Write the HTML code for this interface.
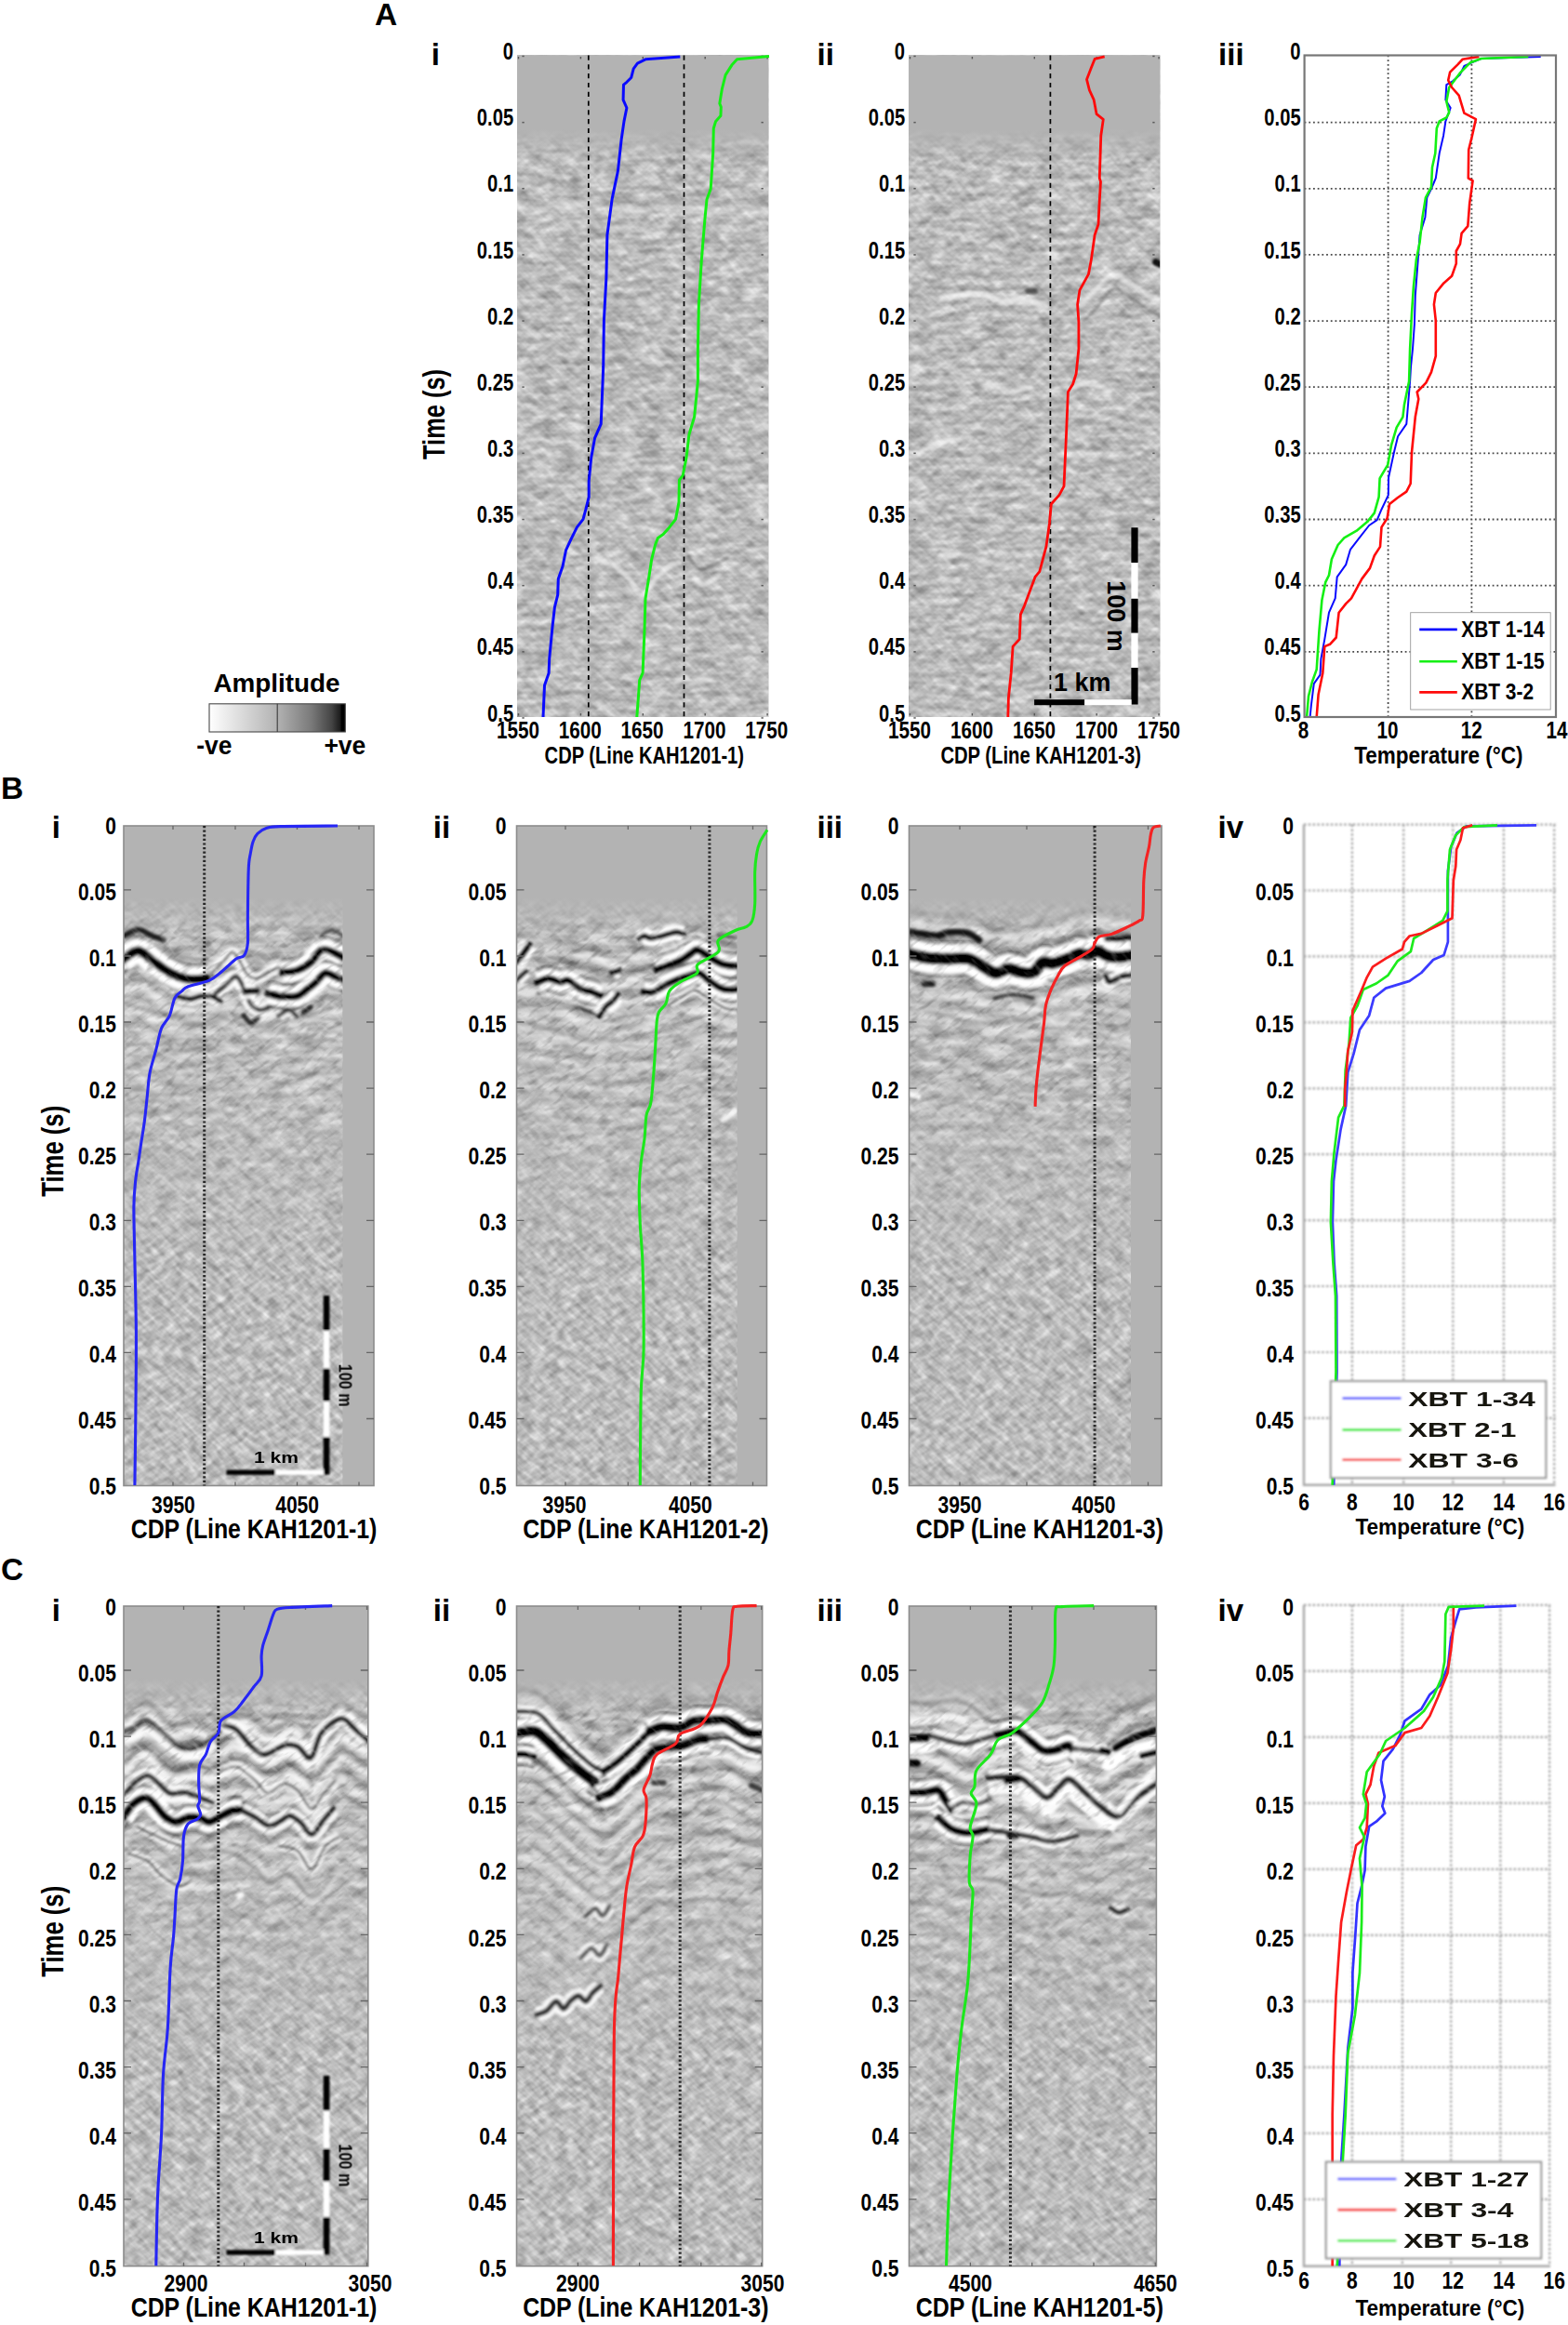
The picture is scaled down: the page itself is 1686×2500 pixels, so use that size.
<!DOCTYPE html>
<html><head><meta charset="utf-8"><title>Figure</title>
<style>
html,body{margin:0;padding:0;background:#fff;}
body{width:1686px;height:2500px;overflow:hidden;}
svg{display:block;font-family:'Liberation Sans', Arial, Helvetica, sans-serif;font-weight:bold;}
</style></head><body>
<svg width="1686" height="2500" viewBox="0 0 1686 2500">
<rect width="1686" height="2500" fill="#fff"/>
<defs>
<filter id="bl08" x="-5%" y="-5%" width="110%" height="110%"><feGaussianBlur stdDeviation="0.8"/></filter>
<filter id="bl12" x="-5%" y="-5%" width="110%" height="110%"><feGaussianBlur stdDeviation="1.2"/></filter>
<filter id="bl16" x="-5%" y="-5%" width="110%" height="110%"><feGaussianBlur stdDeviation="1.6"/></filter>
<filter id="bl25" x="-5%" y="-5%" width="110%" height="110%"><feGaussianBlur stdDeviation="2.5"/></filter>
<filter id="blc" filterUnits="userSpaceOnUse" x="0" y="0" width="1686" height="2500"><feGaussianBlur stdDeviation="0.7"/></filter>
<filter id="bl05" filterUnits="userSpaceOnUse" x="1380" y="860" width="306" height="1600"><feGaussianBlur stdDeviation="0.55"/></filter>
<filter id="bltxt" x="-5%" y="-20%" width="110%" height="140%"><feGaussianBlur stdDeviation="0.6"/></filter>
<linearGradient id="amp" x1="0" x2="1" y1="0" y2="0">
<stop offset="0" stop-color="#fff"/><stop offset="0.5" stop-color="#b2b2b2"/><stop offset="0.75" stop-color="#7a7a7a"/><stop offset="0.9" stop-color="#444"/><stop offset="0.965" stop-color="#1a1a1a"/><stop offset="0.97" stop-color="#000"/><stop offset="1" stop-color="#000"/>
</linearGradient>
<linearGradient id="fadeA" x1="0" x2="0" y1="0" y2="1">
<stop offset="0" stop-color="#b3b3b3" stop-opacity="1"/><stop offset="0.70" stop-color="#b3b3b3" stop-opacity="1"/><stop offset="1" stop-color="#b3b3b3" stop-opacity="0"/>
</linearGradient>
<linearGradient id="deep" x1="0" x2="0" y1="0" y2="1">
<stop offset="0" stop-color="#bababa" stop-opacity="0"/><stop offset="1" stop-color="#bababa" stop-opacity="0.45"/>
</linearGradient>

<filter id="nhAi" x="0" y="0" width="100%" height="100%" color-interpolation-filters="sRGB"><feTurbulence type="fractalNoise" baseFrequency="0.035 0.14" numOctaves="2" seed="10"/><feColorMatrix type="matrix" values="1.0 0 0 0 0.235  1.0 0 0 0 0.235  1.0 0 0 0 0.235  0 0 0 0 1"/></filter>
<filter id="n1Ai" x="0" y="0" width="100%" height="100%" color-interpolation-filters="sRGB"><feTurbulence type="fractalNoise" baseFrequency="0.07 0.17" numOctaves="2" seed="3"/><feColorMatrix type="matrix" values="0.68 0 0 0 0.395  0.68 0 0 0 0.395  0.68 0 0 0 0.395  0 0 0 0 1"/></filter>
<filter id="n2Ai" x="0" y="0" width="100%" height="100%" color-interpolation-filters="sRGB"><feTurbulence type="fractalNoise" baseFrequency="0.05 0.19" numOctaves="2" seed="53"/><feColorMatrix type="matrix" values="0.68 0 0 0 0.395  0.68 0 0 0 0.395  0.68 0 0 0 0.395  0 0 0 0 1"/></filter>
<clipPath id="cpAi"><rect x="556.0" y="59.5" width="270.2" height="711.5"/></clipPath>
<clipPath id="cfAi"><rect x="556.0" y="59.5" width="270.2" height="711.5"/></clipPath>
<filter id="bl08Ai" filterUnits="userSpaceOnUse" x="546.0" y="49.5" width="290.2" height="731.5"><feGaussianBlur stdDeviation="0.8"/></filter>
<filter id="bl12Ai" filterUnits="userSpaceOnUse" x="546.0" y="49.5" width="290.2" height="731.5"><feGaussianBlur stdDeviation="1.2"/></filter>
<filter id="bl16Ai" filterUnits="userSpaceOnUse" x="546.0" y="49.5" width="290.2" height="731.5"><feGaussianBlur stdDeviation="1.35"/></filter>
<filter id="bl20Ai" filterUnits="userSpaceOnUse" x="546.0" y="49.5" width="290.2" height="731.5"><feGaussianBlur stdDeviation="2.0"/></filter>
<filter id="bl25Ai" filterUnits="userSpaceOnUse" x="546.0" y="49.5" width="290.2" height="731.5"><feGaussianBlur stdDeviation="2.6"/></filter>
<linearGradient id="dgAi" gradientUnits="userSpaceOnUse" x1="0" x2="0" y1="259.7" y2="487.4"><stop offset="0" stop-color="#bbb" stop-opacity="0"/><stop offset="1" stop-color="#bbb" stop-opacity="0.55"/></linearGradient>
<filter id="nhAii" x="0" y="0" width="100%" height="100%" color-interpolation-filters="sRGB"><feTurbulence type="fractalNoise" baseFrequency="0.035 0.14" numOctaves="2" seed="18"/><feColorMatrix type="matrix" values="1.0 0 0 0 0.235  1.0 0 0 0 0.235  1.0 0 0 0 0.235  0 0 0 0 1"/></filter>
<filter id="n1Aii" x="0" y="0" width="100%" height="100%" color-interpolation-filters="sRGB"><feTurbulence type="fractalNoise" baseFrequency="0.07 0.17" numOctaves="2" seed="11"/><feColorMatrix type="matrix" values="0.68 0 0 0 0.395  0.68 0 0 0 0.395  0.68 0 0 0 0.395  0 0 0 0 1"/></filter>
<filter id="n2Aii" x="0" y="0" width="100%" height="100%" color-interpolation-filters="sRGB"><feTurbulence type="fractalNoise" baseFrequency="0.05 0.19" numOctaves="2" seed="61"/><feColorMatrix type="matrix" values="0.68 0 0 0 0.395  0.68 0 0 0 0.395  0.68 0 0 0 0.395  0 0 0 0 1"/></filter>
<clipPath id="cpAii"><rect x="977.0" y="59.5" width="270.2" height="711.5"/></clipPath>
<clipPath id="cfAii"><rect x="977.0" y="59.5" width="270.2" height="711.5"/></clipPath>
<filter id="bl08Aii" filterUnits="userSpaceOnUse" x="967.0" y="49.5" width="290.2" height="731.5"><feGaussianBlur stdDeviation="0.8"/></filter>
<filter id="bl12Aii" filterUnits="userSpaceOnUse" x="967.0" y="49.5" width="290.2" height="731.5"><feGaussianBlur stdDeviation="1.2"/></filter>
<filter id="bl16Aii" filterUnits="userSpaceOnUse" x="967.0" y="49.5" width="290.2" height="731.5"><feGaussianBlur stdDeviation="1.35"/></filter>
<filter id="bl20Aii" filterUnits="userSpaceOnUse" x="967.0" y="49.5" width="290.2" height="731.5"><feGaussianBlur stdDeviation="2.0"/></filter>
<filter id="bl25Aii" filterUnits="userSpaceOnUse" x="967.0" y="49.5" width="290.2" height="731.5"><feGaussianBlur stdDeviation="2.6"/></filter>
<linearGradient id="dgAii" gradientUnits="userSpaceOnUse" x1="0" x2="0" y1="259.7" y2="487.4"><stop offset="0" stop-color="#bbb" stop-opacity="0"/><stop offset="1" stop-color="#bbb" stop-opacity="0.55"/></linearGradient>
<filter id="sdBi" x="0" y="0" width="100%" height="100%" color-interpolation-filters="sRGB"><feTurbulence type="fractalNoise" baseFrequency="0.06 0.18" numOctaves="2" seed="26"/><feColorMatrix type="matrix" values="0 0 0 0 0  0 0 0 0 0  0 0 0 0 0  -0.9 0 0 0 0.450"/></filter>
<filter id="swBi" x="0" y="0" width="100%" height="100%" color-interpolation-filters="sRGB"><feTurbulence type="fractalNoise" baseFrequency="0.06 0.18" numOctaves="2" seed="38"/><feColorMatrix type="matrix" values="0 0 0 0 1  0 0 0 0 1  0 0 0 0 1  0.9 0 0 0 -0.450"/></filter>
<filter id="nhBi" x="0" y="0" width="100%" height="100%" color-interpolation-filters="sRGB"><feTurbulence type="fractalNoise" baseFrequency="0.035 0.12" numOctaves="2" seed="12"/><feColorMatrix type="matrix" values="0.6 0 0 0 0.445  0.6 0 0 0 0.445  0.6 0 0 0 0.445  0 0 0 0 1"/></filter>
<linearGradient id="mgBi" gradientUnits="userSpaceOnUse" x1="0" x2="0" y1="971.1" y2="1369.1"><stop offset="0" stop-color="#000"/><stop offset="0.1" stop-color="#ccc"/><stop offset="0.45" stop-color="#aaa"/><stop offset="1" stop-color="#000"/></linearGradient>
<mask id="mkBi" maskUnits="userSpaceOnUse" x="133.0" y="888.0" width="269.0" height="709.5"><rect x="133.0" y="971.1" width="269.0" height="398.0" fill="url(#mgBi)"/></mask>
<filter id="n1Bi" x="0" y="0" width="100%" height="100%" color-interpolation-filters="sRGB"><feTurbulence type="fractalNoise" baseFrequency="0.07 0.17" numOctaves="2" seed="5"/><feColorMatrix type="matrix" values="0.62 0 0 0 0.425  0.62 0 0 0 0.425  0.62 0 0 0 0.425  0 0 0 0 1"/></filter>
<filter id="n2Bi" x="0" y="0" width="100%" height="100%" color-interpolation-filters="sRGB"><feTurbulence type="fractalNoise" baseFrequency="0.05 0.19" numOctaves="2" seed="55"/><feColorMatrix type="matrix" values="0.62 0 0 0 0.425  0.62 0 0 0 0.425  0.62 0 0 0 0.425  0 0 0 0 1"/></filter>
<clipPath id="cpBi"><rect x="133.0" y="888.0" width="235.3" height="709.5"/></clipPath>
<clipPath id="cfBi"><rect x="133.0" y="888.0" width="269.0" height="709.5"/></clipPath>
<filter id="bl08Bi" filterUnits="userSpaceOnUse" x="123.0" y="878.0" width="289.0" height="729.5"><feGaussianBlur stdDeviation="0.8"/></filter>
<filter id="bl12Bi" filterUnits="userSpaceOnUse" x="123.0" y="878.0" width="289.0" height="729.5"><feGaussianBlur stdDeviation="1.2"/></filter>
<filter id="bl16Bi" filterUnits="userSpaceOnUse" x="123.0" y="878.0" width="289.0" height="729.5"><feGaussianBlur stdDeviation="1.35"/></filter>
<filter id="bl20Bi" filterUnits="userSpaceOnUse" x="123.0" y="878.0" width="289.0" height="729.5"><feGaussianBlur stdDeviation="2.0"/></filter>
<filter id="bl25Bi" filterUnits="userSpaceOnUse" x="123.0" y="878.0" width="289.0" height="729.5"><feGaussianBlur stdDeviation="2.6"/></filter>
<linearGradient id="dgBi" gradientUnits="userSpaceOnUse" x1="0" x2="0" y1="1084.8" y2="1312.3"><stop offset="0" stop-color="#bbb" stop-opacity="0"/><stop offset="1" stop-color="#bbb" stop-opacity="0.55"/></linearGradient>
<filter id="sdBii" x="0" y="0" width="100%" height="100%" color-interpolation-filters="sRGB"><feTurbulence type="fractalNoise" baseFrequency="0.06 0.18" numOctaves="2" seed="28"/><feColorMatrix type="matrix" values="0 0 0 0 0  0 0 0 0 0  0 0 0 0 0  -0.9 0 0 0 0.450"/></filter>
<filter id="swBii" x="0" y="0" width="100%" height="100%" color-interpolation-filters="sRGB"><feTurbulence type="fractalNoise" baseFrequency="0.06 0.18" numOctaves="2" seed="40"/><feColorMatrix type="matrix" values="0 0 0 0 1  0 0 0 0 1  0 0 0 0 1  0.9 0 0 0 -0.450"/></filter>
<filter id="nhBii" x="0" y="0" width="100%" height="100%" color-interpolation-filters="sRGB"><feTurbulence type="fractalNoise" baseFrequency="0.035 0.12" numOctaves="2" seed="14"/><feColorMatrix type="matrix" values="0.6 0 0 0 0.445  0.6 0 0 0 0.445  0.6 0 0 0 0.445  0 0 0 0 1"/></filter>
<linearGradient id="mgBii" gradientUnits="userSpaceOnUse" x1="0" x2="0" y1="971.1" y2="1369.1"><stop offset="0" stop-color="#000"/><stop offset="0.1" stop-color="#ccc"/><stop offset="0.45" stop-color="#aaa"/><stop offset="1" stop-color="#000"/></linearGradient>
<mask id="mkBii" maskUnits="userSpaceOnUse" x="555.5" y="888.0" width="269.0" height="709.5"><rect x="555.5" y="971.1" width="269.0" height="398.0" fill="url(#mgBii)"/></mask>
<filter id="n1Bii" x="0" y="0" width="100%" height="100%" color-interpolation-filters="sRGB"><feTurbulence type="fractalNoise" baseFrequency="0.07 0.17" numOctaves="2" seed="7"/><feColorMatrix type="matrix" values="0.62 0 0 0 0.425  0.62 0 0 0 0.425  0.62 0 0 0 0.425  0 0 0 0 1"/></filter>
<filter id="n2Bii" x="0" y="0" width="100%" height="100%" color-interpolation-filters="sRGB"><feTurbulence type="fractalNoise" baseFrequency="0.05 0.19" numOctaves="2" seed="57"/><feColorMatrix type="matrix" values="0.62 0 0 0 0.425  0.62 0 0 0 0.425  0.62 0 0 0 0.425  0 0 0 0 1"/></filter>
<clipPath id="cpBii"><rect x="555.5" y="888.0" width="237.0" height="709.5"/></clipPath>
<clipPath id="cfBii"><rect x="555.5" y="888.0" width="269.0" height="709.5"/></clipPath>
<filter id="bl08Bii" filterUnits="userSpaceOnUse" x="545.5" y="878.0" width="289.0" height="729.5"><feGaussianBlur stdDeviation="0.8"/></filter>
<filter id="bl12Bii" filterUnits="userSpaceOnUse" x="545.5" y="878.0" width="289.0" height="729.5"><feGaussianBlur stdDeviation="1.2"/></filter>
<filter id="bl16Bii" filterUnits="userSpaceOnUse" x="545.5" y="878.0" width="289.0" height="729.5"><feGaussianBlur stdDeviation="1.35"/></filter>
<filter id="bl20Bii" filterUnits="userSpaceOnUse" x="545.5" y="878.0" width="289.0" height="729.5"><feGaussianBlur stdDeviation="2.0"/></filter>
<filter id="bl25Bii" filterUnits="userSpaceOnUse" x="545.5" y="878.0" width="289.0" height="729.5"><feGaussianBlur stdDeviation="2.6"/></filter>
<linearGradient id="dgBii" gradientUnits="userSpaceOnUse" x1="0" x2="0" y1="1084.8" y2="1312.3"><stop offset="0" stop-color="#bbb" stop-opacity="0"/><stop offset="1" stop-color="#bbb" stop-opacity="0.55"/></linearGradient>
<filter id="sdBiii" x="0" y="0" width="100%" height="100%" color-interpolation-filters="sRGB"><feTurbulence type="fractalNoise" baseFrequency="0.06 0.18" numOctaves="2" seed="30"/><feColorMatrix type="matrix" values="0 0 0 0 0  0 0 0 0 0  0 0 0 0 0  -0.9 0 0 0 0.450"/></filter>
<filter id="swBiii" x="0" y="0" width="100%" height="100%" color-interpolation-filters="sRGB"><feTurbulence type="fractalNoise" baseFrequency="0.06 0.18" numOctaves="2" seed="42"/><feColorMatrix type="matrix" values="0 0 0 0 1  0 0 0 0 1  0 0 0 0 1  0.9 0 0 0 -0.450"/></filter>
<filter id="nhBiii" x="0" y="0" width="100%" height="100%" color-interpolation-filters="sRGB"><feTurbulence type="fractalNoise" baseFrequency="0.035 0.12" numOctaves="2" seed="16"/><feColorMatrix type="matrix" values="0.6 0 0 0 0.445  0.6 0 0 0 0.445  0.6 0 0 0 0.445  0 0 0 0 1"/></filter>
<linearGradient id="mgBiii" gradientUnits="userSpaceOnUse" x1="0" x2="0" y1="971.1" y2="1369.1"><stop offset="0" stop-color="#000"/><stop offset="0.1" stop-color="#ccc"/><stop offset="0.45" stop-color="#aaa"/><stop offset="1" stop-color="#000"/></linearGradient>
<mask id="mkBiii" maskUnits="userSpaceOnUse" x="977.5" y="888.0" width="271.5" height="709.5"><rect x="977.5" y="971.1" width="271.5" height="398.0" fill="url(#mgBiii)"/></mask>
<filter id="n1Biii" x="0" y="0" width="100%" height="100%" color-interpolation-filters="sRGB"><feTurbulence type="fractalNoise" baseFrequency="0.07 0.17" numOctaves="2" seed="9"/><feColorMatrix type="matrix" values="0.62 0 0 0 0.425  0.62 0 0 0 0.425  0.62 0 0 0 0.425  0 0 0 0 1"/></filter>
<filter id="n2Biii" x="0" y="0" width="100%" height="100%" color-interpolation-filters="sRGB"><feTurbulence type="fractalNoise" baseFrequency="0.05 0.19" numOctaves="2" seed="59"/><feColorMatrix type="matrix" values="0.62 0 0 0 0.425  0.62 0 0 0 0.425  0.62 0 0 0 0.425  0 0 0 0 1"/></filter>
<clipPath id="cpBiii"><rect x="977.5" y="888.0" width="238.5" height="709.5"/></clipPath>
<clipPath id="cfBiii"><rect x="977.5" y="888.0" width="271.5" height="709.5"/></clipPath>
<filter id="bl08Biii" filterUnits="userSpaceOnUse" x="967.5" y="878.0" width="291.5" height="729.5"><feGaussianBlur stdDeviation="0.8"/></filter>
<filter id="bl12Biii" filterUnits="userSpaceOnUse" x="967.5" y="878.0" width="291.5" height="729.5"><feGaussianBlur stdDeviation="1.2"/></filter>
<filter id="bl16Biii" filterUnits="userSpaceOnUse" x="967.5" y="878.0" width="291.5" height="729.5"><feGaussianBlur stdDeviation="1.35"/></filter>
<filter id="bl20Biii" filterUnits="userSpaceOnUse" x="967.5" y="878.0" width="291.5" height="729.5"><feGaussianBlur stdDeviation="2.0"/></filter>
<filter id="bl25Biii" filterUnits="userSpaceOnUse" x="967.5" y="878.0" width="291.5" height="729.5"><feGaussianBlur stdDeviation="2.6"/></filter>
<linearGradient id="dgBiii" gradientUnits="userSpaceOnUse" x1="0" x2="0" y1="1084.8" y2="1312.3"><stop offset="0" stop-color="#bbb" stop-opacity="0"/><stop offset="1" stop-color="#bbb" stop-opacity="0.55"/></linearGradient>
<filter id="sdCi" x="0" y="0" width="100%" height="100%" color-interpolation-filters="sRGB"><feTurbulence type="fractalNoise" baseFrequency="0.06 0.18" numOctaves="2" seed="34"/><feColorMatrix type="matrix" values="0 0 0 0 0  0 0 0 0 0  0 0 0 0 0  -0.9 0 0 0 0.450"/></filter>
<filter id="swCi" x="0" y="0" width="100%" height="100%" color-interpolation-filters="sRGB"><feTurbulence type="fractalNoise" baseFrequency="0.06 0.18" numOctaves="2" seed="46"/><feColorMatrix type="matrix" values="0 0 0 0 1  0 0 0 0 1  0 0 0 0 1  0.9 0 0 0 -0.450"/></filter>
<filter id="nhCi" x="0" y="0" width="100%" height="100%" color-interpolation-filters="sRGB"><feTurbulence type="fractalNoise" baseFrequency="0.035 0.12" numOctaves="2" seed="20"/><feColorMatrix type="matrix" values="0.6 0 0 0 0.445  0.6 0 0 0 0.445  0.6 0 0 0 0.445  0 0 0 0 1"/></filter>
<linearGradient id="mgCi" gradientUnits="userSpaceOnUse" x1="0" x2="0" y1="1810.2" y2="2208.4"><stop offset="0" stop-color="#000"/><stop offset="0.1" stop-color="#ccc"/><stop offset="0.45" stop-color="#aaa"/><stop offset="1" stop-color="#000"/></linearGradient>
<mask id="mkCi" maskUnits="userSpaceOnUse" x="133.0" y="1727.0" width="262.8" height="709.7"><rect x="133.0" y="1810.2" width="262.8" height="398.2" fill="url(#mgCi)"/></mask>
<filter id="n1Ci" x="0" y="0" width="100%" height="100%" color-interpolation-filters="sRGB"><feTurbulence type="fractalNoise" baseFrequency="0.07 0.17" numOctaves="2" seed="13"/><feColorMatrix type="matrix" values="0.62 0 0 0 0.425  0.62 0 0 0 0.425  0.62 0 0 0 0.425  0 0 0 0 1"/></filter>
<filter id="n2Ci" x="0" y="0" width="100%" height="100%" color-interpolation-filters="sRGB"><feTurbulence type="fractalNoise" baseFrequency="0.05 0.19" numOctaves="2" seed="63"/><feColorMatrix type="matrix" values="0.62 0 0 0 0.425  0.62 0 0 0 0.425  0.62 0 0 0 0.425  0 0 0 0 1"/></filter>
<clipPath id="cpCi"><rect x="133.0" y="1727.0" width="262.8" height="709.7"/></clipPath>
<clipPath id="cfCi"><rect x="133.0" y="1727.0" width="262.8" height="709.7"/></clipPath>
<filter id="bl08Ci" filterUnits="userSpaceOnUse" x="123.0" y="1717.0" width="282.8" height="729.7"><feGaussianBlur stdDeviation="0.8"/></filter>
<filter id="bl12Ci" filterUnits="userSpaceOnUse" x="123.0" y="1717.0" width="282.8" height="729.7"><feGaussianBlur stdDeviation="1.2"/></filter>
<filter id="bl16Ci" filterUnits="userSpaceOnUse" x="123.0" y="1717.0" width="282.8" height="729.7"><feGaussianBlur stdDeviation="1.35"/></filter>
<filter id="bl20Ci" filterUnits="userSpaceOnUse" x="123.0" y="1717.0" width="282.8" height="729.7"><feGaussianBlur stdDeviation="2.0"/></filter>
<filter id="bl25Ci" filterUnits="userSpaceOnUse" x="123.0" y="1717.0" width="282.8" height="729.7"><feGaussianBlur stdDeviation="2.6"/></filter>
<linearGradient id="dgCi" gradientUnits="userSpaceOnUse" x1="0" x2="0" y1="1924.0" y2="2151.5"><stop offset="0" stop-color="#bbb" stop-opacity="0"/><stop offset="1" stop-color="#bbb" stop-opacity="0.55"/></linearGradient>
<filter id="sdCii" x="0" y="0" width="100%" height="100%" color-interpolation-filters="sRGB"><feTurbulence type="fractalNoise" baseFrequency="0.06 0.18" numOctaves="2" seed="38"/><feColorMatrix type="matrix" values="0 0 0 0 0  0 0 0 0 0  0 0 0 0 0  -0.9 0 0 0 0.450"/></filter>
<filter id="swCii" x="0" y="0" width="100%" height="100%" color-interpolation-filters="sRGB"><feTurbulence type="fractalNoise" baseFrequency="0.06 0.18" numOctaves="2" seed="50"/><feColorMatrix type="matrix" values="0 0 0 0 1  0 0 0 0 1  0 0 0 0 1  0.9 0 0 0 -0.450"/></filter>
<filter id="nhCii" x="0" y="0" width="100%" height="100%" color-interpolation-filters="sRGB"><feTurbulence type="fractalNoise" baseFrequency="0.035 0.12" numOctaves="2" seed="24"/><feColorMatrix type="matrix" values="0.6 0 0 0 0.445  0.6 0 0 0 0.445  0.6 0 0 0 0.445  0 0 0 0 1"/></filter>
<linearGradient id="mgCii" gradientUnits="userSpaceOnUse" x1="0" x2="0" y1="1810.2" y2="2208.4"><stop offset="0" stop-color="#000"/><stop offset="0.1" stop-color="#ccc"/><stop offset="0.45" stop-color="#aaa"/><stop offset="1" stop-color="#000"/></linearGradient>
<mask id="mkCii" maskUnits="userSpaceOnUse" x="555.5" y="1727.0" width="264.2" height="709.7"><rect x="555.5" y="1810.2" width="264.2" height="398.2" fill="url(#mgCii)"/></mask>
<filter id="n1Cii" x="0" y="0" width="100%" height="100%" color-interpolation-filters="sRGB"><feTurbulence type="fractalNoise" baseFrequency="0.07 0.17" numOctaves="2" seed="17"/><feColorMatrix type="matrix" values="0.62 0 0 0 0.425  0.62 0 0 0 0.425  0.62 0 0 0 0.425  0 0 0 0 1"/></filter>
<filter id="n2Cii" x="0" y="0" width="100%" height="100%" color-interpolation-filters="sRGB"><feTurbulence type="fractalNoise" baseFrequency="0.05 0.19" numOctaves="2" seed="67"/><feColorMatrix type="matrix" values="0.62 0 0 0 0.425  0.62 0 0 0 0.425  0.62 0 0 0 0.425  0 0 0 0 1"/></filter>
<clipPath id="cpCii"><rect x="555.5" y="1727.0" width="264.2" height="709.7"/></clipPath>
<clipPath id="cfCii"><rect x="555.5" y="1727.0" width="264.2" height="709.7"/></clipPath>
<filter id="bl08Cii" filterUnits="userSpaceOnUse" x="545.5" y="1717.0" width="284.2" height="729.7"><feGaussianBlur stdDeviation="0.8"/></filter>
<filter id="bl12Cii" filterUnits="userSpaceOnUse" x="545.5" y="1717.0" width="284.2" height="729.7"><feGaussianBlur stdDeviation="1.2"/></filter>
<filter id="bl16Cii" filterUnits="userSpaceOnUse" x="545.5" y="1717.0" width="284.2" height="729.7"><feGaussianBlur stdDeviation="1.35"/></filter>
<filter id="bl20Cii" filterUnits="userSpaceOnUse" x="545.5" y="1717.0" width="284.2" height="729.7"><feGaussianBlur stdDeviation="2.0"/></filter>
<filter id="bl25Cii" filterUnits="userSpaceOnUse" x="545.5" y="1717.0" width="284.2" height="729.7"><feGaussianBlur stdDeviation="2.6"/></filter>
<linearGradient id="dgCii" gradientUnits="userSpaceOnUse" x1="0" x2="0" y1="1924.0" y2="2151.5"><stop offset="0" stop-color="#bbb" stop-opacity="0"/><stop offset="1" stop-color="#bbb" stop-opacity="0.55"/></linearGradient>
<filter id="sdCiii" x="0" y="0" width="100%" height="100%" color-interpolation-filters="sRGB"><feTurbulence type="fractalNoise" baseFrequency="0.06 0.18" numOctaves="2" seed="40"/><feColorMatrix type="matrix" values="0 0 0 0 0  0 0 0 0 0  0 0 0 0 0  -0.9 0 0 0 0.450"/></filter>
<filter id="swCiii" x="0" y="0" width="100%" height="100%" color-interpolation-filters="sRGB"><feTurbulence type="fractalNoise" baseFrequency="0.06 0.18" numOctaves="2" seed="52"/><feColorMatrix type="matrix" values="0 0 0 0 1  0 0 0 0 1  0 0 0 0 1  0.9 0 0 0 -0.450"/></filter>
<filter id="nhCiii" x="0" y="0" width="100%" height="100%" color-interpolation-filters="sRGB"><feTurbulence type="fractalNoise" baseFrequency="0.035 0.12" numOctaves="2" seed="26"/><feColorMatrix type="matrix" values="0.6 0 0 0 0.445  0.6 0 0 0 0.445  0.6 0 0 0 0.445  0 0 0 0 1"/></filter>
<linearGradient id="mgCiii" gradientUnits="userSpaceOnUse" x1="0" x2="0" y1="1810.2" y2="2208.4"><stop offset="0" stop-color="#000"/><stop offset="0.1" stop-color="#ccc"/><stop offset="0.45" stop-color="#aaa"/><stop offset="1" stop-color="#000"/></linearGradient>
<mask id="mkCiii" maskUnits="userSpaceOnUse" x="977.5" y="1727.0" width="265.9" height="709.7"><rect x="977.5" y="1810.2" width="265.9" height="398.2" fill="url(#mgCiii)"/></mask>
<filter id="n1Ciii" x="0" y="0" width="100%" height="100%" color-interpolation-filters="sRGB"><feTurbulence type="fractalNoise" baseFrequency="0.07 0.17" numOctaves="2" seed="19"/><feColorMatrix type="matrix" values="0.62 0 0 0 0.425  0.62 0 0 0 0.425  0.62 0 0 0 0.425  0 0 0 0 1"/></filter>
<filter id="n2Ciii" x="0" y="0" width="100%" height="100%" color-interpolation-filters="sRGB"><feTurbulence type="fractalNoise" baseFrequency="0.05 0.19" numOctaves="2" seed="69"/><feColorMatrix type="matrix" values="0.62 0 0 0 0.425  0.62 0 0 0 0.425  0.62 0 0 0 0.425  0 0 0 0 1"/></filter>
<clipPath id="cpCiii"><rect x="977.5" y="1727.0" width="265.9" height="709.7"/></clipPath>
<clipPath id="cfCiii"><rect x="977.5" y="1727.0" width="265.9" height="709.7"/></clipPath>
<filter id="bl08Ciii" filterUnits="userSpaceOnUse" x="967.5" y="1717.0" width="285.9" height="729.7"><feGaussianBlur stdDeviation="0.8"/></filter>
<filter id="bl12Ciii" filterUnits="userSpaceOnUse" x="967.5" y="1717.0" width="285.9" height="729.7"><feGaussianBlur stdDeviation="1.2"/></filter>
<filter id="bl16Ciii" filterUnits="userSpaceOnUse" x="967.5" y="1717.0" width="285.9" height="729.7"><feGaussianBlur stdDeviation="1.35"/></filter>
<filter id="bl20Ciii" filterUnits="userSpaceOnUse" x="967.5" y="1717.0" width="285.9" height="729.7"><feGaussianBlur stdDeviation="2.0"/></filter>
<filter id="bl25Ciii" filterUnits="userSpaceOnUse" x="967.5" y="1717.0" width="285.9" height="729.7"><feGaussianBlur stdDeviation="2.6"/></filter>
<linearGradient id="dgCiii" gradientUnits="userSpaceOnUse" x1="0" x2="0" y1="1924.0" y2="2151.5"><stop offset="0" stop-color="#bbb" stop-opacity="0"/><stop offset="1" stop-color="#bbb" stop-opacity="0.55"/></linearGradient>
</defs>
<g id="panel-Ai">
<rect x="556.0" y="59.5" width="270.2" height="711.5" fill="#b3b3b3"/>
<g clip-path="url(#cpAi)">
<rect x="556.0" y="59.5" width="270.2" height="711.5" fill="#b9b9b9"/>
<g transform="rotate(-35 691.1 415.2)"><rect x="300.6" y="24.7" width="781.1" height="781.1" filter="url(#n1Ai)"/></g>
<g transform="rotate(43 691.1 415.2)" opacity="0.5"><rect x="300.6" y="24.7" width="781.1" height="781.1" filter="url(#n2Ai)"/></g>
<rect x="556.0" y="59.5" width="270.2" height="711.5" filter="url(#nhAi)" opacity="0.35"/>
<g filter="url(#bl25Ai)">
<path d="M556.0,215.0 C559.2,215.7 567.7,219.0 575.0,219.0 C582.3,219.0 589.2,215.3 600.0,215.0 C610.8,214.7 626.7,216.0 640.0,217.0 C653.3,218.0 666.7,221.3 680.0,221.0 C693.3,220.7 706.7,215.0 720.0,215.0 C733.3,215.0 748.3,220.7 760.0,221.0 C771.7,221.3 778.8,217.3 790.0,217.0 C801.2,216.7 820.8,218.7 827.0,219.0" fill="none" stroke="#000" stroke-opacity="0.14" stroke-width="6.0" stroke-linejoin="round" stroke-linecap="round"/>
<path d="M556.0,222.0 C559.2,222.7 567.7,226.0 575.0,226.0 C582.3,226.0 589.2,222.3 600.0,222.0 C610.8,221.7 626.7,223.0 640.0,224.0 C653.3,225.0 666.7,228.3 680.0,228.0 C693.3,227.7 706.7,222.0 720.0,222.0 C733.3,222.0 748.3,227.7 760.0,228.0 C771.7,228.3 778.8,224.3 790.0,224.0 C801.2,223.7 820.8,225.7 827.0,226.0" fill="none" stroke="#fff" stroke-opacity="0.3" stroke-width="8.0" stroke-linejoin="round" stroke-linecap="butt"/>
</g>
<g filter="url(#bl16Ai)">
<path d="M640.0,600.0 C643.3,601.3 654.0,604.3 660.0,608.0 C666.0,611.7 671.0,616.7 676.0,622.0 C681.0,627.3 685.2,640.0 690.0,640.0 C694.8,640.0 699.7,627.3 705.0,622.0 C710.3,616.7 717.3,610.8 722.0,608.0 C726.7,605.2 731.2,605.5 733.0,605.0" fill="none" stroke="#fff" stroke-opacity="0.5" stroke-width="5.6" stroke-linejoin="round" stroke-linecap="butt"/>
<path d="M740.0,598.0 C742.0,600.3 747.0,610.7 752.0,612.0 C757.0,613.3 765.0,608.0 770.0,606.0 C775.0,604.0 780.0,601.0 782.0,600.0" fill="none" stroke="#000" stroke-opacity="0.3" stroke-width="3" stroke-linejoin="round" stroke-linecap="round"/>
<path d="M745.0,620.0 C747.0,621.3 752.0,628.3 757.0,628.0 C762.0,627.7 772.0,619.7 775.0,618.0" fill="none" stroke="#fff" stroke-opacity="0.5" stroke-width="5.6" stroke-linejoin="round" stroke-linecap="butt"/>
</g>
</g>
<rect x="556.0" y="59.5" width="270.2" height="113.4" fill="url(#fadeA)"/>
</g>
<g id="panel-Aii">
<rect x="977.0" y="59.5" width="270.2" height="711.5" fill="#b3b3b3"/>
<g clip-path="url(#cpAii)">
<rect x="977.0" y="59.5" width="270.2" height="711.5" fill="#b9b9b9"/>
<g transform="rotate(-35 1112.1 415.2)"><rect x="721.6" y="24.7" width="781.1" height="781.1" filter="url(#n1Aii)"/></g>
<g transform="rotate(43 1112.1 415.2)" opacity="0.5"><rect x="721.6" y="24.7" width="781.1" height="781.1" filter="url(#n2Aii)"/></g>
<rect x="977.0" y="59.5" width="270.2" height="711.5" filter="url(#nhAii)" opacity="0.35"/>
<g filter="url(#bl16Aii)">
<path d="M1010.0,322.0 C1015.0,321.0 1031.7,316.7 1040.0,316.0 C1048.3,315.3 1053.3,316.7 1060.0,318.0 C1066.7,319.3 1073.3,323.3 1080.0,324.0 C1086.7,324.7 1092.0,321.0 1100.0,322.0 C1108.0,323.0 1123.3,328.7 1128.0,330.0" fill="none" stroke="#fff" stroke-opacity="0.6" stroke-width="6.2" stroke-linejoin="round" stroke-linecap="butt"/>
<path d="M1105.0,313.0 L1113.0,313.0" fill="none" stroke="#000" stroke-opacity="0.6" stroke-width="6.0" stroke-linejoin="round" stroke-linecap="round"/>
<path d="M1160.0,330.0 C1162.5,327.5 1169.2,320.8 1175.0,315.0 C1180.8,309.2 1188.3,296.7 1195.0,295.0 C1201.7,293.3 1206.3,300.0 1215.0,305.0 C1223.7,310.0 1241.7,321.7 1247.0,325.0" fill="none" stroke="#fff" stroke-opacity="0.5" stroke-width="5.8" stroke-linejoin="round" stroke-linecap="butt"/>
<path d="M1165.0,345.0 C1167.5,342.5 1174.7,335.8 1180.0,330.0 C1185.3,324.2 1191.2,311.7 1197.0,310.0 C1202.8,308.3 1206.7,315.0 1215.0,320.0 C1223.3,325.0 1241.7,336.7 1247.0,340.0" fill="none" stroke="#000" stroke-opacity="0.25" stroke-width="3" stroke-linejoin="round" stroke-linecap="round"/>
<path d="M1060.0,412.0 C1064.2,413.3 1076.7,419.3 1085.0,420.0 C1093.3,420.7 1105.8,416.7 1110.0,416.0" fill="none" stroke="#fff" stroke-opacity="0.5" stroke-width="5.6" stroke-linejoin="round" stroke-linecap="butt"/>
<path d="M1148.0,420.0 C1150.8,418.7 1158.8,412.7 1165.0,412.0 C1171.2,411.3 1180.0,413.3 1185.0,416.0 C1190.0,418.7 1193.3,426.0 1195.0,428.0" fill="none" stroke="#fff" stroke-opacity="0.5" stroke-width="5.6" stroke-linejoin="round" stroke-linecap="butt"/>
<path d="M985.0,490.0 C988.3,488.0 997.5,481.0 1005.0,478.0 C1012.5,475.0 1023.3,473.3 1030.0,472.0 C1036.7,470.7 1042.5,470.3 1045.0,470.0" fill="none" stroke="#fff" stroke-opacity="0.45" stroke-width="5.6" stroke-linejoin="round" stroke-linecap="butt"/>
<path d="M1010.0,598.0 C1014.2,597.7 1026.7,595.0 1035.0,596.0 C1043.3,597.0 1051.7,601.7 1060.0,604.0 C1068.3,606.3 1080.8,609.0 1085.0,610.0" fill="none" stroke="#fff" stroke-opacity="0.4" stroke-width="5.6" stroke-linejoin="round" stroke-linecap="butt"/>
</g>
<g filter="url(#bl08Aii)">
<path d="M1243.0,282.0 L1247.0,284.0" fill="none" stroke="#000" stroke-opacity="0.9" stroke-width="7.5" stroke-linejoin="round" stroke-linecap="round"/>
</g>
</g>
<rect x="977.0" y="59.5" width="270.2" height="113.4" fill="url(#fadeA)"/>
</g>
<g id="panel-Bi">
<rect x="133.0" y="888.0" width="269.0" height="709.5" fill="#b3b3b3"/>
<g clip-path="url(#cpBi)">
<rect x="133.0" y="888.0" width="235.3" height="709.5" fill="#b9b9b9"/>
<g transform="rotate(-35 250.7 1242.8)"><rect x="-133.1" y="859.0" width="767.5" height="767.5" filter="url(#n1Bi)"/></g>
<g transform="rotate(43 250.7 1242.8)" opacity="0.5"><rect x="-133.1" y="859.0" width="767.5" height="767.5" filter="url(#n2Bi)"/></g>
<rect x="133.0" y="888.0" width="235.3" height="709.5" filter="url(#nhBi)" mask="url(#mkBi)"/>
<g filter="url(#bl20Bi)">
<path d="M133.0,1007.7 C135.6,1006.6 143.5,1000.4 148.7,1000.8 C153.9,1001.3 159.3,1007.4 164.0,1010.5 C168.7,1013.5 172.2,1016.2 177.0,1019.0 C181.8,1021.8 188.2,1025.0 193.0,1027.2 C197.8,1029.4 201.5,1031.7 206.0,1032.3 C210.5,1033.0 214.7,1033.0 220.0,1031.2 C225.3,1029.5 235.0,1023.5 238.0,1022.0" fill="none" stroke="#000" stroke-opacity="0.11" stroke-width="6.1" stroke-linejoin="round"/>
<path d="M238.0,1022.3 C240.0,1021.6 246.0,1016.7 250.0,1017.8 C254.0,1019.0 258.7,1025.2 262.0,1029.2 C265.3,1033.2 266.5,1040.2 270.0,1041.9 C273.5,1043.5 280.8,1039.8 283.0,1039.4" fill="none" stroke="#000" stroke-opacity="0.10" stroke-width="6.9" stroke-linejoin="round"/>
<path d="M283.0,1037.0 C286.3,1034.4 297.0,1024.2 303.0,1021.6 C309.0,1019.0 313.8,1023.2 319.0,1021.5 C324.2,1019.8 329.5,1015.2 334.0,1011.5 C338.5,1007.8 342.2,1001.1 346.0,999.3 C349.8,997.5 353.3,999.0 357.0,1000.5 C360.7,1001.9 366.4,1006.6 368.3,1007.8" fill="none" stroke="#000" stroke-opacity="0.14" stroke-width="5.6" stroke-linejoin="round"/>
<path d="M133.0,1021.2 C135.6,1019.9 143.5,1013.4 148.7,1013.3 C153.9,1013.2 159.3,1017.5 164.0,1020.7 C168.7,1023.9 172.2,1029.1 177.0,1032.4 C181.8,1035.8 188.2,1039.2 193.0,1040.8 C197.8,1042.4 201.5,1041.5 206.0,1041.8 C210.5,1042.2 214.7,1044.5 220.0,1042.9 C225.3,1041.3 233.0,1034.5 238.0,1032.2 C243.0,1029.9 246.0,1027.6 250.0,1028.9 C254.0,1030.2 258.7,1036.1 262.0,1040.2 C265.3,1044.3 266.5,1051.8 270.0,1053.3 C273.5,1054.8 277.5,1052.5 283.0,1049.2 C288.5,1045.9 297.0,1035.8 303.0,1033.3 C309.0,1030.8 313.8,1035.8 319.0,1034.2 C324.2,1032.6 329.5,1027.7 334.0,1023.7 C338.5,1019.6 344.0,1012.2 346.0,1009.9" fill="none" stroke="#fff" stroke-opacity="0.47" stroke-width="6.4" stroke-linejoin="round"/>
<path d="M346.0,1012.2 C347.8,1012.4 353.3,1012.1 357.0,1013.2 C360.7,1014.3 366.4,1017.8 368.3,1018.7" fill="none" stroke="#fff" stroke-opacity="0.43" stroke-width="7.2" stroke-linejoin="round"/>
<path d="M133.0,1033.7 C135.6,1032.3 143.5,1025.6 148.7,1025.5 C153.9,1025.4 159.3,1030.2 164.0,1033.0 C168.7,1035.9 172.2,1039.4 177.0,1042.6 C181.8,1045.8 188.2,1049.9 193.0,1052.0 C197.8,1054.2 201.5,1055.7 206.0,1055.7 C210.5,1055.7 214.7,1053.7 220.0,1052.1 C225.3,1050.4 233.0,1047.4 238.0,1045.7 C243.0,1044.1 246.0,1040.9 250.0,1042.3 C254.0,1043.6 260.0,1051.9 262.0,1053.8" fill="none" stroke="#000" stroke-opacity="0.37" stroke-width="7.1" stroke-linejoin="round"/>
<path d="M262.0,1052.2 C263.3,1054.1 266.5,1062.4 270.0,1063.8 C273.5,1065.2 277.5,1063.3 283.0,1060.4 C288.5,1057.4 297.0,1048.7 303.0,1046.3 C309.0,1043.8 313.8,1047.2 319.0,1045.7 C324.2,1044.1 329.5,1040.7 334.0,1037.0 C338.5,1033.2 342.2,1025.5 346.0,1023.3 C349.8,1021.1 353.3,1022.2 357.0,1023.6 C360.7,1025.0 366.4,1030.3 368.3,1031.7" fill="none" stroke="#000" stroke-opacity="0.20" stroke-width="7.8" stroke-linejoin="round"/>
<path d="M133.0,1044.6 C135.6,1042.9 143.5,1034.3 148.7,1034.6 C153.9,1035.0 159.3,1043.6 164.0,1046.8 C168.7,1050.0 172.2,1051.2 177.0,1053.9 C181.8,1056.7 188.2,1061.7 193.0,1063.5 C197.8,1065.3 201.5,1064.7 206.0,1064.7 C210.5,1064.7 214.7,1065.0 220.0,1063.5 C225.3,1062.1 233.0,1057.5 238.0,1055.8 C243.0,1054.1 246.0,1052.0 250.0,1053.6 C254.0,1055.1 258.7,1061.2 262.0,1065.2 C265.3,1069.2 266.5,1076.1 270.0,1077.5 C273.5,1078.9 277.5,1076.7 283.0,1073.4 C288.5,1070.1 297.0,1060.3 303.0,1057.5 C309.0,1054.8 313.8,1058.5 319.0,1056.7 C324.2,1055.0 329.5,1050.5 334.0,1047.1 C338.5,1043.7 344.0,1038.0 346.0,1036.1" fill="none" stroke="#fff" stroke-opacity="0.73" stroke-width="7.2" stroke-linejoin="round"/>
<path d="M346.0,1036.6 C347.8,1036.6 353.3,1035.5 357.0,1036.5 C360.7,1037.5 366.4,1041.5 368.3,1042.6" fill="none" stroke="#fff" stroke-opacity="0.37" stroke-width="6.5" stroke-linejoin="round"/>
<path d="M133.0,1057.4 C135.6,1055.7 143.5,1047.4 148.7,1047.5 C153.9,1047.6 159.3,1054.4 164.0,1057.9 C168.7,1061.4 172.2,1065.5 177.0,1068.5 C181.8,1071.5 188.2,1074.3 193.0,1075.8 C197.8,1077.3 201.5,1077.5 206.0,1077.5 C210.5,1077.5 214.7,1077.3 220.0,1075.9 C225.3,1074.4 233.0,1070.5 238.0,1068.8 C243.0,1067.2 246.0,1064.8 250.0,1066.0 C254.0,1067.3 258.7,1072.4 262.0,1076.2 C265.3,1079.9 268.7,1086.5 270.0,1088.6" fill="none" stroke="#000" stroke-opacity="0.14" stroke-width="8.0" stroke-linejoin="round"/>
<path d="M270.0,1089.6 L283.0,1084.2" fill="none" stroke="#000" stroke-opacity="0.15" stroke-width="8.2" stroke-linejoin="round"/>
<path d="M283.0,1085.0 C286.3,1082.5 297.0,1072.6 303.0,1070.0 C309.0,1067.4 313.8,1070.6 319.0,1069.2 C324.2,1067.8 329.5,1065.1 334.0,1061.4 C338.5,1057.8 342.2,1049.2 346.0,1047.3 C349.8,1045.5 353.3,1049.1 357.0,1050.3 C360.7,1051.4 366.4,1053.7 368.3,1054.3" fill="none" stroke="#000" stroke-opacity="0.24" stroke-width="7.7" stroke-linejoin="round"/>
<path d="M133.0,1069.1 C135.6,1067.8 143.5,1061.4 148.7,1061.4 C153.9,1061.4 159.3,1065.8 164.0,1068.9 C168.7,1072.1 172.2,1077.6 177.0,1080.4 C181.8,1083.2 190.3,1084.8 193.0,1085.6" fill="none" stroke="#fff" stroke-opacity="0.53" stroke-width="8.2" stroke-linejoin="round"/>
<path d="M193.0,1087.2 C195.2,1087.5 201.5,1088.7 206.0,1089.0 C210.5,1089.4 214.7,1090.8 220.0,1089.2 C225.3,1087.6 233.0,1081.1 238.0,1079.3 C243.0,1077.5 246.0,1076.6 250.0,1078.3 C254.0,1080.0 258.7,1085.9 262.0,1089.5 C265.3,1093.2 266.5,1098.9 270.0,1100.2 C273.5,1101.5 280.8,1097.8 283.0,1097.3" fill="none" stroke="#fff" stroke-opacity="0.35" stroke-width="8.1" stroke-linejoin="round"/>
<path d="M283.0,1097.3 C286.3,1094.7 297.0,1085.1 303.0,1082.0 C309.0,1079.0 313.8,1080.7 319.0,1078.9 C324.2,1077.0 329.5,1074.2 334.0,1071.1 C338.5,1067.9 342.2,1061.6 346.0,1060.0 C349.8,1058.3 353.3,1059.9 357.0,1061.1 C360.7,1062.3 366.4,1066.2 368.3,1067.2" fill="none" stroke="#fff" stroke-opacity="0.52" stroke-width="7.4" stroke-linejoin="round"/>
<path d="M133.0,1081.7 C135.6,1080.2 143.5,1072.5 148.7,1072.6 C153.9,1072.6 159.3,1078.8 164.0,1081.9 C168.7,1085.0 172.2,1088.7 177.0,1091.2 C181.8,1093.7 188.2,1095.1 193.0,1096.8 C197.8,1098.5 201.5,1100.6 206.0,1101.4 C210.5,1102.1 214.7,1102.5 220.0,1101.2 C225.3,1099.9 233.0,1095.7 238.0,1093.7 C243.0,1091.8 246.0,1088.3 250.0,1089.5 C254.0,1090.6 258.7,1096.8 262.0,1100.6 C265.3,1104.4 266.5,1111.4 270.0,1112.5 C273.5,1113.6 277.5,1110.6 283.0,1107.4 C288.5,1104.2 297.0,1095.5 303.0,1093.1 C309.0,1090.7 313.8,1094.5 319.0,1093.0 C324.2,1091.5 329.5,1087.8 334.0,1084.0 C338.5,1080.3 344.0,1072.8 346.0,1070.6" fill="none" stroke="#000" stroke-opacity="0.19" stroke-width="8.0" stroke-linejoin="round"/>
<path d="M346.0,1069.7 C347.8,1070.1 353.3,1071.0 357.0,1072.4 C360.7,1073.8 366.4,1077.0 368.3,1077.9" fill="none" stroke="#000" stroke-opacity="0.13" stroke-width="7.8" stroke-linejoin="round"/>
<path d="M133.0,1092.5 C135.6,1090.9 143.5,1082.9 148.7,1083.2 C153.9,1083.5 159.3,1090.8 164.0,1094.2 C168.7,1097.6 172.2,1101.1 177.0,1103.5 C181.8,1106.0 190.3,1108.1 193.0,1109.0" fill="none" stroke="#fff" stroke-opacity="0.37" stroke-width="8.0" stroke-linejoin="round"/>
<path d="M193.0,1111.0 C195.2,1111.1 201.5,1111.2 206.0,1111.6 C210.5,1111.9 214.7,1114.1 220.0,1113.0 C225.3,1112.0 233.0,1107.3 238.0,1105.3 C243.0,1103.3 246.0,1100.0 250.0,1100.9 C254.0,1101.8 258.7,1107.1 262.0,1110.6 C265.3,1114.1 266.5,1120.6 270.0,1121.9 C273.5,1123.2 277.5,1121.3 283.0,1118.7 C288.5,1116.1 297.0,1108.9 303.0,1106.2 C309.0,1103.6 313.8,1104.4 319.0,1102.8 C324.2,1101.2 329.5,1099.5 334.0,1096.4 C338.5,1093.3 344.0,1086.0 346.0,1084.0" fill="none" stroke="#fff" stroke-opacity="0.24" stroke-width="6.4" stroke-linejoin="round"/>
<path d="M346.0,1082.6 C347.8,1083.2 353.3,1084.8 357.0,1086.0 C360.7,1087.2 366.4,1089.2 368.3,1089.8" fill="none" stroke="#fff" stroke-opacity="0.39" stroke-width="7.5" stroke-linejoin="round"/>
<path d="M133.0,1105.0 C135.6,1103.7 143.5,1097.4 148.7,1097.4 C153.9,1097.4 159.3,1102.1 164.0,1104.8 C168.7,1107.5 172.2,1110.5 177.0,1113.4 C181.8,1116.4 190.3,1120.8 193.0,1122.3" fill="none" stroke="#000" stroke-opacity="0.14" stroke-width="6.7" stroke-linejoin="round"/>
<path d="M193.0,1121.9 C195.2,1122.4 201.5,1124.4 206.0,1124.7 C210.5,1125.0 214.7,1124.9 220.0,1123.7 C225.3,1122.5 233.0,1119.4 238.0,1117.5 C243.0,1115.5 246.0,1111.0 250.0,1111.9 C254.0,1112.8 258.7,1119.1 262.0,1122.9 C265.3,1126.7 266.5,1133.8 270.0,1134.8 C273.5,1135.9 277.5,1132.3 283.0,1129.3 C288.5,1126.3 297.0,1119.3 303.0,1116.7 C309.0,1114.2 313.8,1115.3 319.0,1114.0 C324.2,1112.7 329.5,1112.1 334.0,1108.9 C338.5,1105.7 342.2,1097.0 346.0,1094.9 C349.8,1092.8 353.3,1094.7 357.0,1096.2 C360.7,1097.7 366.4,1102.6 368.3,1103.9" fill="none" stroke="#000" stroke-opacity="0.10" stroke-width="5.8" stroke-linejoin="round"/>
<path d="M133.0,1114.7 C135.6,1113.6 143.5,1107.9 148.7,1108.2 C153.9,1108.5 159.3,1113.6 164.0,1116.6 C168.7,1119.6 172.2,1123.4 177.0,1126.2 C181.8,1128.9 188.2,1131.4 193.0,1133.2 C197.8,1135.0 201.5,1136.7 206.0,1137.0 C210.5,1137.2 214.7,1135.9 220.0,1134.6 C225.3,1133.3 233.0,1131.1 238.0,1129.2 C243.0,1127.3 248.0,1124.2 250.0,1123.2" fill="none" stroke="#fff" stroke-opacity="0.17" stroke-width="7.0" stroke-linejoin="round"/>
<path d="M250.0,1125.2 C252.0,1127.0 258.7,1132.6 262.0,1135.9 C265.3,1139.3 266.5,1144.3 270.0,1145.2 C273.5,1146.1 277.5,1144.4 283.0,1141.4 C288.5,1138.4 297.0,1129.9 303.0,1127.3 C309.0,1124.6 313.8,1126.8 319.0,1125.6 C324.2,1124.3 329.5,1122.5 334.0,1119.6 C338.5,1116.6 342.2,1109.9 346.0,1107.9 C349.8,1105.9 353.3,1106.8 357.0,1107.6 C360.7,1108.4 366.4,1112.0 368.3,1112.8" fill="none" stroke="#fff" stroke-opacity="0.15" stroke-width="6.1" stroke-linejoin="round"/>
<path d="M133.0,1128.4 C135.6,1127.2 143.5,1121.1 148.7,1121.4 C153.9,1121.7 159.3,1127.2 164.0,1129.9 C168.7,1132.6 172.2,1135.0 177.0,1137.4 C181.8,1139.8 188.2,1142.9 193.0,1144.5 C197.8,1146.0 201.5,1146.4 206.0,1146.7 C210.5,1147.0 214.7,1147.6 220.0,1146.3 C225.3,1144.9 233.0,1140.3 238.0,1138.6 C243.0,1136.9 246.0,1135.0 250.0,1136.1 C254.0,1137.3 258.7,1141.9 262.0,1145.5 C265.3,1149.0 268.7,1155.3 270.0,1157.3" fill="none" stroke="#000" stroke-opacity="0.08" stroke-width="6.9" stroke-linejoin="round"/>
<path d="M270.0,1158.2 C272.2,1157.3 277.5,1155.4 283.0,1152.7 C288.5,1149.9 297.0,1144.0 303.0,1141.7 C309.0,1139.4 313.8,1140.6 319.0,1138.8 C324.2,1136.9 329.5,1133.9 334.0,1130.5 C338.5,1127.1 342.2,1120.0 346.0,1118.4 C349.8,1116.8 353.3,1119.7 357.0,1121.0 C360.7,1122.3 366.4,1125.4 368.3,1126.3" fill="none" stroke="#000" stroke-opacity="0.12" stroke-width="7.5" stroke-linejoin="round"/>
<path d="M133.0,1139.2 C135.6,1138.1 143.5,1132.4 148.7,1132.7 C153.9,1133.1 159.3,1138.3 164.0,1141.3 C168.7,1144.3 172.2,1148.0 177.0,1150.6 C181.8,1153.1 190.3,1155.7 193.0,1156.8" fill="none" stroke="#fff" stroke-opacity="0.19" stroke-width="8.2" stroke-linejoin="round"/>
<path d="M193.0,1158.2 L206.0,1158.5" fill="none" stroke="#fff" stroke-opacity="0.12" stroke-width="5.8" stroke-linejoin="round"/>
<path d="M206.0,1159.4 C208.3,1159.5 214.7,1161.2 220.0,1160.0 C225.3,1158.7 233.0,1153.9 238.0,1151.9 C243.0,1150.0 246.0,1147.3 250.0,1148.5 C254.0,1149.7 258.7,1155.5 262.0,1159.2 C265.3,1162.9 266.5,1169.4 270.0,1170.5 C273.5,1171.6 277.5,1169.1 283.0,1165.9 C288.5,1162.6 297.0,1153.5 303.0,1151.2 C309.0,1148.9 313.8,1153.1 319.0,1151.8 C324.2,1150.5 329.5,1146.7 334.0,1143.4 C338.5,1140.1 342.2,1133.6 346.0,1131.9 C349.8,1130.1 353.3,1132.1 357.0,1132.9 C360.7,1133.7 366.4,1136.0 368.3,1136.6" fill="none" stroke="#fff" stroke-opacity="0.23" stroke-width="6.2" stroke-linejoin="round"/>
<path d="M133.0,1150.6 C135.6,1149.5 143.5,1143.6 148.7,1143.9 C153.9,1144.2 161.4,1151.1 164.0,1152.6" fill="none" stroke="#000" stroke-opacity="0.05" stroke-width="6.4" stroke-linejoin="round"/>
<path d="M164.0,1152.8 C166.2,1154.2 172.2,1158.4 177.0,1161.1 C181.8,1163.8 188.2,1167.5 193.0,1169.0 C197.8,1170.5 201.5,1169.7 206.0,1170.2 C210.5,1170.6 214.7,1173.0 220.0,1171.6 C225.3,1170.3 233.0,1163.7 238.0,1161.8 C243.0,1160.0 246.0,1158.8 250.0,1160.4 C254.0,1162.0 258.7,1167.7 262.0,1171.3 C265.3,1174.8 266.5,1180.5 270.0,1181.7 C273.5,1182.9 277.5,1181.2 283.0,1178.4 C288.5,1175.7 297.0,1167.9 303.0,1165.3 C309.0,1162.7 316.3,1163.1 319.0,1162.7" fill="none" stroke="#000" stroke-opacity="0.06" stroke-width="8.0" stroke-linejoin="round"/>
<path d="M319.0,1161.7 C321.5,1160.6 329.5,1157.9 334.0,1154.9 C338.5,1151.9 342.2,1145.6 346.0,1143.9 C349.8,1142.1 353.3,1143.1 357.0,1144.2 C360.7,1145.3 366.4,1149.5 368.3,1150.6" fill="none" stroke="#000" stroke-opacity="0.06" stroke-width="8.0" stroke-linejoin="round"/>
<path d="M133.0,1163.4 C135.6,1162.4 143.5,1157.6 148.7,1157.5 C153.9,1157.5 159.3,1160.2 164.0,1163.1 C168.7,1165.9 172.2,1171.9 177.0,1174.6 C181.8,1177.3 188.2,1178.0 193.0,1179.4 C197.8,1180.7 201.5,1182.1 206.0,1182.6 C210.5,1183.2 214.7,1183.8 220.0,1182.7 C225.3,1181.6 235.0,1177.1 238.0,1175.9" fill="none" stroke="#fff" stroke-opacity="0.12" stroke-width="6.6" stroke-linejoin="round"/>
<path d="M238.0,1175.9 C240.0,1175.0 246.0,1169.8 250.0,1170.7 C254.0,1171.5 258.7,1177.5 262.0,1180.9 C265.3,1184.2 266.5,1189.6 270.0,1190.7 C273.5,1191.9 280.8,1188.2 283.0,1187.7" fill="none" stroke="#fff" stroke-opacity="0.14" stroke-width="7.3" stroke-linejoin="round"/>
<path d="M283.0,1187.9 C286.3,1185.8 297.0,1178.1 303.0,1175.6 C309.0,1173.1 313.8,1174.6 319.0,1172.9 C324.2,1171.3 329.5,1168.9 334.0,1165.9 C338.5,1162.9 342.2,1156.5 346.0,1154.9 C349.8,1153.4 353.3,1155.2 357.0,1156.5 C360.7,1157.8 366.4,1161.6 368.3,1162.6" fill="none" stroke="#fff" stroke-opacity="0.19" stroke-width="7.5" stroke-linejoin="round"/>
<path d="M133.0,1175.8 C135.6,1174.5 143.5,1167.9 148.7,1168.0 C153.9,1168.2 159.3,1173.5 164.0,1176.6 C168.7,1179.7 172.2,1183.9 177.0,1186.5 C181.8,1189.0 188.2,1190.4 193.0,1191.8 C197.8,1193.2 201.5,1194.6 206.0,1194.7 C210.5,1194.8 214.7,1193.8 220.0,1192.4 C225.3,1191.0 233.0,1188.0 238.0,1186.5 C243.0,1184.9 246.0,1181.9 250.0,1183.1 C254.0,1184.3 258.7,1190.1 262.0,1193.5 C265.3,1196.9 266.5,1202.1 270.0,1203.5 C273.5,1204.8 277.5,1204.1 283.0,1201.5 C288.5,1198.9 299.7,1190.3 303.0,1188.0" fill="none" stroke="#000" stroke-opacity="0.06" stroke-width="7.6" stroke-linejoin="round"/>
<path d="M303.0,1188.8 C305.7,1188.6 313.8,1189.3 319.0,1187.4 C324.2,1185.4 329.5,1180.5 334.0,1177.1 C338.5,1173.8 342.2,1168.8 346.0,1167.3 C349.8,1165.8 353.3,1166.9 357.0,1168.2 C360.7,1169.4 366.4,1173.9 368.3,1175.0" fill="none" stroke="#000" stroke-opacity="0.06" stroke-width="5.9" stroke-linejoin="round"/>
<path d="M133.0,1188.3 C135.6,1187.1 143.5,1180.8 148.7,1180.9 C153.9,1181.1 159.3,1186.9 164.0,1189.3 C168.7,1191.7 172.2,1192.8 177.0,1195.2 C181.8,1197.6 188.2,1201.9 193.0,1203.9 C197.8,1205.9 203.8,1206.9 206.0,1207.4" fill="none" stroke="#fff" stroke-opacity="0.09" stroke-width="5.6" stroke-linejoin="round"/>
<path d="M206.0,1206.8 L220.0,1205.2" fill="none" stroke="#fff" stroke-opacity="0.11" stroke-width="7.2" stroke-linejoin="round"/>
<path d="M220.0,1205.4 C223.0,1204.1 233.0,1199.2 238.0,1197.7 C243.0,1196.2 246.0,1195.4 250.0,1196.4 C254.0,1197.4 258.7,1200.5 262.0,1203.8 C265.3,1207.2 266.5,1215.1 270.0,1216.4 C273.5,1217.8 277.5,1214.8 283.0,1211.9 C288.5,1209.0 297.0,1201.7 303.0,1199.1 C309.0,1196.6 313.8,1198.1 319.0,1196.8 C324.2,1195.5 329.5,1194.1 334.0,1191.2 C338.5,1188.4 342.2,1181.1 346.0,1179.6 C349.8,1178.1 353.3,1181.4 357.0,1182.3 C360.7,1183.2 366.4,1184.6 368.3,1185.1" fill="none" stroke="#fff" stroke-opacity="0.15" stroke-width="8.4" stroke-linejoin="round"/>
<path d="M133.0,1200.1 C135.6,1199.0 143.5,1193.5 148.7,1193.3 C153.9,1193.1 159.3,1196.6 164.0,1198.9 C168.7,1201.3 172.2,1204.9 177.0,1207.4 C181.8,1209.9 188.2,1212.1 193.0,1213.9 C197.8,1215.8 201.5,1218.2 206.0,1218.5 C210.5,1218.9 214.7,1217.4 220.0,1215.9 C225.3,1214.3 233.0,1210.7 238.0,1209.2 C243.0,1207.7 248.0,1207.5 250.0,1207.1" fill="none" stroke="#000" stroke-opacity="0.04" stroke-width="6.4" stroke-linejoin="round"/>
<path d="M250.0,1206.5 C252.0,1208.1 258.7,1213.3 262.0,1216.6 C265.3,1219.9 266.5,1225.4 270.0,1226.3 C273.5,1227.2 277.5,1224.6 283.0,1222.1 C288.5,1219.6 297.0,1213.0 303.0,1211.0 C309.0,1209.1 316.3,1210.4 319.0,1210.2" fill="none" stroke="#000" stroke-opacity="0.05" stroke-width="6.3" stroke-linejoin="round"/>
<path d="M319.0,1210.3 C321.5,1208.7 329.5,1204.1 334.0,1200.8 C338.5,1197.5 342.2,1192.0 346.0,1190.4 C349.8,1188.9 353.3,1190.3 357.0,1191.3 C360.7,1192.3 366.4,1195.6 368.3,1196.4" fill="none" stroke="#000" stroke-opacity="0.03" stroke-width="7.9" stroke-linejoin="round"/>
<path d="M133.0,1210.9 C135.6,1210.0 143.5,1205.0 148.7,1205.5 C153.9,1205.9 161.4,1212.2 164.0,1213.6" fill="none" stroke="#fff" stroke-opacity="0.11" stroke-width="8.5" stroke-linejoin="round"/>
<path d="M164.0,1211.9 C166.2,1213.3 172.2,1217.6 177.0,1220.3 C181.8,1223.0 188.2,1226.6 193.0,1228.1 C197.8,1229.6 201.5,1229.3 206.0,1229.2 C210.5,1229.1 214.7,1228.9 220.0,1227.8 C225.3,1226.7 233.0,1224.2 238.0,1222.5 C243.0,1220.9 246.0,1216.9 250.0,1218.0 C254.0,1219.1 260.0,1227.4 262.0,1229.3" fill="none" stroke="#fff" stroke-opacity="0.08" stroke-width="6.1" stroke-linejoin="round"/>
<path d="M262.0,1228.6 C263.3,1230.2 266.5,1237.2 270.0,1238.3 C273.5,1239.4 277.5,1237.7 283.0,1235.1 C288.5,1232.6 297.0,1225.5 303.0,1223.0 C309.0,1220.4 313.8,1221.4 319.0,1219.8 C324.2,1218.2 329.5,1216.4 334.0,1213.5 C338.5,1210.6 342.2,1203.8 346.0,1202.2 C349.8,1200.7 353.3,1202.8 357.0,1204.2 C360.7,1205.6 366.4,1209.7 368.3,1210.8" fill="none" stroke="#fff" stroke-opacity="0.09" stroke-width="8.3" stroke-linejoin="round"/>
<path d="M133.0,1224.1 C135.6,1222.8 143.5,1216.5 148.7,1216.6 C153.9,1216.7 159.3,1221.9 164.0,1224.5 C168.7,1227.0 174.8,1230.7 177.0,1232.0" fill="none" stroke="#000" stroke-opacity="0.03" stroke-width="6.2" stroke-linejoin="round"/>
<path d="M177.0,1232.1 C179.7,1233.0 188.2,1236.0 193.0,1237.3 C197.8,1238.6 201.5,1239.6 206.0,1239.8 C210.5,1240.0 214.7,1239.6 220.0,1238.6 C225.3,1237.5 233.0,1235.2 238.0,1233.7 C243.0,1232.2 246.0,1228.7 250.0,1229.8 C254.0,1230.9 258.7,1236.7 262.0,1240.2 C265.3,1243.7 266.5,1249.7 270.0,1250.7 C273.5,1251.7 277.5,1249.2 283.0,1246.3 C288.5,1243.5 297.0,1235.7 303.0,1233.4 C309.0,1231.2 313.8,1234.0 319.0,1232.7 C324.2,1231.5 329.5,1228.7 334.0,1225.9 C338.5,1223.1 342.2,1217.8 346.0,1216.1 C349.8,1214.3 353.3,1214.5 357.0,1215.3 C360.7,1216.2 366.4,1220.3 368.3,1221.3" fill="none" stroke="#000" stroke-opacity="0.04" stroke-width="6.4" stroke-linejoin="round"/>
<path d="M133.0,1234.3 C135.6,1233.3 143.5,1228.1 148.7,1228.2 C153.9,1228.3 161.4,1233.9 164.0,1235.1" fill="none" stroke="#fff" stroke-opacity="0.11" stroke-width="7.1" stroke-linejoin="round"/>
<path d="M164.0,1237.2 C166.2,1238.6 172.2,1242.9 177.0,1245.1 C181.8,1247.3 190.3,1249.6 193.0,1250.5" fill="none" stroke="#fff" stroke-opacity="0.06" stroke-width="6.1" stroke-linejoin="round"/>
<path d="M193.0,1249.5 C195.2,1250.0 201.5,1252.6 206.0,1252.8 C210.5,1252.9 214.7,1251.8 220.0,1250.4 C225.3,1249.0 233.0,1245.4 238.0,1244.3 C243.0,1243.1 246.0,1242.2 250.0,1243.4 C254.0,1244.5 258.7,1248.4 262.0,1251.3 C265.3,1254.2 266.5,1259.2 270.0,1260.5 C273.5,1261.8 277.5,1261.7 283.0,1259.3 C288.5,1256.8 297.0,1248.4 303.0,1245.9 C309.0,1243.3 313.8,1245.4 319.0,1244.1 C324.2,1242.8 329.5,1240.9 334.0,1238.0 C338.5,1235.2 342.2,1228.5 346.0,1227.0 C349.8,1225.6 353.3,1228.4 357.0,1229.3 C360.7,1230.1 366.4,1231.6 368.3,1232.1" fill="none" stroke="#fff" stroke-opacity="0.07" stroke-width="6.1" stroke-linejoin="round"/>
<path d="M133.0,1247.8 C135.6,1246.3 143.5,1238.9 148.7,1238.7 C153.9,1238.5 159.3,1244.0 164.0,1246.8 C168.7,1249.6 172.2,1253.0 177.0,1255.6 C181.8,1258.2 188.2,1260.6 193.0,1262.3 C197.8,1264.0 201.5,1265.8 206.0,1265.8 C210.5,1265.7 214.7,1263.5 220.0,1262.0 C225.3,1260.5 233.0,1257.8 238.0,1256.7 C243.0,1255.6 246.0,1254.5 250.0,1255.4 C254.0,1256.3 260.0,1260.8 262.0,1261.9" fill="none" stroke="#000" stroke-opacity="0.03" stroke-width="7.5" stroke-linejoin="round"/>
<path d="M262.0,1262.1 L270.0,1271.8" fill="none" stroke="#000" stroke-opacity="0.05" stroke-width="8.0" stroke-linejoin="round"/>
<path d="M270.0,1271.8 C272.2,1271.5 277.5,1271.9 283.0,1269.8 C288.5,1267.7 297.0,1261.1 303.0,1259.2 C309.0,1257.2 313.8,1259.7 319.0,1257.9 C324.2,1256.2 329.5,1251.6 334.0,1248.7 C338.5,1245.7 342.2,1241.4 346.0,1240.4 C349.8,1239.3 353.3,1241.1 357.0,1242.1 C360.7,1243.2 366.4,1245.8 368.3,1246.6" fill="none" stroke="#000" stroke-opacity="0.05" stroke-width="7.8" stroke-linejoin="round"/>
<path d="M133.0,1259.5 C135.6,1258.1 143.5,1250.7 148.7,1251.0 C153.9,1251.2 161.4,1259.3 164.0,1261.0" fill="none" stroke="#fff" stroke-opacity="0.11" stroke-width="5.7" stroke-linejoin="round"/>
<path d="M164.0,1260.8 C166.2,1262.2 172.2,1266.8 177.0,1268.8 C181.8,1270.8 188.2,1271.4 193.0,1272.6 C197.8,1273.9 201.5,1276.2 206.0,1276.4 C210.5,1276.6 214.7,1274.8 220.0,1273.8 C225.3,1272.7 233.0,1271.3 238.0,1269.9 C243.0,1268.4 246.0,1264.2 250.0,1265.0 C254.0,1265.9 258.7,1271.9 262.0,1275.2 C265.3,1278.5 266.5,1284.0 270.0,1284.9 C273.5,1285.7 277.5,1282.7 283.0,1280.2 C288.5,1277.7 297.0,1271.7 303.0,1269.8 C309.0,1267.9 316.3,1269.1 319.0,1268.9" fill="none" stroke="#fff" stroke-opacity="0.12" stroke-width="7.9" stroke-linejoin="round"/>
<path d="M319.0,1267.8 C321.5,1266.6 329.5,1263.3 334.0,1260.6 C338.5,1257.9 342.2,1252.6 346.0,1251.6 C349.8,1250.5 353.3,1253.1 357.0,1254.1 C360.7,1255.1 366.4,1257.0 368.3,1257.6" fill="none" stroke="#fff" stroke-opacity="0.07" stroke-width="7.5" stroke-linejoin="round"/>
<path d="M133.0,1270.2 C135.6,1269.3 143.5,1264.5 148.7,1264.8 C153.9,1265.2 159.3,1270.1 164.0,1272.4 C168.7,1274.8 174.8,1277.7 177.0,1278.7" fill="none" stroke="#000" stroke-opacity="0.04" stroke-width="7.7" stroke-linejoin="round"/>
<path d="M177.0,1280.1 C179.7,1280.8 188.2,1283.2 193.0,1284.3 C197.8,1285.3 201.5,1285.8 206.0,1286.3 C210.5,1286.8 214.7,1288.5 220.0,1287.3 C225.3,1286.2 233.0,1281.0 238.0,1279.3 C243.0,1277.6 246.0,1275.9 250.0,1277.2 C254.0,1278.4 258.7,1283.4 262.0,1286.7 C265.3,1290.0 266.5,1296.0 270.0,1297.0 C273.5,1298.0 277.5,1295.2 283.0,1292.7 C288.5,1290.1 297.0,1284.1 303.0,1281.9 C309.0,1279.8 313.8,1280.8 319.0,1279.6 C324.2,1278.5 329.5,1277.5 334.0,1275.0 C338.5,1272.4 342.2,1266.5 346.0,1264.6 C349.8,1262.7 353.3,1263.0 357.0,1263.8 C360.7,1264.6 366.4,1268.5 368.3,1269.5" fill="none" stroke="#000" stroke-opacity="0.03" stroke-width="6.3" stroke-linejoin="round"/>
<path d="M133.0,1284.1 C135.6,1282.9 143.5,1277.0 148.7,1276.8 C153.9,1276.7 159.3,1280.8 164.0,1283.2 C168.7,1285.6 172.2,1289.2 177.0,1291.3 C181.8,1293.3 190.3,1294.8 193.0,1295.6" fill="none" stroke="#fff" stroke-opacity="0.08" stroke-width="6.3" stroke-linejoin="round"/>
<path d="M193.0,1298.4 C195.2,1298.8 201.5,1300.7 206.0,1300.8 C210.5,1300.8 214.7,1300.0 220.0,1298.8 C225.3,1297.6 233.0,1295.1 238.0,1293.5 C243.0,1291.8 248.0,1289.6 250.0,1288.8" fill="none" stroke="#fff" stroke-opacity="0.10" stroke-width="8.3" stroke-linejoin="round"/>
<path d="M250.0,1288.2 C252.0,1290.0 258.7,1295.9 262.0,1298.9 C265.3,1301.8 266.5,1305.3 270.0,1306.2 C273.5,1307.0 277.5,1305.8 283.0,1303.8 C288.5,1301.8 297.0,1296.4 303.0,1294.3 C309.0,1292.2 313.8,1292.9 319.0,1291.3 C324.2,1289.7 329.5,1287.4 334.0,1284.6 C338.5,1281.8 342.2,1275.9 346.0,1274.6 C349.8,1273.2 353.3,1275.4 357.0,1276.5 C360.7,1277.6 366.4,1280.3 368.3,1281.1" fill="none" stroke="#fff" stroke-opacity="0.10" stroke-width="6.6" stroke-linejoin="round"/>
</g>
<g filter="url(#bl25Bi)">
<path d="M133.0,1078.0 C137.5,1079.5 150.5,1084.5 160.0,1087.0 C169.5,1089.5 179.7,1092.5 190.0,1093.0 C200.3,1093.5 212.8,1089.5 222.0,1090.0 C231.2,1090.5 237.0,1093.7 245.0,1096.0 C253.0,1098.3 260.8,1103.7 270.0,1104.0 C279.2,1104.3 290.0,1100.0 300.0,1098.0 C310.0,1096.0 318.7,1095.0 330.0,1092.0 C341.3,1089.0 361.7,1082.0 368.0,1080.0" fill="none" stroke="#fff" stroke-opacity="0.36000000000000004" stroke-width="15" stroke-linejoin="round" stroke-linecap="butt"/>
<path d="M133.0,1078.0 C137.5,1079.5 150.5,1084.5 160.0,1087.0 C169.5,1089.5 179.7,1092.5 190.0,1093.0 C200.3,1093.5 212.8,1089.5 222.0,1090.0 C231.2,1090.5 237.0,1093.7 245.0,1096.0 C253.0,1098.3 260.8,1103.7 270.0,1104.0 C279.2,1104.3 290.0,1100.0 300.0,1098.0 C310.0,1096.0 318.7,1095.0 330.0,1092.0 C341.3,1089.0 361.7,1082.0 368.0,1080.0" fill="none" stroke="#000" stroke-opacity="0.32" stroke-width="5" stroke-linejoin="round" stroke-linecap="round"/>
</g>
<g filter="url(#bl16Bi)">
<path d="M133.0,1016.2 C135.6,1014.8 143.5,1007.4 148.7,1007.7 C153.9,1008.0 159.2,1014.9 164.0,1018.2 C168.8,1021.6 172.6,1024.9 177.4,1027.8 C182.2,1030.7 187.9,1033.8 192.7,1035.5 C197.5,1037.2 201.4,1038.0 206.1,1038.3 C210.8,1038.6 218.5,1037.6 221.0,1037.4" fill="none" stroke="#000" stroke-opacity="0.5" stroke-width="3.8" stroke-linejoin="round" stroke-linecap="round"/>
<path d="M133.0,1045.8 C135.6,1044.4 143.5,1037.0 148.7,1037.3 C153.9,1037.6 159.2,1044.5 164.0,1047.8 C168.8,1051.1 172.6,1054.5 177.4,1057.4 C182.2,1060.3 187.9,1063.3 192.7,1065.1 C197.5,1066.8 201.4,1067.6 206.1,1067.9 C210.8,1068.2 218.5,1067.2 221.0,1067.0" fill="none" stroke="#000" stroke-opacity="0.5" stroke-width="3.8" stroke-linejoin="round" stroke-linecap="round"/>
<path d="M133.0,1031.0 C135.6,1029.6 143.5,1022.2 148.7,1022.5 C153.9,1022.8 159.2,1029.7 164.0,1033.0 C168.8,1036.3 172.6,1039.7 177.4,1042.6 C182.2,1045.5 187.9,1048.5 192.7,1050.3 C197.5,1052.0 201.4,1052.8 206.1,1053.1 C210.8,1053.4 218.5,1052.3 221.0,1052.2" fill="none" stroke="#fff" stroke-opacity="1.0" stroke-width="26.0" stroke-linejoin="round" stroke-linecap="butt"/>
<path d="M133.0,1031.0 C135.6,1029.6 143.5,1022.2 148.7,1022.5 C153.9,1022.8 159.2,1029.7 164.0,1033.0 C168.8,1036.3 172.6,1039.7 177.4,1042.6 C182.2,1045.5 187.9,1048.5 192.7,1050.3 C197.5,1052.0 201.4,1052.8 206.1,1053.1 C210.8,1053.4 218.5,1052.3 221.0,1052.2" fill="none" stroke="#000" stroke-opacity="1.0" stroke-width="9.8" stroke-linejoin="round" stroke-linecap="round"/>
<path d="M133.0,1006.3 C135.6,1005.2 143.5,999.6 148.7,999.6 C153.9,999.6 159.4,1004.4 164.0,1006.3 C168.6,1008.2 174.0,1010.2 176.0,1011.0" fill="none" stroke="#000" stroke-opacity="0.85" stroke-width="5.7" stroke-linejoin="round" stroke-linecap="round"/>
<path d="M190.8,1071.3 C193.0,1071.8 200.0,1074.2 204.2,1074.2 C208.3,1074.2 211.9,1071.8 215.7,1071.3 C219.5,1070.8 223.6,1070.5 227.1,1071.3 C230.6,1072.1 235.1,1075.3 236.7,1076.1" fill="none" stroke="#fff" stroke-opacity="0.8" stroke-width="15.4" stroke-linejoin="round" stroke-linecap="butt"/>
<path d="M190.8,1071.3 C193.0,1071.8 200.0,1074.2 204.2,1074.2 C208.3,1074.2 211.9,1071.8 215.7,1071.3 C219.5,1070.8 223.6,1070.5 227.1,1071.3 C230.6,1072.1 235.1,1075.3 236.7,1076.1" fill="none" stroke="#000" stroke-opacity="0.95" stroke-width="5.4" stroke-linejoin="round" stroke-linecap="round"/>
<path d="M228.0,1046.0 C230.0,1044.0 236.3,1037.7 240.0,1034.0 C243.7,1030.3 247.0,1024.0 250.0,1024.0 C253.0,1024.0 255.3,1030.0 258.0,1034.0 C260.7,1038.0 263.0,1045.0 266.0,1048.0 C269.0,1051.0 272.3,1052.3 276.0,1052.0 C279.7,1051.7 284.0,1048.0 288.0,1046.0 C292.0,1044.0 298.0,1041.0 300.0,1040.0" fill="none" stroke="#fff" stroke-opacity="0.8" stroke-width="11.8" stroke-linejoin="round" stroke-linecap="butt"/>
<path d="M228.0,1046.0 C230.0,1044.0 236.3,1037.7 240.0,1034.0 C243.7,1030.3 247.0,1024.0 250.0,1024.0 C253.0,1024.0 255.3,1030.0 258.0,1034.0 C260.7,1038.0 263.0,1045.0 266.0,1048.0 C269.0,1051.0 272.3,1052.3 276.0,1052.0 C279.7,1051.7 284.0,1048.0 288.0,1046.0 C292.0,1044.0 298.0,1041.0 300.0,1040.0" fill="none" stroke="#000" stroke-opacity="0.55" stroke-width="3" stroke-linejoin="round" stroke-linecap="round"/>
<path d="M232.0,1068.0 C234.0,1066.3 240.3,1061.0 244.0,1058.0 C247.7,1055.0 251.0,1049.3 254.0,1050.0 C257.0,1050.7 259.3,1057.0 262.0,1062.0 C264.7,1067.0 267.0,1076.0 270.0,1080.0 C273.0,1084.0 276.3,1085.7 280.0,1086.0 C283.7,1086.3 290.0,1082.7 292.0,1082.0" fill="none" stroke="#fff" stroke-opacity="0.9" stroke-width="15.2" stroke-linejoin="round" stroke-linecap="butt"/>
<path d="M232.0,1068.0 C234.0,1066.3 240.3,1061.0 244.0,1058.0 C247.7,1055.0 251.0,1049.3 254.0,1050.0 C257.0,1050.7 259.3,1057.0 262.0,1062.0 C264.7,1067.0 267.0,1076.0 270.0,1080.0 C273.0,1084.0 276.3,1085.7 280.0,1086.0 C283.7,1086.3 290.0,1082.7 292.0,1082.0" fill="none" stroke="#000" stroke-opacity="0.75" stroke-width="5.2" stroke-linejoin="round" stroke-linecap="round"/>
<path d="M262.0,1092.0 C263.3,1093.3 267.3,1099.7 270.0,1100.0 C272.7,1100.3 276.7,1095.0 278.0,1094.0" fill="none" stroke="#000" stroke-opacity="0.8" stroke-width="5.2" stroke-linejoin="round" stroke-linecap="round"/>
<path d="M300.0,1092.0 C301.7,1091.0 307.0,1086.0 310.0,1086.0 C313.0,1086.0 316.7,1091.0 318.0,1092.0" fill="none" stroke="#fff" stroke-opacity="0.8" stroke-width="12.8" stroke-linejoin="round" stroke-linecap="butt"/>
<path d="M300.0,1092.0 C301.7,1091.0 307.0,1086.0 310.0,1086.0 C313.0,1086.0 316.7,1091.0 318.0,1092.0" fill="none" stroke="#000" stroke-opacity="0.7" stroke-width="5.2" stroke-linejoin="round" stroke-linecap="round"/>
<path d="M263.0,1066.0 L275.0,1065.6" fill="none" stroke="#fff" stroke-opacity="0.9" stroke-width="16.8" stroke-linejoin="round" stroke-linecap="butt"/>
<path d="M263.0,1066.0 L275.0,1065.6" fill="none" stroke="#000" stroke-opacity="0.95" stroke-width="6.8" stroke-linejoin="round" stroke-linecap="round"/>
<path d="M303.7,1032.7 C306.2,1032.4 313.9,1032.5 319.0,1030.8 C324.1,1029.0 329.9,1025.9 334.3,1022.2 C338.8,1018.5 341.9,1010.7 345.7,1008.8 C349.5,1006.9 353.4,1009.4 357.2,1010.7 C361.0,1012.0 366.4,1015.5 368.3,1016.4" fill="none" stroke="#000" stroke-opacity="0.5" stroke-width="3.8" stroke-linejoin="round" stroke-linecap="round"/>
<path d="M303.7,1058.3 C306.2,1058.0 313.9,1058.1 319.0,1056.4 C324.1,1054.6 329.9,1051.5 334.3,1047.8 C338.8,1044.1 341.9,1036.3 345.7,1034.4 C349.5,1032.5 353.4,1035.0 357.2,1036.3 C361.0,1037.6 366.4,1041.0 368.3,1042.0" fill="none" stroke="#000" stroke-opacity="0.5" stroke-width="3.8" stroke-linejoin="round" stroke-linecap="round"/>
<path d="M303.7,1045.5 C306.2,1045.2 313.9,1045.3 319.0,1043.6 C324.1,1041.8 329.9,1038.7 334.3,1035.0 C338.8,1031.3 341.9,1023.5 345.7,1021.6 C349.5,1019.7 353.4,1022.2 357.2,1023.5 C361.0,1024.8 366.4,1028.2 368.3,1029.2" fill="none" stroke="#fff" stroke-opacity="1.0" stroke-width="22.0" stroke-linejoin="round" stroke-linecap="butt"/>
<path d="M303.7,1045.5 C306.2,1045.2 313.9,1045.3 319.0,1043.6 C324.1,1041.8 329.9,1038.7 334.3,1035.0 C338.8,1031.3 341.9,1023.5 345.7,1021.6 C349.5,1019.7 353.4,1022.2 357.2,1023.5 C361.0,1024.8 366.4,1028.2 368.3,1029.2" fill="none" stroke="#000" stroke-opacity="1.0" stroke-width="8.2" stroke-linejoin="round" stroke-linecap="round"/>
<path d="M288.4,1055.6 C290.6,1056.1 296.6,1058.0 301.7,1058.5 C306.8,1059.0 314.2,1059.8 319.0,1058.5 C323.8,1057.2 326.9,1053.5 330.4,1050.9 C333.9,1048.4 336.8,1046.1 340.0,1043.2 C343.2,1040.3 346.1,1034.6 349.6,1033.6 C353.1,1032.7 357.9,1036.4 361.0,1037.5 C364.1,1038.6 367.1,1039.8 368.3,1040.3" fill="none" stroke="#000" stroke-opacity="0.5" stroke-width="3.8" stroke-linejoin="round" stroke-linecap="round"/>
<path d="M288.4,1081.2 C290.6,1081.7 296.6,1083.6 301.7,1084.1 C306.8,1084.6 314.2,1085.4 319.0,1084.1 C323.8,1082.8 326.9,1079.0 330.4,1076.5 C333.9,1074.0 336.8,1071.7 340.0,1068.8 C343.2,1065.9 346.1,1060.2 349.6,1059.2 C353.1,1058.2 357.9,1062.0 361.0,1063.1 C364.1,1064.2 367.1,1065.4 368.3,1065.9" fill="none" stroke="#000" stroke-opacity="0.5" stroke-width="3.8" stroke-linejoin="round" stroke-linecap="round"/>
<path d="M288.4,1068.4 C290.6,1068.9 296.6,1070.8 301.7,1071.3 C306.8,1071.8 314.2,1072.6 319.0,1071.3 C323.8,1070.0 326.9,1066.2 330.4,1063.7 C333.9,1061.2 336.8,1058.9 340.0,1056.0 C343.2,1053.1 346.1,1047.4 349.6,1046.4 C353.1,1045.5 357.9,1049.2 361.0,1050.3 C364.1,1051.4 367.1,1052.6 368.3,1053.1" fill="none" stroke="#fff" stroke-opacity="1.0" stroke-width="22.0" stroke-linejoin="round" stroke-linecap="butt"/>
<path d="M288.4,1068.4 C290.6,1068.9 296.6,1070.8 301.7,1071.3 C306.8,1071.8 314.2,1072.6 319.0,1071.3 C323.8,1070.0 326.9,1066.2 330.4,1063.7 C333.9,1061.2 336.8,1058.9 340.0,1056.0 C343.2,1053.1 346.1,1047.4 349.6,1046.4 C353.1,1045.5 357.9,1049.2 361.0,1050.3 C364.1,1051.4 367.1,1052.6 368.3,1053.1" fill="none" stroke="#000" stroke-opacity="1.0" stroke-width="8.2" stroke-linejoin="round" stroke-linecap="round"/>
<path d="M345.0,1006.0 C347.0,1005.0 353.1,1000.0 357.0,1000.0 C360.9,1000.0 366.4,1005.0 368.3,1006.0" fill="none" stroke="#000" stroke-opacity="0.6" stroke-width="3" stroke-linejoin="round" stroke-linecap="round"/>
<path d="M326.0,1089.0 L334.0,1083.0" fill="none" stroke="#000" stroke-opacity="0.8" stroke-width="5.2" stroke-linejoin="round" stroke-linecap="round"/>
</g>
<g mask="url(#mkBi)">
<g transform="rotate(-35 250.7 1242.8)"><rect x="-133.1" y="859.0" width="767.5" height="767.5" filter="url(#sdBi)"/></g>
<g transform="rotate(43 250.7 1242.8)"><rect x="-133.1" y="859.0" width="767.5" height="767.5" filter="url(#swBi)"/></g>
</g>
</g>
<rect x="133.0" y="888.0" width="269.0" height="110.1" fill="url(#fadeA)"/>
</g>
<g id="panel-Bii">
<rect x="555.5" y="888.0" width="269.0" height="709.5" fill="#b3b3b3"/>
<g clip-path="url(#cpBii)">
<rect x="555.5" y="888.0" width="237.0" height="709.5" fill="#b9b9b9"/>
<g transform="rotate(-35 674.0 1242.8)"><rect x="290.0" y="858.7" width="768.0" height="768.0" filter="url(#n1Bii)"/></g>
<g transform="rotate(43 674.0 1242.8)" opacity="0.5"><rect x="290.0" y="858.7" width="768.0" height="768.0" filter="url(#n2Bii)"/></g>
<rect x="555.5" y="888.0" width="237.0" height="709.5" filter="url(#nhBii)" mask="url(#mkBii)"/>
<g filter="url(#bl20Bii)">
<path d="M555.5,1004.0 C559.2,1004.4 570.1,1005.9 578.0,1006.5 C585.9,1007.1 595.3,1006.0 603.0,1007.7 C610.7,1009.3 617.0,1013.8 624.0,1016.3 C631.0,1018.9 639.0,1021.8 645.0,1022.9 C651.0,1024.1 655.0,1023.5 660.0,1023.1 C665.0,1022.7 669.5,1021.5 675.0,1020.5 C680.5,1019.5 685.8,1018.4 693.0,1016.9 C700.2,1015.4 711.7,1014.0 718.0,1011.6 C724.3,1009.2 726.8,1004.6 731.0,1002.5 C735.2,1000.4 739.5,999.6 743.0,999.0 C746.5,998.3 748.8,997.3 752.0,998.5 C755.2,999.8 760.3,1004.9 762.0,1006.2" fill="none" stroke="#000" stroke-opacity="0.12" stroke-width="6.1" stroke-linejoin="round"/>
<path d="M762.0,1007.5 C764.2,1008.7 770.8,1013.4 775.0,1014.8 C779.2,1016.2 784.1,1015.7 787.0,1015.9 C789.9,1016.0 791.6,1015.8 792.5,1015.8" fill="none" stroke="#000" stroke-opacity="0.20" stroke-width="5.8" stroke-linejoin="round"/>
<path d="M555.5,1015.3 C559.2,1016.3 570.1,1020.3 578.0,1021.1 C585.9,1021.9 595.3,1018.9 603.0,1020.1 C610.7,1021.2 617.0,1026.0 624.0,1028.1 C631.0,1030.3 641.5,1032.0 645.0,1032.7" fill="none" stroke="#fff" stroke-opacity="0.35" stroke-width="6.4" stroke-linejoin="round"/>
<path d="M645.0,1033.1 C647.5,1033.5 655.0,1035.6 660.0,1035.6 C665.0,1035.6 669.5,1034.4 675.0,1033.3 C680.5,1032.1 685.8,1030.6 693.0,1028.7 C700.2,1026.9 711.7,1024.6 718.0,1022.4 C724.3,1020.1 728.8,1016.6 731.0,1015.5" fill="none" stroke="#fff" stroke-opacity="0.43" stroke-width="7.5" stroke-linejoin="round"/>
<path d="M731.0,1014.6 C733.0,1014.0 739.5,1012.2 743.0,1011.5 C746.5,1010.8 748.8,1009.1 752.0,1010.4 C755.2,1011.6 758.2,1016.4 762.0,1019.1 C765.8,1021.8 770.8,1025.2 775.0,1026.5 C779.2,1027.9 784.1,1027.3 787.0,1027.4 C789.9,1027.4 791.6,1027.0 792.5,1027.0" fill="none" stroke="#fff" stroke-opacity="0.57" stroke-width="5.6" stroke-linejoin="round"/>
<path d="M555.5,1028.8 C559.2,1029.5 570.1,1032.7 578.0,1033.1 C585.9,1033.5 598.8,1031.5 603.0,1031.2" fill="none" stroke="#000" stroke-opacity="0.18" stroke-width="8.2" stroke-linejoin="round"/>
<path d="M603.0,1031.7 C606.5,1033.2 617.0,1038.5 624.0,1040.7 C631.0,1042.9 639.0,1043.6 645.0,1045.0 C651.0,1046.4 655.0,1049.1 660.0,1049.1 C665.0,1049.0 672.5,1045.4 675.0,1044.7" fill="none" stroke="#000" stroke-opacity="0.22" stroke-width="6.6" stroke-linejoin="round"/>
<path d="M675.0,1044.8 C678.0,1044.2 685.8,1043.3 693.0,1041.6 C700.2,1040.0 711.7,1036.7 718.0,1034.7 C724.3,1032.7 726.8,1031.1 731.0,1029.5 C735.2,1028.0 739.5,1027.0 743.0,1025.6 C746.5,1024.2 748.8,1020.1 752.0,1021.0 C755.2,1021.9 758.2,1028.4 762.0,1031.2 C765.8,1034.0 770.8,1036.2 775.0,1037.7 C779.2,1039.1 784.1,1039.8 787.0,1040.0 C789.9,1040.3 791.6,1039.3 792.5,1039.2" fill="none" stroke="#000" stroke-opacity="0.26" stroke-width="7.9" stroke-linejoin="round"/>
<path d="M555.5,1038.8 C559.2,1039.4 570.1,1041.8 578.0,1042.6 C585.9,1043.5 595.3,1042.4 603.0,1043.9 C610.7,1045.3 617.0,1048.9 624.0,1051.3 C631.0,1053.7 639.0,1056.9 645.0,1058.4 C651.0,1060.0 657.5,1060.4 660.0,1060.8" fill="none" stroke="#fff" stroke-opacity="0.41" stroke-width="6.3" stroke-linejoin="round"/>
<path d="M660.0,1060.0 C662.5,1059.1 669.5,1055.8 675.0,1054.6 C680.5,1053.4 685.8,1054.3 693.0,1052.9 C700.2,1051.5 711.7,1048.8 718.0,1046.4 C724.3,1044.0 726.8,1040.5 731.0,1038.6 C735.2,1036.7 739.5,1035.6 743.0,1034.8 C746.5,1034.0 748.8,1032.8 752.0,1033.9 C755.2,1035.1 758.2,1039.2 762.0,1041.9 C765.8,1044.5 772.8,1048.4 775.0,1049.7" fill="none" stroke="#fff" stroke-opacity="0.61" stroke-width="7.9" stroke-linejoin="round"/>
<path d="M775.0,1052.2 C777.0,1052.3 784.1,1053.3 787.0,1053.1 C789.9,1052.8 791.6,1051.0 792.5,1050.6" fill="none" stroke="#fff" stroke-opacity="0.37" stroke-width="6.8" stroke-linejoin="round"/>
<path d="M555.5,1053.5 C559.2,1054.1 570.1,1056.4 578.0,1057.0 C585.9,1057.6 595.3,1056.3 603.0,1057.2 C610.7,1058.2 620.5,1061.8 624.0,1062.7" fill="none" stroke="#000" stroke-opacity="0.24" stroke-width="5.7" stroke-linejoin="round"/>
<path d="M624.0,1063.3 C627.5,1064.3 639.0,1068.1 645.0,1069.2 C651.0,1070.4 655.0,1070.1 660.0,1070.0 C665.0,1069.8 672.5,1068.7 675.0,1068.4" fill="none" stroke="#000" stroke-opacity="0.18" stroke-width="8.5" stroke-linejoin="round"/>
<path d="M675.0,1066.6 C678.0,1066.4 685.8,1066.7 693.0,1065.4 C700.2,1064.0 711.7,1060.6 718.0,1058.6 C724.3,1056.7 726.8,1055.2 731.0,1053.6 C735.2,1052.0 739.5,1050.4 743.0,1049.0 C746.5,1047.6 748.8,1044.5 752.0,1045.2 C755.2,1045.9 758.2,1049.9 762.0,1053.1 C765.8,1056.3 770.8,1062.4 775.0,1064.2 C779.2,1066.1 784.1,1064.4 787.0,1064.5 C789.9,1064.6 791.6,1064.8 792.5,1064.8" fill="none" stroke="#000" stroke-opacity="0.19" stroke-width="6.5" stroke-linejoin="round"/>
<path d="M555.5,1065.0 C559.2,1065.3 570.1,1066.5 578.0,1067.2 C585.9,1067.8 598.8,1068.6 603.0,1068.9" fill="none" stroke="#fff" stroke-opacity="0.56" stroke-width="7.4" stroke-linejoin="round"/>
<path d="M603.0,1069.0 C606.5,1069.9 617.0,1072.0 624.0,1074.2 C631.0,1076.4 639.0,1080.8 645.0,1082.2 C651.0,1083.6 655.0,1083.3 660.0,1082.6 C665.0,1081.9 669.5,1078.8 675.0,1077.8 C680.5,1076.8 685.8,1077.6 693.0,1076.5 C700.2,1075.4 711.7,1073.4 718.0,1071.3 C724.3,1069.3 728.8,1065.4 731.0,1064.2" fill="none" stroke="#fff" stroke-opacity="0.50" stroke-width="6.5" stroke-linejoin="round"/>
<path d="M731.0,1063.7 C733.0,1063.3 739.5,1062.0 743.0,1061.3 C746.5,1060.7 748.8,1059.2 752.0,1059.9 C755.2,1060.5 758.2,1062.9 762.0,1065.3 C765.8,1067.6 770.8,1072.0 775.0,1073.7 C779.2,1075.4 784.1,1074.7 787.0,1075.3 C789.9,1075.8 791.6,1076.8 792.5,1077.1" fill="none" stroke="#fff" stroke-opacity="0.29" stroke-width="6.3" stroke-linejoin="round"/>
<path d="M555.5,1077.8 C559.2,1078.4 570.1,1081.2 578.0,1081.4 C585.9,1081.6 595.3,1077.6 603.0,1078.8 C610.7,1080.0 617.0,1086.4 624.0,1088.6 C631.0,1090.8 639.0,1090.7 645.0,1092.0 C651.0,1093.4 655.0,1096.4 660.0,1096.5 C665.0,1096.6 669.5,1093.9 675.0,1092.6 C680.5,1091.3 685.8,1090.6 693.0,1088.8 C700.2,1087.1 713.8,1083.2 718.0,1082.1" fill="none" stroke="#000" stroke-opacity="0.16" stroke-width="5.8" stroke-linejoin="round"/>
<path d="M718.0,1082.5 C720.2,1081.6 726.8,1079.1 731.0,1077.4 C735.2,1075.7 739.5,1073.3 743.0,1072.3 C746.5,1071.4 748.8,1071.0 752.0,1071.9 C755.2,1072.7 758.2,1075.1 762.0,1077.4 C765.8,1079.7 772.8,1084.4 775.0,1085.7" fill="none" stroke="#000" stroke-opacity="0.20" stroke-width="6.2" stroke-linejoin="round"/>
<path d="M775.0,1087.4 C777.0,1087.5 784.1,1087.9 787.0,1088.1 C789.9,1088.3 791.6,1088.4 792.5,1088.5" fill="none" stroke="#000" stroke-opacity="0.12" stroke-width="7.9" stroke-linejoin="round"/>
<path d="M555.5,1089.0 C559.2,1089.5 570.1,1091.4 578.0,1091.7 C585.9,1092.0 595.3,1089.5 603.0,1090.8 C610.7,1092.2 620.5,1098.3 624.0,1099.7" fill="none" stroke="#fff" stroke-opacity="0.39" stroke-width="7.3" stroke-linejoin="round"/>
<path d="M624.0,1100.0 C627.5,1100.7 639.0,1103.0 645.0,1104.0 C651.0,1104.9 655.0,1106.1 660.0,1105.7 C665.0,1105.4 669.5,1102.5 675.0,1101.9 C680.5,1101.4 685.8,1103.8 693.0,1102.4 C700.2,1100.9 713.8,1094.7 718.0,1093.1" fill="none" stroke="#fff" stroke-opacity="0.38" stroke-width="7.9" stroke-linejoin="round"/>
<path d="M718.0,1093.4 C720.2,1092.6 726.8,1090.0 731.0,1088.8 C735.2,1087.6 739.5,1087.1 743.0,1086.1 C746.5,1085.2 748.8,1082.4 752.0,1083.2 C755.2,1084.0 758.2,1088.6 762.0,1091.0 C765.8,1093.4 770.8,1095.9 775.0,1097.6 C779.2,1099.3 784.1,1100.8 787.0,1101.3 C789.9,1101.8 791.6,1100.6 792.5,1100.4" fill="none" stroke="#fff" stroke-opacity="0.30" stroke-width="8.1" stroke-linejoin="round"/>
<path d="M555.5,1101.4 C559.2,1101.8 570.1,1103.4 578.0,1104.0 C585.9,1104.5 598.8,1104.5 603.0,1104.6" fill="none" stroke="#000" stroke-opacity="0.13" stroke-width="6.6" stroke-linejoin="round"/>
<path d="M603.0,1103.9 C606.5,1105.4 617.0,1110.3 624.0,1112.6 C631.0,1114.9 639.0,1116.6 645.0,1117.6 C651.0,1118.6 655.0,1119.1 660.0,1118.7 C665.0,1118.2 669.5,1115.7 675.0,1115.0 C680.5,1114.2 690.0,1114.4 693.0,1114.2" fill="none" stroke="#000" stroke-opacity="0.17" stroke-width="6.0" stroke-linejoin="round"/>
<path d="M693.0,1113.6 C697.2,1112.2 711.7,1107.7 718.0,1105.4 C724.3,1103.2 726.8,1101.4 731.0,1100.1 C735.2,1098.8 739.5,1098.7 743.0,1097.6 C746.5,1096.5 748.8,1092.6 752.0,1093.5 C755.2,1094.3 758.2,1099.8 762.0,1102.6 C765.8,1105.4 770.8,1108.7 775.0,1110.2 C779.2,1111.6 784.1,1111.2 787.0,1111.2 C789.9,1111.1 791.6,1110.0 792.5,1109.8" fill="none" stroke="#000" stroke-opacity="0.15" stroke-width="5.9" stroke-linejoin="round"/>
<path d="M555.5,1111.0 C559.2,1111.8 570.1,1115.1 578.0,1116.1 C585.9,1117.2 595.3,1116.0 603.0,1117.3 C610.7,1118.5 617.0,1122.0 624.0,1123.7 C631.0,1125.3 639.0,1126.0 645.0,1127.2 C651.0,1128.4 655.0,1130.8 660.0,1131.0 C665.0,1131.1 669.5,1128.7 675.0,1128.0 C680.5,1127.2 685.8,1128.5 693.0,1126.6 C700.2,1124.7 711.7,1118.6 718.0,1116.5 C724.3,1114.4 726.8,1115.2 731.0,1113.8 C735.2,1112.4 739.5,1109.0 743.0,1108.1 C746.5,1107.2 748.8,1107.5 752.0,1108.3 C755.2,1109.2 758.2,1110.8 762.0,1112.9 C765.8,1115.1 772.8,1119.8 775.0,1121.2" fill="none" stroke="#fff" stroke-opacity="0.24" stroke-width="7.7" stroke-linejoin="round"/>
<path d="M775.0,1122.1 C777.0,1122.4 784.1,1124.1 787.0,1124.2 C789.9,1124.3 791.6,1122.9 792.5,1122.7" fill="none" stroke="#fff" stroke-opacity="0.32" stroke-width="7.1" stroke-linejoin="round"/>
<path d="M555.5,1123.6 C559.2,1124.5 570.1,1128.1 578.0,1128.8 C585.9,1129.5 595.3,1127.0 603.0,1128.0 C610.7,1129.1 617.0,1132.7 624.0,1134.9 C631.0,1137.1 639.0,1140.4 645.0,1141.3 C651.0,1142.3 655.0,1141.1 660.0,1140.7 C665.0,1140.4 672.5,1139.4 675.0,1139.1" fill="none" stroke="#000" stroke-opacity="0.07" stroke-width="6.8" stroke-linejoin="round"/>
<path d="M675.0,1138.4 C678.0,1138.4 685.8,1139.7 693.0,1138.3 C700.2,1136.9 711.7,1132.1 718.0,1129.9 C724.3,1127.7 726.8,1126.6 731.0,1125.0 C735.2,1123.4 739.5,1121.2 743.0,1120.3 C746.5,1119.5 748.8,1119.0 752.0,1119.8 C755.2,1120.7 758.2,1123.1 762.0,1125.5 C765.8,1127.9 770.8,1132.6 775.0,1134.4 C779.2,1136.3 784.1,1136.4 787.0,1136.6 C789.9,1136.8 791.6,1135.7 792.5,1135.6" fill="none" stroke="#000" stroke-opacity="0.07" stroke-width="6.6" stroke-linejoin="round"/>
<path d="M555.5,1136.0 C559.2,1136.6 570.1,1138.8 578.0,1139.4 C585.9,1140.0 595.3,1138.1 603.0,1139.5 C610.7,1140.9 617.0,1145.9 624.0,1148.1 C631.0,1150.3 639.0,1151.5 645.0,1152.6 C651.0,1153.6 655.0,1154.7 660.0,1154.4 C665.0,1154.2 669.5,1152.4 675.0,1151.2 C680.5,1150.0 685.8,1148.7 693.0,1147.4 C700.2,1146.0 711.7,1144.7 718.0,1143.0 C724.3,1141.2 728.8,1137.9 731.0,1136.9" fill="none" stroke="#fff" stroke-opacity="0.25" stroke-width="7.8" stroke-linejoin="round"/>
<path d="M731.0,1136.5 C733.0,1136.0 739.5,1134.3 743.0,1133.5 C746.5,1132.6 750.5,1131.5 752.0,1131.2" fill="none" stroke="#fff" stroke-opacity="0.20" stroke-width="7.2" stroke-linejoin="round"/>
<path d="M752.0,1132.8 C753.7,1133.6 758.2,1135.4 762.0,1137.7 C765.8,1140.1 770.8,1145.2 775.0,1147.1 C779.2,1149.0 784.1,1149.5 787.0,1149.3 C789.9,1149.1 791.6,1146.4 792.5,1145.8" fill="none" stroke="#fff" stroke-opacity="0.20" stroke-width="6.8" stroke-linejoin="round"/>
<path d="M555.5,1147.5 C559.2,1148.2 570.1,1150.7 578.0,1151.5 C585.9,1152.4 598.8,1152.4 603.0,1152.5" fill="none" stroke="#000" stroke-opacity="0.09" stroke-width="6.3" stroke-linejoin="round"/>
<path d="M603.0,1153.4 C606.5,1154.4 617.0,1156.9 624.0,1158.9 C631.0,1160.9 639.0,1164.4 645.0,1165.3 C651.0,1166.3 655.0,1165.0 660.0,1164.8 C665.0,1164.5 669.5,1164.8 675.0,1164.0 C680.5,1163.1 685.8,1161.3 693.0,1159.8 C700.2,1158.4 711.7,1157.2 718.0,1155.1 C724.3,1153.0 726.8,1148.7 731.0,1147.1 C735.2,1145.5 739.5,1146.0 743.0,1145.3 C746.5,1144.5 748.8,1142.0 752.0,1142.7 C755.2,1143.4 758.2,1146.7 762.0,1149.4 C765.8,1152.0 770.8,1156.8 775.0,1158.6 C779.2,1160.4 784.1,1160.2 787.0,1160.1 C789.9,1160.1 791.6,1158.6 792.5,1158.3" fill="none" stroke="#000" stroke-opacity="0.10" stroke-width="7.8" stroke-linejoin="round"/>
<path d="M555.5,1159.1 C559.2,1159.9 570.1,1163.1 578.0,1164.0 C585.9,1164.9 595.3,1163.6 603.0,1164.5 C610.7,1165.4 617.0,1167.2 624.0,1169.3 C631.0,1171.4 639.0,1175.3 645.0,1176.9 C651.0,1178.6 655.0,1179.8 660.0,1179.3 C665.0,1178.8 669.5,1175.0 675.0,1173.8 C680.5,1172.7 685.8,1173.6 693.0,1172.4 C700.2,1171.3 711.7,1169.0 718.0,1167.1 C724.3,1165.1 726.8,1162.3 731.0,1160.6 C735.2,1158.9 739.5,1157.6 743.0,1156.9 C746.5,1156.1 748.8,1155.2 752.0,1156.1 C755.2,1157.1 760.3,1161.6 762.0,1162.6" fill="none" stroke="#fff" stroke-opacity="0.17" stroke-width="8.2" stroke-linejoin="round"/>
<path d="M762.0,1162.8 L775.0,1169.5" fill="none" stroke="#fff" stroke-opacity="0.19" stroke-width="6.3" stroke-linejoin="round"/>
<path d="M775.0,1170.4 C777.0,1170.7 784.1,1172.4 787.0,1172.2 C789.9,1172.0 791.6,1169.8 792.5,1169.4" fill="none" stroke="#fff" stroke-opacity="0.12" stroke-width="6.2" stroke-linejoin="round"/>
<path d="M555.5,1173.5 C559.2,1173.7 570.1,1174.7 578.0,1175.0 C585.9,1175.3 595.3,1174.0 603.0,1175.1 C610.7,1176.3 617.0,1179.7 624.0,1181.7 C631.0,1183.6 639.0,1185.7 645.0,1186.9 C651.0,1188.1 655.0,1188.9 660.0,1188.7 C665.0,1188.4 669.5,1185.8 675.0,1185.4 C680.5,1184.9 685.8,1187.0 693.0,1185.9 C700.2,1184.8 711.7,1181.1 718.0,1178.7 C724.3,1176.4 726.8,1173.3 731.0,1171.7 C735.2,1170.1 739.5,1169.8 743.0,1169.1 C746.5,1168.4 750.5,1167.8 752.0,1167.5" fill="none" stroke="#000" stroke-opacity="0.08" stroke-width="6.1" stroke-linejoin="round"/>
<path d="M752.0,1166.7 L762.0,1175.3" fill="none" stroke="#000" stroke-opacity="0.04" stroke-width="6.3" stroke-linejoin="round"/>
<path d="M762.0,1173.1 C764.2,1174.6 770.8,1180.1 775.0,1181.7 C779.2,1183.3 784.1,1182.7 787.0,1182.7 C789.9,1182.6 791.6,1181.7 792.5,1181.5" fill="none" stroke="#000" stroke-opacity="0.05" stroke-width="7.4" stroke-linejoin="round"/>
<path d="M555.5,1183.7 C559.2,1184.2 570.1,1186.0 578.0,1186.5 C585.9,1186.9 595.3,1185.1 603.0,1186.6 C610.7,1188.1 617.0,1193.4 624.0,1195.6 C631.0,1197.8 639.0,1198.9 645.0,1199.7 C651.0,1200.4 655.0,1200.4 660.0,1200.1 C665.0,1199.9 669.5,1198.8 675.0,1198.0 C680.5,1197.3 685.8,1197.4 693.0,1195.8 C700.2,1194.1 711.7,1190.1 718.0,1188.1 C724.3,1186.1 726.8,1184.5 731.0,1183.6 C735.2,1182.7 741.0,1182.8 743.0,1182.7" fill="none" stroke="#fff" stroke-opacity="0.12" stroke-width="7.1" stroke-linejoin="round"/>
<path d="M743.0,1180.2 C744.5,1180.1 748.8,1178.5 752.0,1179.5 C755.2,1180.4 760.3,1184.9 762.0,1186.0" fill="none" stroke="#fff" stroke-opacity="0.16" stroke-width="8.2" stroke-linejoin="round"/>
<path d="M762.0,1185.4 C764.2,1186.8 770.8,1192.1 775.0,1193.8 C779.2,1195.5 784.1,1195.2 787.0,1195.5 C789.9,1195.8 791.6,1195.5 792.5,1195.5" fill="none" stroke="#fff" stroke-opacity="0.14" stroke-width="5.7" stroke-linejoin="round"/>
<path d="M555.5,1196.9 C559.2,1197.5 570.1,1200.3 578.0,1200.9 C585.9,1201.4 595.3,1199.3 603.0,1200.1 C610.7,1200.8 617.0,1203.4 624.0,1205.2 C631.0,1206.9 639.0,1209.0 645.0,1210.3 C651.0,1211.7 655.0,1213.4 660.0,1213.3 C665.0,1213.2 669.5,1210.4 675.0,1209.7 C680.5,1209.1 685.8,1210.5 693.0,1209.4 C700.2,1208.2 711.7,1205.1 718.0,1202.7 C724.3,1200.3 726.8,1196.9 731.0,1195.1 C735.2,1193.3 739.5,1192.7 743.0,1191.8 C746.5,1191.0 750.5,1190.5 752.0,1190.2" fill="none" stroke="#000" stroke-opacity="0.04" stroke-width="7.0" stroke-linejoin="round"/>
<path d="M752.0,1190.9 C753.7,1191.9 758.2,1194.3 762.0,1196.9 C765.8,1199.5 770.8,1204.7 775.0,1206.3 C779.2,1208.0 784.1,1206.6 787.0,1206.7 C789.9,1206.7 791.6,1206.6 792.5,1206.6" fill="none" stroke="#000" stroke-opacity="0.04" stroke-width="6.6" stroke-linejoin="round"/>
<path d="M555.5,1207.4 C559.2,1208.2 570.1,1211.3 578.0,1211.8 C585.9,1212.4 595.3,1209.7 603.0,1210.8 C610.7,1211.9 617.0,1216.0 624.0,1218.3 C631.0,1220.6 639.0,1223.6 645.0,1224.7 C651.0,1225.8 657.5,1225.0 660.0,1225.0" fill="none" stroke="#fff" stroke-opacity="0.07" stroke-width="6.4" stroke-linejoin="round"/>
<path d="M660.0,1225.4 C662.5,1225.0 669.5,1224.0 675.0,1223.4 C680.5,1222.7 685.8,1223.0 693.0,1221.2 C700.2,1219.4 711.7,1214.3 718.0,1212.5 C724.3,1210.6 726.8,1211.7 731.0,1210.3 C735.2,1208.9 739.5,1204.9 743.0,1204.0 C746.5,1203.0 750.5,1204.5 752.0,1204.6" fill="none" stroke="#fff" stroke-opacity="0.11" stroke-width="5.5" stroke-linejoin="round"/>
<path d="M752.0,1202.3 C753.7,1203.7 758.2,1207.9 762.0,1210.7 C765.8,1213.5 770.8,1217.2 775.0,1218.9 C779.2,1220.6 784.1,1221.1 787.0,1220.9 C789.9,1220.8 791.6,1218.5 792.5,1218.0" fill="none" stroke="#fff" stroke-opacity="0.09" stroke-width="6.2" stroke-linejoin="round"/>
<path d="M555.5,1221.7 C559.2,1222.0 570.1,1223.1 578.0,1223.4 C585.9,1223.7 595.3,1222.5 603.0,1223.4 C610.7,1224.4 617.0,1227.4 624.0,1229.1 C631.0,1230.8 639.0,1232.4 645.0,1233.7 C651.0,1235.0 657.5,1236.5 660.0,1237.1" fill="none" stroke="#000" stroke-opacity="0.04" stroke-width="7.3" stroke-linejoin="round"/>
<path d="M660.0,1236.0 C662.5,1235.9 669.5,1235.5 675.0,1235.1 C680.5,1234.7 685.8,1235.1 693.0,1233.5 C700.2,1231.9 711.7,1227.6 718.0,1225.6 C724.3,1223.6 726.8,1222.3 731.0,1221.3 C735.2,1220.2 739.5,1219.9 743.0,1219.1 C746.5,1218.3 748.8,1215.7 752.0,1216.4 C755.2,1217.1 758.2,1221.2 762.0,1223.3 C765.8,1225.3 770.8,1227.7 775.0,1228.7 C779.2,1229.8 784.1,1229.2 787.0,1229.7 C789.9,1230.2 791.6,1231.5 792.5,1231.9" fill="none" stroke="#000" stroke-opacity="0.05" stroke-width="6.3" stroke-linejoin="round"/>
<path d="M555.5,1231.9 C559.2,1232.8 570.1,1236.4 578.0,1237.2 C585.9,1237.9 595.3,1235.7 603.0,1236.5 C610.7,1237.3 617.0,1240.4 624.0,1242.1 C631.0,1243.8 639.0,1245.8 645.0,1246.7 C651.0,1247.6 655.0,1248.0 660.0,1247.6 C665.0,1247.1 669.5,1244.9 675.0,1244.1 C680.5,1243.4 690.0,1243.4 693.0,1243.2" fill="none" stroke="#fff" stroke-opacity="0.11" stroke-width="7.7" stroke-linejoin="round"/>
<path d="M693.0,1243.1 C697.2,1242.2 711.7,1239.2 718.0,1237.5 C724.3,1235.8 726.8,1234.4 731.0,1233.0 C735.2,1231.7 739.5,1230.1 743.0,1229.4 C746.5,1228.8 748.8,1228.1 752.0,1229.2 C755.2,1230.3 758.2,1233.8 762.0,1236.0 C765.8,1238.2 770.8,1241.0 775.0,1242.2 C779.2,1243.4 784.1,1243.0 787.0,1243.1 C789.9,1243.2 791.6,1242.7 792.5,1242.6" fill="none" stroke="#fff" stroke-opacity="0.09" stroke-width="8.2" stroke-linejoin="round"/>
<path d="M555.5,1246.3 C559.2,1246.4 570.1,1246.5 578.0,1246.8 C585.9,1247.2 598.8,1248.1 603.0,1248.4" fill="none" stroke="#000" stroke-opacity="0.04" stroke-width="7.9" stroke-linejoin="round"/>
<path d="M603.0,1247.0 C606.5,1248.4 617.0,1253.2 624.0,1255.4 C631.0,1257.7 639.0,1259.7 645.0,1260.4 C651.0,1261.2 655.0,1260.3 660.0,1259.9 C665.0,1259.4 669.5,1258.2 675.0,1257.8 C680.5,1257.4 685.8,1258.5 693.0,1257.2 C700.2,1256.0 711.7,1252.3 718.0,1250.1 C724.3,1247.8 726.8,1244.7 731.0,1243.5 C735.2,1242.3 739.5,1243.2 743.0,1242.8 C746.5,1242.5 748.8,1241.0 752.0,1241.5 C755.2,1242.0 758.2,1243.9 762.0,1245.8 C765.8,1247.7 770.8,1251.7 775.0,1253.0 C779.2,1254.3 784.1,1253.8 787.0,1253.7 C789.9,1253.6 791.6,1252.8 792.5,1252.7" fill="none" stroke="#000" stroke-opacity="0.03" stroke-width="7.9" stroke-linejoin="round"/>
<path d="M555.5,1257.5 C559.2,1258.0 570.1,1259.8 578.0,1260.4 C585.9,1261.1 598.8,1261.1 603.0,1261.3" fill="none" stroke="#fff" stroke-opacity="0.09" stroke-width="8.2" stroke-linejoin="round"/>
<path d="M603.0,1259.9 C606.5,1261.1 617.0,1264.9 624.0,1266.8 C631.0,1268.6 639.0,1270.3 645.0,1271.0 C651.0,1271.7 655.0,1271.1 660.0,1271.0 C665.0,1270.8 669.5,1270.6 675.0,1270.2 C680.5,1269.9 685.8,1270.3 693.0,1269.0 C700.2,1267.8 711.7,1265.0 718.0,1262.9 C724.3,1260.8 726.8,1257.9 731.0,1256.5 C735.2,1255.1 739.5,1255.4 743.0,1254.5 C746.5,1253.6 748.8,1250.4 752.0,1251.0 C755.2,1251.6 758.2,1255.8 762.0,1258.2 C765.8,1260.6 770.8,1263.7 775.0,1265.4 C779.2,1267.2 784.1,1268.3 787.0,1268.5 C789.9,1268.7 791.6,1266.9 792.5,1266.5" fill="none" stroke="#fff" stroke-opacity="0.08" stroke-width="8.1" stroke-linejoin="round"/>
<path d="M555.5,1269.8 C559.2,1270.1 570.1,1271.3 578.0,1271.6 C585.9,1271.8 595.3,1270.4 603.0,1271.3 C610.7,1272.3 617.0,1275.7 624.0,1277.4 C631.0,1279.1 639.0,1280.6 645.0,1281.6 C651.0,1282.6 655.0,1283.5 660.0,1283.4 C665.0,1283.2 669.5,1281.5 675.0,1280.8 C680.5,1280.1 685.8,1280.0 693.0,1279.0 C700.2,1278.0 711.7,1276.3 718.0,1274.6 C724.3,1273.0 726.8,1270.5 731.0,1268.9 C735.2,1267.3 739.5,1266.0 743.0,1265.0 C746.5,1264.1 750.5,1263.6 752.0,1263.3" fill="none" stroke="#000" stroke-opacity="0.04" stroke-width="6.7" stroke-linejoin="round"/>
<path d="M752.0,1265.7 C753.7,1266.7 758.2,1269.8 762.0,1271.6 C765.8,1273.5 770.8,1275.7 775.0,1276.9 C779.2,1278.1 784.1,1279.0 787.0,1279.0 C789.9,1278.9 791.6,1277.1 792.5,1276.7" fill="none" stroke="#000" stroke-opacity="0.03" stroke-width="7.8" stroke-linejoin="round"/>
<path d="M555.5,1280.7 C559.2,1281.5 570.1,1284.9 578.0,1285.3 C585.9,1285.7 598.8,1283.4 603.0,1283.1" fill="none" stroke="#fff" stroke-opacity="0.07" stroke-width="6.0" stroke-linejoin="round"/>
<path d="M603.0,1283.0 C606.5,1283.9 617.0,1286.6 624.0,1288.5 C631.0,1290.5 639.0,1293.5 645.0,1294.6 C651.0,1295.7 655.0,1295.5 660.0,1295.1 C665.0,1294.7 669.5,1293.0 675.0,1292.1 C680.5,1291.3 690.0,1290.5 693.0,1290.1" fill="none" stroke="#fff" stroke-opacity="0.11" stroke-width="6.7" stroke-linejoin="round"/>
<path d="M693.0,1291.3 C697.2,1290.3 711.7,1286.8 718.0,1285.3 C724.3,1283.7 726.8,1283.3 731.0,1282.1 C735.2,1280.8 739.5,1279.1 743.0,1277.9 C746.5,1276.7 748.8,1274.3 752.0,1274.9 C755.2,1275.6 758.2,1279.4 762.0,1281.6 C765.8,1283.8 770.8,1286.6 775.0,1288.2 C779.2,1289.8 784.1,1290.8 787.0,1291.3 C789.9,1291.8 791.6,1291.4 792.5,1291.5" fill="none" stroke="#fff" stroke-opacity="0.07" stroke-width="5.9" stroke-linejoin="round"/>
</g>
<g filter="url(#bl25Bii)">
<path d="M555.5,1098.0 C559.6,1099.0 570.9,1101.7 580.0,1104.0 C589.1,1106.3 600.0,1109.3 610.0,1112.0 C620.0,1114.7 631.7,1120.7 640.0,1120.0 C648.3,1119.3 651.7,1111.3 660.0,1108.0 C668.3,1104.7 685.0,1101.3 690.0,1100.0" fill="none" stroke="#fff" stroke-opacity="0.4" stroke-width="15" stroke-linejoin="round" stroke-linecap="butt"/>
<path d="M555.5,1098.0 C559.6,1099.0 570.9,1101.7 580.0,1104.0 C589.1,1106.3 600.0,1109.3 610.0,1112.0 C620.0,1114.7 631.7,1120.7 640.0,1120.0 C648.3,1119.3 651.7,1111.3 660.0,1108.0 C668.3,1104.7 685.0,1101.3 690.0,1100.0" fill="none" stroke="#000" stroke-opacity="0.35" stroke-width="5" stroke-linejoin="round" stroke-linecap="round"/>
</g>
<g filter="url(#bl16Bii)">
<path d="M555.5,1034.0 C556.6,1032.7 559.8,1029.0 562.0,1026.0 C564.2,1023.0 567.8,1017.7 569.0,1016.0" fill="none" stroke="#fff" stroke-opacity="1.0" stroke-width="18.0" stroke-linejoin="round" stroke-linecap="butt"/>
<path d="M555.5,1034.0 C556.6,1032.7 559.8,1029.0 562.0,1026.0 C564.2,1023.0 567.8,1017.7 569.0,1016.0" fill="none" stroke="#000" stroke-opacity="1.0" stroke-width="6.8" stroke-linejoin="round" stroke-linecap="round"/>
<path d="M555.5,1054.0 L565.0,1045.0" fill="none" stroke="#fff" stroke-opacity="1.0" stroke-width="14.0" stroke-linejoin="round" stroke-linecap="butt"/>
<path d="M555.5,1054.0 L565.0,1045.0" fill="none" stroke="#000" stroke-opacity="0.9" stroke-width="5.2" stroke-linejoin="round" stroke-linecap="round"/>
<path d="M578.3,1043.5 C580.2,1042.9 585.6,1039.8 589.7,1039.8 C593.8,1039.8 599.6,1043.2 603.1,1043.5 C606.6,1043.9 607.3,1040.4 610.8,1041.6 C614.3,1042.9 620.1,1049.2 624.2,1051.2 C628.4,1053.3 632.2,1052.9 635.7,1054.0 C639.2,1055.2 643.6,1057.3 645.2,1058.0" fill="none" stroke="#000" stroke-opacity="0.5" stroke-width="3.8" stroke-linejoin="round" stroke-linecap="round"/>
<path d="M578.3,1068.5 C580.2,1067.8 585.6,1064.7 589.7,1064.7 C593.8,1064.7 599.6,1068.1 603.1,1068.5 C606.6,1068.8 607.3,1065.3 610.8,1066.5 C614.3,1067.8 620.1,1074.1 624.2,1076.2 C628.4,1078.2 632.2,1077.8 635.7,1079.0 C639.2,1080.1 643.6,1082.2 645.2,1082.9" fill="none" stroke="#000" stroke-opacity="0.5" stroke-width="3.8" stroke-linejoin="round" stroke-linecap="round"/>
<path d="M578.3,1056.0 C580.2,1055.4 585.6,1052.2 589.7,1052.2 C593.8,1052.2 599.6,1055.7 603.1,1056.0 C606.6,1056.3 607.3,1052.8 610.8,1054.1 C614.3,1055.4 620.1,1061.6 624.2,1063.7 C628.4,1065.8 632.2,1065.4 635.7,1066.5 C639.2,1067.6 643.6,1069.8 645.2,1070.4" fill="none" stroke="#fff" stroke-opacity="1.0" stroke-width="21.3" stroke-linejoin="round" stroke-linecap="butt"/>
<path d="M578.3,1056.0 C580.2,1055.4 585.6,1052.2 589.7,1052.2 C593.8,1052.2 599.6,1055.7 603.1,1056.0 C606.6,1056.3 607.3,1052.8 610.8,1054.1 C614.3,1055.4 620.1,1061.6 624.2,1063.7 C628.4,1065.8 632.2,1065.4 635.7,1066.5 C639.2,1067.6 643.6,1069.8 645.2,1070.4" fill="none" stroke="#000" stroke-opacity="1.0" stroke-width="7.5" stroke-linejoin="round" stroke-linecap="round"/>
<path d="M620.0,1083.0 C622.0,1083.7 628.5,1085.8 632.0,1087.0 C635.5,1088.2 639.5,1089.5 641.0,1090.0" fill="none" stroke="#000" stroke-opacity="0.75" stroke-width="3" stroke-linejoin="round" stroke-linecap="round"/>
<path d="M645.0,1092.0 C646.2,1090.3 649.7,1084.5 652.0,1082.0 C654.3,1079.5 656.6,1079.0 658.6,1077.0 C660.6,1075.0 663.1,1071.2 664.0,1070.0" fill="none" stroke="#fff" stroke-opacity="1.0" stroke-width="17.2" stroke-linejoin="round" stroke-linecap="butt"/>
<path d="M645.0,1092.0 C646.2,1090.3 649.7,1084.5 652.0,1082.0 C654.3,1079.5 656.6,1079.0 658.6,1077.0 C660.6,1075.0 663.1,1071.2 664.0,1070.0" fill="none" stroke="#000" stroke-opacity="1.0" stroke-width="6.0" stroke-linejoin="round" stroke-linecap="round"/>
<path d="M659.0,1045.5 L665.0,1043.5" fill="none" stroke="#fff" stroke-opacity="1.0" stroke-width="15.600000000000001" stroke-linejoin="round" stroke-linecap="butt"/>
<path d="M659.0,1045.5 L665.0,1043.5" fill="none" stroke="#000" stroke-opacity="1.0" stroke-width="6.8" stroke-linejoin="round" stroke-linecap="round"/>
<path d="M688.0,1009.0 C688.8,1008.5 691.0,1006.3 693.0,1006.3 C695.0,1006.3 696.8,1009.0 700.0,1009.0 C703.2,1009.0 707.9,1007.4 712.2,1006.3 C716.5,1005.2 721.8,1002.8 725.6,1002.4 C729.4,1002.0 733.4,1003.7 735.0,1004.0" fill="none" stroke="#fff" stroke-opacity="1.0" stroke-width="17.2" stroke-linejoin="round" stroke-linecap="butt"/>
<path d="M688.0,1009.0 C688.8,1008.5 691.0,1006.3 693.0,1006.3 C695.0,1006.3 696.8,1009.0 700.0,1009.0 C703.2,1009.0 707.9,1007.4 712.2,1006.3 C716.5,1005.2 721.8,1002.8 725.6,1002.4 C729.4,1002.0 733.4,1003.7 735.0,1004.0" fill="none" stroke="#000" stroke-opacity="0.95" stroke-width="6.0" stroke-linejoin="round" stroke-linecap="round"/>
<path d="M706.4,1029.8 C708.0,1029.2 711.9,1027.6 716.0,1026.0 C720.1,1024.4 726.8,1022.4 731.3,1020.2 C735.8,1018.0 739.6,1014.5 742.8,1012.6 C746.0,1010.7 746.6,1007.9 750.4,1008.8 C754.2,1009.8 761.3,1015.8 765.8,1018.3 C770.3,1020.8 772.8,1022.8 777.2,1024.1 C781.7,1025.4 790.0,1025.7 792.5,1026.0" fill="none" stroke="#000" stroke-opacity="0.5" stroke-width="3.8" stroke-linejoin="round" stroke-linecap="round"/>
<path d="M706.4,1055.4 C708.0,1054.8 711.9,1053.2 716.0,1051.6 C720.1,1050.0 726.8,1048.0 731.3,1045.8 C735.8,1043.6 739.6,1040.1 742.8,1038.2 C746.0,1036.3 746.6,1033.5 750.4,1034.4 C754.2,1035.4 761.3,1041.3 765.8,1043.9 C770.3,1046.4 772.8,1048.4 777.2,1049.7 C781.7,1051.0 790.0,1051.3 792.5,1051.6" fill="none" stroke="#000" stroke-opacity="0.5" stroke-width="3.8" stroke-linejoin="round" stroke-linecap="round"/>
<path d="M706.4,1042.6 C708.0,1042.0 711.9,1040.4 716.0,1038.8 C720.1,1037.2 726.8,1035.2 731.3,1033.0 C735.8,1030.8 739.6,1027.3 742.8,1025.4 C746.0,1023.5 746.6,1020.7 750.4,1021.6 C754.2,1022.5 761.3,1028.5 765.8,1031.1 C770.3,1033.6 772.8,1035.6 777.2,1036.9 C781.7,1038.2 790.0,1038.5 792.5,1038.8" fill="none" stroke="#fff" stroke-opacity="1.0" stroke-width="22.0" stroke-linejoin="round" stroke-linecap="butt"/>
<path d="M706.4,1042.6 C708.0,1042.0 711.9,1040.4 716.0,1038.8 C720.1,1037.2 726.8,1035.2 731.3,1033.0 C735.8,1030.8 739.6,1027.3 742.8,1025.4 C746.0,1023.5 746.6,1020.7 750.4,1021.6 C754.2,1022.5 761.3,1028.5 765.8,1031.1 C770.3,1033.6 772.8,1035.6 777.2,1036.9 C781.7,1038.2 790.0,1038.5 792.5,1038.8" fill="none" stroke="#000" stroke-opacity="1.0" stroke-width="8.2" stroke-linejoin="round" stroke-linecap="round"/>
<path d="M693.0,1054.0 C694.6,1054.0 698.5,1055.5 702.6,1054.0 C706.8,1052.6 713.1,1047.8 717.9,1045.5 C722.7,1043.1 727.1,1041.3 731.3,1039.8 C735.4,1038.2 739.3,1036.9 742.8,1036.0 C746.3,1035.0 749.2,1033.0 752.4,1034.0 C755.6,1034.9 758.1,1038.9 761.9,1041.6 C765.7,1044.4 771.1,1048.5 775.3,1050.2 C779.4,1052.0 783.9,1052.0 786.8,1052.1 C789.7,1052.3 791.5,1051.4 792.5,1051.2" fill="none" stroke="#000" stroke-opacity="0.5" stroke-width="3.8" stroke-linejoin="round" stroke-linecap="round"/>
<path d="M693.0,1079.0 C694.6,1079.0 698.5,1080.4 702.6,1079.0 C706.8,1077.5 713.1,1072.7 717.9,1070.4 C722.7,1068.0 727.1,1066.2 731.3,1064.7 C735.4,1063.1 739.3,1061.8 742.8,1060.9 C746.3,1059.9 749.2,1057.9 752.4,1058.9 C755.6,1059.8 758.1,1063.8 761.9,1066.5 C765.7,1069.3 771.1,1073.4 775.3,1075.2 C779.4,1076.9 783.9,1076.9 786.8,1077.0 C789.7,1077.2 791.5,1076.3 792.5,1076.2" fill="none" stroke="#000" stroke-opacity="0.5" stroke-width="3.8" stroke-linejoin="round" stroke-linecap="round"/>
<path d="M693.0,1066.5 C694.6,1066.5 698.5,1067.9 702.6,1066.5 C706.8,1065.1 713.1,1060.3 717.9,1057.9 C722.7,1055.5 727.1,1053.8 731.3,1052.2 C735.4,1050.6 739.3,1049.4 742.8,1048.4 C746.3,1047.4 749.2,1045.5 752.4,1046.4 C755.6,1047.4 758.1,1051.4 761.9,1054.1 C765.7,1056.8 771.1,1061.0 775.3,1062.7 C779.4,1064.5 783.9,1064.4 786.8,1064.6 C789.7,1064.8 791.5,1063.8 792.5,1063.7" fill="none" stroke="#fff" stroke-opacity="1.0" stroke-width="21.3" stroke-linejoin="round" stroke-linecap="butt"/>
<path d="M693.0,1066.5 C694.6,1066.5 698.5,1067.9 702.6,1066.5 C706.8,1065.1 713.1,1060.3 717.9,1057.9 C722.7,1055.5 727.1,1053.8 731.3,1052.2 C735.4,1050.6 739.3,1049.4 742.8,1048.4 C746.3,1047.4 749.2,1045.5 752.4,1046.4 C755.6,1047.4 758.1,1051.4 761.9,1054.1 C765.7,1056.8 771.1,1061.0 775.3,1062.7 C779.4,1064.5 783.9,1064.4 786.8,1064.6 C789.7,1064.8 791.5,1063.8 792.5,1063.7" fill="none" stroke="#000" stroke-opacity="1.0" stroke-width="7.5" stroke-linejoin="round" stroke-linecap="round"/>
<path d="M719.8,1080.0 C722.0,1078.7 728.5,1074.5 733.0,1072.0 C737.5,1069.5 742.4,1064.9 746.6,1064.7 C750.8,1064.5 752.6,1067.8 758.0,1071.0 C763.4,1074.2 773.4,1081.3 779.1,1083.8 C784.9,1086.2 790.3,1085.4 792.5,1085.7" fill="none" stroke="#fff" stroke-opacity="0.8" stroke-width="10.1" stroke-linejoin="round" stroke-linecap="butt"/>
<path d="M719.8,1080.0 C722.0,1078.7 728.5,1074.5 733.0,1072.0 C737.5,1069.5 742.4,1064.9 746.6,1064.7 C750.8,1064.5 752.6,1067.8 758.0,1071.0 C763.4,1074.2 773.4,1081.3 779.1,1083.8 C784.9,1086.2 790.3,1085.4 792.5,1085.7" fill="none" stroke="#000" stroke-opacity="0.7" stroke-width="2.5" stroke-linejoin="round" stroke-linecap="round"/>
<path d="M772.0,1006.0 L792.5,1008.0" fill="none" stroke="#000" stroke-opacity="0.6" stroke-width="3" stroke-linejoin="round" stroke-linecap="round"/>
<path d="M775.0,1206.0 C776.7,1204.8 782.2,1201.2 785.0,1199.0 C787.8,1196.8 790.8,1194.0 792.0,1193.0" fill="none" stroke="#fff" stroke-opacity="0.8" stroke-width="6.2" stroke-linejoin="round" stroke-linecap="butt"/>
</g>
<g mask="url(#mkBii)">
<g transform="rotate(-35 674.0 1242.8)"><rect x="290.0" y="858.7" width="768.0" height="768.0" filter="url(#sdBii)"/></g>
<g transform="rotate(43 674.0 1242.8)"><rect x="290.0" y="858.7" width="768.0" height="768.0" filter="url(#swBii)"/></g>
</g>
</g>
<rect x="555.5" y="888.0" width="269.0" height="110.1" fill="url(#fadeA)"/>
</g>
<g id="panel-Biii">
<rect x="977.5" y="888.0" width="271.5" height="709.5" fill="#b3b3b3"/>
<g clip-path="url(#cpBiii)">
<rect x="977.5" y="888.0" width="238.5" height="709.5" fill="#b9b9b9"/>
<g transform="rotate(-35 1096.8 1242.8)"><rect x="712.5" y="858.5" width="768.5" height="768.5" filter="url(#n1Biii)"/></g>
<g transform="rotate(43 1096.8 1242.8)" opacity="0.5"><rect x="712.5" y="858.5" width="768.5" height="768.5" filter="url(#n2Biii)"/></g>
<rect x="977.5" y="888.0" width="238.5" height="709.5" filter="url(#nhBiii)" mask="url(#mkBiii)"/>
<g filter="url(#bl20Biii)">
<path d="M977.5,977.9 C980.9,978.9 990.4,982.8 998.0,983.8 C1005.6,984.8 1015.7,984.0 1023.0,983.9 C1030.3,983.9 1036.0,981.8 1042.0,983.7 C1048.0,985.5 1054.2,992.5 1059.0,995.2 C1063.8,997.8 1066.8,999.6 1071.0,999.5 C1075.2,999.5 1079.5,995.6 1084.0,995.1 C1088.5,994.6 1095.7,996.2 1098.0,996.5" fill="none" stroke="#000" stroke-opacity="0.15" stroke-width="7.8" stroke-linejoin="round"/>
<path d="M1098.0,998.5 C1100.2,998.3 1107.2,999.1 1111.0,997.4 C1114.8,995.6 1117.5,989.6 1121.0,988.1 C1124.5,986.7 1127.7,989.2 1132.0,988.6 C1136.3,988.0 1144.5,985.2 1147.0,984.5" fill="none" stroke="#000" stroke-opacity="0.13" stroke-width="6.3" stroke-linejoin="round"/>
<path d="M1147.0,985.6 C1149.3,984.3 1157.2,979.0 1161.0,977.9 C1164.8,976.8 1166.8,979.4 1170.0,979.0 C1173.2,978.7 1176.7,975.4 1180.0,975.7 C1183.3,976.1 1186.5,980.3 1190.0,981.2 C1193.5,982.1 1196.7,981.6 1201.0,981.3 C1205.3,981.0 1213.5,979.7 1216.0,979.4" fill="none" stroke="#000" stroke-opacity="0.14" stroke-width="5.8" stroke-linejoin="round"/>
<path d="M977.5,990.9 C980.9,991.5 990.4,993.6 998.0,994.6 C1005.6,995.7 1015.7,996.7 1023.0,997.0 C1030.3,997.4 1036.0,995.0 1042.0,996.7 C1048.0,998.3 1056.2,1005.2 1059.0,1006.9" fill="none" stroke="#fff" stroke-opacity="0.63" stroke-width="6.0" stroke-linejoin="round"/>
<path d="M1059.0,1007.5 L1071.0,1010.0" fill="none" stroke="#fff" stroke-opacity="0.58" stroke-width="6.3" stroke-linejoin="round"/>
<path d="M1071.0,1012.8 C1073.2,1012.1 1079.5,1008.8 1084.0,1008.4 C1088.5,1008.0 1093.5,1010.1 1098.0,1010.6 C1102.5,1011.1 1107.2,1012.9 1111.0,1011.4 C1114.8,1009.9 1117.5,1003.2 1121.0,1001.4 C1124.5,999.7 1127.7,1002.0 1132.0,1001.0 C1136.3,1000.1 1142.2,997.4 1147.0,995.5 C1151.8,993.6 1157.2,990.2 1161.0,989.6 C1164.8,989.0 1166.8,991.9 1170.0,991.7 C1173.2,991.6 1176.7,989.0 1180.0,988.9 C1183.3,988.8 1186.5,990.3 1190.0,991.1 C1193.5,991.8 1196.7,993.2 1201.0,993.4 C1205.3,993.7 1213.5,992.8 1216.0,992.7" fill="none" stroke="#fff" stroke-opacity="0.64" stroke-width="6.1" stroke-linejoin="round"/>
<path d="M977.5,1002.1 C980.9,1003.2 990.4,1007.4 998.0,1008.4 C1005.6,1009.5 1015.7,1008.4 1023.0,1008.6 C1030.3,1008.8 1036.0,1008.2 1042.0,1009.9 C1048.0,1011.5 1054.2,1016.0 1059.0,1018.4 C1063.8,1020.8 1066.8,1024.0 1071.0,1024.4 C1075.2,1024.9 1079.5,1021.1 1084.0,1021.1 C1088.5,1021.0 1093.5,1023.5 1098.0,1023.9 C1102.5,1024.4 1108.8,1023.8 1111.0,1023.8" fill="none" stroke="#000" stroke-opacity="0.22" stroke-width="5.7" stroke-linejoin="round"/>
<path d="M1111.0,1022.8 C1112.7,1021.2 1117.5,1014.2 1121.0,1012.8 C1124.5,1011.4 1127.7,1015.2 1132.0,1014.6 C1136.3,1013.9 1142.2,1010.8 1147.0,1008.8 C1151.8,1006.7 1158.7,1003.3 1161.0,1002.2" fill="none" stroke="#000" stroke-opacity="0.35" stroke-width="5.5" stroke-linejoin="round"/>
<path d="M1161.0,1003.4 C1162.5,1003.6 1166.8,1005.0 1170.0,1004.5 C1173.2,1004.0 1176.7,1000.6 1180.0,1000.4 C1183.3,1000.3 1186.5,1002.4 1190.0,1003.7 C1193.5,1005.0 1196.7,1007.9 1201.0,1008.1 C1205.3,1008.4 1213.5,1005.4 1216.0,1004.9" fill="none" stroke="#000" stroke-opacity="0.21" stroke-width="5.8" stroke-linejoin="round"/>
<path d="M977.5,1015.0 C980.9,1016.0 990.4,1019.9 998.0,1021.0 C1005.6,1022.0 1015.7,1021.3 1023.0,1021.2 C1030.3,1021.2 1038.8,1020.8 1042.0,1020.8" fill="none" stroke="#fff" stroke-opacity="0.53" stroke-width="8.4" stroke-linejoin="round"/>
<path d="M1042.0,1020.8 C1044.8,1022.5 1054.2,1028.0 1059.0,1030.5 C1063.8,1033.1 1066.8,1035.7 1071.0,1036.1 C1075.2,1036.5 1079.5,1033.3 1084.0,1032.9 C1088.5,1032.5 1093.5,1033.4 1098.0,1033.9 C1102.5,1034.3 1107.2,1037.1 1111.0,1035.7 C1114.8,1034.3 1117.5,1027.2 1121.0,1025.5 C1124.5,1023.9 1127.7,1026.5 1132.0,1025.8 C1136.3,1025.1 1142.2,1023.3 1147.0,1021.4 C1151.8,1019.5 1158.7,1015.5 1161.0,1014.3" fill="none" stroke="#fff" stroke-opacity="0.59" stroke-width="7.8" stroke-linejoin="round"/>
<path d="M1161.0,1015.9 C1162.5,1016.3 1166.8,1018.7 1170.0,1018.0 C1173.2,1017.3 1176.7,1011.8 1180.0,1011.8 C1183.3,1011.8 1186.5,1016.8 1190.0,1017.9 C1193.5,1019.0 1196.7,1018.2 1201.0,1018.3 C1205.3,1018.5 1213.5,1018.9 1216.0,1019.0" fill="none" stroke="#fff" stroke-opacity="0.47" stroke-width="7.0" stroke-linejoin="round"/>
<path d="M977.5,1027.4 C980.9,1028.2 990.4,1031.4 998.0,1032.2 C1005.6,1033.0 1018.8,1032.4 1023.0,1032.4" fill="none" stroke="#000" stroke-opacity="0.18" stroke-width="6.9" stroke-linejoin="round"/>
<path d="M1023.0,1033.3 C1026.2,1033.4 1036.0,1032.0 1042.0,1033.6 C1048.0,1035.2 1054.2,1040.0 1059.0,1042.7 C1063.8,1045.4 1066.8,1049.3 1071.0,1049.8 C1075.2,1050.2 1079.5,1046.1 1084.0,1045.6 C1088.5,1045.1 1093.5,1046.7 1098.0,1046.8 C1102.5,1046.9 1107.2,1047.7 1111.0,1046.0 C1114.8,1044.2 1117.5,1037.4 1121.0,1036.3 C1124.5,1035.2 1127.7,1039.7 1132.0,1039.3 C1136.3,1038.9 1142.2,1036.0 1147.0,1034.1 C1151.8,1032.2 1157.2,1029.0 1161.0,1028.1 C1164.8,1027.1 1166.8,1028.9 1170.0,1028.4 C1173.2,1027.8 1176.7,1024.1 1180.0,1024.6 C1183.3,1025.1 1186.5,1030.6 1190.0,1031.5 C1193.5,1032.5 1196.7,1030.4 1201.0,1030.4 C1205.3,1030.4 1213.5,1031.2 1216.0,1031.4" fill="none" stroke="#000" stroke-opacity="0.26" stroke-width="8.1" stroke-linejoin="round"/>
<path d="M977.5,1040.4 C980.9,1041.1 990.4,1043.7 998.0,1045.0 C1005.6,1046.2 1018.8,1047.3 1023.0,1047.8" fill="none" stroke="#fff" stroke-opacity="0.61" stroke-width="5.9" stroke-linejoin="round"/>
<path d="M1023.0,1047.3 C1026.2,1047.0 1036.0,1043.9 1042.0,1045.2 C1048.0,1046.6 1054.2,1052.8 1059.0,1055.5 C1063.8,1058.3 1066.8,1061.5 1071.0,1061.8 C1075.2,1062.2 1079.5,1058.1 1084.0,1057.8 C1088.5,1057.5 1093.5,1059.8 1098.0,1059.9 C1102.5,1060.1 1107.2,1060.1 1111.0,1058.7 C1114.8,1057.2 1117.5,1052.4 1121.0,1051.2 C1124.5,1050.1 1127.7,1052.5 1132.0,1051.6 C1136.3,1050.6 1142.2,1047.3 1147.0,1045.4 C1151.8,1043.5 1157.2,1040.6 1161.0,1040.0 C1164.8,1039.5 1166.8,1042.7 1170.0,1042.0 C1173.2,1041.4 1176.7,1036.2 1180.0,1036.2 C1183.3,1036.2 1186.5,1041.0 1190.0,1042.1 C1193.5,1043.3 1196.7,1043.3 1201.0,1043.2 C1205.3,1043.2 1213.5,1042.1 1216.0,1041.8" fill="none" stroke="#fff" stroke-opacity="0.56" stroke-width="6.9" stroke-linejoin="round"/>
<path d="M977.5,1052.8 C980.9,1053.9 990.4,1058.0 998.0,1059.2 C1005.6,1060.3 1015.7,1059.8 1023.0,1059.7 C1030.3,1059.7 1036.0,1057.5 1042.0,1058.9 C1048.0,1060.2 1054.2,1065.4 1059.0,1067.9 C1063.8,1070.3 1066.8,1073.8 1071.0,1073.7 C1075.2,1073.7 1079.5,1067.9 1084.0,1067.7 C1088.5,1067.5 1093.5,1071.6 1098.0,1072.6 C1102.5,1073.5 1107.2,1074.9 1111.0,1073.3 C1114.8,1071.7 1117.5,1064.7 1121.0,1063.0 C1124.5,1061.4 1127.7,1064.2 1132.0,1063.5 C1136.3,1062.8 1144.5,1059.4 1147.0,1058.6" fill="none" stroke="#000" stroke-opacity="0.10" stroke-width="7.5" stroke-linejoin="round"/>
<path d="M1147.0,1057.4 C1149.3,1056.9 1157.2,1054.9 1161.0,1054.5 C1164.8,1054.0 1166.8,1055.3 1170.0,1054.5 C1173.2,1053.8 1176.7,1050.1 1180.0,1050.0 C1183.3,1050.0 1186.5,1053.1 1190.0,1054.2 C1193.5,1055.4 1196.7,1056.8 1201.0,1057.0 C1205.3,1057.3 1213.5,1055.9 1216.0,1055.6" fill="none" stroke="#000" stroke-opacity="0.16" stroke-width="7.4" stroke-linejoin="round"/>
<path d="M977.5,1064.8 C980.9,1065.6 990.4,1068.5 998.0,1069.6 C1005.6,1070.7 1015.7,1071.0 1023.0,1071.4 C1030.3,1071.8 1036.0,1070.9 1042.0,1072.2 C1048.0,1073.5 1054.2,1077.5 1059.0,1079.4 C1063.8,1081.3 1066.8,1083.3 1071.0,1083.7 C1075.2,1084.2 1079.5,1082.5 1084.0,1082.3 C1088.5,1082.1 1093.5,1082.1 1098.0,1082.5 C1102.5,1082.9 1107.2,1086.3 1111.0,1084.8 C1114.8,1083.2 1119.3,1075.2 1121.0,1073.3" fill="none" stroke="#fff" stroke-opacity="0.42" stroke-width="6.8" stroke-linejoin="round"/>
<path d="M1121.0,1074.8 L1132.0,1077.3" fill="none" stroke="#fff" stroke-opacity="0.36" stroke-width="6.0" stroke-linejoin="round"/>
<path d="M1132.0,1075.7 C1134.5,1074.8 1142.2,1071.9 1147.0,1070.3 C1151.8,1068.7 1157.2,1066.4 1161.0,1066.0 C1164.8,1065.5 1166.8,1067.8 1170.0,1067.5 C1173.2,1067.2 1176.7,1064.2 1180.0,1064.0 C1183.3,1063.8 1186.5,1065.4 1190.0,1066.1 C1193.5,1066.7 1196.7,1067.2 1201.0,1067.7 C1205.3,1068.2 1213.5,1068.7 1216.0,1068.9" fill="none" stroke="#fff" stroke-opacity="0.44" stroke-width="7.9" stroke-linejoin="round"/>
<path d="M977.5,1076.6 C980.9,1077.5 990.4,1080.4 998.0,1081.7 C1005.6,1083.0 1015.7,1084.0 1023.0,1084.4 C1030.3,1084.7 1036.0,1082.4 1042.0,1083.7 C1048.0,1085.1 1056.2,1091.0 1059.0,1092.4" fill="none" stroke="#000" stroke-opacity="0.12" stroke-width="7.2" stroke-linejoin="round"/>
<path d="M1059.0,1092.4 C1061.0,1093.2 1066.8,1097.0 1071.0,1097.3 C1075.2,1097.5 1079.5,1093.8 1084.0,1093.8 C1088.5,1093.8 1093.5,1096.8 1098.0,1097.3 C1102.5,1097.7 1107.2,1098.5 1111.0,1096.6 C1114.8,1094.7 1117.5,1087.5 1121.0,1085.9 C1124.5,1084.2 1127.7,1087.2 1132.0,1086.8 C1136.3,1086.3 1142.2,1084.4 1147.0,1083.2 C1151.8,1082.0 1157.2,1080.1 1161.0,1079.5 C1164.8,1079.0 1166.8,1080.7 1170.0,1079.7 C1173.2,1078.8 1176.7,1074.0 1180.0,1074.0 C1183.3,1074.0 1188.3,1078.9 1190.0,1079.9" fill="none" stroke="#000" stroke-opacity="0.14" stroke-width="5.8" stroke-linejoin="round"/>
<path d="M1190.0,1078.9 C1191.8,1079.2 1196.7,1080.0 1201.0,1080.4 C1205.3,1080.8 1213.5,1081.1 1216.0,1081.2" fill="none" stroke="#000" stroke-opacity="0.17" stroke-width="6.7" stroke-linejoin="round"/>
<path d="M977.5,1091.6 C980.9,1092.1 990.4,1094.2 998.0,1094.8 C1005.6,1095.5 1015.7,1095.3 1023.0,1095.5 C1030.3,1095.6 1036.0,1094.0 1042.0,1095.8 C1048.0,1097.5 1054.2,1103.6 1059.0,1105.9 C1063.8,1108.2 1066.8,1109.2 1071.0,1109.4 C1075.2,1109.6 1079.5,1107.4 1084.0,1107.1 C1088.5,1106.7 1093.5,1106.7 1098.0,1107.2 C1102.5,1107.7 1107.2,1111.3 1111.0,1110.3 C1114.8,1109.3 1117.5,1102.5 1121.0,1101.0 C1124.5,1099.5 1130.2,1101.4 1132.0,1101.4" fill="none" stroke="#fff" stroke-opacity="0.25" stroke-width="5.7" stroke-linejoin="round"/>
<path d="M1132.0,1099.5 C1134.5,1099.1 1142.2,1098.7 1147.0,1097.2 C1151.8,1095.7 1157.2,1091.2 1161.0,1090.3 C1164.8,1089.5 1168.5,1091.9 1170.0,1092.2" fill="none" stroke="#fff" stroke-opacity="0.35" stroke-width="7.9" stroke-linejoin="round"/>
<path d="M1170.0,1091.3 C1171.7,1090.7 1176.7,1087.5 1180.0,1087.8 C1183.3,1088.1 1186.5,1092.1 1190.0,1093.2 C1193.5,1094.2 1196.7,1094.1 1201.0,1093.8 C1205.3,1093.5 1213.5,1091.8 1216.0,1091.4" fill="none" stroke="#fff" stroke-opacity="0.23" stroke-width="6.6" stroke-linejoin="round"/>
<path d="M977.5,1102.1 C980.9,1102.8 990.4,1104.8 998.0,1105.9 C1005.6,1107.0 1015.7,1108.4 1023.0,1108.8 C1030.3,1109.2 1036.0,1106.9 1042.0,1108.2 C1048.0,1109.5 1054.2,1114.0 1059.0,1116.4 C1063.8,1118.8 1066.8,1122.5 1071.0,1122.6 C1075.2,1122.8 1079.5,1117.6 1084.0,1117.4 C1088.5,1117.2 1093.5,1120.6 1098.0,1121.1 C1102.5,1121.6 1107.2,1122.0 1111.0,1120.3 C1114.8,1118.6 1117.5,1112.4 1121.0,1110.9 C1124.5,1109.5 1127.7,1112.4 1132.0,1111.8 C1136.3,1111.1 1142.2,1108.6 1147.0,1107.1 C1151.8,1105.6 1158.7,1103.7 1161.0,1103.0" fill="none" stroke="#000" stroke-opacity="0.07" stroke-width="8.1" stroke-linejoin="round"/>
<path d="M1161.0,1104.6 C1162.5,1104.6 1166.8,1105.2 1170.0,1104.7 C1173.2,1104.1 1176.7,1101.0 1180.0,1101.2 C1183.3,1101.4 1186.5,1105.1 1190.0,1105.7 C1193.5,1106.4 1196.7,1105.5 1201.0,1105.2 C1205.3,1104.9 1213.5,1104.0 1216.0,1103.8" fill="none" stroke="#000" stroke-opacity="0.08" stroke-width="7.5" stroke-linejoin="round"/>
<path d="M977.5,1115.4 C980.9,1116.3 990.4,1120.0 998.0,1121.0 C1005.6,1122.0 1015.7,1121.1 1023.0,1121.3 C1030.3,1121.5 1036.0,1121.1 1042.0,1122.4 C1048.0,1123.7 1054.2,1127.5 1059.0,1129.2 C1063.8,1130.9 1066.8,1132.4 1071.0,1132.7 C1075.2,1133.1 1079.5,1131.0 1084.0,1131.4 C1088.5,1131.7 1093.5,1134.3 1098.0,1134.8 C1102.5,1135.2 1107.2,1135.9 1111.0,1134.1 C1114.8,1132.4 1119.3,1125.9 1121.0,1124.2" fill="none" stroke="#fff" stroke-opacity="0.14" stroke-width="7.0" stroke-linejoin="round"/>
<path d="M1121.0,1124.2 C1122.8,1124.4 1127.7,1125.9 1132.0,1125.4 C1136.3,1125.0 1142.2,1122.8 1147.0,1121.3 C1151.8,1119.7 1157.2,1116.7 1161.0,1116.2 C1164.8,1115.6 1166.8,1118.6 1170.0,1118.2 C1173.2,1117.9 1176.7,1114.0 1180.0,1114.0 C1183.3,1113.9 1188.3,1117.3 1190.0,1117.9" fill="none" stroke="#fff" stroke-opacity="0.17" stroke-width="8.2" stroke-linejoin="round"/>
<path d="M1190.0,1117.0 C1191.8,1117.2 1196.7,1117.9 1201.0,1118.0 C1205.3,1118.0 1213.5,1117.3 1216.0,1117.2" fill="none" stroke="#fff" stroke-opacity="0.14" stroke-width="7.7" stroke-linejoin="round"/>
<path d="M977.5,1128.0 C980.9,1128.7 990.4,1131.1 998.0,1131.9 C1005.6,1132.8 1015.7,1132.9 1023.0,1133.3 C1030.3,1133.7 1036.0,1133.0 1042.0,1134.4 C1048.0,1135.7 1054.2,1139.0 1059.0,1141.3 C1063.8,1143.6 1066.8,1147.8 1071.0,1148.1 C1075.2,1148.3 1079.5,1143.3 1084.0,1142.6 C1088.5,1141.9 1093.5,1143.7 1098.0,1144.0 C1102.5,1144.3 1107.2,1145.8 1111.0,1144.5 C1114.8,1143.2 1117.5,1137.4 1121.0,1136.0 C1124.5,1134.6 1127.7,1136.8 1132.0,1136.2 C1136.3,1135.6 1142.2,1133.7 1147.0,1132.2 C1151.8,1130.8 1157.2,1128.1 1161.0,1127.6 C1164.8,1127.0 1166.8,1129.3 1170.0,1128.9 C1173.2,1128.6 1176.7,1125.5 1180.0,1125.6 C1183.3,1125.8 1188.3,1129.1 1190.0,1129.7" fill="none" stroke="#000" stroke-opacity="0.06" stroke-width="8.4" stroke-linejoin="round"/>
<path d="M1190.0,1128.3 C1191.8,1128.7 1196.7,1130.1 1201.0,1130.6 C1205.3,1131.0 1213.5,1130.9 1216.0,1130.9" fill="none" stroke="#000" stroke-opacity="0.08" stroke-width="6.4" stroke-linejoin="round"/>
<path d="M977.5,1140.6 C980.9,1141.2 990.4,1143.4 998.0,1144.2 C1005.6,1145.0 1015.7,1144.9 1023.0,1145.3 C1030.3,1145.6 1036.0,1145.0 1042.0,1146.4 C1048.0,1147.8 1054.2,1151.3 1059.0,1153.7 C1063.8,1156.0 1069.0,1159.2 1071.0,1160.3" fill="none" stroke="#fff" stroke-opacity="0.11" stroke-width="7.1" stroke-linejoin="round"/>
<path d="M1071.0,1159.5 C1073.2,1158.6 1079.5,1154.2 1084.0,1153.9 C1088.5,1153.6 1093.5,1157.0 1098.0,1157.8 C1102.5,1158.5 1108.8,1158.3 1111.0,1158.4" fill="none" stroke="#fff" stroke-opacity="0.18" stroke-width="7.1" stroke-linejoin="round"/>
<path d="M1111.0,1157.1 C1112.7,1155.7 1117.5,1149.8 1121.0,1148.5 C1124.5,1147.1 1127.7,1149.2 1132.0,1148.8 C1136.3,1148.5 1142.2,1147.9 1147.0,1146.4 C1151.8,1144.9 1157.2,1140.3 1161.0,1139.7 C1164.8,1139.1 1166.8,1142.9 1170.0,1142.9 C1173.2,1142.8 1176.7,1139.5 1180.0,1139.2 C1183.3,1138.9 1186.5,1140.5 1190.0,1141.3 C1193.5,1142.1 1196.7,1143.7 1201.0,1143.8 C1205.3,1144.0 1213.5,1142.4 1216.0,1142.1" fill="none" stroke="#fff" stroke-opacity="0.21" stroke-width="5.7" stroke-linejoin="round"/>
<path d="M977.5,1152.9 C980.9,1153.8 990.4,1157.2 998.0,1158.1 C1005.6,1159.1 1015.7,1158.8 1023.0,1158.7 C1030.3,1158.7 1036.0,1156.7 1042.0,1157.8 C1048.0,1159.0 1054.2,1163.8 1059.0,1165.9 C1063.8,1168.0 1066.8,1170.0 1071.0,1170.5 C1075.2,1170.9 1079.5,1168.3 1084.0,1168.5 C1088.5,1168.7 1093.5,1171.5 1098.0,1171.7 C1102.5,1171.8 1107.2,1171.0 1111.0,1169.4 C1114.8,1167.8 1117.5,1163.1 1121.0,1162.0 C1124.5,1160.8 1127.7,1162.9 1132.0,1162.4 C1136.3,1161.9 1142.2,1160.7 1147.0,1159.0 C1151.8,1157.3 1157.2,1152.6 1161.0,1152.1 C1164.8,1151.7 1168.5,1155.5 1170.0,1156.2" fill="none" stroke="#000" stroke-opacity="0.04" stroke-width="7.7" stroke-linejoin="round"/>
<path d="M1170.0,1154.5 C1171.7,1154.0 1176.7,1151.8 1180.0,1151.7 C1183.3,1151.7 1186.5,1153.8 1190.0,1154.4 C1193.5,1154.9 1196.7,1155.1 1201.0,1155.3 C1205.3,1155.4 1213.5,1155.2 1216.0,1155.2" fill="none" stroke="#000" stroke-opacity="0.05" stroke-width="6.5" stroke-linejoin="round"/>
<path d="M977.5,1165.1 C980.9,1165.7 990.4,1167.5 998.0,1168.3 C1005.6,1169.1 1015.7,1169.8 1023.0,1170.0 C1030.3,1170.2 1036.0,1167.6 1042.0,1169.4 C1048.0,1171.2 1056.2,1178.7 1059.0,1180.6" fill="none" stroke="#fff" stroke-opacity="0.10" stroke-width="6.3" stroke-linejoin="round"/>
<path d="M1059.0,1177.9 C1061.0,1179.0 1066.8,1184.7 1071.0,1184.8 C1075.2,1184.9 1079.5,1178.8 1084.0,1178.6 C1088.5,1178.3 1093.5,1182.8 1098.0,1183.3 C1102.5,1183.8 1107.2,1183.3 1111.0,1181.7 C1114.8,1180.2 1117.5,1175.3 1121.0,1174.2 C1124.5,1173.2 1127.7,1176.3 1132.0,1175.4 C1136.3,1174.6 1142.2,1171.0 1147.0,1169.2 C1151.8,1167.4 1158.7,1165.5 1161.0,1164.8" fill="none" stroke="#fff" stroke-opacity="0.10" stroke-width="6.0" stroke-linejoin="round"/>
<path d="M1161.0,1165.5 C1162.5,1166.0 1166.8,1168.5 1170.0,1168.3 C1173.2,1168.1 1176.7,1164.3 1180.0,1164.2 C1183.3,1164.1 1186.5,1166.8 1190.0,1167.8 C1193.5,1168.7 1196.7,1170.3 1201.0,1170.0 C1205.3,1169.6 1213.5,1166.5 1216.0,1165.9" fill="none" stroke="#fff" stroke-opacity="0.12" stroke-width="7.6" stroke-linejoin="round"/>
<path d="M977.5,1178.8 C980.9,1179.3 990.4,1180.7 998.0,1181.5 C1005.6,1182.4 1018.8,1183.5 1023.0,1183.9" fill="none" stroke="#000" stroke-opacity="0.04" stroke-width="7.8" stroke-linejoin="round"/>
<path d="M1023.0,1183.0 C1026.2,1183.2 1036.0,1182.9 1042.0,1184.3 C1048.0,1185.7 1054.2,1189.5 1059.0,1191.5 C1063.8,1193.6 1066.8,1196.5 1071.0,1196.6 C1075.2,1196.8 1079.5,1192.6 1084.0,1192.5 C1088.5,1192.4 1093.5,1195.7 1098.0,1196.1 C1102.5,1196.6 1107.2,1197.0 1111.0,1195.3 C1114.8,1193.5 1117.5,1186.9 1121.0,1185.6 C1124.5,1184.2 1127.7,1187.7 1132.0,1187.3 C1136.3,1186.9 1142.2,1184.9 1147.0,1183.2 C1151.8,1181.5 1157.2,1177.4 1161.0,1177.0 C1164.8,1176.6 1166.8,1181.1 1170.0,1181.0 C1173.2,1180.9 1176.7,1176.3 1180.0,1176.3 C1183.3,1176.2 1186.5,1179.9 1190.0,1180.6 C1193.5,1181.4 1196.7,1181.1 1201.0,1180.9 C1205.3,1180.7 1213.5,1179.7 1216.0,1179.5" fill="none" stroke="#000" stroke-opacity="0.05" stroke-width="7.0" stroke-linejoin="round"/>
<path d="M977.5,1189.9 C980.9,1190.7 990.4,1193.5 998.0,1194.5 C1005.6,1195.5 1015.7,1196.0 1023.0,1195.9 C1030.3,1195.8 1036.0,1192.6 1042.0,1194.0 C1048.0,1195.5 1054.2,1202.0 1059.0,1204.4 C1063.8,1206.9 1066.8,1208.6 1071.0,1208.7 C1075.2,1208.7 1081.8,1205.5 1084.0,1204.8" fill="none" stroke="#fff" stroke-opacity="0.09" stroke-width="7.8" stroke-linejoin="round"/>
<path d="M1084.0,1203.8 C1086.3,1204.6 1093.5,1207.5 1098.0,1208.2 C1102.5,1209.0 1107.2,1209.7 1111.0,1208.3 C1114.8,1207.0 1117.5,1201.4 1121.0,1200.0 C1124.5,1198.6 1127.7,1200.5 1132.0,1199.8 C1136.3,1199.1 1142.2,1197.2 1147.0,1195.9 C1151.8,1194.5 1158.7,1192.2 1161.0,1191.5" fill="none" stroke="#fff" stroke-opacity="0.08" stroke-width="8.1" stroke-linejoin="round"/>
<path d="M1161.0,1191.0 C1162.5,1191.0 1166.8,1191.4 1170.0,1190.8 C1173.2,1190.3 1176.7,1187.1 1180.0,1187.6 C1183.3,1188.0 1186.5,1192.5 1190.0,1193.4 C1193.5,1194.4 1196.7,1193.2 1201.0,1193.2 C1205.3,1193.1 1213.5,1193.2 1216.0,1193.2" fill="none" stroke="#fff" stroke-opacity="0.12" stroke-width="7.2" stroke-linejoin="round"/>
<path d="M977.5,1202.6 C980.9,1203.5 990.4,1206.9 998.0,1207.8 C1005.6,1208.8 1015.7,1208.4 1023.0,1208.3 C1030.3,1208.3 1036.0,1206.2 1042.0,1207.6 C1048.0,1208.9 1054.2,1214.2 1059.0,1216.5 C1063.8,1218.8 1066.8,1221.4 1071.0,1221.3 C1075.2,1221.2 1079.5,1216.1 1084.0,1215.9 C1088.5,1215.8 1093.5,1220.1 1098.0,1220.4 C1102.5,1220.7 1107.2,1219.1 1111.0,1217.8 C1114.8,1216.5 1117.5,1213.4 1121.0,1212.6 C1124.5,1211.8 1127.7,1213.8 1132.0,1213.1 C1136.3,1212.5 1144.5,1209.6 1147.0,1208.8" fill="none" stroke="#000" stroke-opacity="0.03" stroke-width="6.6" stroke-linejoin="round"/>
<path d="M1147.0,1208.4 C1149.3,1207.3 1157.2,1202.5 1161.0,1202.1 C1164.8,1201.7 1166.8,1206.1 1170.0,1206.0 C1173.2,1205.8 1176.7,1201.5 1180.0,1201.3 C1183.3,1201.0 1188.3,1204.1 1190.0,1204.6" fill="none" stroke="#000" stroke-opacity="0.04" stroke-width="7.5" stroke-linejoin="round"/>
<path d="M1190.0,1204.0 C1191.8,1204.3 1196.7,1206.0 1201.0,1205.9 C1205.3,1205.8 1213.5,1203.7 1216.0,1203.2" fill="none" stroke="#000" stroke-opacity="0.03" stroke-width="6.1" stroke-linejoin="round"/>
<path d="M977.5,1216.9 C980.9,1217.5 990.4,1220.2 998.0,1220.8 C1005.6,1221.3 1018.8,1220.3 1023.0,1220.2" fill="none" stroke="#fff" stroke-opacity="0.12" stroke-width="7.9" stroke-linejoin="round"/>
<path d="M1023.0,1221.6 C1026.2,1221.7 1036.0,1220.8 1042.0,1221.9 C1048.0,1222.9 1054.2,1226.4 1059.0,1227.9 C1063.8,1229.5 1066.8,1231.2 1071.0,1231.3 C1075.2,1231.3 1079.5,1228.3 1084.0,1228.2 C1088.5,1228.1 1093.5,1230.2 1098.0,1230.6 C1102.5,1231.1 1107.2,1232.0 1111.0,1231.0 C1114.8,1230.0 1117.5,1226.1 1121.0,1224.7 C1124.5,1223.4 1127.7,1223.9 1132.0,1223.0 C1136.3,1222.1 1142.2,1220.7 1147.0,1219.5 C1151.8,1218.3 1157.2,1216.0 1161.0,1215.8 C1164.8,1215.7 1166.8,1219.1 1170.0,1218.7 C1173.2,1218.3 1176.7,1213.8 1180.0,1213.6 C1183.3,1213.5 1186.5,1217.0 1190.0,1217.6 C1193.5,1218.3 1196.7,1217.3 1201.0,1217.3 C1205.3,1217.4 1213.5,1217.7 1216.0,1217.8" fill="none" stroke="#fff" stroke-opacity="0.08" stroke-width="7.6" stroke-linejoin="round"/>
<path d="M977.5,1228.1 C980.9,1228.6 990.4,1229.8 998.0,1230.7 C1005.6,1231.7 1015.7,1233.2 1023.0,1233.8 C1030.3,1234.4 1036.0,1233.2 1042.0,1234.3 C1048.0,1235.4 1056.2,1239.2 1059.0,1240.1" fill="none" stroke="#000" stroke-opacity="0.03" stroke-width="8.0" stroke-linejoin="round"/>
<path d="M1059.0,1241.8 C1061.0,1242.6 1066.8,1246.3 1071.0,1246.3 C1075.2,1246.4 1079.5,1242.5 1084.0,1242.1 C1088.5,1241.8 1093.5,1243.5 1098.0,1244.0 C1102.5,1244.5 1107.2,1246.2 1111.0,1245.0 C1114.8,1243.8 1119.3,1237.9 1121.0,1236.5" fill="none" stroke="#000" stroke-opacity="0.03" stroke-width="5.8" stroke-linejoin="round"/>
<path d="M1121.0,1237.5 C1122.8,1237.5 1127.7,1238.1 1132.0,1237.4 C1136.3,1236.6 1142.2,1234.6 1147.0,1232.9 C1151.8,1231.2 1157.2,1227.5 1161.0,1227.1 C1164.8,1226.8 1166.8,1231.2 1170.0,1230.8 C1173.2,1230.5 1176.7,1225.4 1180.0,1225.0 C1183.3,1224.6 1186.5,1227.0 1190.0,1228.3 C1193.5,1229.5 1196.7,1232.3 1201.0,1232.5 C1205.3,1232.7 1213.5,1230.0 1216.0,1229.5" fill="none" stroke="#000" stroke-opacity="0.03" stroke-width="7.6" stroke-linejoin="round"/>
<path d="M977.5,1241.5 C980.9,1242.0 990.4,1244.3 998.0,1244.8 C1005.6,1245.2 1015.7,1244.1 1023.0,1244.2 C1030.3,1244.2 1038.8,1244.9 1042.0,1245.0" fill="none" stroke="#fff" stroke-opacity="0.07" stroke-width="6.2" stroke-linejoin="round"/>
<path d="M1042.0,1243.6 C1044.8,1245.1 1054.2,1250.0 1059.0,1252.3 C1063.8,1254.6 1066.8,1257.2 1071.0,1257.4 C1075.2,1257.6 1079.5,1253.8 1084.0,1253.5 C1088.5,1253.3 1093.5,1255.5 1098.0,1255.7 C1102.5,1255.9 1108.8,1255.0 1111.0,1254.8" fill="none" stroke="#fff" stroke-opacity="0.09" stroke-width="7.3" stroke-linejoin="round"/>
<path d="M1111.0,1255.2 C1112.7,1254.0 1117.5,1248.9 1121.0,1247.9 C1124.5,1246.9 1127.7,1249.7 1132.0,1249.4 C1136.3,1249.0 1142.2,1247.2 1147.0,1245.8 C1151.8,1244.3 1157.2,1241.7 1161.0,1240.9 C1164.8,1240.0 1166.8,1241.0 1170.0,1240.8 C1173.2,1240.6 1176.7,1239.1 1180.0,1239.6 C1183.3,1240.1 1186.5,1243.2 1190.0,1243.7 C1193.5,1244.1 1196.7,1242.3 1201.0,1242.2 C1205.3,1242.2 1213.5,1243.2 1216.0,1243.4" fill="none" stroke="#fff" stroke-opacity="0.09" stroke-width="8.5" stroke-linejoin="round"/>
<path d="M977.5,1254.6 C980.9,1255.0 990.4,1256.3 998.0,1256.9 C1005.6,1257.6 1015.7,1258.6 1023.0,1258.5 C1030.3,1258.5 1036.0,1255.6 1042.0,1256.8 C1048.0,1258.0 1054.2,1263.7 1059.0,1265.7 C1063.8,1267.7 1069.0,1268.2 1071.0,1268.7" fill="none" stroke="#000" stroke-opacity="0.05" stroke-width="6.4" stroke-linejoin="round"/>
<path d="M1071.0,1269.2 C1073.2,1268.6 1079.5,1266.0 1084.0,1265.7 C1088.5,1265.4 1093.5,1266.5 1098.0,1267.2 C1102.5,1267.9 1107.2,1271.0 1111.0,1269.7 C1114.8,1268.4 1119.3,1261.0 1121.0,1259.3" fill="none" stroke="#000" stroke-opacity="0.04" stroke-width="8.2" stroke-linejoin="round"/>
<path d="M1121.0,1261.1 C1122.8,1261.1 1127.7,1261.9 1132.0,1261.3 C1136.3,1260.8 1142.2,1259.4 1147.0,1258.0 C1151.8,1256.6 1157.2,1253.5 1161.0,1252.8 C1164.8,1252.1 1166.8,1254.2 1170.0,1253.9 C1173.2,1253.5 1176.7,1250.7 1180.0,1250.6 C1183.3,1250.5 1186.5,1252.3 1190.0,1253.4 C1193.5,1254.6 1196.7,1257.3 1201.0,1257.5 C1205.3,1257.7 1213.5,1255.2 1216.0,1254.7" fill="none" stroke="#000" stroke-opacity="0.04" stroke-width="7.0" stroke-linejoin="round"/>
<path d="M977.5,1266.8 C980.9,1267.0 990.4,1267.5 998.0,1268.1 C1005.6,1268.7 1015.7,1270.0 1023.0,1270.2 C1030.3,1270.3 1036.0,1267.7 1042.0,1268.9 C1048.0,1270.2 1054.2,1275.4 1059.0,1277.4 C1063.8,1279.5 1066.8,1281.1 1071.0,1281.4 C1075.2,1281.6 1079.5,1279.2 1084.0,1279.1 C1088.5,1279.0 1093.5,1280.2 1098.0,1280.6 C1102.5,1281.0 1107.2,1282.6 1111.0,1281.6 C1114.8,1280.6 1117.5,1275.8 1121.0,1274.6 C1124.5,1273.3 1127.7,1275.0 1132.0,1274.2 C1136.3,1273.3 1142.2,1270.8 1147.0,1269.3 C1151.8,1267.8 1158.7,1265.8 1161.0,1265.0" fill="none" stroke="#fff" stroke-opacity="0.11" stroke-width="7.5" stroke-linejoin="round"/>
<path d="M1161.0,1265.0 C1162.5,1265.4 1166.8,1268.0 1170.0,1267.4 C1173.2,1266.9 1176.7,1261.5 1180.0,1261.7 C1183.3,1261.9 1186.5,1267.7 1190.0,1268.6 C1193.5,1269.6 1196.7,1267.6 1201.0,1267.3 C1205.3,1267.1 1213.5,1267.1 1216.0,1267.1" fill="none" stroke="#fff" stroke-opacity="0.07" stroke-width="8.1" stroke-linejoin="round"/>
<path d="M977.5,1279.1 C980.9,1279.6 990.4,1281.1 998.0,1281.9 C1005.6,1282.7 1015.7,1283.4 1023.0,1283.8 C1030.3,1284.2 1036.0,1283.0 1042.0,1284.1 C1048.0,1285.3 1054.2,1289.2 1059.0,1290.7 C1063.8,1292.2 1066.8,1293.5 1071.0,1293.3 C1075.2,1293.1 1079.5,1289.4 1084.0,1289.4 C1088.5,1289.4 1093.5,1292.9 1098.0,1293.3 C1102.5,1293.7 1107.2,1292.9 1111.0,1291.6 C1114.8,1290.4 1117.5,1286.8 1121.0,1286.0 C1124.5,1285.2 1130.2,1286.6 1132.0,1286.8" fill="none" stroke="#000" stroke-opacity="0.03" stroke-width="8.4" stroke-linejoin="round"/>
<path d="M1132.0,1286.5 C1134.5,1285.9 1142.2,1284.7 1147.0,1283.1 C1151.8,1281.5 1157.2,1277.6 1161.0,1277.1 C1164.8,1276.6 1166.8,1280.3 1170.0,1280.1 C1173.2,1279.9 1176.7,1276.4 1180.0,1276.1 C1183.3,1275.8 1186.5,1277.5 1190.0,1278.4 C1193.5,1279.4 1196.7,1281.7 1201.0,1281.7 C1205.3,1281.8 1213.5,1279.1 1216.0,1278.6" fill="none" stroke="#000" stroke-opacity="0.04" stroke-width="6.3" stroke-linejoin="round"/>
<path d="M977.5,1289.5 C980.9,1290.2 990.4,1293.4 998.0,1294.2 C1005.6,1295.0 1015.7,1293.9 1023.0,1294.2 C1030.3,1294.5 1036.0,1294.5 1042.0,1295.9 C1048.0,1297.3 1054.2,1301.2 1059.0,1302.7 C1063.8,1304.2 1066.8,1304.8 1071.0,1304.9 C1075.2,1304.9 1081.8,1303.4 1084.0,1303.1" fill="none" stroke="#fff" stroke-opacity="0.11" stroke-width="7.6" stroke-linejoin="round"/>
<path d="M1084.0,1302.0 C1086.3,1302.5 1093.5,1304.7 1098.0,1305.3 C1102.5,1306.0 1107.2,1307.4 1111.0,1306.0 C1114.8,1304.6 1117.5,1298.0 1121.0,1296.8 C1124.5,1295.5 1127.7,1299.0 1132.0,1298.5 C1136.3,1297.9 1142.2,1295.0 1147.0,1293.6 C1151.8,1292.1 1157.2,1289.8 1161.0,1289.6 C1164.8,1289.5 1168.5,1292.3 1170.0,1292.8" fill="none" stroke="#fff" stroke-opacity="0.11" stroke-width="7.0" stroke-linejoin="round"/>
<path d="M1170.0,1290.7 C1171.7,1290.3 1176.7,1288.1 1180.0,1288.1 C1183.3,1288.1 1186.5,1289.5 1190.0,1290.5 C1193.5,1291.5 1196.7,1293.9 1201.0,1294.2 C1205.3,1294.4 1213.5,1292.6 1216.0,1292.2" fill="none" stroke="#fff" stroke-opacity="0.06" stroke-width="7.5" stroke-linejoin="round"/>
</g>
<g filter="url(#bl25Biii)">
<path d="M977.5,1085.0 C982.9,1085.8 999.6,1087.8 1010.0,1090.0 C1020.4,1092.2 1029.2,1096.3 1040.0,1098.0 C1050.8,1099.7 1063.3,1100.5 1075.0,1100.0 C1086.7,1099.5 1097.5,1097.5 1110.0,1095.0 C1122.5,1092.5 1138.3,1085.8 1150.0,1085.0 C1161.7,1084.2 1169.0,1088.3 1180.0,1090.0 C1191.0,1091.7 1210.0,1094.2 1216.0,1095.0" fill="none" stroke="#fff" stroke-opacity="0.36000000000000004" stroke-width="15" stroke-linejoin="round" stroke-linecap="butt"/>
<path d="M977.5,1085.0 C982.9,1085.8 999.6,1087.8 1010.0,1090.0 C1020.4,1092.2 1029.2,1096.3 1040.0,1098.0 C1050.8,1099.7 1063.3,1100.5 1075.0,1100.0 C1086.7,1099.5 1097.5,1097.5 1110.0,1095.0 C1122.5,1092.5 1138.3,1085.8 1150.0,1085.0 C1161.7,1084.2 1169.0,1088.3 1180.0,1090.0 C1191.0,1091.7 1210.0,1094.2 1216.0,1095.0" fill="none" stroke="#000" stroke-opacity="0.3" stroke-width="5" stroke-linejoin="round" stroke-linecap="round"/>
</g>
<g filter="url(#bl16Biii)">
<path d="M977.5,1007.8 C981.0,1008.6 990.7,1011.7 998.3,1012.6 C1005.9,1013.5 1015.8,1013.3 1023.1,1013.5 C1030.4,1013.6 1036.2,1011.9 1042.3,1013.5 C1048.4,1015.1 1054.7,1020.5 1059.5,1023.1 C1064.3,1025.7 1066.8,1028.6 1071.0,1028.8 C1075.2,1029.0 1080.0,1024.3 1084.4,1024.1 C1088.9,1024.0 1093.2,1027.3 1097.7,1027.9 C1102.2,1028.5 1107.3,1029.7 1111.1,1027.9 C1114.9,1026.2 1117.2,1019.0 1120.7,1017.4 C1124.2,1015.8 1127.7,1019.0 1132.2,1018.3 C1136.7,1017.7 1142.7,1015.2 1147.5,1013.5 C1152.3,1011.7 1157.1,1008.4 1160.9,1007.8 C1164.7,1007.2 1167.2,1010.2 1170.4,1009.7 C1173.6,1009.2 1176.8,1004.9 1180.0,1004.9 C1183.2,1004.9 1186.1,1008.6 1189.6,1009.7 C1193.1,1010.8 1196.6,1011.6 1201.0,1011.6 C1205.4,1011.6 1213.5,1010.0 1216.0,1009.7" fill="none" stroke="#000" stroke-opacity="0.5" stroke-width="3.8" stroke-linejoin="round" stroke-linecap="round"/>
<path d="M977.5,1043.0 C981.0,1043.8 990.7,1046.8 998.3,1047.8 C1005.9,1048.8 1015.8,1048.5 1023.1,1048.7 C1030.4,1048.8 1036.2,1047.1 1042.3,1048.7 C1048.4,1050.3 1054.7,1055.8 1059.5,1058.3 C1064.3,1060.8 1066.8,1063.8 1071.0,1064.0 C1075.2,1064.2 1080.0,1059.5 1084.4,1059.3 C1088.9,1059.1 1093.2,1062.5 1097.7,1063.1 C1102.2,1063.7 1107.3,1064.8 1111.1,1063.1 C1114.9,1061.3 1117.2,1054.2 1120.7,1052.6 C1124.2,1051.0 1127.7,1054.2 1132.2,1053.5 C1136.7,1052.8 1142.7,1050.4 1147.5,1048.7 C1152.3,1046.9 1157.1,1043.6 1160.9,1043.0 C1164.7,1042.4 1167.2,1045.4 1170.4,1044.9 C1173.6,1044.4 1176.8,1040.1 1180.0,1040.1 C1183.2,1040.1 1186.1,1043.8 1189.6,1044.9 C1193.1,1046.0 1196.6,1046.8 1201.0,1046.8 C1205.4,1046.8 1213.5,1045.2 1216.0,1044.9" fill="none" stroke="#000" stroke-opacity="0.5" stroke-width="3.8" stroke-linejoin="round" stroke-linecap="round"/>
<path d="M977.5,1025.4 C981.0,1026.2 990.7,1029.2 998.3,1030.2 C1005.9,1031.2 1015.8,1030.9 1023.1,1031.1 C1030.4,1031.2 1036.2,1029.5 1042.3,1031.1 C1048.4,1032.7 1054.7,1038.2 1059.5,1040.7 C1064.3,1043.2 1066.8,1046.2 1071.0,1046.4 C1075.2,1046.6 1080.0,1041.9 1084.4,1041.7 C1088.9,1041.5 1093.2,1044.9 1097.7,1045.5 C1102.2,1046.1 1107.3,1047.2 1111.1,1045.5 C1114.9,1043.8 1117.2,1036.6 1120.7,1035.0 C1124.2,1033.4 1127.7,1036.6 1132.2,1035.9 C1136.7,1035.2 1142.7,1032.8 1147.5,1031.1 C1152.3,1029.3 1157.1,1026.0 1160.9,1025.4 C1164.7,1024.8 1167.2,1027.8 1170.4,1027.3 C1173.6,1026.8 1176.8,1022.5 1180.0,1022.5 C1183.2,1022.5 1186.1,1026.2 1189.6,1027.3 C1193.1,1028.4 1196.6,1029.2 1201.0,1029.2 C1205.4,1029.2 1213.5,1027.6 1216.0,1027.3" fill="none" stroke="#fff" stroke-opacity="1.0" stroke-width="31.6" stroke-linejoin="round" stroke-linecap="butt"/>
<path d="M977.5,1025.4 C981.0,1026.2 990.7,1029.2 998.3,1030.2 C1005.9,1031.2 1015.8,1030.9 1023.1,1031.1 C1030.4,1031.2 1036.2,1029.5 1042.3,1031.1 C1048.4,1032.7 1054.7,1038.2 1059.5,1040.7 C1064.3,1043.2 1066.8,1046.2 1071.0,1046.4 C1075.2,1046.6 1080.0,1041.9 1084.4,1041.7 C1088.9,1041.5 1093.2,1044.9 1097.7,1045.5 C1102.2,1046.1 1107.3,1047.2 1111.1,1045.5 C1114.9,1043.8 1117.2,1036.6 1120.7,1035.0 C1124.2,1033.4 1127.7,1036.6 1132.2,1035.9 C1136.7,1035.2 1142.7,1032.8 1147.5,1031.1 C1152.3,1029.3 1157.1,1026.0 1160.9,1025.4 C1164.7,1024.8 1167.2,1027.8 1170.4,1027.3 C1173.6,1026.8 1176.8,1022.5 1180.0,1022.5 C1183.2,1022.5 1186.1,1026.2 1189.6,1027.3 C1193.1,1028.4 1196.6,1029.2 1201.0,1029.2 C1205.4,1029.2 1213.5,1027.6 1216.0,1027.3" fill="none" stroke="#000" stroke-opacity="1.0" stroke-width="12.8" stroke-linejoin="round" stroke-linecap="round"/>
<path d="M977.5,1001.5 C980.3,1002.0 989.4,1003.6 994.4,1004.4 C999.4,1005.2 1003.3,1006.6 1007.8,1006.3 C1012.3,1006.0 1015.8,1002.9 1021.2,1002.4 C1026.6,1001.9 1035.1,1002.0 1040.4,1003.4 C1045.7,1004.8 1050.9,1009.7 1053.0,1011.0" fill="none" stroke="#000" stroke-opacity="0.9" stroke-width="6.8" stroke-linejoin="round" stroke-linecap="round"/>
<path d="M1069.0,1073.2 C1072.5,1072.6 1083.1,1069.4 1090.1,1069.4 C1097.1,1069.4 1107.6,1072.6 1111.1,1073.2" fill="none" stroke="#000" stroke-opacity="0.8" stroke-width="3" stroke-linejoin="round" stroke-linecap="round"/>
<path d="M994.0,1058.0 L1003.0,1058.0" fill="none" stroke="#000" stroke-opacity="0.85" stroke-width="6.0" stroke-linejoin="round" stroke-linecap="round"/>
<path d="M1189.6,1050.3 C1190.2,1051.2 1190.5,1056.0 1193.0,1056.0 C1195.5,1056.0 1201.1,1051.6 1204.9,1050.3 C1208.7,1049.0 1214.2,1048.7 1216.0,1048.4" fill="none" stroke="#fff" stroke-opacity="1.0" stroke-width="13.6" stroke-linejoin="round" stroke-linecap="butt"/>
<path d="M1189.6,1050.3 C1190.2,1051.2 1190.5,1056.0 1193.0,1056.0 C1195.5,1056.0 1201.1,1051.6 1204.9,1050.3 C1208.7,1049.0 1214.2,1048.7 1216.0,1048.4" fill="none" stroke="#000" stroke-opacity="0.9" stroke-width="6.0" stroke-linejoin="round" stroke-linecap="round"/>
<path d="M1189.6,1010.1 L1216.0,1008.2" fill="none" stroke="#000" stroke-opacity="0.85" stroke-width="5.2" stroke-linejoin="round" stroke-linecap="round"/>
<path d="M977.5,1176.0 L990.0,1180.0" fill="none" stroke="#fff" stroke-opacity="0.9" stroke-width="6.2" stroke-linejoin="round" stroke-linecap="butt"/>
</g>
<g mask="url(#mkBiii)">
<g transform="rotate(-35 1096.8 1242.8)"><rect x="712.5" y="858.5" width="768.5" height="768.5" filter="url(#sdBiii)"/></g>
<g transform="rotate(43 1096.8 1242.8)"><rect x="712.5" y="858.5" width="768.5" height="768.5" filter="url(#swBiii)"/></g>
</g>
</g>
<rect x="977.5" y="888.0" width="271.5" height="110.1" fill="url(#fadeA)"/>
</g>
<g id="panel-Ci">
<rect x="133.0" y="1727.0" width="262.8" height="709.7" fill="#b3b3b3"/>
<g clip-path="url(#cpCi)">
<rect x="133.0" y="1727.0" width="262.8" height="709.7" fill="#b9b9b9"/>
<g transform="rotate(-35 264.4 2081.8)"><rect x="-124.0" y="1693.5" width="776.8" height="776.8" filter="url(#n1Ci)"/></g>
<g transform="rotate(43 264.4 2081.8)" opacity="0.5"><rect x="-124.0" y="1693.5" width="776.8" height="776.8" filter="url(#n2Ci)"/></g>
<rect x="133.0" y="1727.0" width="262.8" height="709.7" filter="url(#nhCi)" mask="url(#mkCi)"/>
<g filter="url(#bl20Ci)">
<path d="M133.0,1851.0 C134.7,1848.9 139.2,1841.9 143.0,1838.2 C146.8,1834.4 153.8,1830.3 156.0,1828.7" fill="none" stroke="#000" stroke-opacity="0.20" stroke-width="6.8" stroke-linejoin="round"/>
<path d="M156.0,1830.3 L166.0,1836.2" fill="none" stroke="#000" stroke-opacity="0.24" stroke-width="8.2" stroke-linejoin="round"/>
<path d="M166.0,1835.5 C167.8,1838.1 173.2,1848.1 177.0,1851.2 C180.8,1854.4 184.8,1854.6 189.0,1854.6 C193.2,1854.6 197.5,1852.1 202.0,1851.4 C206.5,1850.8 212.2,1849.7 216.0,1850.6 C219.8,1851.6 221.5,1857.4 225.0,1857.2 C228.5,1856.9 232.8,1851.5 237.0,1849.0 C241.2,1846.5 246.2,1843.4 250.0,1842.4 C253.8,1841.5 256.2,1841.9 260.0,1843.1 C263.8,1844.3 268.3,1846.9 273.0,1849.7 C277.7,1852.5 283.2,1859.0 288.0,1860.1 C292.8,1861.2 298.2,1857.9 302.0,1856.3 C305.8,1854.7 307.5,1850.7 311.0,1850.4 C314.5,1850.2 319.0,1852.1 323.0,1854.9 C327.0,1857.8 331.0,1867.8 335.0,1867.4 C339.0,1867.0 343.2,1857.0 347.0,1852.5 C350.8,1848.0 354.7,1844.2 358.0,1840.4 C361.3,1836.6 363.0,1829.7 367.0,1829.7 C371.0,1829.8 377.2,1837.8 382.0,1841.0 C386.8,1844.1 393.5,1847.4 395.8,1848.6" fill="none" stroke="#000" stroke-opacity="0.17" stroke-width="5.8" stroke-linejoin="round"/>
<path d="M133.0,1861.1 C134.7,1859.2 139.2,1852.3 143.0,1849.3 C146.8,1846.3 152.2,1843.2 156.0,1843.0 C159.8,1842.8 162.5,1844.9 166.0,1848.0 C169.5,1851.1 173.2,1858.5 177.0,1861.5 C180.8,1864.6 184.8,1866.2 189.0,1866.2 C193.2,1866.2 197.5,1861.8 202.0,1861.4 C206.5,1861.1 212.2,1862.7 216.0,1864.0 C219.8,1865.2 221.5,1869.4 225.0,1868.9 C228.5,1868.4 232.8,1863.4 237.0,1861.1 C241.2,1858.8 246.2,1856.4 250.0,1855.4 C253.8,1854.4 256.2,1853.9 260.0,1855.1 C263.8,1856.2 268.3,1859.6 273.0,1862.3 C277.7,1864.9 283.2,1869.9 288.0,1870.9 C292.8,1871.9 298.2,1869.9 302.0,1868.3 C305.8,1866.8 309.5,1862.5 311.0,1861.3" fill="none" stroke="#fff" stroke-opacity="0.90" stroke-width="5.5" stroke-linejoin="round"/>
<path d="M311.0,1859.5 C313.0,1860.6 319.0,1862.9 323.0,1866.3 C327.0,1869.7 331.0,1879.8 335.0,1880.0 C339.0,1880.2 343.2,1872.0 347.0,1867.4 C350.8,1862.9 354.7,1857.2 358.0,1852.8 C361.3,1848.4 363.0,1840.8 367.0,1840.9 C371.0,1841.0 377.2,1849.9 382.0,1853.4 C386.8,1856.8 393.5,1860.3 395.8,1861.7" fill="none" stroke="#fff" stroke-opacity="0.79" stroke-width="7.8" stroke-linejoin="round"/>
<path d="M133.0,1873.0 C134.7,1871.0 139.2,1863.8 143.0,1860.9 C146.8,1857.9 152.2,1855.1 156.0,1855.2 C159.8,1855.2 162.5,1858.1 166.0,1861.1 C169.5,1864.2 173.2,1870.6 177.0,1873.6 C180.8,1876.6 184.8,1878.6 189.0,1879.0 C193.2,1879.3 197.5,1876.3 202.0,1875.5 C206.5,1874.8 212.2,1874.0 216.0,1874.5 C219.8,1874.9 221.5,1878.4 225.0,1878.2 C228.5,1878.1 232.8,1875.6 237.0,1873.8 C241.2,1872.0 246.2,1868.2 250.0,1867.4 C253.8,1866.6 256.2,1868.0 260.0,1869.2 C263.8,1870.4 270.8,1873.5 273.0,1874.3" fill="none" stroke="#000" stroke-opacity="0.44" stroke-width="7.1" stroke-linejoin="round"/>
<path d="M273.0,1873.6 C275.5,1875.5 283.2,1883.9 288.0,1885.0 C292.8,1886.0 298.2,1881.6 302.0,1879.8 C305.8,1878.0 307.5,1874.6 311.0,1874.3 C314.5,1874.1 319.0,1875.0 323.0,1878.2 C327.0,1881.4 331.0,1893.6 335.0,1893.5 C339.0,1893.3 343.2,1882.0 347.0,1877.6 C350.8,1873.2 354.7,1870.8 358.0,1867.2 C361.3,1863.5 363.0,1855.7 367.0,1855.5 C371.0,1855.2 377.2,1862.6 382.0,1865.5 C386.8,1868.4 393.5,1871.6 395.8,1872.9" fill="none" stroke="#000" stroke-opacity="0.34" stroke-width="5.8" stroke-linejoin="round"/>
<path d="M133.0,1887.1 C134.7,1884.7 139.2,1876.4 143.0,1872.9 C146.8,1869.4 152.2,1865.9 156.0,1866.2 C159.8,1866.4 162.5,1871.3 166.0,1874.4 C169.5,1877.5 173.2,1881.9 177.0,1884.9 C180.8,1888.0 184.8,1892.3 189.0,1892.8 C193.2,1893.2 199.8,1888.4 202.0,1887.6" fill="none" stroke="#fff" stroke-opacity="0.55" stroke-width="5.8" stroke-linejoin="round"/>
<path d="M202.0,1885.8 C204.3,1886.3 212.2,1888.2 216.0,1889.0 C219.8,1889.8 221.5,1891.4 225.0,1890.7 C228.5,1890.1 235.0,1886.0 237.0,1885.1" fill="none" stroke="#fff" stroke-opacity="0.60" stroke-width="7.8" stroke-linejoin="round"/>
<path d="M237.0,1886.8 C239.2,1885.4 246.2,1879.3 250.0,1878.3 C253.8,1877.2 256.2,1879.3 260.0,1880.3 C263.8,1881.3 268.3,1881.6 273.0,1884.3 C277.7,1887.1 283.2,1895.8 288.0,1896.6 C292.8,1897.5 298.2,1891.2 302.0,1889.3 C305.8,1887.5 307.5,1884.9 311.0,1885.5 C314.5,1886.1 319.0,1890.1 323.0,1893.0 C327.0,1895.9 331.0,1903.1 335.0,1902.8 C339.0,1902.4 343.2,1895.0 347.0,1891.0 C350.8,1887.1 354.7,1882.7 358.0,1878.8 C361.3,1874.9 363.0,1868.2 367.0,1867.8 C371.0,1867.5 377.2,1874.1 382.0,1876.9 C386.8,1879.7 393.5,1883.3 395.8,1884.6" fill="none" stroke="#fff" stroke-opacity="0.83" stroke-width="7.7" stroke-linejoin="round"/>
<path d="M133.0,1898.7 C134.7,1896.6 139.2,1889.3 143.0,1886.0 C146.8,1882.8 152.2,1879.2 156.0,1879.1 C159.8,1879.1 162.5,1882.4 166.0,1885.5 C169.5,1888.6 173.2,1894.4 177.0,1897.6 C180.8,1900.7 184.8,1904.2 189.0,1904.4 C193.2,1904.6 197.5,1899.8 202.0,1898.9 C206.5,1897.9 212.2,1898.0 216.0,1898.6 C219.8,1899.2 221.5,1902.5 225.0,1902.4 C228.5,1902.3 232.8,1900.1 237.0,1898.1 C241.2,1896.2 247.8,1891.7 250.0,1890.4" fill="none" stroke="#000" stroke-opacity="0.33" stroke-width="6.7" stroke-linejoin="round"/>
<path d="M250.0,1892.8 L260.0,1892.9" fill="none" stroke="#000" stroke-opacity="0.30" stroke-width="6.5" stroke-linejoin="round"/>
<path d="M260.0,1892.0 C262.2,1892.8 268.3,1894.5 273.0,1896.9 C277.7,1899.3 283.2,1905.7 288.0,1906.4 C292.8,1907.1 298.2,1902.7 302.0,1901.1 C305.8,1899.4 307.5,1896.2 311.0,1896.5 C314.5,1896.9 319.0,1900.1 323.0,1903.1 C327.0,1906.0 331.0,1914.7 335.0,1914.4 C339.0,1914.1 343.2,1905.4 347.0,1901.3 C350.8,1897.1 354.7,1893.1 358.0,1889.4 C361.3,1885.7 363.0,1878.9 367.0,1879.0 C371.0,1879.1 377.2,1886.9 382.0,1890.1 C386.8,1893.4 393.5,1897.0 395.8,1898.4" fill="none" stroke="#000" stroke-opacity="0.30" stroke-width="8.5" stroke-linejoin="round"/>
<path d="M133.0,1908.2 C134.7,1906.2 139.2,1899.2 143.0,1896.1 C146.8,1893.0 152.2,1889.7 156.0,1889.6 C159.8,1889.5 162.5,1892.3 166.0,1895.5 C169.5,1898.8 173.2,1906.1 177.0,1909.3 C180.8,1912.5 184.8,1914.3 189.0,1914.6 C193.2,1914.8 197.5,1911.6 202.0,1910.8 C206.5,1910.0 212.2,1909.3 216.0,1909.8 C219.8,1910.3 221.5,1913.7 225.0,1913.5 C228.5,1913.4 232.8,1910.3 237.0,1908.8 C241.2,1907.2 246.2,1905.1 250.0,1904.0 C253.8,1903.0 256.2,1901.5 260.0,1902.4 C263.8,1903.3 268.3,1906.6 273.0,1909.5 C277.7,1912.4 283.2,1919.0 288.0,1920.0 C292.8,1921.0 298.2,1917.4 302.0,1915.5 C305.8,1913.6 307.5,1908.8 311.0,1908.7 C314.5,1908.7 319.0,1912.4 323.0,1915.3 C327.0,1918.1 331.0,1926.4 335.0,1926.0 C339.0,1925.7 345.0,1915.3 347.0,1913.2" fill="none" stroke="#fff" stroke-opacity="0.82" stroke-width="7.4" stroke-linejoin="round"/>
<path d="M347.0,1914.7 C348.8,1912.4 354.7,1905.4 358.0,1901.1 C361.3,1896.9 363.0,1889.6 367.0,1889.3 C371.0,1889.1 377.2,1896.2 382.0,1899.4 C386.8,1902.7 393.5,1907.2 395.8,1908.8" fill="none" stroke="#fff" stroke-opacity="0.72" stroke-width="5.8" stroke-linejoin="round"/>
<path d="M133.0,1921.7 C134.7,1919.7 139.2,1913.1 143.0,1910.1 C146.8,1907.1 152.2,1904.1 156.0,1903.7 C159.8,1903.3 162.5,1904.8 166.0,1907.9 C169.5,1911.0 173.2,1919.2 177.0,1922.5 C180.8,1925.8 184.8,1927.8 189.0,1927.5 C193.2,1927.3 197.5,1921.6 202.0,1920.9 C206.5,1920.1 212.2,1922.2 216.0,1923.0 C219.8,1923.7 221.5,1925.7 225.0,1925.5 C228.5,1925.4 232.8,1924.0 237.0,1922.1 C241.2,1920.3 246.2,1915.5 250.0,1914.6 C253.8,1913.8 256.2,1915.7 260.0,1917.1 C263.8,1918.5 268.3,1920.4 273.0,1922.8 C277.7,1925.2 283.2,1931.0 288.0,1931.5 C292.8,1932.0 299.7,1926.7 302.0,1925.7" fill="none" stroke="#000" stroke-opacity="0.15" stroke-width="8.1" stroke-linejoin="round"/>
<path d="M302.0,1926.7 C303.5,1925.6 307.5,1919.9 311.0,1920.1 C314.5,1920.2 321.0,1926.4 323.0,1927.7" fill="none" stroke="#000" stroke-opacity="0.23" stroke-width="7.1" stroke-linejoin="round"/>
<path d="M323.0,1926.0 C325.0,1928.1 331.0,1938.7 335.0,1938.8 C339.0,1938.9 343.2,1930.6 347.0,1926.6 C350.8,1922.7 354.7,1919.0 358.0,1915.1 C361.3,1911.2 363.0,1903.5 367.0,1903.3 C371.0,1903.2 377.2,1911.1 382.0,1914.0 C386.8,1916.8 393.5,1919.5 395.8,1920.6" fill="none" stroke="#000" stroke-opacity="0.29" stroke-width="6.2" stroke-linejoin="round"/>
<path d="M133.0,1932.4 C134.7,1930.7 139.2,1924.9 143.0,1921.9 C146.8,1919.0 153.8,1915.8 156.0,1914.6" fill="none" stroke="#fff" stroke-opacity="0.40" stroke-width="6.2" stroke-linejoin="round"/>
<path d="M156.0,1914.2 C157.7,1915.3 162.5,1917.3 166.0,1920.8 C169.5,1924.2 173.2,1931.9 177.0,1934.8 C180.8,1937.6 184.8,1937.9 189.0,1938.0 C193.2,1938.2 197.5,1936.2 202.0,1935.6 C206.5,1935.0 213.7,1934.6 216.0,1934.4" fill="none" stroke="#fff" stroke-opacity="0.50" stroke-width="6.8" stroke-linejoin="round"/>
<path d="M216.0,1935.9 C217.5,1936.5 221.5,1940.2 225.0,1939.6 C228.5,1939.1 232.8,1934.7 237.0,1932.5 C241.2,1930.2 246.2,1927.0 250.0,1926.3 C253.8,1925.7 256.2,1927.6 260.0,1928.5 C263.8,1929.4 268.3,1929.6 273.0,1931.7 C277.7,1933.8 283.2,1940.2 288.0,1941.1 C292.8,1942.1 298.2,1938.9 302.0,1937.3 C305.8,1935.8 307.5,1931.9 311.0,1932.0 C314.5,1932.1 319.0,1934.7 323.0,1937.9 C327.0,1941.1 331.0,1951.5 335.0,1951.3 C339.0,1951.2 343.2,1941.0 347.0,1936.9 C350.8,1932.8 354.7,1930.6 358.0,1926.7 C361.3,1922.9 363.0,1913.9 367.0,1913.7 C371.0,1913.4 377.2,1921.9 382.0,1925.3 C386.8,1928.7 393.5,1932.4 395.8,1933.8" fill="none" stroke="#fff" stroke-opacity="0.51" stroke-width="8.1" stroke-linejoin="round"/>
<path d="M133.0,1944.4 C134.7,1942.4 139.2,1935.2 143.0,1932.4 C146.8,1929.5 152.2,1927.4 156.0,1927.5 C159.8,1927.7 162.5,1930.6 166.0,1933.3 C169.5,1936.0 173.2,1940.7 177.0,1943.7 C180.8,1946.6 184.8,1950.7 189.0,1951.1 C193.2,1951.6 197.5,1947.0 202.0,1946.3 C206.5,1945.5 212.2,1945.8 216.0,1946.6 C219.8,1947.4 221.5,1951.4 225.0,1950.9 C228.5,1950.5 232.8,1945.7 237.0,1943.8 C241.2,1941.8 247.8,1940.1 250.0,1939.3" fill="none" stroke="#000" stroke-opacity="0.23" stroke-width="6.4" stroke-linejoin="round"/>
<path d="M250.0,1938.2 C251.7,1938.3 256.2,1937.7 260.0,1938.5 C263.8,1939.4 268.3,1941.1 273.0,1943.5 C277.7,1945.8 283.2,1952.0 288.0,1952.8 C292.8,1953.6 298.2,1949.7 302.0,1948.2 C305.8,1946.7 307.5,1943.4 311.0,1943.7 C314.5,1943.9 319.0,1946.6 323.0,1949.6 C327.0,1952.7 331.0,1962.0 335.0,1962.1 C339.0,1962.1 343.2,1954.0 347.0,1950.1 C350.8,1946.1 354.7,1942.3 358.0,1938.4 C361.3,1934.5 363.0,1926.6 367.0,1926.5 C371.0,1926.5 377.2,1935.0 382.0,1938.0 C386.8,1941.0 393.5,1943.5 395.8,1944.6" fill="none" stroke="#000" stroke-opacity="0.20" stroke-width="7.6" stroke-linejoin="round"/>
<path d="M133.0,1957.6 C134.7,1955.6 139.2,1948.9 143.0,1945.6 C146.8,1942.4 152.2,1937.9 156.0,1937.9 C159.8,1938.0 162.5,1942.7 166.0,1945.8 C169.5,1948.8 175.2,1954.5 177.0,1956.3" fill="none" stroke="#fff" stroke-opacity="0.53" stroke-width="7.8" stroke-linejoin="round"/>
<path d="M177.0,1955.4 C179.0,1956.8 184.8,1963.4 189.0,1963.7 C193.2,1963.9 197.5,1957.8 202.0,1956.9 C206.5,1956.0 212.2,1957.3 216.0,1958.0 C219.8,1958.8 221.5,1961.2 225.0,1961.3 C228.5,1961.3 232.8,1960.2 237.0,1958.4 C241.2,1956.6 246.2,1951.8 250.0,1950.5 C253.8,1949.3 256.2,1949.9 260.0,1951.0 C263.8,1952.2 268.3,1954.9 273.0,1957.5 C277.7,1960.1 283.2,1965.8 288.0,1966.7 C292.8,1967.5 298.2,1964.4 302.0,1962.6 C305.8,1960.8 309.5,1956.8 311.0,1955.7" fill="none" stroke="#fff" stroke-opacity="0.31" stroke-width="5.8" stroke-linejoin="round"/>
<path d="M311.0,1956.4 C313.0,1957.6 319.0,1960.4 323.0,1963.4 C327.0,1966.5 331.0,1975.3 335.0,1974.7 C339.0,1974.1 343.2,1964.1 347.0,1959.9 C350.8,1955.7 354.7,1952.9 358.0,1949.4 C361.3,1945.8 363.0,1938.7 367.0,1938.5 C371.0,1938.4 377.2,1945.4 382.0,1948.4 C386.8,1951.4 393.5,1955.3 395.8,1956.6" fill="none" stroke="#fff" stroke-opacity="0.29" stroke-width="6.8" stroke-linejoin="round"/>
<path d="M133.0,1969.8 C134.7,1967.5 139.2,1959.0 143.0,1956.0 C146.8,1953.0 153.8,1952.7 156.0,1952.1" fill="none" stroke="#000" stroke-opacity="0.11" stroke-width="6.7" stroke-linejoin="round"/>
<path d="M156.0,1951.5 C157.7,1952.4 162.5,1953.5 166.0,1956.6 C169.5,1959.7 173.2,1967.0 177.0,1970.1 C180.8,1973.1 184.8,1975.1 189.0,1975.0 C193.2,1974.9 197.5,1970.2 202.0,1969.4 C206.5,1968.6 212.2,1969.2 216.0,1970.3 C219.8,1971.3 221.5,1976.1 225.0,1975.8 C228.5,1975.5 232.8,1970.5 237.0,1968.5 C241.2,1966.4 246.2,1964.3 250.0,1963.4 C253.8,1962.5 256.2,1961.8 260.0,1962.9 C263.8,1964.0 268.3,1967.3 273.0,1969.9 C277.7,1972.5 285.5,1977.1 288.0,1978.5" fill="none" stroke="#000" stroke-opacity="0.19" stroke-width="8.4" stroke-linejoin="round"/>
<path d="M288.0,1976.7 C290.3,1976.1 298.2,1974.8 302.0,1973.2 C305.8,1971.6 307.5,1967.0 311.0,1967.3 C314.5,1967.7 319.0,1972.0 323.0,1975.1 C327.0,1978.2 331.0,1986.5 335.0,1986.1 C339.0,1985.6 343.2,1976.5 347.0,1972.4 C350.8,1968.3 354.7,1964.9 358.0,1961.5 C361.3,1958.0 363.0,1951.6 367.0,1951.6 C371.0,1951.6 377.2,1958.4 382.0,1961.4 C386.8,1964.5 393.5,1968.7 395.8,1970.2" fill="none" stroke="#000" stroke-opacity="0.12" stroke-width="8.0" stroke-linejoin="round"/>
<path d="M133.0,1979.6 C134.7,1977.8 139.2,1971.5 143.0,1968.7 C146.8,1966.0 152.2,1963.0 156.0,1962.9 C159.8,1962.8 162.5,1965.1 166.0,1968.2 C169.5,1971.2 173.2,1978.2 177.0,1981.3 C180.8,1984.3 184.8,1986.6 189.0,1986.5 C193.2,1986.4 197.5,1981.6 202.0,1980.8 C206.5,1980.0 212.2,1980.6 216.0,1981.6 C219.8,1982.7 223.5,1986.3 225.0,1987.2" fill="none" stroke="#fff" stroke-opacity="0.30" stroke-width="6.8" stroke-linejoin="round"/>
<path d="M225.0,1986.4 C227.0,1985.3 232.8,1981.8 237.0,1979.7 C241.2,1977.5 246.2,1974.7 250.0,1973.8 C253.8,1972.8 256.2,1972.9 260.0,1973.9 C263.8,1974.8 268.3,1977.1 273.0,1979.5 C277.7,1981.9 283.2,1987.3 288.0,1988.3 C292.8,1989.3 298.2,1987.1 302.0,1985.5 C305.8,1983.9 307.5,1978.9 311.0,1979.0 C314.5,1979.0 319.0,1982.8 323.0,1985.9 C327.0,1989.0 331.0,1997.7 335.0,1997.6 C339.0,1997.4 343.2,1988.8 347.0,1984.9 C350.8,1981.0 354.7,1977.6 358.0,1974.1 C361.3,1970.6 363.0,1964.4 367.0,1963.9 C371.0,1963.5 377.2,1968.6 382.0,1971.2 C386.8,1973.8 393.5,1978.3 395.8,1979.7" fill="none" stroke="#fff" stroke-opacity="0.41" stroke-width="5.7" stroke-linejoin="round"/>
<path d="M133.0,1992.5 C134.7,1990.4 139.2,1982.5 143.0,1979.8 C146.8,1977.2 152.2,1976.5 156.0,1976.5 C159.8,1976.6 162.5,1977.7 166.0,1980.1 C169.5,1982.6 173.2,1988.1 177.0,1991.1 C180.8,1994.1 184.8,1997.8 189.0,1998.1 C193.2,1998.5 199.8,1994.1 202.0,1993.3" fill="none" stroke="#000" stroke-opacity="0.16" stroke-width="5.8" stroke-linejoin="round"/>
<path d="M202.0,1994.7 C204.3,1994.4 212.2,1992.7 216.0,1993.2 C219.8,1993.7 221.5,1997.7 225.0,1997.7 C228.5,1997.7 232.8,1994.9 237.0,1993.2 C241.2,1991.4 246.2,1988.0 250.0,1987.3 C253.8,1986.5 256.2,1987.6 260.0,1988.5 C263.8,1989.4 268.3,1990.6 273.0,1992.5 C277.7,1994.4 283.2,1999.2 288.0,1999.8 C292.8,2000.5 299.7,1997.0 302.0,1996.4" fill="none" stroke="#000" stroke-opacity="0.08" stroke-width="6.6" stroke-linejoin="round"/>
<path d="M302.0,1996.8 C303.5,1995.8 307.5,1990.5 311.0,1990.9 C314.5,1991.2 319.0,1995.6 323.0,1999.0 C327.0,2002.3 331.0,2011.1 335.0,2010.8 C339.0,2010.5 343.2,2001.3 347.0,1997.3 C350.8,1993.3 354.7,1990.4 358.0,1986.9 C361.3,1983.4 363.0,1976.9 367.0,1976.5 C371.0,1976.1 377.2,1982.0 382.0,1984.5 C386.8,1987.1 393.5,1990.6 395.8,1991.8" fill="none" stroke="#000" stroke-opacity="0.10" stroke-width="8.4" stroke-linejoin="round"/>
<path d="M133.0,2004.9 C134.7,2003.0 139.2,1996.8 143.0,1993.6 C146.8,1990.5 152.2,1986.0 156.0,1986.0 C159.8,1985.9 162.5,1990.0 166.0,1993.2 C169.5,1996.4 173.2,2002.8 177.0,2005.4 C180.8,2008.0 184.8,2008.8 189.0,2008.8 C193.2,2008.8 197.5,2006.0 202.0,2005.5 C206.5,2005.0 212.2,2005.1 216.0,2005.8 C219.8,2006.5 221.5,2010.1 225.0,2009.8 C228.5,2009.6 232.8,2006.2 237.0,2004.4 C241.2,2002.5 246.2,1999.7 250.0,1998.6 C253.8,1997.6 256.2,1997.3 260.0,1998.1 C263.8,1998.8 268.3,2000.9 273.0,2003.3 C277.7,2005.6 283.2,2011.5 288.0,2012.4 C292.8,2013.3 298.2,2009.9 302.0,2008.7 C305.8,2007.4 307.5,2004.7 311.0,2005.1 C314.5,2005.4 319.0,2007.9 323.0,2010.7 C327.0,2013.5 333.0,2019.9 335.0,2021.8" fill="none" stroke="#fff" stroke-opacity="0.22" stroke-width="5.6" stroke-linejoin="round"/>
<path d="M335.0,2019.6 C337.0,2017.8 343.2,2012.9 347.0,2009.1 C350.8,2005.3 356.2,1998.9 358.0,1996.8" fill="none" stroke="#fff" stroke-opacity="0.21" stroke-width="7.1" stroke-linejoin="round"/>
<path d="M358.0,1997.0 C359.5,1995.1 363.0,1986.1 367.0,1986.0 C371.0,1985.8 377.2,1993.2 382.0,1996.1 C386.8,1999.0 393.5,2002.1 395.8,2003.3" fill="none" stroke="#fff" stroke-opacity="0.26" stroke-width="8.3" stroke-linejoin="round"/>
<path d="M133.0,2016.6 C134.7,2014.5 139.2,2006.8 143.0,2003.9 C146.8,2000.9 152.2,1998.7 156.0,1999.1 C159.8,1999.6 162.5,2003.7 166.0,2006.6 C169.5,2009.4 175.2,2014.5 177.0,2016.0" fill="none" stroke="#000" stroke-opacity="0.08" stroke-width="7.2" stroke-linejoin="round"/>
<path d="M177.0,2016.6 C179.0,2017.3 184.8,2020.7 189.0,2020.7 C193.2,2020.7 197.5,2017.0 202.0,2016.4 C206.5,2015.8 212.2,2016.1 216.0,2017.1 C219.8,2018.0 221.5,2022.4 225.0,2022.1 C228.5,2021.8 232.8,2017.2 237.0,2015.1 C241.2,2013.1 247.8,2010.7 250.0,2009.8" fill="none" stroke="#000" stroke-opacity="0.13" stroke-width="6.5" stroke-linejoin="round"/>
<path d="M250.0,2010.4 C251.7,2010.5 256.2,2009.6 260.0,2010.7 C263.8,2011.7 268.3,2014.5 273.0,2016.7 C277.7,2019.0 283.2,2023.8 288.0,2024.3 C292.8,2024.9 298.2,2021.4 302.0,2019.9 C305.8,2018.5 307.5,2015.4 311.0,2015.6 C314.5,2015.8 319.0,2018.3 323.0,2021.2 C327.0,2024.1 331.0,2033.2 335.0,2033.0 C339.0,2032.8 343.2,2023.8 347.0,2020.0 C350.8,2016.1 354.7,2013.3 358.0,2009.9 C361.3,2006.5 363.0,1999.5 367.0,1999.4 C371.0,1999.3 377.2,2006.2 382.0,2009.1 C386.8,2012.1 393.5,2015.8 395.8,2017.2" fill="none" stroke="#000" stroke-opacity="0.12" stroke-width="7.2" stroke-linejoin="round"/>
<path d="M133.0,2027.3 C134.7,2025.4 139.2,2018.7 143.0,2015.7 C146.8,2012.8 152.2,2009.4 156.0,2009.8 C159.8,2010.2 162.5,2014.7 166.0,2018.0 C169.5,2021.3 175.2,2027.8 177.0,2029.7" fill="none" stroke="#fff" stroke-opacity="0.13" stroke-width="6.0" stroke-linejoin="round"/>
<path d="M177.0,2028.9 C179.0,2029.6 184.8,2032.8 189.0,2033.0 C193.2,2033.2 197.5,2030.5 202.0,2030.0 C206.5,2029.5 212.2,2029.4 216.0,2030.0 C219.8,2030.6 223.5,2033.2 225.0,2033.8" fill="none" stroke="#fff" stroke-opacity="0.28" stroke-width="7.8" stroke-linejoin="round"/>
<path d="M225.0,2032.0 C227.0,2031.5 232.8,2030.2 237.0,2028.9 C241.2,2027.7 246.2,2025.2 250.0,2024.4 C253.8,2023.5 256.2,2023.1 260.0,2023.7 C263.8,2024.4 268.3,2026.2 273.0,2028.4 C277.7,2030.6 283.2,2036.5 288.0,2037.0 C292.8,2037.5 298.2,2033.1 302.0,2031.4 C305.8,2029.7 307.5,2026.3 311.0,2026.5 C314.5,2026.8 319.0,2029.9 323.0,2033.0 C327.0,2036.1 331.0,2045.3 335.0,2044.9 C339.0,2044.6 343.2,2034.9 347.0,2030.8 C350.8,2026.8 354.7,2023.7 358.0,2020.6 C361.3,2017.6 363.0,2012.4 367.0,2012.4 C371.0,2012.5 377.2,2018.0 382.0,2020.8 C386.8,2023.6 393.5,2027.8 395.8,2029.2" fill="none" stroke="#fff" stroke-opacity="0.26" stroke-width="7.1" stroke-linejoin="round"/>
<path d="M133.0,2041.2 C134.7,2038.9 139.2,2030.5 143.0,2027.7 C146.8,2024.8 152.2,2023.8 156.0,2024.1 C159.8,2024.4 162.5,2026.8 166.0,2029.6 C169.5,2032.4 173.2,2038.2 177.0,2041.0 C180.8,2043.8 184.8,2046.6 189.0,2046.5 C193.2,2046.4 197.5,2041.5 202.0,2040.4 C206.5,2039.4 212.2,2039.3 216.0,2040.2 C219.8,2041.1 221.5,2045.6 225.0,2045.7 C228.5,2045.8 232.8,2042.4 237.0,2040.8 C241.2,2039.3 246.2,2037.2 250.0,2036.4 C253.8,2035.6 256.2,2035.2 260.0,2035.7 C263.8,2036.3 270.8,2039.0 273.0,2039.6" fill="none" stroke="#000" stroke-opacity="0.07" stroke-width="5.6" stroke-linejoin="round"/>
<path d="M273.0,2041.6 C275.5,2042.8 283.2,2048.6 288.0,2049.0 C292.8,2049.4 298.2,2045.9 302.0,2044.1 C305.8,2042.3 307.5,2038.0 311.0,2038.0 C314.5,2038.0 321.0,2043.1 323.0,2044.1" fill="none" stroke="#000" stroke-opacity="0.09" stroke-width="6.1" stroke-linejoin="round"/>
<path d="M323.0,2043.9 C325.0,2045.7 331.0,2054.7 335.0,2054.5 C339.0,2054.4 343.2,2046.6 347.0,2043.1 C350.8,2039.6 354.7,2036.7 358.0,2033.6 C361.3,2030.5 363.0,2024.6 367.0,2024.5 C371.0,2024.4 377.2,2030.4 382.0,2032.8 C386.8,2035.2 393.5,2037.9 395.8,2038.9" fill="none" stroke="#000" stroke-opacity="0.11" stroke-width="8.5" stroke-linejoin="round"/>
<path d="M133.0,2050.8 C134.7,2048.9 139.2,2042.3 143.0,2039.7 C146.8,2037.1 153.8,2035.9 156.0,2035.2" fill="none" stroke="#fff" stroke-opacity="0.17" stroke-width="8.2" stroke-linejoin="round"/>
<path d="M156.0,2035.2 C157.7,2036.4 162.5,2039.1 166.0,2042.0 C169.5,2044.9 173.2,2050.0 177.0,2052.7 C180.8,2055.4 184.8,2057.7 189.0,2057.9 C193.2,2058.2 197.5,2054.7 202.0,2054.0 C206.5,2053.4 212.2,2053.3 216.0,2054.0 C219.8,2054.7 221.5,2058.5 225.0,2058.2 C228.5,2057.8 232.8,2053.8 237.0,2052.0 C241.2,2050.2 246.2,2048.1 250.0,2047.3 C253.8,2046.5 256.2,2046.6 260.0,2047.3 C263.8,2047.9 268.3,2048.8 273.0,2051.2 C277.7,2053.6 283.2,2061.0 288.0,2061.7 C292.8,2062.4 298.2,2057.3 302.0,2055.4 C305.8,2053.4 307.5,2049.7 311.0,2049.9 C314.5,2050.1 319.0,2053.6 323.0,2056.8 C327.0,2060.0 331.0,2069.2 335.0,2068.8 C339.0,2068.5 343.2,2058.6 347.0,2054.5 C350.8,2050.3 354.7,2046.8 358.0,2043.9 C361.3,2040.9 363.0,2036.7 367.0,2036.9 C371.0,2037.1 377.2,2042.4 382.0,2044.9 C386.8,2047.5 393.5,2050.8 395.8,2052.0" fill="none" stroke="#fff" stroke-opacity="0.14" stroke-width="7.0" stroke-linejoin="round"/>
<path d="M133.0,2064.0 C134.7,2062.2 139.2,2056.1 143.0,2053.3 C146.8,2050.4 152.2,2047.0 156.0,2046.8 C159.8,2046.7 162.5,2049.6 166.0,2052.2 C169.5,2054.9 173.2,2059.9 177.0,2062.7 C180.8,2065.5 184.8,2069.0 189.0,2069.1 C193.2,2069.2 197.5,2064.0 202.0,2063.3 C206.5,2062.6 212.2,2063.9 216.0,2064.7 C219.8,2065.6 223.5,2067.8 225.0,2068.5" fill="none" stroke="#000" stroke-opacity="0.04" stroke-width="6.8" stroke-linejoin="round"/>
<path d="M225.0,2069.4 L237.0,2062.4" fill="none" stroke="#000" stroke-opacity="0.07" stroke-width="7.7" stroke-linejoin="round"/>
<path d="M237.0,2062.3 C239.2,2061.6 246.2,2058.1 250.0,2057.8 C253.8,2057.5 256.2,2059.5 260.0,2060.4 C263.8,2061.3 268.3,2061.1 273.0,2063.2 C277.7,2065.3 283.2,2072.2 288.0,2073.0 C292.8,2073.7 298.2,2069.7 302.0,2068.0 C305.8,2066.2 307.5,2062.6 311.0,2062.5 C314.5,2062.4 319.0,2064.5 323.0,2067.5 C327.0,2070.4 331.0,2080.5 335.0,2080.3 C339.0,2080.0 343.2,2069.6 347.0,2065.8 C350.8,2062.0 354.7,2060.1 358.0,2057.3 C361.3,2054.5 363.0,2049.0 367.0,2048.7 C371.0,2048.4 377.2,2053.0 382.0,2055.4 C386.8,2057.8 393.5,2062.1 395.8,2063.4" fill="none" stroke="#000" stroke-opacity="0.08" stroke-width="8.4" stroke-linejoin="round"/>
<path d="M133.0,2076.1 C134.7,2074.4 139.2,2068.8 143.0,2066.0 C146.8,2063.2 152.2,2059.0 156.0,2059.1 C159.8,2059.1 164.3,2065.2 166.0,2066.4" fill="none" stroke="#fff" stroke-opacity="0.15" stroke-width="7.4" stroke-linejoin="round"/>
<path d="M166.0,2065.0 C167.8,2066.6 173.2,2072.5 177.0,2075.0 C180.8,2077.6 184.8,2080.1 189.0,2080.4 C193.2,2080.7 197.5,2077.6 202.0,2076.8 C206.5,2076.1 212.2,2075.5 216.0,2076.0 C219.8,2076.6 221.5,2080.0 225.0,2080.2 C228.5,2080.4 232.8,2078.8 237.0,2077.3 C241.2,2075.7 246.2,2071.9 250.0,2070.7 C253.8,2069.5 258.3,2070.2 260.0,2070.0" fill="none" stroke="#fff" stroke-opacity="0.11" stroke-width="7.4" stroke-linejoin="round"/>
<path d="M260.0,2070.0 C262.2,2070.7 268.3,2072.0 273.0,2074.3 C277.7,2076.6 283.2,2083.0 288.0,2083.8 C292.8,2084.6 298.2,2080.5 302.0,2079.3 C305.8,2078.1 307.5,2076.1 311.0,2076.4 C314.5,2076.7 319.0,2078.8 323.0,2081.2 C327.0,2083.6 331.0,2091.2 335.0,2091.0 C339.0,2090.8 343.2,2083.9 347.0,2080.1 C350.8,2076.2 354.7,2071.1 358.0,2067.7 C361.3,2064.2 363.0,2059.5 367.0,2059.5 C371.0,2059.5 377.2,2065.1 382.0,2067.6 C386.8,2070.1 393.5,2073.3 395.8,2074.5" fill="none" stroke="#fff" stroke-opacity="0.14" stroke-width="7.9" stroke-linejoin="round"/>
<path d="M133.0,2088.5 C134.7,2086.8 139.2,2080.7 143.0,2077.9 C146.8,2075.1 152.2,2071.7 156.0,2071.8 C159.8,2071.9 162.5,2076.0 166.0,2078.5 C169.5,2080.9 173.2,2084.2 177.0,2086.5 C180.8,2088.9 184.8,2092.3 189.0,2092.6 C193.2,2093.0 197.5,2089.4 202.0,2088.6 C206.5,2087.7 212.2,2087.1 216.0,2087.8 C219.8,2088.4 221.5,2092.5 225.0,2092.4 C228.5,2092.2 232.8,2088.4 237.0,2086.8 C241.2,2085.1 246.2,2083.4 250.0,2082.5 C253.8,2081.6 256.2,2080.8 260.0,2081.4 C263.8,2082.0 270.8,2085.4 273.0,2086.2" fill="none" stroke="#000" stroke-opacity="0.04" stroke-width="7.0" stroke-linejoin="round"/>
<path d="M273.0,2088.8 L288.0,2095.2" fill="none" stroke="#000" stroke-opacity="0.05" stroke-width="8.3" stroke-linejoin="round"/>
<path d="M288.0,2096.7 C290.3,2095.9 298.2,2093.9 302.0,2092.1 C305.8,2090.3 307.5,2085.6 311.0,2085.8 C314.5,2086.0 319.0,2090.7 323.0,2093.3 C327.0,2095.9 331.0,2101.7 335.0,2101.5 C339.0,2101.3 343.2,2095.2 347.0,2091.9 C350.8,2088.7 354.7,2085.5 358.0,2082.3 C361.3,2079.1 363.0,2073.0 367.0,2072.8 C371.0,2072.5 377.2,2078.1 382.0,2080.8 C386.8,2083.4 393.5,2087.4 395.8,2088.7" fill="none" stroke="#000" stroke-opacity="0.06" stroke-width="6.5" stroke-linejoin="round"/>
<path d="M133.0,2099.1 C134.7,2097.5 139.2,2092.1 143.0,2089.4 C146.8,2086.8 152.2,2083.4 156.0,2083.2 C159.8,2083.0 162.5,2085.9 166.0,2088.4 C169.5,2090.8 173.2,2095.3 177.0,2097.9 C180.8,2100.5 184.8,2103.7 189.0,2104.0 C193.2,2104.3 197.5,2100.2 202.0,2099.9 C206.5,2099.6 212.2,2101.5 216.0,2102.4 C219.8,2103.3 221.5,2105.8 225.0,2105.4 C228.5,2105.0 232.8,2101.8 237.0,2099.8 C241.2,2097.8 246.2,2094.2 250.0,2093.6 C253.8,2093.0 256.2,2095.2 260.0,2096.2 C263.8,2097.1 268.3,2097.3 273.0,2099.2 C277.7,2101.1 283.2,2106.5 288.0,2107.3 C292.8,2108.2 299.7,2104.8 302.0,2104.2" fill="none" stroke="#fff" stroke-opacity="0.15" stroke-width="7.7" stroke-linejoin="round"/>
<path d="M302.0,2102.4 C303.5,2101.9 307.5,2099.6 311.0,2099.7 C314.5,2099.7 321.0,2102.3 323.0,2102.8" fill="none" stroke="#fff" stroke-opacity="0.09" stroke-width="6.8" stroke-linejoin="round"/>
<path d="M323.0,2105.5 C325.0,2107.2 331.0,2116.3 335.0,2115.9 C339.0,2115.5 343.2,2107.0 347.0,2103.2 C350.8,2099.4 354.7,2096.5 358.0,2093.3 C361.3,2090.2 363.0,2084.0 367.0,2084.1 C371.0,2084.1 377.2,2090.8 382.0,2093.4 C386.8,2095.9 393.5,2098.4 395.8,2099.3" fill="none" stroke="#fff" stroke-opacity="0.16" stroke-width="6.6" stroke-linejoin="round"/>
<path d="M133.0,2112.0 C134.7,2110.0 139.2,2103.1 143.0,2100.3 C146.8,2097.6 152.2,2095.5 156.0,2095.5 C159.8,2095.6 164.3,2099.8 166.0,2100.6" fill="none" stroke="#000" stroke-opacity="0.04" stroke-width="7.4" stroke-linejoin="round"/>
<path d="M166.0,2101.7 C167.8,2103.4 173.2,2109.5 177.0,2111.9 C180.8,2114.3 184.8,2116.3 189.0,2116.2 C193.2,2116.1 197.5,2111.5 202.0,2111.2 C206.5,2110.9 212.2,2113.6 216.0,2114.4 C219.8,2115.2 221.5,2116.4 225.0,2116.0 C228.5,2115.6 232.8,2113.5 237.0,2112.1 C241.2,2110.7 246.2,2108.7 250.0,2107.8 C253.8,2106.9 256.2,2106.2 260.0,2106.9 C263.8,2107.5 268.3,2109.5 273.0,2111.7 C277.7,2113.9 283.2,2119.6 288.0,2120.1 C292.8,2120.6 298.2,2116.1 302.0,2114.6 C305.8,2113.1 307.5,2110.7 311.0,2111.0 C314.5,2111.3 319.0,2113.8 323.0,2116.3 C327.0,2118.9 333.0,2124.8 335.0,2126.5" fill="none" stroke="#000" stroke-opacity="0.05" stroke-width="7.5" stroke-linejoin="round"/>
<path d="M335.0,2125.4 C337.0,2123.4 343.2,2117.0 347.0,2113.6 C350.8,2110.2 354.7,2108.1 358.0,2105.1 C361.3,2102.1 363.0,2095.6 367.0,2095.7 C371.0,2095.8 377.2,2103.2 382.0,2105.7 C386.8,2108.1 393.5,2109.6 395.8,2110.4" fill="none" stroke="#000" stroke-opacity="0.03" stroke-width="6.1" stroke-linejoin="round"/>
<path d="M133.0,2123.6 C134.7,2121.9 139.2,2115.8 143.0,2113.5 C146.8,2111.1 152.2,2109.7 156.0,2109.4 C159.8,2109.2 164.3,2111.6 166.0,2112.1" fill="none" stroke="#fff" stroke-opacity="0.12" stroke-width="7.5" stroke-linejoin="round"/>
<path d="M166.0,2111.7 C167.8,2113.5 173.2,2119.7 177.0,2122.1 C180.8,2124.5 184.8,2125.9 189.0,2126.3 C193.2,2126.7 197.5,2124.7 202.0,2124.6 C206.5,2124.5 212.2,2125.0 216.0,2125.7 C219.8,2126.5 221.5,2129.7 225.0,2129.2 C228.5,2128.7 232.8,2124.7 237.0,2122.9 C241.2,2121.0 246.2,2118.5 250.0,2118.0 C253.8,2117.5 258.3,2119.6 260.0,2119.9" fill="none" stroke="#fff" stroke-opacity="0.14" stroke-width="7.4" stroke-linejoin="round"/>
<path d="M260.0,2117.9 C262.2,2118.9 268.3,2121.8 273.0,2123.8 C277.7,2125.7 283.2,2128.9 288.0,2129.5 C292.8,2130.2 298.2,2129.1 302.0,2127.7 C305.8,2126.4 307.5,2121.2 311.0,2121.4 C314.5,2121.7 319.0,2126.7 323.0,2129.3 C327.0,2131.9 331.0,2137.5 335.0,2137.0 C339.0,2136.5 343.2,2129.8 347.0,2126.3 C350.8,2122.9 354.7,2119.1 358.0,2116.2 C361.3,2113.4 363.0,2109.0 367.0,2109.1 C371.0,2109.1 377.2,2114.3 382.0,2116.4 C386.8,2118.6 393.5,2121.0 395.8,2121.9" fill="none" stroke="#fff" stroke-opacity="0.08" stroke-width="7.3" stroke-linejoin="round"/>
<path d="M133.0,2134.0 C134.7,2132.3 139.2,2126.1 143.0,2123.8 C146.8,2121.5 152.2,2119.8 156.0,2120.2 C159.8,2120.7 162.5,2123.9 166.0,2126.6 C169.5,2129.3 173.2,2134.0 177.0,2136.4 C180.8,2138.8 184.8,2141.0 189.0,2140.9 C193.2,2140.7 197.5,2136.5 202.0,2135.6 C206.5,2134.7 212.2,2135.2 216.0,2135.6 C219.8,2136.0 221.5,2138.4 225.0,2138.1 C228.5,2137.8 232.8,2135.4 237.0,2133.8 C241.2,2132.3 246.2,2129.7 250.0,2129.0 C253.8,2128.4 256.2,2129.0 260.0,2129.8 C263.8,2130.7 268.3,2132.2 273.0,2134.2 C277.7,2136.1 283.2,2140.7 288.0,2141.5 C292.8,2142.2 298.2,2139.4 302.0,2138.5 C305.8,2137.6 307.5,2135.6 311.0,2135.8 C314.5,2136.0 321.0,2139.1 323.0,2139.8" fill="none" stroke="#000" stroke-opacity="0.05" stroke-width="6.1" stroke-linejoin="round"/>
<path d="M323.0,2141.2 C325.0,2142.7 331.0,2151.0 335.0,2150.4 C339.0,2149.8 343.2,2141.0 347.0,2137.6 C350.8,2134.2 354.7,2132.9 358.0,2130.1 C361.3,2127.2 363.0,2120.9 367.0,2120.4 C371.0,2119.9 377.2,2124.4 382.0,2126.9 C386.8,2129.4 393.5,2133.9 395.8,2135.3" fill="none" stroke="#000" stroke-opacity="0.06" stroke-width="6.3" stroke-linejoin="round"/>
<path d="M133.0,2145.7 C134.7,2144.3 139.2,2139.7 143.0,2137.3 C146.8,2134.9 152.2,2131.7 156.0,2131.4 C159.8,2131.2 164.3,2135.1 166.0,2135.8" fill="none" stroke="#fff" stroke-opacity="0.10" stroke-width="6.4" stroke-linejoin="round"/>
<path d="M166.0,2138.5 C167.8,2139.8 173.2,2144.1 177.0,2146.5 C180.8,2148.8 187.0,2151.8 189.0,2152.8" fill="none" stroke="#fff" stroke-opacity="0.12" stroke-width="7.5" stroke-linejoin="round"/>
<path d="M189.0,2151.5 C191.2,2151.1 197.5,2149.2 202.0,2148.8 C206.5,2148.5 212.2,2149.3 216.0,2149.6 C219.8,2149.9 221.5,2151.0 225.0,2150.7 C228.5,2150.4 232.8,2148.9 237.0,2147.7 C241.2,2146.4 246.2,2144.2 250.0,2143.4 C253.8,2142.7 256.2,2142.4 260.0,2143.0 C263.8,2143.6 268.3,2145.2 273.0,2147.2 C277.7,2149.2 283.2,2154.2 288.0,2155.0 C292.8,2155.8 298.2,2153.3 302.0,2152.0 C305.8,2150.8 307.5,2147.4 311.0,2147.5 C314.5,2147.5 319.0,2149.8 323.0,2152.3 C327.0,2154.8 331.0,2163.0 335.0,2162.5 C339.0,2162.0 343.2,2152.9 347.0,2149.4 C350.8,2145.9 354.7,2144.7 358.0,2141.7 C361.3,2138.6 363.0,2131.1 367.0,2131.0 C371.0,2130.9 377.2,2138.3 382.0,2141.0 C386.8,2143.7 393.5,2146.3 395.8,2147.4" fill="none" stroke="#fff" stroke-opacity="0.09" stroke-width="7.4" stroke-linejoin="round"/>
</g>
<g filter="url(#bl16Ci)">
<path d="M133.0,1861.5 C135.0,1860.8 140.8,1858.9 145.0,1857.0 C149.2,1855.1 152.9,1848.6 158.3,1850.0 C163.7,1851.4 172.0,1860.8 177.4,1865.3 C182.8,1869.8 186.3,1874.2 190.8,1876.8 C195.3,1879.3 199.0,1881.1 204.2,1880.6 C209.4,1880.1 216.7,1877.1 222.0,1874.0 C227.3,1870.9 233.7,1864.0 236.0,1862.0" fill="none" stroke="#000" stroke-opacity="0.55" stroke-width="5.2" stroke-linejoin="round" stroke-linecap="round"/>
<path d="M133.0,1872.0 C135.0,1871.2 140.8,1869.0 145.0,1867.0 C149.2,1865.0 152.9,1858.6 158.3,1860.0 C163.7,1861.4 172.0,1871.0 177.4,1875.3 C182.8,1879.6 186.3,1883.7 190.8,1886.0 C195.3,1888.3 199.0,1889.5 204.2,1889.0 C209.4,1888.5 217.4,1885.3 222.0,1883.0 C226.6,1880.7 230.3,1876.3 232.0,1875.0" fill="none" stroke="#fff" stroke-opacity="0.9" stroke-width="8.0" stroke-linejoin="round" stroke-linecap="butt"/>
</g>
<g filter="url(#bl25Ci)">
<path d="M133.0,1884.0 C137.2,1882.0 150.9,1871.3 158.3,1872.0 C165.7,1872.7 171.3,1883.5 177.4,1888.0 C183.5,1892.5 188.7,1897.7 195.0,1899.0 C201.3,1900.3 211.7,1896.5 215.0,1896.0" fill="none" stroke="#000" stroke-opacity="0.4" stroke-width="3" stroke-linejoin="round" stroke-linecap="round"/>
</g>
<g filter="url(#bl16Ci)">
<path d="M242.4,1855.7 C244.3,1856.3 249.4,1856.1 253.9,1859.6 C258.4,1863.1 264.7,1872.3 269.2,1876.8 C273.7,1881.3 277.2,1885.0 280.7,1886.4 C284.2,1887.8 285.9,1886.6 290.0,1885.0 C294.1,1883.4 300.6,1878.0 305.6,1876.8 C310.6,1875.6 315.2,1875.8 320.0,1878.0 C324.8,1880.2 330.0,1892.6 334.3,1890.2 C338.6,1887.8 340.3,1870.4 345.7,1863.4 C351.1,1856.4 360.7,1848.7 366.8,1848.1 C372.9,1847.5 377.3,1855.6 382.1,1859.6 C386.9,1863.6 393.5,1869.9 395.8,1872.0" fill="none" stroke="#fff" stroke-opacity="0.85" stroke-width="17.2" stroke-linejoin="round" stroke-linecap="butt"/>
<path d="M242.4,1855.7 C244.3,1856.3 249.4,1856.1 253.9,1859.6 C258.4,1863.1 264.7,1872.3 269.2,1876.8 C273.7,1881.3 277.2,1885.0 280.7,1886.4 C284.2,1887.8 285.9,1886.6 290.0,1885.0 C294.1,1883.4 300.6,1878.0 305.6,1876.8 C310.6,1875.6 315.2,1875.8 320.0,1878.0 C324.8,1880.2 330.0,1892.6 334.3,1890.2 C338.6,1887.8 340.3,1870.4 345.7,1863.4 C351.1,1856.4 360.7,1848.7 366.8,1848.1 C372.9,1847.5 377.3,1855.6 382.1,1859.6 C386.9,1863.6 393.5,1869.9 395.8,1872.0" fill="none" stroke="#000" stroke-opacity="0.85" stroke-width="6.0" stroke-linejoin="round" stroke-linecap="round"/>
<path d="M236.0,1905.0 C239.2,1904.2 248.5,1898.3 255.0,1900.0 C261.5,1901.7 269.5,1910.3 275.0,1915.0 C280.5,1919.7 283.0,1927.5 288.0,1928.0 C293.0,1928.5 299.7,1918.5 305.0,1918.0 C310.3,1917.5 315.0,1920.5 320.0,1925.0 C325.0,1929.5 330.5,1944.2 335.0,1945.0 C339.5,1945.8 342.8,1935.0 347.0,1930.0 C351.2,1925.0 357.8,1917.5 360.0,1915.0" fill="none" stroke="#fff" stroke-opacity="0.65" stroke-width="11.8" stroke-linejoin="round" stroke-linecap="butt"/>
<path d="M236.0,1905.0 C239.2,1904.2 248.5,1898.3 255.0,1900.0 C261.5,1901.7 269.5,1910.3 275.0,1915.0 C280.5,1919.7 283.0,1927.5 288.0,1928.0 C293.0,1928.5 299.7,1918.5 305.0,1918.0 C310.3,1917.5 315.0,1920.5 320.0,1925.0 C325.0,1929.5 330.5,1944.2 335.0,1945.0 C339.5,1945.8 342.8,1935.0 347.0,1930.0 C351.2,1925.0 357.8,1917.5 360.0,1915.0" fill="none" stroke="#000" stroke-opacity="0.5" stroke-width="3" stroke-linejoin="round" stroke-linecap="round"/>
<path d="M133.0,1930.4 C135.0,1928.2 140.7,1920.5 144.9,1917.0 C149.1,1913.5 154.2,1909.3 158.3,1909.3 C162.4,1909.3 165.6,1913.8 169.7,1917.0 C173.8,1920.2 178.0,1926.8 183.1,1928.5 C188.2,1930.2 193.1,1925.9 200.4,1927.5 C207.7,1929.1 222.7,1936.2 227.1,1938.0" fill="none" stroke="#fff" stroke-opacity="0.9" stroke-width="18.4" stroke-linejoin="round" stroke-linecap="butt"/>
<path d="M133.0,1930.4 C135.0,1928.2 140.7,1920.5 144.9,1917.0 C149.1,1913.5 154.2,1909.3 158.3,1909.3 C162.4,1909.3 165.6,1913.8 169.7,1917.0 C173.8,1920.2 178.0,1926.8 183.1,1928.5 C188.2,1930.2 193.1,1925.9 200.4,1927.5 C207.7,1929.1 222.7,1936.2 227.1,1938.0" fill="none" stroke="#000" stroke-opacity="0.8" stroke-width="6.0" stroke-linejoin="round" stroke-linecap="round"/>
<path d="M133.0,1940.1 C134.7,1937.9 139.1,1930.0 143.0,1926.7 C146.9,1923.4 152.6,1920.0 156.4,1920.0 C160.2,1920.0 162.4,1923.4 165.9,1926.7 C169.4,1930.0 173.6,1936.9 177.4,1940.1 C181.2,1943.3 184.8,1945.7 188.9,1945.9 C193.1,1946.1 197.8,1941.8 202.3,1941.1 C206.8,1940.4 211.9,1941.2 215.7,1942.0 C219.5,1942.8 221.7,1946.2 225.2,1945.9 C228.7,1945.6 232.5,1942.2 236.7,1940.1 C240.8,1938.0 246.3,1934.5 250.1,1933.4 C253.9,1932.3 258.1,1933.4 259.7,1933.4" fill="none" stroke="#000" stroke-opacity="0.5" stroke-width="3.8" stroke-linejoin="round" stroke-linecap="round"/>
<path d="M133.0,1966.5 C134.7,1964.3 139.1,1956.5 143.0,1953.1 C146.9,1949.8 152.6,1946.4 156.4,1946.4 C160.2,1946.4 162.4,1949.8 165.9,1953.1 C169.4,1956.5 173.6,1963.3 177.4,1966.5 C181.2,1969.7 184.8,1972.1 188.9,1972.3 C193.1,1972.5 197.8,1968.2 202.3,1967.5 C206.8,1966.8 211.9,1967.6 215.7,1968.4 C219.5,1969.2 221.7,1972.6 225.2,1972.3 C228.7,1972.0 232.5,1968.6 236.7,1966.5 C240.8,1964.4 246.3,1960.9 250.1,1959.8 C253.9,1958.7 258.1,1959.8 259.7,1959.8" fill="none" stroke="#000" stroke-opacity="0.5" stroke-width="3.8" stroke-linejoin="round" stroke-linecap="round"/>
<path d="M133.0,1953.3 C134.7,1951.1 139.1,1943.2 143.0,1939.9 C146.9,1936.6 152.6,1933.2 156.4,1933.2 C160.2,1933.2 162.4,1936.6 165.9,1939.9 C169.4,1943.2 173.6,1950.1 177.4,1953.3 C181.2,1956.5 184.8,1958.9 188.9,1959.1 C193.1,1959.3 197.8,1954.9 202.3,1954.3 C206.8,1953.7 211.9,1954.4 215.7,1955.2 C219.5,1956.0 221.7,1959.4 225.2,1959.1 C228.7,1958.8 232.5,1955.4 236.7,1953.3 C240.8,1951.2 246.3,1947.7 250.1,1946.6 C253.9,1945.5 258.1,1946.6 259.7,1946.6" fill="none" stroke="#fff" stroke-opacity="1.0" stroke-width="22.8" stroke-linejoin="round" stroke-linecap="butt"/>
<path d="M133.0,1953.3 C134.7,1951.1 139.1,1943.2 143.0,1939.9 C146.9,1936.6 152.6,1933.2 156.4,1933.2 C160.2,1933.2 162.4,1936.6 165.9,1939.9 C169.4,1943.2 173.6,1950.1 177.4,1953.3 C181.2,1956.5 184.8,1958.9 188.9,1959.1 C193.1,1959.3 197.8,1954.9 202.3,1954.3 C206.8,1953.7 211.9,1954.4 215.7,1955.2 C219.5,1956.0 221.7,1959.4 225.2,1959.1 C228.7,1958.8 232.5,1955.4 236.7,1953.3 C240.8,1951.2 246.3,1947.7 250.1,1946.6 C253.9,1945.5 258.1,1946.6 259.7,1946.6" fill="none" stroke="#000" stroke-opacity="1.0" stroke-width="9.0" stroke-linejoin="round" stroke-linecap="round"/>
<path d="M259.7,1946.6 C261.9,1947.7 268.2,1950.6 273.0,1953.3 C277.8,1956.0 283.6,1962.1 288.4,1962.9 C293.2,1963.7 297.9,1959.8 301.7,1958.1 C305.5,1956.3 307.8,1952.2 311.3,1952.4 C314.8,1952.6 318.8,1955.8 322.8,1959.1 C326.8,1962.4 331.1,1972.7 335.2,1972.4 C339.3,1972.1 343.9,1961.8 347.7,1957.2 C351.5,1952.6 356.3,1947.0 358.0,1945.0" fill="none" stroke="#fff" stroke-opacity="0.85" stroke-width="17.2" stroke-linejoin="round" stroke-linecap="butt"/>
<path d="M259.7,1946.6 C261.9,1947.7 268.2,1950.6 273.0,1953.3 C277.8,1956.0 283.6,1962.1 288.4,1962.9 C293.2,1963.7 297.9,1959.8 301.7,1958.1 C305.5,1956.3 307.8,1952.2 311.3,1952.4 C314.8,1952.6 318.8,1955.8 322.8,1959.1 C326.8,1962.4 331.1,1972.7 335.2,1972.4 C339.3,1972.1 343.9,1961.8 347.7,1957.2 C351.5,1952.6 356.3,1947.0 358.0,1945.0" fill="none" stroke="#000" stroke-opacity="0.85" stroke-width="6.0" stroke-linejoin="round" stroke-linecap="round"/>
<path d="M148.7,1964.8 C151.2,1966.1 158.6,1969.9 164.0,1972.4 C169.4,1975.0 176.0,1978.0 181.2,1980.1 C186.4,1982.2 192.7,1984.2 195.0,1985.0" fill="none" stroke="#fff" stroke-opacity="0.7" stroke-width="10.6" stroke-linejoin="round" stroke-linecap="butt"/>
<path d="M148.7,1964.8 C151.2,1966.1 158.6,1969.9 164.0,1972.4 C169.4,1975.0 176.0,1978.0 181.2,1980.1 C186.4,1982.2 192.7,1984.2 195.0,1985.0" fill="none" stroke="#000" stroke-opacity="0.6" stroke-width="3" stroke-linejoin="round" stroke-linecap="round"/>
<path d="M139.1,1993.5 C142.3,1994.8 152.6,1997.3 158.3,2001.1 C164.1,2004.9 167.9,2011.9 173.6,2016.4 C179.3,2020.9 187.5,2027.0 192.7,2027.9 C197.9,2028.8 202.9,2023.0 205.0,2022.0" fill="none" stroke="#fff" stroke-opacity="0.7" stroke-width="10.6" stroke-linejoin="round" stroke-linecap="butt"/>
<path d="M139.1,1993.5 C142.3,1994.8 152.6,1997.3 158.3,2001.1 C164.1,2004.9 167.9,2011.9 173.6,2016.4 C179.3,2020.9 187.5,2027.0 192.7,2027.9 C197.9,2028.8 202.9,2023.0 205.0,2022.0" fill="none" stroke="#000" stroke-opacity="0.55" stroke-width="3" stroke-linejoin="round" stroke-linecap="round"/>
<path d="M300.0,1985.0 C303.3,1985.8 314.2,1985.8 320.0,1990.0 C325.8,1994.2 330.0,2010.8 335.0,2010.0 C340.0,2009.2 345.0,1990.8 350.0,1985.0 C355.0,1979.2 362.5,1976.7 365.0,1975.0" fill="none" stroke="#fff" stroke-opacity="0.75" stroke-width="10.6" stroke-linejoin="round" stroke-linecap="butt"/>
<path d="M300.0,1985.0 C303.3,1985.8 314.2,1985.8 320.0,1990.0 C325.8,1994.2 330.0,2010.8 335.0,2010.0 C340.0,2009.2 345.0,1990.8 350.0,1985.0 C355.0,1979.2 362.5,1976.7 365.0,1975.0" fill="none" stroke="#000" stroke-opacity="0.5" stroke-width="3" stroke-linejoin="round" stroke-linecap="round"/>
</g>
<g filter="url(#bl25Ci)">
<path d="M236.0,1990.0 C239.2,1990.8 248.5,1991.7 255.0,1995.0 C261.5,1998.3 269.2,2005.0 275.0,2010.0 C280.8,2015.0 284.2,2024.2 290.0,2025.0 C295.8,2025.8 302.5,2012.5 310.0,2015.0 C317.5,2017.5 327.5,2039.2 335.0,2040.0 C342.5,2040.8 351.7,2023.3 355.0,2020.0" fill="none" stroke="#fff" stroke-opacity="0.44000000000000006" stroke-width="15" stroke-linejoin="round" stroke-linecap="butt"/>
<path d="M236.0,1990.0 C239.2,1990.8 248.5,1991.7 255.0,1995.0 C261.5,1998.3 269.2,2005.0 275.0,2010.0 C280.8,2015.0 284.2,2024.2 290.0,2025.0 C295.8,2025.8 302.5,2012.5 310.0,2015.0 C317.5,2017.5 327.5,2039.2 335.0,2040.0 C342.5,2040.8 351.7,2023.3 355.0,2020.0" fill="none" stroke="#000" stroke-opacity="0.4" stroke-width="5" stroke-linejoin="round" stroke-linecap="round"/>
</g>
<g filter="url(#bl16Ci)">
<path d="M255.0,2040.0 L262.0,2036.0" fill="none" stroke="#fff" stroke-opacity="0.9" stroke-width="6.2" stroke-linejoin="round" stroke-linecap="butt"/>
</g>
<g mask="url(#mkCi)">
<g transform="rotate(-35 264.4 2081.8)"><rect x="-124.0" y="1693.5" width="776.8" height="776.8" filter="url(#sdCi)"/></g>
<g transform="rotate(43 264.4 2081.8)"><rect x="-124.0" y="1693.5" width="776.8" height="776.8" filter="url(#swCi)"/></g>
</g>
</g>
<rect x="133.0" y="1727.0" width="262.8" height="110.2" fill="url(#fadeA)"/>
</g>
<g id="panel-Cii">
<rect x="555.5" y="1727.0" width="264.2" height="709.7" fill="#b3b3b3"/>
<g clip-path="url(#cpCii)">
<rect x="555.5" y="1727.0" width="264.2" height="709.7" fill="#b9b9b9"/>
<g transform="rotate(-35 687.6 2081.8)"><rect x="299.0" y="1693.2" width="777.3" height="777.3" filter="url(#n1Cii)"/></g>
<g transform="rotate(43 687.6 2081.8)" opacity="0.5"><rect x="299.0" y="1693.2" width="777.3" height="777.3" filter="url(#n2Cii)"/></g>
<rect x="555.5" y="1727.0" width="264.2" height="709.7" filter="url(#nhCii)" mask="url(#mkCii)"/>
<g filter="url(#bl20Cii)">
<path d="M555.5,1816.6 C559.2,1817.3 571.1,1816.8 578.0,1820.6 C584.9,1824.4 593.8,1836.3 597.0,1839.4" fill="none" stroke="#000" stroke-opacity="0.23" stroke-width="7.1" stroke-linejoin="round"/>
<path d="M597.0,1839.7 C600.2,1842.9 609.5,1852.8 616.0,1858.8 C622.5,1864.8 630.5,1872.0 636.0,1875.8 C641.5,1879.6 644.3,1882.4 649.0,1881.5 C653.7,1880.6 658.3,1875.1 664.0,1870.6 C669.7,1866.1 677.2,1859.6 683.0,1854.4 C688.8,1849.3 696.3,1842.0 699.0,1839.5" fill="none" stroke="#000" stroke-opacity="0.14" stroke-width="8.2" stroke-linejoin="round"/>
<path d="M699.0,1839.9 C701.2,1838.9 706.7,1834.3 712.0,1833.6 C717.3,1832.9 725.2,1836.5 731.0,1835.6 C736.8,1834.7 741.8,1829.7 747.0,1828.3 C752.2,1826.8 756.7,1827.5 762.0,1827.1 C767.3,1826.6 774.5,1824.7 779.0,1825.6 C783.5,1826.5 784.8,1830.0 789.0,1832.4 C793.2,1834.9 798.9,1838.9 804.0,1840.3 C809.1,1841.7 817.1,1840.7 819.7,1840.8" fill="none" stroke="#000" stroke-opacity="0.18" stroke-width="7.9" stroke-linejoin="round"/>
<path d="M555.5,1829.4 C559.2,1829.7 571.1,1827.4 578.0,1831.0 C584.9,1834.5 590.7,1844.5 597.0,1850.9 C603.3,1857.2 612.8,1865.9 616.0,1869.0" fill="none" stroke="#fff" stroke-opacity="0.57" stroke-width="8.4" stroke-linejoin="round"/>
<path d="M616.0,1869.0 C619.3,1872.1 630.5,1883.3 636.0,1887.6 C641.5,1891.9 644.3,1895.6 649.0,1894.9 C653.7,1894.1 658.3,1888.1 664.0,1883.1 C669.7,1878.2 677.2,1870.9 683.0,1865.4 C688.8,1859.8 694.2,1853.3 699.0,1850.0 C703.8,1846.6 706.7,1845.5 712.0,1845.1 C717.3,1844.7 727.8,1847.0 731.0,1847.4" fill="none" stroke="#fff" stroke-opacity="0.63" stroke-width="6.4" stroke-linejoin="round"/>
<path d="M731.0,1845.3 C733.7,1844.3 741.8,1839.9 747.0,1839.2 C752.2,1838.4 756.7,1840.8 762.0,1840.7 C767.3,1840.6 774.5,1838.3 779.0,1838.7 C783.5,1839.2 784.8,1841.4 789.0,1843.6 C793.2,1845.9 798.9,1850.5 804.0,1852.3 C809.1,1854.1 817.1,1854.2 819.7,1854.5" fill="none" stroke="#fff" stroke-opacity="0.43" stroke-width="6.7" stroke-linejoin="round"/>
<path d="M555.5,1841.1 C559.2,1841.8 571.1,1842.1 578.0,1845.5 C584.9,1849.0 590.7,1855.7 597.0,1861.9 C603.3,1868.1 609.5,1877.1 616.0,1882.9 C622.5,1888.7 630.5,1893.1 636.0,1896.8 C641.5,1900.4 644.3,1905.3 649.0,1904.9 C653.7,1904.5 658.3,1899.1 664.0,1894.5 C669.7,1890.0 677.2,1882.9 683.0,1877.8 C688.8,1872.6 694.2,1866.9 699.0,1863.5 C703.8,1860.1 709.8,1858.4 712.0,1857.3" fill="none" stroke="#000" stroke-opacity="0.22" stroke-width="8.4" stroke-linejoin="round"/>
<path d="M712.0,1857.2 C715.2,1857.4 725.2,1858.8 731.0,1858.2 C736.8,1857.5 741.8,1854.2 747.0,1853.1 C752.2,1851.9 756.7,1851.8 762.0,1851.3 C767.3,1850.8 776.2,1850.2 779.0,1850.0" fill="none" stroke="#000" stroke-opacity="0.30" stroke-width="8.0" stroke-linejoin="round"/>
<path d="M779.0,1852.2 C780.7,1852.6 784.8,1852.3 789.0,1854.3 C793.2,1856.4 798.9,1862.4 804.0,1864.5 C809.1,1866.5 817.1,1866.2 819.7,1866.5" fill="none" stroke="#000" stroke-opacity="0.46" stroke-width="7.5" stroke-linejoin="round"/>
<path d="M555.5,1855.1 C559.2,1855.2 571.1,1852.7 578.0,1856.0 C584.9,1859.3 590.7,1868.6 597.0,1874.9 C603.3,1881.1 609.5,1887.9 616.0,1893.5 C622.5,1899.2 630.5,1904.8 636.0,1908.6 C641.5,1912.3 644.3,1916.2 649.0,1915.9 C653.7,1915.7 658.3,1911.6 664.0,1907.1 C669.7,1902.6 677.2,1894.5 683.0,1888.9 C688.8,1883.4 696.3,1876.1 699.0,1873.5" fill="none" stroke="#fff" stroke-opacity="0.81" stroke-width="6.9" stroke-linejoin="round"/>
<path d="M699.0,1873.8 C701.2,1872.9 706.7,1869.2 712.0,1868.6 C717.3,1868.0 727.8,1869.8 731.0,1870.0" fill="none" stroke="#fff" stroke-opacity="0.88" stroke-width="5.8" stroke-linejoin="round"/>
<path d="M731.0,1872.0 C733.7,1870.4 741.8,1864.1 747.0,1862.7 C752.2,1861.2 756.7,1863.3 762.0,1863.4 C767.3,1863.4 774.5,1862.5 779.0,1863.0 C783.5,1863.5 784.8,1864.0 789.0,1866.5 C793.2,1869.0 798.9,1875.9 804.0,1877.9 C809.1,1879.9 817.1,1878.3 819.7,1878.4" fill="none" stroke="#fff" stroke-opacity="0.61" stroke-width="8.0" stroke-linejoin="round"/>
<path d="M555.5,1866.4 C559.2,1866.5 571.1,1864.0 578.0,1867.2 C584.9,1870.4 590.7,1879.2 597.0,1885.4 C603.3,1891.6 609.5,1898.5 616.0,1904.4 C622.5,1910.3 630.5,1917.0 636.0,1920.9 C641.5,1924.7 644.3,1927.9 649.0,1927.5 C653.7,1927.1 658.3,1923.2 664.0,1918.5 C669.7,1913.8 677.2,1904.7 683.0,1899.3 C688.8,1893.9 694.2,1889.2 699.0,1886.0 C703.8,1882.9 706.7,1880.6 712.0,1880.2 C717.3,1879.8 727.8,1883.0 731.0,1883.6" fill="none" stroke="#000" stroke-opacity="0.29" stroke-width="7.8" stroke-linejoin="round"/>
<path d="M731.0,1881.4 C733.7,1880.5 741.8,1876.9 747.0,1875.9 C752.2,1874.9 759.5,1875.6 762.0,1875.5" fill="none" stroke="#000" stroke-opacity="0.27" stroke-width="5.8" stroke-linejoin="round"/>
<path d="M762.0,1875.2 C764.8,1875.1 774.5,1873.5 779.0,1874.5 C783.5,1875.4 784.8,1878.6 789.0,1880.7 C793.2,1882.7 798.9,1885.7 804.0,1887.0 C809.1,1888.3 817.1,1888.2 819.7,1888.5" fill="none" stroke="#000" stroke-opacity="0.28" stroke-width="7.4" stroke-linejoin="round"/>
<path d="M555.5,1878.5 C559.2,1878.7 571.1,1876.5 578.0,1880.0 C584.9,1883.5 590.7,1893.6 597.0,1899.4 C603.3,1905.2 609.5,1909.5 616.0,1914.8 C622.5,1920.0 630.5,1927.2 636.0,1931.0 C641.5,1934.9 644.3,1938.3 649.0,1937.9 C653.7,1937.4 658.3,1932.7 664.0,1928.3 C669.7,1924.0 677.2,1916.8 683.0,1911.7 C688.8,1906.6 694.2,1900.9 699.0,1897.7 C703.8,1894.5 706.7,1893.2 712.0,1892.5 C717.3,1891.8 725.2,1894.2 731.0,1893.5 C736.8,1892.8 741.8,1889.6 747.0,1888.3 C752.2,1887.1 756.7,1886.4 762.0,1886.2 C767.3,1886.0 774.5,1886.1 779.0,1887.1 C783.5,1888.0 787.3,1891.3 789.0,1892.1" fill="none" stroke="#fff" stroke-opacity="0.81" stroke-width="7.7" stroke-linejoin="round"/>
<path d="M789.0,1891.9 C791.5,1893.3 798.9,1898.4 804.0,1900.1 C809.1,1901.8 817.1,1901.9 819.7,1902.2" fill="none" stroke="#fff" stroke-opacity="0.76" stroke-width="7.9" stroke-linejoin="round"/>
<path d="M555.5,1890.6 C559.2,1891.0 571.1,1890.1 578.0,1893.1 C584.9,1896.2 590.7,1903.0 597.0,1908.9 C603.3,1914.9 609.5,1923.0 616.0,1928.8 C622.5,1934.6 630.5,1940.1 636.0,1943.8 C641.5,1947.5 646.8,1949.8 649.0,1951.0" fill="none" stroke="#000" stroke-opacity="0.32" stroke-width="8.2" stroke-linejoin="round"/>
<path d="M649.0,1952.1 C651.5,1950.0 658.3,1944.6 664.0,1939.8 C669.7,1935.1 677.2,1928.4 683.0,1923.4 C688.8,1918.4 694.2,1912.8 699.0,1909.8 C703.8,1906.7 706.7,1905.7 712.0,1905.1 C717.3,1904.5 725.2,1907.0 731.0,1906.1 C736.8,1905.3 741.8,1901.3 747.0,1900.1 C752.2,1898.9 756.7,1899.1 762.0,1898.8 C767.3,1898.5 776.2,1898.4 779.0,1898.3" fill="none" stroke="#000" stroke-opacity="0.16" stroke-width="5.7" stroke-linejoin="round"/>
<path d="M779.0,1897.7 C780.7,1898.7 784.8,1901.2 789.0,1903.7 C793.2,1906.2 798.9,1911.6 804.0,1912.9 C809.1,1914.2 817.1,1911.8 819.7,1911.5" fill="none" stroke="#000" stroke-opacity="0.25" stroke-width="7.4" stroke-linejoin="round"/>
<path d="M555.5,1901.2 C559.2,1901.8 571.1,1901.6 578.0,1904.8 C584.9,1907.9 590.7,1914.4 597.0,1920.1 C603.3,1925.9 609.5,1933.5 616.0,1939.2 C622.5,1944.9 630.5,1950.5 636.0,1954.2 C641.5,1957.9 644.3,1961.4 649.0,1961.4 C653.7,1961.4 658.3,1958.8 664.0,1954.3 C669.7,1949.7 677.2,1939.6 683.0,1934.3 C688.8,1928.9 694.2,1924.8 699.0,1922.2 C703.8,1919.5 709.8,1919.2 712.0,1918.6" fill="none" stroke="#fff" stroke-opacity="0.55" stroke-width="7.9" stroke-linejoin="round"/>
<path d="M712.0,1915.6 C715.2,1915.8 725.2,1917.3 731.0,1916.9 C736.8,1916.4 741.8,1913.7 747.0,1912.7 C752.2,1911.8 759.5,1911.2 762.0,1910.9" fill="none" stroke="#fff" stroke-opacity="0.56" stroke-width="6.6" stroke-linejoin="round"/>
<path d="M762.0,1911.6 C764.8,1911.7 774.5,1911.2 779.0,1911.8 C783.5,1912.4 784.8,1913.2 789.0,1915.1 C793.2,1917.0 798.9,1921.2 804.0,1923.0 C809.1,1924.8 817.1,1925.4 819.7,1925.8" fill="none" stroke="#fff" stroke-opacity="0.48" stroke-width="7.2" stroke-linejoin="round"/>
<path d="M555.5,1912.7 C559.2,1913.3 571.1,1912.7 578.0,1916.4 C584.9,1920.0 590.7,1928.7 597.0,1934.6 C603.3,1940.5 609.5,1946.5 616.0,1951.6 C622.5,1956.8 630.5,1961.8 636.0,1965.5 C641.5,1969.1 644.3,1973.5 649.0,1973.4 C653.7,1973.4 658.3,1969.6 664.0,1965.2 C669.7,1960.8 677.2,1952.8 683.0,1947.3 C688.8,1941.8 694.2,1935.3 699.0,1932.2 C703.8,1929.1 706.7,1929.1 712.0,1928.8 C717.3,1928.5 725.2,1931.2 731.0,1930.5 C736.8,1929.8 741.8,1925.6 747.0,1924.5 C752.2,1923.5 756.7,1924.7 762.0,1924.2 C767.3,1923.6 776.2,1921.7 779.0,1921.2" fill="none" stroke="#000" stroke-opacity="0.21" stroke-width="7.0" stroke-linejoin="round"/>
<path d="M779.0,1921.6 C780.7,1922.4 784.8,1923.9 789.0,1926.1 C793.2,1928.4 798.9,1933.3 804.0,1935.0 C809.1,1936.7 817.1,1936.2 819.7,1936.4" fill="none" stroke="#000" stroke-opacity="0.16" stroke-width="6.0" stroke-linejoin="round"/>
<path d="M555.5,1924.6 C559.2,1925.3 571.1,1925.5 578.0,1929.0 C584.9,1932.5 590.7,1939.9 597.0,1945.5 C603.3,1951.0 612.8,1959.3 616.0,1962.1" fill="none" stroke="#fff" stroke-opacity="0.43" stroke-width="7.5" stroke-linejoin="round"/>
<path d="M616.0,1962.6 C619.3,1965.3 630.5,1974.7 636.0,1978.7 C641.5,1982.7 644.3,1986.8 649.0,1986.6 C653.7,1986.3 658.3,1981.9 664.0,1977.3 C669.7,1972.6 677.2,1964.0 683.0,1958.8 C688.8,1953.6 694.2,1949.3 699.0,1946.1 C703.8,1942.9 706.7,1940.2 712.0,1939.4 C717.3,1938.7 725.2,1942.4 731.0,1941.6 C736.8,1940.9 741.8,1936.0 747.0,1934.8 C752.2,1933.5 756.7,1934.3 762.0,1934.3 C767.3,1934.3 774.5,1933.7 779.0,1934.7 C783.5,1935.7 784.8,1938.3 789.0,1940.2 C793.2,1942.2 798.9,1945.2 804.0,1946.3 C809.1,1947.4 817.1,1946.8 819.7,1946.9" fill="none" stroke="#fff" stroke-opacity="0.52" stroke-width="6.2" stroke-linejoin="round"/>
<path d="M555.5,1938.3 C559.2,1938.3 571.1,1935.4 578.0,1938.5 C584.9,1941.6 590.7,1951.0 597.0,1957.0 C603.3,1963.0 609.5,1969.2 616.0,1974.5 C622.5,1979.9 630.5,1985.7 636.0,1989.2 C641.5,1992.7 646.8,1994.5 649.0,1995.6" fill="none" stroke="#000" stroke-opacity="0.17" stroke-width="6.4" stroke-linejoin="round"/>
<path d="M649.0,1996.6 C651.5,1995.3 658.3,1993.3 664.0,1988.8 C669.7,1984.4 677.2,1975.1 683.0,1969.9 C688.8,1964.6 694.2,1960.1 699.0,1957.3 C703.8,1954.5 706.7,1953.8 712.0,1953.2 C717.3,1952.6 725.2,1954.6 731.0,1953.4 C736.8,1952.3 741.8,1947.1 747.0,1946.3 C752.2,1945.5 759.5,1948.3 762.0,1948.7" fill="none" stroke="#000" stroke-opacity="0.21" stroke-width="7.4" stroke-linejoin="round"/>
<path d="M762.0,1947.6 C764.8,1947.3 774.5,1945.6 779.0,1945.9 C783.5,1946.2 784.8,1947.0 789.0,1949.4 C793.2,1951.7 798.9,1958.5 804.0,1960.0 C809.1,1961.6 817.1,1959.0 819.7,1958.8" fill="none" stroke="#000" stroke-opacity="0.10" stroke-width="8.2" stroke-linejoin="round"/>
<path d="M555.5,1948.7 C559.2,1949.0 571.1,1946.9 578.0,1950.6 C584.9,1954.2 590.7,1964.3 597.0,1970.3 C603.3,1976.4 612.8,1984.1 616.0,1986.9" fill="none" stroke="#fff" stroke-opacity="0.26" stroke-width="7.0" stroke-linejoin="round"/>
<path d="M616.0,1985.9 C619.3,1988.5 630.5,1997.5 636.0,2001.3 C641.5,2005.1 646.8,2007.4 649.0,2008.6" fill="none" stroke="#fff" stroke-opacity="0.29" stroke-width="6.3" stroke-linejoin="round"/>
<path d="M649.0,2008.6 C651.5,2006.9 658.3,2003.0 664.0,1998.5 C669.7,1994.0 677.2,1986.6 683.0,1981.5 C688.8,1976.4 694.2,1970.7 699.0,1967.8 C703.8,1964.9 706.7,1964.5 712.0,1964.3 C717.3,1964.1 725.2,1967.4 731.0,1966.5 C736.8,1965.7 741.8,1960.4 747.0,1959.3 C752.2,1958.2 756.7,1960.3 762.0,1960.0 C767.3,1959.7 774.5,1956.8 779.0,1957.3 C783.5,1957.8 784.8,1961.0 789.0,1963.0 C793.2,1965.0 798.9,1968.2 804.0,1969.4 C809.1,1970.7 817.1,1970.4 819.7,1970.6" fill="none" stroke="#fff" stroke-opacity="0.26" stroke-width="6.2" stroke-linejoin="round"/>
<path d="M555.5,1961.1 C559.2,1961.6 571.1,1961.4 578.0,1964.5 C584.9,1967.6 590.7,1974.4 597.0,1979.8 C603.3,1985.1 612.8,1993.7 616.0,1996.5" fill="none" stroke="#000" stroke-opacity="0.13" stroke-width="5.8" stroke-linejoin="round"/>
<path d="M616.0,1998.7 C619.3,2000.9 630.5,2008.4 636.0,2011.7 C641.5,2015.0 644.3,2019.0 649.0,2018.6 C653.7,2018.2 658.3,2013.4 664.0,2009.3 C669.7,2005.1 677.2,1998.0 683.0,1993.5 C688.8,1988.9 694.2,1984.6 699.0,1981.8 C703.8,1979.1 706.7,1977.6 712.0,1976.8 C717.3,1976.0 725.2,1978.0 731.0,1977.1 C736.8,1976.1 741.8,1971.9 747.0,1971.0 C752.2,1970.0 756.7,1971.7 762.0,1971.4 C767.3,1971.0 774.5,1968.4 779.0,1969.1 C783.5,1969.8 784.8,1972.9 789.0,1975.5 C793.2,1978.0 798.9,1982.9 804.0,1984.2 C809.1,1985.5 817.1,1983.5 819.7,1983.4" fill="none" stroke="#000" stroke-opacity="0.13" stroke-width="7.1" stroke-linejoin="round"/>
<path d="M555.5,1973.5 C559.2,1973.8 571.1,1971.9 578.0,1975.1 C584.9,1978.3 590.7,1987.0 597.0,1992.7 C603.3,1998.5 609.5,2004.6 616.0,2009.7 C622.5,2014.8 630.5,2019.8 636.0,2023.4 C641.5,2026.9 644.3,2031.3 649.0,2030.9 C653.7,2030.6 658.3,2025.4 664.0,2021.2 C669.7,2017.0 677.2,2010.0 683.0,2005.5 C688.8,2001.0 696.3,1996.0 699.0,1994.1" fill="none" stroke="#fff" stroke-opacity="0.27" stroke-width="7.4" stroke-linejoin="round"/>
<path d="M699.0,1994.1 C701.2,1993.4 706.7,1990.5 712.0,1989.7 C717.3,1988.8 727.8,1989.1 731.0,1989.0" fill="none" stroke="#fff" stroke-opacity="0.33" stroke-width="7.4" stroke-linejoin="round"/>
<path d="M731.0,1990.6 C733.7,1989.5 741.8,1985.3 747.0,1984.2 C752.2,1983.2 756.7,1984.3 762.0,1984.2 C767.3,1984.0 774.5,1983.2 779.0,1983.4 C783.5,1983.6 784.8,1983.8 789.0,1985.5 C793.2,1987.2 798.9,1992.3 804.0,1993.8 C809.1,1995.3 817.1,1994.3 819.7,1994.3" fill="none" stroke="#fff" stroke-opacity="0.36" stroke-width="7.6" stroke-linejoin="round"/>
<path d="M555.5,1986.0 C559.2,1986.5 571.1,1985.5 578.0,1988.8 C584.9,1992.1 593.8,2003.0 597.0,2005.8" fill="none" stroke="#000" stroke-opacity="0.09" stroke-width="7.1" stroke-linejoin="round"/>
<path d="M597.0,2005.0 C600.2,2007.9 609.5,2017.2 616.0,2022.6 C622.5,2027.9 630.5,2033.7 636.0,2036.9 C641.5,2040.2 646.8,2041.0 649.0,2041.8" fill="none" stroke="#000" stroke-opacity="0.08" stroke-width="8.3" stroke-linejoin="round"/>
<path d="M649.0,2041.1 C651.5,2040.0 658.3,2038.3 664.0,2034.4 C669.7,2030.5 677.2,2022.5 683.0,2017.8 C688.8,2013.0 694.2,2008.7 699.0,2006.0 C703.8,2003.3 706.7,2002.5 712.0,2001.6 C717.3,2000.6 725.2,2001.2 731.0,2000.1 C736.8,1999.0 741.8,1996.0 747.0,1994.9 C752.2,1993.9 756.7,1994.2 762.0,1993.9 C767.3,1993.7 774.5,1992.3 779.0,1993.3 C783.5,1994.3 784.8,1997.9 789.0,1999.8 C793.2,2001.8 798.9,2004.1 804.0,2005.1 C809.1,2006.2 817.1,2006.1 819.7,2006.2" fill="none" stroke="#000" stroke-opacity="0.10" stroke-width="6.4" stroke-linejoin="round"/>
<path d="M555.5,1999.5 C559.2,1999.6 571.1,1997.3 578.0,2000.3 C584.9,2003.3 590.7,2011.9 597.0,2017.6 C603.3,2023.2 609.5,2029.3 616.0,2034.4 C622.5,2039.5 632.7,2045.8 636.0,2048.1" fill="none" stroke="#fff" stroke-opacity="0.31" stroke-width="7.3" stroke-linejoin="round"/>
<path d="M636.0,2046.8 C638.2,2048.2 644.3,2055.5 649.0,2055.1 C653.7,2054.7 661.5,2046.1 664.0,2044.3" fill="none" stroke="#fff" stroke-opacity="0.19" stroke-width="5.5" stroke-linejoin="round"/>
<path d="M664.0,2045.1 C667.2,2042.3 677.2,2033.4 683.0,2028.5 C688.8,2023.5 694.2,2017.9 699.0,2015.4 C703.8,2012.9 706.7,2014.0 712.0,2013.4 C717.3,2012.7 725.2,2012.7 731.0,2011.7 C736.8,2010.6 741.8,2008.0 747.0,2006.9 C752.2,2005.8 756.7,2005.4 762.0,2005.3 C767.3,2005.3 774.5,2005.9 779.0,2006.8 C783.5,2007.6 784.8,2008.5 789.0,2010.5 C793.2,2012.5 798.9,2017.1 804.0,2018.6 C809.1,2020.1 817.1,2019.3 819.7,2019.5" fill="none" stroke="#fff" stroke-opacity="0.30" stroke-width="6.2" stroke-linejoin="round"/>
<path d="M555.5,2009.6 C559.2,2009.9 571.1,2007.9 578.0,2011.0 C584.9,2014.0 590.7,2022.4 597.0,2028.0 C603.3,2033.5 609.5,2039.3 616.0,2044.5 C622.5,2049.6 630.5,2055.3 636.0,2058.9 C641.5,2062.5 644.3,2066.8 649.0,2066.2 C653.7,2065.6 661.5,2057.2 664.0,2055.4" fill="none" stroke="#000" stroke-opacity="0.11" stroke-width="7.5" stroke-linejoin="round"/>
<path d="M664.0,2057.7 C667.2,2054.7 677.2,2044.7 683.0,2039.6 C688.8,2034.6 694.2,2030.5 699.0,2027.6 C703.8,2024.8 706.7,2023.4 712.0,2022.7 C717.3,2022.0 725.2,2024.0 731.0,2023.5 C736.8,2023.0 744.3,2020.4 747.0,2019.8" fill="none" stroke="#000" stroke-opacity="0.07" stroke-width="6.6" stroke-linejoin="round"/>
<path d="M747.0,2017.2 C749.5,2017.2 756.7,2016.9 762.0,2017.1 C767.3,2017.3 774.5,2017.8 779.0,2018.4 C783.5,2019.1 784.8,2019.1 789.0,2020.9 C793.2,2022.8 798.9,2028.1 804.0,2029.5 C809.1,2031.0 817.1,2029.6 819.7,2029.7" fill="none" stroke="#000" stroke-opacity="0.10" stroke-width="6.0" stroke-linejoin="round"/>
<path d="M555.5,2021.5 C559.2,2021.7 571.1,2019.7 578.0,2023.0 C584.9,2026.3 590.7,2035.6 597.0,2041.2 C603.3,2046.8 609.5,2051.7 616.0,2056.5 C622.5,2061.3 630.5,2066.8 636.0,2069.9 C641.5,2073.0 644.3,2075.5 649.0,2075.2 C653.7,2074.8 658.3,2071.6 664.0,2067.8 C669.7,2064.0 677.2,2057.4 683.0,2052.5 C688.8,2047.6 694.2,2041.1 699.0,2038.5 C703.8,2035.9 706.7,2037.5 712.0,2036.9 C717.3,2036.3 725.2,2036.1 731.0,2035.1 C736.8,2034.0 744.3,2031.5 747.0,2030.8" fill="none" stroke="#fff" stroke-opacity="0.23" stroke-width="5.7" stroke-linejoin="round"/>
<path d="M747.0,2029.2 C749.5,2029.2 756.7,2029.7 762.0,2029.6 C767.3,2029.6 774.5,2028.5 779.0,2029.1 C783.5,2029.7 784.8,2031.3 789.0,2033.3 C793.2,2035.3 798.9,2039.7 804.0,2041.1 C809.1,2042.4 817.1,2041.3 819.7,2041.3" fill="none" stroke="#fff" stroke-opacity="0.22" stroke-width="7.8" stroke-linejoin="round"/>
<path d="M555.5,2034.1 C559.2,2034.3 571.1,2032.5 578.0,2035.2 C584.9,2037.8 590.7,2045.0 597.0,2050.3 C603.3,2055.5 612.8,2064.0 616.0,2066.8" fill="none" stroke="#000" stroke-opacity="0.07" stroke-width="7.9" stroke-linejoin="round"/>
<path d="M616.0,2066.5 C619.3,2068.9 630.5,2077.4 636.0,2080.8 C641.5,2084.2 644.3,2086.6 649.0,2086.7 C653.7,2086.7 658.3,2085.0 664.0,2081.2 C669.7,2077.3 677.2,2068.4 683.0,2063.4 C688.8,2058.4 694.2,2053.8 699.0,2051.1 C703.8,2048.5 706.7,2047.7 712.0,2047.4 C717.3,2047.1 727.8,2049.0 731.0,2049.3" fill="none" stroke="#000" stroke-opacity="0.10" stroke-width="6.2" stroke-linejoin="round"/>
<path d="M731.0,2048.8 C733.7,2048.0 741.8,2045.1 747.0,2044.0 C752.2,2042.8 756.7,2042.2 762.0,2042.1 C767.3,2041.9 774.5,2042.5 779.0,2043.2 C783.5,2043.9 784.8,2044.3 789.0,2046.1 C793.2,2048.0 798.9,2052.9 804.0,2054.4 C809.1,2055.8 817.1,2054.8 819.7,2054.9" fill="none" stroke="#000" stroke-opacity="0.08" stroke-width="6.7" stroke-linejoin="round"/>
<path d="M555.5,2045.8 C559.2,2045.9 571.1,2043.3 578.0,2046.4 C584.9,2049.5 590.7,2058.9 597.0,2064.3 C603.3,2069.8 612.8,2076.6 616.0,2079.0" fill="none" stroke="#fff" stroke-opacity="0.16" stroke-width="8.0" stroke-linejoin="round"/>
<path d="M616.0,2080.0 L636.0,2095.2" fill="none" stroke="#fff" stroke-opacity="0.19" stroke-width="7.8" stroke-linejoin="round"/>
<path d="M636.0,2094.4 C638.2,2095.3 644.3,2100.3 649.0,2099.9 C653.7,2099.6 658.3,2096.2 664.0,2092.3 C669.7,2088.4 677.2,2081.3 683.0,2076.4 C688.8,2071.4 694.2,2065.4 699.0,2062.4 C703.8,2059.4 706.7,2059.0 712.0,2058.5 C717.3,2058.0 725.2,2059.7 731.0,2059.3 C736.8,2058.8 741.8,2056.5 747.0,2055.7 C752.2,2054.9 756.7,2055.1 762.0,2054.6 C767.3,2054.1 774.5,2051.9 779.0,2052.6 C783.5,2053.4 784.8,2056.9 789.0,2059.0 C793.2,2061.2 798.9,2064.7 804.0,2065.6 C809.1,2066.6 817.1,2064.8 819.7,2064.6" fill="none" stroke="#fff" stroke-opacity="0.20" stroke-width="7.3" stroke-linejoin="round"/>
<path d="M555.5,2059.2 C559.2,2059.2 571.1,2056.4 578.0,2059.3 C584.9,2062.2 590.7,2071.5 597.0,2076.7 C603.3,2081.9 612.8,2088.0 616.0,2090.3" fill="none" stroke="#000" stroke-opacity="0.05" stroke-width="7.9" stroke-linejoin="round"/>
<path d="M616.0,2091.5 L636.0,2105.5" fill="none" stroke="#000" stroke-opacity="0.04" stroke-width="7.3" stroke-linejoin="round"/>
<path d="M636.0,2106.6 C638.2,2107.4 644.3,2112.5 649.0,2111.6 C653.7,2110.7 658.3,2105.2 664.0,2101.2 C669.7,2097.2 677.2,2091.7 683.0,2087.6 C688.8,2083.5 694.2,2079.6 699.0,2076.8 C703.8,2074.1 706.7,2071.8 712.0,2071.2 C717.3,2070.6 725.2,2074.2 731.0,2073.3 C736.8,2072.4 741.8,2067.3 747.0,2065.9 C752.2,2064.5 756.7,2064.9 762.0,2064.8 C767.3,2064.7 774.5,2064.6 779.0,2065.2 C783.5,2065.9 784.8,2066.7 789.0,2068.9 C793.2,2071.1 798.9,2077.0 804.0,2078.5 C809.1,2079.9 817.1,2077.6 819.7,2077.4" fill="none" stroke="#000" stroke-opacity="0.05" stroke-width="6.0" stroke-linejoin="round"/>
<path d="M555.5,2070.9 C559.2,2071.1 571.1,2069.7 578.0,2072.4 C584.9,2075.1 590.7,2082.2 597.0,2087.3 C603.3,2092.3 609.5,2097.6 616.0,2102.7 C622.5,2107.8 632.7,2115.2 636.0,2117.7" fill="none" stroke="#fff" stroke-opacity="0.17" stroke-width="7.9" stroke-linejoin="round"/>
<path d="M636.0,2116.5 C638.2,2117.7 644.3,2124.3 649.0,2123.8 C653.7,2123.4 658.3,2118.0 664.0,2113.7 C669.7,2109.4 677.2,2102.5 683.0,2097.9 C688.8,2093.4 696.3,2088.3 699.0,2086.3" fill="none" stroke="#fff" stroke-opacity="0.16" stroke-width="6.5" stroke-linejoin="round"/>
<path d="M699.0,2086.4 C701.2,2085.8 706.7,2083.0 712.0,2082.6 C717.3,2082.2 725.2,2085.1 731.0,2084.1 C736.8,2083.2 741.8,2077.8 747.0,2076.9 C752.2,2076.1 756.7,2079.1 762.0,2079.1 C767.3,2079.2 774.5,2076.5 779.0,2077.0 C783.5,2077.6 784.8,2080.6 789.0,2082.3 C793.2,2084.0 798.9,2086.4 804.0,2087.4 C809.1,2088.4 817.1,2088.2 819.7,2088.3" fill="none" stroke="#fff" stroke-opacity="0.13" stroke-width="6.3" stroke-linejoin="round"/>
<path d="M555.5,2083.3 C559.2,2083.6 571.1,2082.6 578.0,2085.1 C584.9,2087.6 590.7,2093.6 597.0,2098.3 C603.3,2103.0 609.5,2108.5 616.0,2113.4 C622.5,2118.3 630.5,2124.5 636.0,2127.8 C641.5,2131.2 644.3,2134.1 649.0,2133.6 C653.7,2133.1 661.5,2126.3 664.0,2124.9" fill="none" stroke="#000" stroke-opacity="0.06" stroke-width="6.1" stroke-linejoin="round"/>
<path d="M664.0,2125.3 C667.2,2122.7 677.2,2114.2 683.0,2110.0 C688.8,2105.8 694.2,2102.5 699.0,2100.0 C703.8,2097.5 706.7,2095.3 712.0,2094.8 C717.3,2094.3 725.2,2097.6 731.0,2097.0 C736.8,2096.5 741.8,2092.7 747.0,2091.6 C752.2,2090.6 756.7,2091.0 762.0,2090.8 C767.3,2090.6 776.2,2090.6 779.0,2090.6" fill="none" stroke="#000" stroke-opacity="0.04" stroke-width="6.7" stroke-linejoin="round"/>
<path d="M779.0,2090.7 C780.7,2091.3 784.8,2092.5 789.0,2094.3 C793.2,2096.2 798.9,2100.4 804.0,2101.7 C809.1,2103.0 817.1,2101.9 819.7,2101.9" fill="none" stroke="#000" stroke-opacity="0.05" stroke-width="6.0" stroke-linejoin="round"/>
<path d="M555.5,2093.3 C559.2,2093.9 571.1,2093.7 578.0,2096.7 C584.9,2099.8 593.8,2109.2 597.0,2111.7" fill="none" stroke="#fff" stroke-opacity="0.11" stroke-width="6.2" stroke-linejoin="round"/>
<path d="M597.0,2112.1 C600.2,2114.5 609.5,2122.2 616.0,2126.7 C622.5,2131.1 630.5,2136.0 636.0,2139.0 C641.5,2142.1 644.3,2145.2 649.0,2144.9 C653.7,2144.5 658.3,2140.6 664.0,2136.8 C669.7,2132.9 677.2,2125.9 683.0,2121.6 C688.8,2117.3 696.3,2112.7 699.0,2110.9" fill="none" stroke="#fff" stroke-opacity="0.13" stroke-width="7.6" stroke-linejoin="round"/>
<path d="M699.0,2111.6 C701.2,2110.7 706.7,2106.8 712.0,2106.2 C717.3,2105.6 725.2,2108.9 731.0,2108.0 C736.8,2107.1 741.8,2102.0 747.0,2100.8 C752.2,2099.6 756.7,2100.8 762.0,2101.0 C767.3,2101.2 774.5,2101.3 779.0,2101.8 C783.5,2102.3 784.8,2102.2 789.0,2104.0 C793.2,2105.8 798.9,2111.1 804.0,2112.6 C809.1,2114.1 817.1,2113.0 819.7,2113.1" fill="none" stroke="#fff" stroke-opacity="0.15" stroke-width="6.5" stroke-linejoin="round"/>
<path d="M555.5,2106.0 C559.2,2106.1 571.1,2103.6 578.0,2106.5 C584.9,2109.3 590.7,2118.1 597.0,2123.1 C603.3,2128.1 612.8,2134.2 616.0,2136.5" fill="none" stroke="#000" stroke-opacity="0.06" stroke-width="7.2" stroke-linejoin="round"/>
<path d="M616.0,2137.8 C619.3,2139.8 630.5,2146.4 636.0,2149.7 C641.5,2153.0 646.8,2156.3 649.0,2157.6" fill="none" stroke="#000" stroke-opacity="0.03" stroke-width="8.2" stroke-linejoin="round"/>
<path d="M649.0,2157.3 C651.5,2155.7 658.3,2151.1 664.0,2147.5 C669.7,2143.9 677.2,2140.0 683.0,2135.8 C688.8,2131.5 694.2,2124.7 699.0,2122.0 C703.8,2119.2 706.7,2120.0 712.0,2119.4 C717.3,2118.8 725.2,2119.8 731.0,2118.6 C736.8,2117.5 741.8,2113.3 747.0,2112.4 C752.2,2111.5 756.7,2113.2 762.0,2113.2 C767.3,2113.1 774.5,2111.3 779.0,2112.1 C783.5,2112.8 784.8,2115.9 789.0,2117.7 C793.2,2119.5 798.9,2122.0 804.0,2123.0 C809.1,2123.9 817.1,2123.5 819.7,2123.6" fill="none" stroke="#000" stroke-opacity="0.04" stroke-width="6.1" stroke-linejoin="round"/>
<path d="M555.5,2117.2 C559.2,2117.6 571.1,2117.4 578.0,2120.1 C584.9,2122.9 590.7,2128.8 597.0,2133.7 C603.3,2138.5 609.5,2144.6 616.0,2149.2 C622.5,2153.9 630.5,2158.8 636.0,2161.8 C641.5,2164.7 644.3,2167.3 649.0,2167.0 C653.7,2166.6 658.3,2163.1 664.0,2159.7 C669.7,2156.3 677.2,2150.8 683.0,2146.6 C688.8,2142.3 694.2,2136.7 699.0,2134.3 C703.8,2131.9 706.7,2132.4 712.0,2132.1 C717.3,2131.8 725.2,2133.4 731.0,2132.5 C736.8,2131.7 741.8,2128.3 747.0,2127.0 C752.2,2125.6 759.5,2124.9 762.0,2124.5" fill="none" stroke="#fff" stroke-opacity="0.14" stroke-width="6.4" stroke-linejoin="round"/>
<path d="M762.0,2127.3 C764.8,2126.6 774.5,2123.4 779.0,2123.5 C783.5,2123.7 784.8,2126.0 789.0,2128.0 C793.2,2130.1 798.9,2134.4 804.0,2135.6 C809.1,2136.9 817.1,2135.5 819.7,2135.5" fill="none" stroke="#fff" stroke-opacity="0.13" stroke-width="6.8" stroke-linejoin="round"/>
<path d="M555.5,2129.9 C559.2,2130.4 571.1,2130.4 578.0,2133.1 C584.9,2135.9 590.7,2141.8 597.0,2146.6 C603.3,2151.4 609.5,2157.3 616.0,2161.9 C622.5,2166.4 630.5,2170.6 636.0,2173.8 C641.5,2177.0 644.3,2181.6 649.0,2181.1 C653.7,2180.5 658.3,2174.5 664.0,2170.5 C669.7,2166.5 677.2,2161.0 683.0,2157.1 C688.8,2153.2 696.3,2148.7 699.0,2147.0" fill="none" stroke="#000" stroke-opacity="0.04" stroke-width="6.4" stroke-linejoin="round"/>
<path d="M699.0,2146.7 L712.0,2144.0" fill="none" stroke="#000" stroke-opacity="0.04" stroke-width="8.3" stroke-linejoin="round"/>
<path d="M712.0,2143.9 C715.2,2144.0 725.2,2145.7 731.0,2144.7 C736.8,2143.7 741.8,2138.7 747.0,2137.6 C752.2,2136.5 756.7,2138.0 762.0,2138.2 C767.3,2138.3 774.5,2137.8 779.0,2138.3 C783.5,2138.9 784.8,2139.9 789.0,2141.4 C793.2,2143.0 798.9,2146.3 804.0,2147.5 C809.1,2148.7 817.1,2148.2 819.7,2148.4" fill="none" stroke="#000" stroke-opacity="0.03" stroke-width="5.8" stroke-linejoin="round"/>
<path d="M555.5,2141.7 C559.2,2142.1 571.1,2141.2 578.0,2144.2 C584.9,2147.1 593.8,2156.8 597.0,2159.3" fill="none" stroke="#fff" stroke-opacity="0.13" stroke-width="7.2" stroke-linejoin="round"/>
<path d="M597.0,2156.7 C600.2,2159.5 609.5,2168.6 616.0,2173.4 C622.5,2178.3 630.5,2182.7 636.0,2185.7 C641.5,2188.6 644.3,2191.4 649.0,2190.9 C653.7,2190.4 658.3,2186.4 664.0,2182.7 C669.7,2179.1 677.2,2173.1 683.0,2168.8 C688.8,2164.5 694.2,2159.1 699.0,2156.8 C703.8,2154.5 706.7,2155.2 712.0,2155.0 C717.3,2154.9 725.2,2157.2 731.0,2156.1 C736.8,2154.9 741.8,2149.1 747.0,2148.2 C752.2,2147.3 756.7,2150.4 762.0,2150.7 C767.3,2150.9 774.5,2149.5 779.0,2150.0 C783.5,2150.5 787.3,2153.0 789.0,2153.6" fill="none" stroke="#fff" stroke-opacity="0.13" stroke-width="6.7" stroke-linejoin="round"/>
<path d="M789.0,2152.4 C791.5,2153.7 798.9,2158.5 804.0,2160.0 C809.1,2161.5 817.1,2161.0 819.7,2161.3" fill="none" stroke="#fff" stroke-opacity="0.12" stroke-width="6.2" stroke-linejoin="round"/>
<path d="M555.5,2152.5 C559.2,2152.9 571.1,2152.0 578.0,2155.0 C584.9,2158.1 590.7,2165.8 597.0,2170.7 C603.3,2175.5 609.5,2180.0 616.0,2184.3 C622.5,2188.6 630.5,2193.6 636.0,2196.4 C641.5,2199.2 644.3,2201.4 649.0,2201.0 C653.7,2200.5 658.3,2197.0 664.0,2193.7 C669.7,2190.4 677.2,2185.4 683.0,2181.4 C688.8,2177.4 694.2,2172.0 699.0,2169.6 C703.8,2167.1 706.7,2167.1 712.0,2166.7 C717.3,2166.3 725.2,2167.7 731.0,2167.1 C736.8,2166.5 744.3,2163.7 747.0,2163.0" fill="none" stroke="#000" stroke-opacity="0.04" stroke-width="7.8" stroke-linejoin="round"/>
<path d="M747.0,2162.7 C749.5,2162.5 756.7,2162.2 762.0,2162.0 C767.3,2161.7 774.5,2160.8 779.0,2161.0 C783.5,2161.2 784.8,2161.3 789.0,2163.3 C793.2,2165.3 798.9,2171.6 804.0,2173.0 C809.1,2174.5 817.1,2172.3 819.7,2172.2" fill="none" stroke="#000" stroke-opacity="0.05" stroke-width="6.6" stroke-linejoin="round"/>
<path d="M555.5,2166.5 C559.2,2166.4 571.1,2163.6 578.0,2166.0 C584.9,2168.5 590.7,2176.0 597.0,2181.1 C603.3,2186.3 609.5,2192.3 616.0,2196.7 C622.5,2201.2 632.7,2206.1 636.0,2208.0" fill="none" stroke="#fff" stroke-opacity="0.09" stroke-width="5.6" stroke-linejoin="round"/>
<path d="M636.0,2208.1 C638.2,2209.0 644.3,2214.2 649.0,2213.9 C653.7,2213.6 658.3,2210.0 664.0,2206.3 C669.7,2202.6 677.2,2195.6 683.0,2191.6 C688.8,2187.6 694.2,2184.5 699.0,2182.5 C703.8,2180.4 706.7,2180.2 712.0,2179.4 C717.3,2178.7 725.2,2179.2 731.0,2178.1 C736.8,2176.9 741.8,2173.2 747.0,2172.5 C752.2,2171.8 756.7,2174.0 762.0,2173.9 C767.3,2173.9 774.5,2171.9 779.0,2172.4 C783.5,2172.8 784.8,2174.9 789.0,2176.8 C793.2,2178.8 798.9,2183.1 804.0,2184.1 C809.1,2185.1 817.1,2183.2 819.7,2183.0" fill="none" stroke="#fff" stroke-opacity="0.10" stroke-width="6.3" stroke-linejoin="round"/>
</g>
<g filter="url(#bl25Cii)">
<path d="M575.0,1945.0 C579.2,1948.3 591.7,1957.8 600.0,1965.0 C608.3,1972.2 616.8,1981.3 625.0,1988.0 C633.2,1994.7 641.5,2005.5 649.0,2005.0 C656.5,2004.5 663.2,1991.7 670.0,1985.0 C676.8,1978.3 683.3,1970.8 690.0,1965.0 C696.7,1959.2 706.7,1952.5 710.0,1950.0" fill="none" stroke="#fff" stroke-opacity="0.4" stroke-width="15" stroke-linejoin="round" stroke-linecap="butt"/>
<path d="M575.0,1945.0 C579.2,1948.3 591.7,1957.8 600.0,1965.0 C608.3,1972.2 616.8,1981.3 625.0,1988.0 C633.2,1994.7 641.5,2005.5 649.0,2005.0 C656.5,2004.5 663.2,1991.7 670.0,1985.0 C676.8,1978.3 683.3,1970.8 690.0,1965.0 C696.7,1959.2 706.7,1952.5 710.0,1950.0" fill="none" stroke="#000" stroke-opacity="0.3" stroke-width="5" stroke-linejoin="round" stroke-linecap="round"/>
<path d="M575.0,1985.0 C579.2,1988.3 591.7,1997.8 600.0,2005.0 C608.3,2012.2 616.8,2021.8 625.0,2028.0 C633.2,2034.2 641.5,2042.5 649.0,2042.0 C656.5,2041.5 663.2,2031.2 670.0,2025.0 C676.8,2018.8 682.5,2011.7 690.0,2005.0 C697.5,1998.3 710.8,1988.3 715.0,1985.0" fill="none" stroke="#fff" stroke-opacity="0.4" stroke-width="15" stroke-linejoin="round" stroke-linecap="butt"/>
<path d="M575.0,1985.0 C579.2,1988.3 591.7,1997.8 600.0,2005.0 C608.3,2012.2 616.8,2021.8 625.0,2028.0 C633.2,2034.2 641.5,2042.5 649.0,2042.0 C656.5,2041.5 663.2,2031.2 670.0,2025.0 C676.8,2018.8 682.5,2011.7 690.0,2005.0 C697.5,1998.3 710.8,1988.3 715.0,1985.0" fill="none" stroke="#000" stroke-opacity="0.3" stroke-width="5" stroke-linejoin="round" stroke-linecap="round"/>
<path d="M740.0,1950.0 C744.2,1947.5 756.7,1935.8 765.0,1935.0 C773.3,1934.2 780.9,1940.0 790.0,1945.0 C799.1,1950.0 814.8,1961.7 819.7,1965.0" fill="none" stroke="#fff" stroke-opacity="0.36000000000000004" stroke-width="15" stroke-linejoin="round" stroke-linecap="butt"/>
<path d="M740.0,1950.0 C744.2,1947.5 756.7,1935.8 765.0,1935.0 C773.3,1934.2 780.9,1940.0 790.0,1945.0 C799.1,1950.0 814.8,1961.7 819.7,1965.0" fill="none" stroke="#000" stroke-opacity="0.3" stroke-width="5" stroke-linejoin="round" stroke-linecap="round"/>
</g>
<g filter="url(#bl16Cii)">
<path d="M555.5,1848.1 C558.6,1847.8 569.0,1844.9 574.4,1846.2 C579.8,1847.5 583.0,1851.5 587.8,1855.7 C592.6,1859.9 597.7,1866.0 603.1,1871.1 C608.5,1876.2 614.6,1881.6 620.4,1886.4 C626.1,1891.2 634.7,1897.5 637.6,1899.7" fill="none" stroke="#000" stroke-opacity="0.5" stroke-width="3.8" stroke-linejoin="round" stroke-linecap="round"/>
<path d="M555.5,1878.7 C558.6,1878.4 569.0,1875.5 574.4,1876.8 C579.8,1878.1 583.0,1882.1 587.8,1886.3 C592.6,1890.5 597.7,1896.6 603.1,1901.7 C608.5,1906.8 614.6,1912.2 620.4,1917.0 C626.1,1921.8 634.7,1928.1 637.6,1930.3" fill="none" stroke="#000" stroke-opacity="0.5" stroke-width="3.8" stroke-linejoin="round" stroke-linecap="round"/>
<path d="M555.5,1863.4 C558.6,1863.1 569.0,1860.2 574.4,1861.5 C579.8,1862.8 583.0,1866.8 587.8,1871.0 C592.6,1875.2 597.7,1881.3 603.1,1886.4 C608.5,1891.5 614.6,1896.9 620.4,1901.7 C626.1,1906.5 634.7,1912.8 637.6,1915.0" fill="none" stroke="#fff" stroke-opacity="1.0" stroke-width="27.0" stroke-linejoin="round" stroke-linecap="butt"/>
<path d="M555.5,1863.4 C558.6,1863.1 569.0,1860.2 574.4,1861.5 C579.8,1862.8 583.0,1866.8 587.8,1871.0 C592.6,1875.2 597.7,1881.3 603.1,1886.4 C608.5,1891.5 614.6,1896.9 620.4,1901.7 C626.1,1906.5 634.7,1912.8 637.6,1915.0" fill="none" stroke="#000" stroke-opacity="1.0" stroke-width="12.0" stroke-linejoin="round" stroke-linecap="round"/>
<path d="M645.2,1918.1 C647.4,1917.1 653.8,1915.8 658.6,1912.3 C663.4,1908.8 669.4,1901.1 673.9,1897.0 C678.4,1892.9 681.6,1891.3 685.4,1887.5 C689.2,1883.7 693.4,1877.6 696.9,1874.1 C700.4,1870.6 702.3,1868.0 706.4,1866.4 C710.5,1864.8 716.9,1865.1 721.7,1864.5 C726.5,1863.9 730.3,1863.9 735.1,1862.6 C739.9,1861.3 745.9,1857.9 750.4,1856.8 C754.9,1855.7 760.0,1856.0 761.9,1855.9" fill="none" stroke="#000" stroke-opacity="0.5" stroke-width="3.8" stroke-linejoin="round" stroke-linecap="round"/>
<path d="M645.2,1946.5 C647.4,1945.5 653.8,1944.2 658.6,1940.7 C663.4,1937.2 669.4,1929.5 673.9,1925.4 C678.4,1921.3 681.6,1919.7 685.4,1915.9 C689.2,1912.1 693.4,1906.0 696.9,1902.5 C700.4,1899.0 702.3,1896.4 706.4,1894.8 C710.5,1893.2 716.9,1893.5 721.7,1892.9 C726.5,1892.3 730.3,1892.3 735.1,1891.0 C739.9,1889.7 745.9,1886.3 750.4,1885.2 C754.9,1884.1 760.0,1884.5 761.9,1884.3" fill="none" stroke="#000" stroke-opacity="0.5" stroke-width="3.8" stroke-linejoin="round" stroke-linecap="round"/>
<path d="M645.2,1932.3 C647.4,1931.3 653.8,1930.0 658.6,1926.5 C663.4,1923.0 669.4,1915.3 673.9,1911.2 C678.4,1907.1 681.6,1905.5 685.4,1901.7 C689.2,1897.9 693.4,1891.8 696.9,1888.3 C700.4,1884.8 702.3,1882.2 706.4,1880.6 C710.5,1879.0 716.9,1879.3 721.7,1878.7 C726.5,1878.1 730.3,1878.1 735.1,1876.8 C739.9,1875.5 745.9,1872.1 750.4,1871.0 C754.9,1869.9 760.0,1870.2 761.9,1870.1" fill="none" stroke="#fff" stroke-opacity="1.0" stroke-width="24.8" stroke-linejoin="round" stroke-linecap="butt"/>
<path d="M645.2,1932.3 C647.4,1931.3 653.8,1930.0 658.6,1926.5 C663.4,1923.0 669.4,1915.3 673.9,1911.2 C678.4,1907.1 681.6,1905.5 685.4,1901.7 C689.2,1897.9 693.4,1891.8 696.9,1888.3 C700.4,1884.8 702.3,1882.2 706.4,1880.6 C710.5,1879.0 716.9,1879.3 721.7,1878.7 C726.5,1878.1 730.3,1878.1 735.1,1876.8 C739.9,1875.5 745.9,1872.1 750.4,1871.0 C754.9,1869.9 760.0,1870.2 761.9,1870.1" fill="none" stroke="#000" stroke-opacity="1.0" stroke-width="9.8" stroke-linejoin="round" stroke-linecap="round"/>
<path d="M761.9,1870.1 C765.4,1869.9 776.0,1867.3 783.0,1869.1 C790.0,1870.8 797.9,1878.0 804.0,1880.6 C810.1,1883.1 817.1,1883.8 819.7,1884.4" fill="none" stroke="#fff" stroke-opacity="1.0" stroke-width="16.4" stroke-linejoin="round" stroke-linecap="butt"/>
<path d="M761.9,1870.1 C765.4,1869.9 776.0,1867.3 783.0,1869.1 C790.0,1870.8 797.9,1878.0 804.0,1880.6 C810.1,1883.1 817.1,1883.8 819.7,1884.4" fill="none" stroke="#000" stroke-opacity="0.9" stroke-width="5.2" stroke-linejoin="round" stroke-linecap="round"/>
<path d="M555.5,1840.4 C559.3,1840.7 571.3,1838.9 578.3,1842.4 C585.3,1845.9 591.0,1855.1 597.4,1861.5 C603.8,1867.9 610.1,1874.5 616.5,1880.6 C622.9,1886.6 630.3,1893.8 635.7,1897.8 C641.1,1901.8 646.8,1903.4 649.0,1904.5" fill="none" stroke="#fff" stroke-opacity="1.0" stroke-width="12.8" stroke-linejoin="round" stroke-linecap="butt"/>
<path d="M555.5,1840.4 C559.3,1840.7 571.3,1838.9 578.3,1842.4 C585.3,1845.9 591.0,1855.1 597.4,1861.5 C603.8,1867.9 610.1,1874.5 616.5,1880.6 C622.9,1886.6 630.3,1893.8 635.7,1897.8 C641.1,1901.8 646.8,1903.4 649.0,1904.5" fill="none" stroke="#000" stroke-opacity="0.8" stroke-width="5.2" stroke-linejoin="round" stroke-linecap="round"/>
<path d="M649.0,1892.8 C651.6,1891.0 658.6,1886.9 664.4,1882.2 C670.1,1877.6 677.8,1870.5 683.5,1865.0 C689.2,1859.6 696.2,1852.3 698.8,1849.8" fill="none" stroke="#000" stroke-opacity="0.5" stroke-width="3.8" stroke-linejoin="round" stroke-linecap="round"/>
<path d="M649.0,1916.2 C651.6,1914.5 658.6,1910.4 664.4,1905.8 C670.1,1901.1 677.8,1894.0 683.5,1888.5 C689.2,1883.1 696.2,1875.8 698.8,1873.2" fill="none" stroke="#000" stroke-opacity="0.5" stroke-width="3.8" stroke-linejoin="round" stroke-linecap="round"/>
<path d="M649.0,1904.5 C651.6,1902.8 658.6,1898.6 664.4,1894.0 C670.1,1889.4 677.8,1882.2 683.5,1876.8 C689.2,1871.4 696.2,1864.0 698.8,1861.5" fill="none" stroke="#fff" stroke-opacity="1.0" stroke-width="19.9" stroke-linejoin="round" stroke-linecap="butt"/>
<path d="M649.0,1904.5 C651.6,1902.8 658.6,1898.6 664.4,1894.0 C670.1,1889.4 677.8,1882.2 683.5,1876.8 C689.2,1871.4 696.2,1864.0 698.8,1861.5" fill="none" stroke="#000" stroke-opacity="1.0" stroke-width="7.5" stroke-linejoin="round" stroke-linecap="round"/>
<path d="M698.8,1847.0 C701.0,1846.2 706.8,1842.8 712.2,1842.2 C717.6,1841.5 725.6,1844.3 731.3,1843.2 C737.0,1842.0 741.5,1836.7 746.6,1835.5 C751.7,1834.2 756.5,1835.6 761.9,1835.5 C767.3,1835.3 774.6,1833.8 779.1,1834.5 C783.6,1835.1 784.6,1836.8 788.7,1839.2 C792.9,1841.7 798.8,1847.1 804.0,1848.9 C809.2,1850.6 817.1,1849.7 819.7,1849.9" fill="none" stroke="#000" stroke-opacity="0.5" stroke-width="3.8" stroke-linejoin="round" stroke-linecap="round"/>
<path d="M698.8,1876.0 C701.0,1875.2 706.8,1871.9 712.2,1871.2 C717.6,1870.6 725.6,1873.4 731.3,1872.2 C737.0,1871.1 741.5,1865.8 746.6,1864.5 C751.7,1863.3 756.5,1864.7 761.9,1864.5 C767.3,1864.4 774.6,1862.9 779.1,1863.5 C783.6,1864.2 784.6,1865.9 788.7,1868.3 C792.9,1870.8 798.8,1876.2 804.0,1878.0 C809.2,1879.7 817.1,1878.8 819.7,1879.0" fill="none" stroke="#000" stroke-opacity="0.5" stroke-width="3.8" stroke-linejoin="round" stroke-linecap="round"/>
<path d="M698.8,1861.5 C701.0,1860.7 706.8,1857.3 712.2,1856.7 C717.6,1856.1 725.6,1858.8 731.3,1857.7 C737.0,1856.6 741.5,1851.3 746.6,1850.0 C751.7,1848.7 756.5,1850.2 761.9,1850.0 C767.3,1849.8 774.6,1848.4 779.1,1849.0 C783.6,1849.6 784.6,1851.4 788.7,1853.8 C792.9,1856.2 798.8,1861.6 804.0,1863.4 C809.2,1865.2 817.1,1864.2 819.7,1864.4" fill="none" stroke="#fff" stroke-opacity="1.0" stroke-width="25.5" stroke-linejoin="round" stroke-linecap="butt"/>
<path d="M698.8,1861.5 C701.0,1860.7 706.8,1857.3 712.2,1856.7 C717.6,1856.1 725.6,1858.8 731.3,1857.7 C737.0,1856.6 741.5,1851.3 746.6,1850.0 C751.7,1848.7 756.5,1850.2 761.9,1850.0 C767.3,1849.8 774.6,1848.4 779.1,1849.0 C783.6,1849.6 784.6,1851.4 788.7,1853.8 C792.9,1856.2 798.8,1861.6 804.0,1863.4 C809.2,1865.2 817.1,1864.2 819.7,1864.4" fill="none" stroke="#000" stroke-opacity="1.0" stroke-width="10.5" stroke-linejoin="round" stroke-linecap="round"/>
<path d="M555.5,1875.9 C557.1,1875.9 562.1,1875.4 565.0,1875.9 C567.9,1876.3 571.7,1878.0 573.0,1878.5" fill="none" stroke="#000" stroke-opacity="0.5" stroke-width="3.8" stroke-linejoin="round" stroke-linecap="round"/>
<path d="M555.5,1897.0 C557.1,1897.0 562.1,1896.5 565.0,1897.0 C567.9,1897.4 571.7,1899.1 573.0,1899.5" fill="none" stroke="#000" stroke-opacity="0.5" stroke-width="3.8" stroke-linejoin="round" stroke-linecap="round"/>
<path d="M555.5,1886.4 C557.1,1886.4 562.1,1886.0 565.0,1886.4 C567.9,1886.8 571.7,1888.6 573.0,1889.0" fill="none" stroke="#fff" stroke-opacity="1.0" stroke-width="17.5" stroke-linejoin="round" stroke-linecap="butt"/>
<path d="M555.5,1886.4 C557.1,1886.4 562.1,1886.0 565.0,1886.4 C567.9,1886.8 571.7,1888.6 573.0,1889.0" fill="none" stroke="#000" stroke-opacity="1.0" stroke-width="7.5" stroke-linejoin="round" stroke-linecap="round"/>
<path d="M703.0,1917.0 L714.0,1917.0" fill="none" stroke="#000" stroke-opacity="0.7" stroke-width="6.0" stroke-linejoin="round" stroke-linecap="round"/>
<path d="M808.0,1920.0 L819.7,1925.0" fill="none" stroke="#000" stroke-opacity="0.7" stroke-width="6.0" stroke-linejoin="round" stroke-linecap="round"/>
<path d="M578.0,2166.0 C579.7,2165.3 584.7,2164.3 588.0,2162.0 C591.3,2159.7 595.0,2152.3 598.0,2152.0 C601.0,2151.7 603.5,2160.0 606.0,2160.0 C608.5,2160.0 610.3,2154.3 613.0,2152.0 C615.7,2149.7 619.2,2146.0 622.0,2146.0 C624.8,2146.0 627.5,2152.5 630.0,2152.0 C632.5,2151.5 634.5,2145.7 637.0,2143.0 C639.5,2140.3 643.7,2137.2 645.0,2136.0" fill="none" stroke="#fff" stroke-opacity="0.9" stroke-width="16.0" stroke-linejoin="round" stroke-linecap="butt"/>
<path d="M578.0,2166.0 C579.7,2165.3 584.7,2164.3 588.0,2162.0 C591.3,2159.7 595.0,2152.3 598.0,2152.0 C601.0,2151.7 603.5,2160.0 606.0,2160.0 C608.5,2160.0 610.3,2154.3 613.0,2152.0 C615.7,2149.7 619.2,2146.0 622.0,2146.0 C624.8,2146.0 627.5,2152.5 630.0,2152.0 C632.5,2151.5 634.5,2145.7 637.0,2143.0 C639.5,2140.3 643.7,2137.2 645.0,2136.0" fill="none" stroke="#000" stroke-opacity="0.8" stroke-width="6.0" stroke-linejoin="round" stroke-linecap="round"/>
<path d="M630.0,2060.0 C631.7,2058.7 637.0,2052.0 640.0,2052.0 C643.0,2052.0 645.5,2060.3 648.0,2060.0 C650.5,2059.7 653.8,2051.7 655.0,2050.0" fill="none" stroke="#fff" stroke-opacity="0.8" stroke-width="14.0" stroke-linejoin="round" stroke-linecap="butt"/>
<path d="M630.0,2060.0 C631.7,2058.7 637.0,2052.0 640.0,2052.0 C643.0,2052.0 645.5,2060.3 648.0,2060.0 C650.5,2059.7 653.8,2051.7 655.0,2050.0" fill="none" stroke="#000" stroke-opacity="0.6" stroke-width="5.2" stroke-linejoin="round" stroke-linecap="round"/>
<path d="M625.0,2105.0 C626.8,2103.3 632.7,2095.3 636.0,2095.0 C639.3,2094.7 642.3,2103.5 645.0,2103.0 C647.7,2102.5 650.8,2093.8 652.0,2092.0" fill="none" stroke="#fff" stroke-opacity="0.8" stroke-width="14.0" stroke-linejoin="round" stroke-linecap="butt"/>
<path d="M625.0,2105.0 C626.8,2103.3 632.7,2095.3 636.0,2095.0 C639.3,2094.7 642.3,2103.5 645.0,2103.0 C647.7,2102.5 650.8,2093.8 652.0,2092.0" fill="none" stroke="#000" stroke-opacity="0.6" stroke-width="5.2" stroke-linejoin="round" stroke-linecap="round"/>
</g>
<g mask="url(#mkCii)">
<g transform="rotate(-35 687.6 2081.8)"><rect x="299.0" y="1693.2" width="777.3" height="777.3" filter="url(#sdCii)"/></g>
<g transform="rotate(43 687.6 2081.8)"><rect x="299.0" y="1693.2" width="777.3" height="777.3" filter="url(#swCii)"/></g>
</g>
</g>
<rect x="555.5" y="1727.0" width="264.2" height="110.2" fill="url(#fadeA)"/>
</g>
<g id="panel-Ciii">
<rect x="977.5" y="1727.0" width="265.9" height="709.7" fill="#b3b3b3"/>
<g clip-path="url(#cpCiii)">
<rect x="977.5" y="1727.0" width="265.9" height="709.7" fill="#b9b9b9"/>
<g transform="rotate(-35 1110.5 2081.8)"><rect x="721.5" y="1692.9" width="777.9" height="777.9" filter="url(#n1Ciii)"/></g>
<g transform="rotate(43 1110.5 2081.8)" opacity="0.5"><rect x="721.5" y="1692.9" width="777.9" height="777.9" filter="url(#n2Ciii)"/></g>
<rect x="977.5" y="1727.0" width="265.9" height="709.7" filter="url(#nhCiii)" mask="url(#mkCiii)"/>
<g filter="url(#bl20Ciii)">
<path d="M977.5,1833.6 C981.2,1833.4 993.8,1831.5 1000.0,1832.6 C1006.2,1833.7 1010.0,1837.4 1015.0,1840.1 C1020.0,1842.8 1024.8,1846.8 1030.0,1848.6 C1035.2,1850.5 1040.2,1853.6 1046.0,1851.3 C1051.8,1849.0 1057.0,1838.9 1065.0,1834.7 C1073.0,1830.5 1086.7,1825.8 1094.0,1826.0 C1101.3,1826.3 1104.3,1832.8 1109.0,1836.4 C1113.7,1840.0 1117.5,1846.1 1122.0,1847.7 C1126.5,1849.3 1131.8,1846.9 1136.0,1845.9 C1140.2,1845.0 1143.0,1841.2 1147.0,1841.8 C1151.0,1842.4 1153.5,1847.0 1160.0,1849.4 C1166.5,1851.9 1181.7,1855.2 1186.0,1856.4" fill="none" stroke="#000" stroke-opacity="0.12" stroke-width="8.5" stroke-linejoin="round"/>
<path d="M1186.0,1856.3 C1188.3,1854.2 1194.7,1847.2 1200.0,1843.5 C1205.3,1839.8 1210.8,1837.1 1218.0,1834.2 C1225.2,1831.2 1239.2,1827.4 1243.4,1826.0" fill="none" stroke="#000" stroke-opacity="0.26" stroke-width="7.5" stroke-linejoin="round"/>
<path d="M977.5,1845.4 C981.2,1845.2 993.8,1842.6 1000.0,1843.9 C1006.2,1845.2 1010.0,1850.5 1015.0,1853.2 C1020.0,1855.9 1024.8,1858.9 1030.0,1860.1 C1035.2,1861.4 1040.2,1862.7 1046.0,1860.5 C1051.8,1858.3 1057.0,1850.7 1065.0,1847.0 C1073.0,1843.2 1086.7,1837.3 1094.0,1837.8 C1101.3,1838.4 1104.3,1846.8 1109.0,1850.2 C1113.7,1853.6 1117.5,1856.8 1122.0,1858.3 C1126.5,1859.9 1131.8,1859.8 1136.0,1859.3 C1140.2,1858.8 1145.2,1856.0 1147.0,1855.3" fill="none" stroke="#fff" stroke-opacity="0.44" stroke-width="6.9" stroke-linejoin="round"/>
<path d="M1147.0,1854.7 C1149.2,1856.1 1153.5,1861.2 1160.0,1863.3 C1166.5,1865.5 1179.3,1868.7 1186.0,1867.7 C1192.7,1866.8 1197.7,1859.2 1200.0,1857.5" fill="none" stroke="#fff" stroke-opacity="0.56" stroke-width="5.9" stroke-linejoin="round"/>
<path d="M1200.0,1857.1 C1203.0,1855.1 1210.8,1848.6 1218.0,1845.1 C1225.2,1841.7 1239.2,1838.0 1243.4,1836.5" fill="none" stroke="#fff" stroke-opacity="0.45" stroke-width="5.9" stroke-linejoin="round"/>
<path d="M977.5,1857.0 C981.2,1856.8 993.8,1854.6 1000.0,1855.9 C1006.2,1857.2 1010.0,1862.1 1015.0,1864.8 C1020.0,1867.6 1027.5,1871.1 1030.0,1872.4" fill="none" stroke="#000" stroke-opacity="0.29" stroke-width="7.5" stroke-linejoin="round"/>
<path d="M1030.0,1872.2 C1032.7,1872.6 1040.2,1876.8 1046.0,1874.6 C1051.8,1872.3 1057.0,1862.6 1065.0,1858.5 C1073.0,1854.5 1086.7,1849.8 1094.0,1850.4 C1101.3,1850.9 1104.3,1858.2 1109.0,1861.8 C1113.7,1865.4 1117.5,1870.7 1122.0,1872.1 C1126.5,1873.6 1131.8,1871.6 1136.0,1870.5 C1140.2,1869.3 1143.0,1865.0 1147.0,1865.4 C1151.0,1865.9 1153.5,1871.0 1160.0,1873.2 C1166.5,1875.4 1179.3,1879.5 1186.0,1878.7 C1192.7,1877.9 1197.7,1869.9 1200.0,1868.2" fill="none" stroke="#000" stroke-opacity="0.38" stroke-width="6.3" stroke-linejoin="round"/>
<path d="M1200.0,1869.6 C1203.0,1867.5 1210.8,1860.1 1218.0,1856.8 C1225.2,1853.4 1239.2,1850.8 1243.4,1849.6" fill="none" stroke="#000" stroke-opacity="0.24" stroke-width="8.1" stroke-linejoin="round"/>
<path d="M977.5,1866.5 C981.2,1867.0 993.8,1868.0 1000.0,1869.4 C1006.2,1870.8 1010.0,1872.4 1015.0,1874.7 C1020.0,1877.0 1024.8,1881.3 1030.0,1883.2 C1035.2,1885.2 1040.2,1888.6 1046.0,1886.4 C1051.8,1884.1 1057.0,1873.9 1065.0,1869.6 C1073.0,1865.4 1086.7,1860.0 1094.0,1860.9 C1101.3,1861.9 1104.3,1871.4 1109.0,1875.1 C1113.7,1878.8 1117.5,1882.2 1122.0,1883.1 C1126.5,1884.0 1131.8,1881.5 1136.0,1880.5 C1140.2,1879.4 1145.2,1877.3 1147.0,1876.7" fill="none" stroke="#fff" stroke-opacity="0.75" stroke-width="6.3" stroke-linejoin="round"/>
<path d="M1147.0,1876.8 C1149.2,1878.6 1153.5,1885.1 1160.0,1887.7 C1166.5,1890.2 1179.3,1893.3 1186.0,1892.1 C1192.7,1891.0 1194.7,1884.3 1200.0,1880.8 C1205.3,1877.3 1210.8,1874.0 1218.0,1871.1 C1225.2,1868.2 1239.2,1864.7 1243.4,1863.4" fill="none" stroke="#fff" stroke-opacity="0.59" stroke-width="6.7" stroke-linejoin="round"/>
<path d="M977.5,1879.4 C981.2,1879.3 993.8,1877.2 1000.0,1878.5 C1006.2,1879.7 1010.0,1883.8 1015.0,1886.9 C1020.0,1889.9 1024.8,1895.0 1030.0,1896.7 C1035.2,1898.5 1040.2,1899.9 1046.0,1897.2 C1051.8,1894.5 1057.0,1884.0 1065.0,1880.4 C1073.0,1876.8 1086.7,1874.5 1094.0,1875.4 C1101.3,1876.3 1104.3,1882.8 1109.0,1885.8 C1113.7,1888.8 1117.5,1892.3 1122.0,1893.6 C1126.5,1894.9 1131.8,1894.5 1136.0,1893.7 C1140.2,1893.0 1143.0,1888.6 1147.0,1889.2 C1151.0,1889.8 1153.5,1894.9 1160.0,1897.2 C1166.5,1899.5 1179.3,1903.5 1186.0,1902.9 C1192.7,1902.3 1197.7,1894.9 1200.0,1893.3" fill="none" stroke="#000" stroke-opacity="0.25" stroke-width="6.7" stroke-linejoin="round"/>
<path d="M1200.0,1892.9 C1203.0,1891.3 1210.8,1886.2 1218.0,1882.9 C1225.2,1879.6 1239.2,1875.0 1243.4,1873.4" fill="none" stroke="#000" stroke-opacity="0.21" stroke-width="8.3" stroke-linejoin="round"/>
<path d="M977.5,1892.5 C981.2,1892.4 993.8,1890.8 1000.0,1891.9 C1006.2,1892.9 1010.0,1896.3 1015.0,1898.8 C1020.0,1901.2 1024.8,1904.6 1030.0,1906.5 C1035.2,1908.4 1040.2,1912.4 1046.0,1910.1 C1051.8,1907.8 1057.0,1896.9 1065.0,1892.7 C1073.0,1888.4 1089.2,1885.9 1094.0,1884.6" fill="none" stroke="#fff" stroke-opacity="0.71" stroke-width="8.2" stroke-linejoin="round"/>
<path d="M1094.0,1885.5 L1109.0,1898.1" fill="none" stroke="#fff" stroke-opacity="0.53" stroke-width="6.8" stroke-linejoin="round"/>
<path d="M1109.0,1898.9 C1111.2,1900.4 1117.5,1906.6 1122.0,1907.4 C1126.5,1908.2 1131.8,1904.9 1136.0,1903.8 C1140.2,1902.7 1143.0,1899.8 1147.0,1900.5 C1151.0,1901.3 1153.5,1906.3 1160.0,1908.4 C1166.5,1910.6 1179.3,1914.2 1186.0,1913.3 C1192.7,1912.3 1194.7,1905.9 1200.0,1902.6 C1205.3,1899.2 1210.8,1896.0 1218.0,1893.2 C1225.2,1890.5 1239.2,1887.2 1243.4,1886.0" fill="none" stroke="#fff" stroke-opacity="0.73" stroke-width="6.1" stroke-linejoin="round"/>
<path d="M977.5,1904.2 C981.2,1904.1 993.8,1902.8 1000.0,1903.7 C1006.2,1904.6 1010.0,1907.2 1015.0,1909.7 C1020.0,1912.1 1024.8,1916.1 1030.0,1918.2 C1035.2,1920.3 1043.3,1921.6 1046.0,1922.2" fill="none" stroke="#000" stroke-opacity="0.27" stroke-width="7.9" stroke-linejoin="round"/>
<path d="M1046.0,1920.1 C1049.2,1917.8 1057.0,1909.9 1065.0,1906.4 C1073.0,1902.8 1086.7,1898.2 1094.0,1898.8 C1101.3,1899.5 1104.3,1907.0 1109.0,1910.2 C1113.7,1913.4 1117.5,1916.8 1122.0,1918.1 C1126.5,1919.3 1131.8,1918.7 1136.0,1917.6 C1140.2,1916.6 1143.0,1911.0 1147.0,1911.6 C1151.0,1912.3 1153.5,1919.3 1160.0,1921.6 C1166.5,1924.0 1179.3,1926.8 1186.0,1925.6 C1192.7,1924.5 1194.7,1917.9 1200.0,1914.7 C1205.3,1911.5 1210.8,1909.1 1218.0,1906.4 C1225.2,1903.7 1239.2,1900.1 1243.4,1898.8" fill="none" stroke="#000" stroke-opacity="0.23" stroke-width="6.1" stroke-linejoin="round"/>
<path d="M977.5,1915.9 C981.2,1915.6 993.8,1913.2 1000.0,1914.5 C1006.2,1915.8 1010.0,1921.0 1015.0,1923.8 C1020.0,1926.5 1027.5,1929.7 1030.0,1930.9" fill="none" stroke="#fff" stroke-opacity="0.65" stroke-width="5.8" stroke-linejoin="round"/>
<path d="M1030.0,1930.4 C1032.7,1930.9 1040.2,1935.4 1046.0,1933.2 C1051.8,1931.0 1057.0,1920.8 1065.0,1917.1 C1073.0,1913.4 1086.7,1910.1 1094.0,1911.0 C1101.3,1911.9 1104.3,1919.5 1109.0,1922.6 C1113.7,1925.6 1117.5,1928.3 1122.0,1929.2 C1126.5,1930.2 1131.8,1929.1 1136.0,1928.3 C1140.2,1927.5 1143.0,1923.3 1147.0,1924.4 C1151.0,1925.5 1153.5,1932.7 1160.0,1934.9 C1166.5,1937.1 1181.7,1937.1 1186.0,1937.5" fill="none" stroke="#fff" stroke-opacity="0.49" stroke-width="7.0" stroke-linejoin="round"/>
<path d="M1186.0,1937.5 C1188.3,1935.7 1194.7,1929.7 1200.0,1926.5 C1205.3,1923.3 1210.8,1921.4 1218.0,1918.5 C1225.2,1915.6 1239.2,1910.7 1243.4,1909.2" fill="none" stroke="#fff" stroke-opacity="0.59" stroke-width="5.7" stroke-linejoin="round"/>
<path d="M977.5,1926.6 C981.2,1926.5 993.8,1924.8 1000.0,1926.3 C1006.2,1927.8 1010.0,1932.8 1015.0,1935.7 C1020.0,1938.6 1024.8,1942.0 1030.0,1943.5 C1035.2,1945.1 1043.3,1944.7 1046.0,1945.0" fill="none" stroke="#000" stroke-opacity="0.22" stroke-width="7.2" stroke-linejoin="round"/>
<path d="M1046.0,1944.7 C1049.2,1942.3 1057.0,1933.6 1065.0,1930.1 C1073.0,1926.6 1086.7,1922.9 1094.0,1923.5 C1101.3,1924.0 1106.5,1931.7 1109.0,1933.4" fill="none" stroke="#000" stroke-opacity="0.28" stroke-width="6.8" stroke-linejoin="round"/>
<path d="M1109.0,1934.5 C1111.2,1935.8 1117.5,1941.7 1122.0,1942.5 C1126.5,1943.3 1131.8,1940.3 1136.0,1939.3 C1140.2,1938.2 1143.0,1935.2 1147.0,1936.3 C1151.0,1937.4 1153.5,1943.9 1160.0,1945.9 C1166.5,1948.0 1179.3,1949.6 1186.0,1948.7 C1192.7,1947.7 1194.7,1943.4 1200.0,1940.3 C1205.3,1937.3 1210.8,1933.2 1218.0,1930.1 C1225.2,1927.0 1239.2,1923.2 1243.4,1921.8" fill="none" stroke="#000" stroke-opacity="0.22" stroke-width="6.3" stroke-linejoin="round"/>
<path d="M977.5,1938.2 C981.2,1938.4 993.8,1938.2 1000.0,1939.5 C1006.2,1940.8 1010.0,1943.8 1015.0,1946.1 C1020.0,1948.4 1027.5,1952.3 1030.0,1953.5" fill="none" stroke="#fff" stroke-opacity="0.61" stroke-width="5.5" stroke-linejoin="round"/>
<path d="M1030.0,1955.2 C1032.7,1955.4 1040.2,1958.6 1046.0,1956.2 C1051.8,1953.9 1057.0,1944.8 1065.0,1941.1 C1073.0,1937.4 1086.7,1933.7 1094.0,1934.1 C1101.3,1934.5 1104.3,1940.6 1109.0,1943.8 C1113.7,1946.9 1119.8,1951.4 1122.0,1952.9" fill="none" stroke="#fff" stroke-opacity="0.42" stroke-width="7.5" stroke-linejoin="round"/>
<path d="M1122.0,1952.5 C1124.3,1952.3 1131.8,1952.0 1136.0,1951.3 C1140.2,1950.7 1143.0,1947.6 1147.0,1948.6 C1151.0,1949.5 1153.5,1955.0 1160.0,1957.1 C1166.5,1959.2 1179.3,1962.1 1186.0,1961.1 C1192.7,1960.2 1194.7,1954.7 1200.0,1951.5 C1205.3,1948.4 1210.8,1945.1 1218.0,1942.3 C1225.2,1939.6 1239.2,1936.3 1243.4,1935.1" fill="none" stroke="#fff" stroke-opacity="0.51" stroke-width="7.7" stroke-linejoin="round"/>
<path d="M977.5,1952.4 C981.2,1952.2 993.8,1950.4 1000.0,1951.3 C1006.2,1952.1 1010.0,1955.2 1015.0,1957.6 C1020.0,1960.0 1024.8,1964.1 1030.0,1965.7 C1035.2,1967.2 1040.2,1968.9 1046.0,1967.1 C1051.8,1965.3 1057.0,1958.1 1065.0,1954.8 C1073.0,1951.5 1086.7,1946.8 1094.0,1947.1 C1101.3,1947.4 1104.3,1953.6 1109.0,1956.5 C1113.7,1959.5 1117.5,1964.0 1122.0,1965.0 C1126.5,1966.0 1131.8,1963.5 1136.0,1962.8 C1140.2,1962.0 1145.2,1960.9 1147.0,1960.6" fill="none" stroke="#000" stroke-opacity="0.14" stroke-width="7.7" stroke-linejoin="round"/>
<path d="M1147.0,1961.1 C1149.2,1962.3 1153.5,1966.2 1160.0,1968.4 C1166.5,1970.7 1179.3,1975.5 1186.0,1974.5 C1192.7,1973.6 1194.7,1966.1 1200.0,1962.7 C1205.3,1959.3 1210.8,1957.1 1218.0,1954.2 C1225.2,1951.4 1239.2,1947.1 1243.4,1945.6" fill="none" stroke="#000" stroke-opacity="0.12" stroke-width="6.2" stroke-linejoin="round"/>
<path d="M977.5,1964.0 C981.2,1963.7 993.8,1961.0 1000.0,1962.2 C1006.2,1963.3 1010.0,1968.5 1015.0,1971.2 C1020.0,1973.9 1024.8,1976.7 1030.0,1978.2 C1035.2,1979.7 1040.2,1982.6 1046.0,1980.2 C1051.8,1977.8 1057.0,1967.7 1065.0,1963.8 C1073.0,1959.8 1086.7,1955.6 1094.0,1956.4 C1101.3,1957.3 1106.5,1966.7 1109.0,1968.7" fill="none" stroke="#fff" stroke-opacity="0.31" stroke-width="7.4" stroke-linejoin="round"/>
<path d="M1109.0,1970.2 L1122.0,1977.5" fill="none" stroke="#fff" stroke-opacity="0.45" stroke-width="8.2" stroke-linejoin="round"/>
<path d="M1122.0,1977.6 C1124.3,1977.2 1131.8,1976.3 1136.0,1975.4 C1140.2,1974.4 1143.0,1970.6 1147.0,1971.6 C1151.0,1972.7 1153.5,1979.5 1160.0,1981.6 C1166.5,1983.7 1179.3,1985.6 1186.0,1984.3 C1192.7,1983.0 1194.7,1977.1 1200.0,1973.9 C1205.3,1970.8 1210.8,1968.1 1218.0,1965.3 C1225.2,1962.6 1239.2,1958.8 1243.4,1957.5" fill="none" stroke="#fff" stroke-opacity="0.42" stroke-width="5.8" stroke-linejoin="round"/>
<path d="M977.5,1974.9 C981.2,1974.9 993.8,1973.6 1000.0,1975.0 C1006.2,1976.5 1010.0,1981.1 1015.0,1983.5 C1020.0,1985.9 1024.8,1988.0 1030.0,1989.5 C1035.2,1991.0 1040.2,1994.4 1046.0,1992.4 C1051.8,1990.4 1057.0,1981.3 1065.0,1977.5 C1073.0,1973.8 1086.7,1969.2 1094.0,1969.9 C1101.3,1970.7 1106.5,1979.9 1109.0,1981.9" fill="none" stroke="#000" stroke-opacity="0.14" stroke-width="6.0" stroke-linejoin="round"/>
<path d="M1109.0,1979.1 C1111.2,1980.6 1117.5,1987.0 1122.0,1988.2 C1126.5,1989.4 1133.7,1986.6 1136.0,1986.2" fill="none" stroke="#000" stroke-opacity="0.10" stroke-width="7.9" stroke-linejoin="round"/>
<path d="M1136.0,1987.2 C1137.8,1986.8 1143.0,1983.7 1147.0,1984.6 C1151.0,1985.6 1153.5,1990.9 1160.0,1993.0 C1166.5,1995.1 1179.3,1998.4 1186.0,1997.1 C1192.7,1995.9 1194.7,1989.0 1200.0,1985.5 C1205.3,1982.0 1210.8,1978.7 1218.0,1976.4 C1225.2,1974.0 1239.2,1972.1 1243.4,1971.3" fill="none" stroke="#000" stroke-opacity="0.11" stroke-width="7.6" stroke-linejoin="round"/>
<path d="M977.5,1986.9 C981.2,1986.7 993.8,1984.6 1000.0,1985.8 C1006.2,1987.0 1010.0,1991.8 1015.0,1994.2 C1020.0,1996.6 1024.8,1998.8 1030.0,2000.4 C1035.2,2002.0 1040.2,2005.3 1046.0,2003.5 C1051.8,2001.7 1057.0,1993.3 1065.0,1989.7 C1073.0,1986.1 1086.7,1981.7 1094.0,1981.9 C1101.3,1982.2 1104.3,1988.0 1109.0,1991.1 C1113.7,1994.3 1117.5,1999.2 1122.0,2000.7 C1126.5,2002.3 1133.7,2000.3 1136.0,2000.2" fill="none" stroke="#fff" stroke-opacity="0.28" stroke-width="6.5" stroke-linejoin="round"/>
<path d="M1136.0,2000.7 L1147.0,1995.9" fill="none" stroke="#fff" stroke-opacity="0.34" stroke-width="8.2" stroke-linejoin="round"/>
<path d="M1147.0,1996.9 C1149.2,1998.1 1153.5,2002.7 1160.0,2004.4 C1166.5,2006.2 1179.3,2008.3 1186.0,2007.5 C1192.7,2006.7 1194.7,2002.9 1200.0,1999.6 C1205.3,1996.3 1210.8,1990.4 1218.0,1987.5 C1225.2,1984.5 1239.2,1982.7 1243.4,1981.8" fill="none" stroke="#fff" stroke-opacity="0.19" stroke-width="8.1" stroke-linejoin="round"/>
<path d="M977.5,1998.5 C981.2,1998.6 993.8,1997.6 1000.0,1999.0 C1006.2,2000.5 1010.0,2004.9 1015.0,2007.1 C1020.0,2009.2 1024.8,2010.7 1030.0,2011.9 C1035.2,2013.0 1040.2,2015.3 1046.0,2013.8 C1051.8,2012.2 1057.0,2005.8 1065.0,2002.5 C1073.0,1999.1 1086.7,1993.4 1094.0,1993.6 C1101.3,1993.8 1106.5,2002.1 1109.0,2003.8" fill="none" stroke="#000" stroke-opacity="0.09" stroke-width="6.3" stroke-linejoin="round"/>
<path d="M1109.0,2005.0 C1111.2,2006.3 1117.5,2011.5 1122.0,2012.4 C1126.5,2013.3 1131.8,2011.3 1136.0,2010.4 C1140.2,2009.6 1143.0,2006.3 1147.0,2007.1 C1151.0,2008.0 1153.5,2013.4 1160.0,2015.6 C1166.5,2017.8 1179.3,2021.2 1186.0,2020.2 C1192.7,2019.1 1194.7,2012.3 1200.0,2009.1 C1205.3,2005.8 1210.8,2003.4 1218.0,2000.6 C1225.2,1997.9 1239.2,1993.8 1243.4,1992.4" fill="none" stroke="#000" stroke-opacity="0.08" stroke-width="6.3" stroke-linejoin="round"/>
<path d="M977.5,2010.7 C981.2,2010.6 993.8,2008.9 1000.0,2009.8 C1006.2,2010.8 1010.0,2013.8 1015.0,2016.5 C1020.0,2019.2 1024.8,2024.0 1030.0,2026.0 C1035.2,2027.9 1043.3,2027.8 1046.0,2028.2" fill="none" stroke="#fff" stroke-opacity="0.22" stroke-width="6.7" stroke-linejoin="round"/>
<path d="M1046.0,2026.2 C1049.2,2024.2 1057.0,2017.6 1065.0,2014.2 C1073.0,2010.8 1086.7,2005.8 1094.0,2005.9 C1101.3,2006.0 1104.3,2011.9 1109.0,2014.9 C1113.7,2018.0 1117.5,2022.9 1122.0,2024.1 C1126.5,2025.4 1131.8,2023.3 1136.0,2022.3 C1140.2,2021.4 1145.2,2019.1 1147.0,2018.5" fill="none" stroke="#fff" stroke-opacity="0.25" stroke-width="8.3" stroke-linejoin="round"/>
<path d="M1147.0,2020.5 C1149.2,2021.6 1153.5,2025.5 1160.0,2027.6 C1166.5,2029.7 1179.3,2033.7 1186.0,2033.0 C1192.7,2032.3 1194.7,2026.3 1200.0,2023.1 C1205.3,2020.0 1210.8,2017.0 1218.0,2013.9 C1225.2,2010.7 1239.2,2006.0 1243.4,2004.5" fill="none" stroke="#fff" stroke-opacity="0.20" stroke-width="6.6" stroke-linejoin="round"/>
<path d="M977.5,2022.2 C981.2,2022.5 993.8,2022.9 1000.0,2024.1 C1006.2,2025.2 1010.0,2027.2 1015.0,2029.1 C1020.0,2031.1 1024.8,2034.2 1030.0,2035.8 C1035.2,2037.3 1040.2,2040.7 1046.0,2038.6 C1051.8,2036.5 1057.0,2026.8 1065.0,2023.3 C1073.0,2019.9 1086.7,2016.8 1094.0,2017.9 C1101.3,2018.9 1104.3,2026.4 1109.0,2029.6 C1113.7,2032.8 1117.5,2036.2 1122.0,2037.1 C1126.5,2037.9 1133.7,2034.9 1136.0,2034.5" fill="none" stroke="#000" stroke-opacity="0.08" stroke-width="5.6" stroke-linejoin="round"/>
<path d="M1136.0,2036.2 C1137.8,2035.4 1143.0,2031.0 1147.0,2031.7 C1151.0,2032.5 1157.8,2039.2 1160.0,2040.7" fill="none" stroke="#000" stroke-opacity="0.10" stroke-width="8.3" stroke-linejoin="round"/>
<path d="M1160.0,2040.9 C1164.3,2041.3 1179.3,2044.6 1186.0,2043.4 C1192.7,2042.2 1194.7,2036.9 1200.0,2033.7 C1205.3,2030.6 1210.8,2027.2 1218.0,2024.4 C1225.2,2021.6 1239.2,2018.3 1243.4,2017.1" fill="none" stroke="#000" stroke-opacity="0.12" stroke-width="6.5" stroke-linejoin="round"/>
<path d="M977.5,2034.3 C981.2,2034.4 993.8,2034.1 1000.0,2035.2 C1006.2,2036.3 1010.0,2038.7 1015.0,2040.9 C1020.0,2043.0 1027.5,2046.8 1030.0,2048.0" fill="none" stroke="#fff" stroke-opacity="0.18" stroke-width="6.5" stroke-linejoin="round"/>
<path d="M1030.0,2048.7 C1032.7,2048.9 1040.2,2052.2 1046.0,2050.2 C1051.8,2048.1 1057.0,2039.9 1065.0,2036.4 C1073.0,2033.0 1086.7,2028.6 1094.0,2029.4 C1101.3,2030.2 1104.3,2038.2 1109.0,2041.5 C1113.7,2044.7 1117.5,2048.2 1122.0,2049.1 C1126.5,2049.9 1131.8,2047.6 1136.0,2046.5 C1140.2,2045.4 1143.0,2041.5 1147.0,2042.5 C1151.0,2043.5 1153.5,2050.5 1160.0,2052.5 C1166.5,2054.6 1179.3,2055.7 1186.0,2054.8 C1192.7,2054.0 1197.7,2048.5 1200.0,2047.3" fill="none" stroke="#fff" stroke-opacity="0.18" stroke-width="6.0" stroke-linejoin="round"/>
<path d="M1200.0,2046.9 C1203.0,2045.0 1210.8,2038.4 1218.0,2035.6 C1225.2,2032.9 1239.2,2031.3 1243.4,2030.4" fill="none" stroke="#fff" stroke-opacity="0.19" stroke-width="7.9" stroke-linejoin="round"/>
<path d="M977.5,2045.9 C981.2,2046.3 993.8,2046.8 1000.0,2048.3 C1006.2,2049.9 1010.0,2053.0 1015.0,2055.1 C1020.0,2057.1 1024.8,2059.4 1030.0,2060.5 C1035.2,2061.7 1040.2,2064.2 1046.0,2062.0 C1051.8,2059.8 1057.0,2050.5 1065.0,2047.1 C1073.0,2043.8 1086.7,2041.0 1094.0,2041.8 C1101.3,2042.6 1104.3,2049.1 1109.0,2051.8 C1113.7,2054.6 1117.5,2057.2 1122.0,2058.5 C1126.5,2059.9 1131.8,2060.6 1136.0,2059.9 C1140.2,2059.3 1143.0,2054.0 1147.0,2054.6 C1151.0,2055.3 1153.5,2061.6 1160.0,2063.9 C1166.5,2066.1 1181.7,2067.3 1186.0,2068.0" fill="none" stroke="#000" stroke-opacity="0.05" stroke-width="7.5" stroke-linejoin="round"/>
<path d="M1186.0,2065.7 L1200.0,2057.5" fill="none" stroke="#000" stroke-opacity="0.08" stroke-width="5.6" stroke-linejoin="round"/>
<path d="M1200.0,2056.4 C1203.0,2054.9 1210.8,2049.8 1218.0,2047.3 C1225.2,2044.8 1239.2,2042.3 1243.4,2041.3" fill="none" stroke="#000" stroke-opacity="0.05" stroke-width="8.3" stroke-linejoin="round"/>
<path d="M977.5,2060.5 C981.2,2060.0 993.8,2056.7 1000.0,2057.4 C1006.2,2058.1 1010.0,2062.1 1015.0,2064.7 C1020.0,2067.2 1024.8,2071.2 1030.0,2072.6 C1035.2,2074.1 1040.2,2075.5 1046.0,2073.2 C1051.8,2071.0 1057.0,2062.3 1065.0,2059.2 C1073.0,2056.0 1086.7,2053.5 1094.0,2054.3 C1101.3,2055.1 1104.3,2061.3 1109.0,2063.8 C1113.7,2066.4 1117.5,2068.4 1122.0,2069.8 C1126.5,2071.1 1131.8,2072.2 1136.0,2072.0 C1140.2,2071.9 1145.2,2069.3 1147.0,2068.7" fill="none" stroke="#fff" stroke-opacity="0.11" stroke-width="8.2" stroke-linejoin="round"/>
<path d="M1147.0,2067.9 L1160.0,2075.7" fill="none" stroke="#fff" stroke-opacity="0.11" stroke-width="8.3" stroke-linejoin="round"/>
<path d="M1160.0,2075.4 C1164.3,2075.8 1179.3,2079.2 1186.0,2078.0 C1192.7,2076.8 1194.7,2070.9 1200.0,2068.1 C1205.3,2065.3 1210.8,2063.3 1218.0,2061.2 C1225.2,2059.1 1239.2,2056.4 1243.4,2055.5" fill="none" stroke="#fff" stroke-opacity="0.12" stroke-width="5.9" stroke-linejoin="round"/>
<path d="M977.5,2071.3 C981.2,2071.0 993.8,2068.7 1000.0,2069.5 C1006.2,2070.3 1012.5,2074.9 1015.0,2076.0" fill="none" stroke="#000" stroke-opacity="0.05" stroke-width="6.4" stroke-linejoin="round"/>
<path d="M1015.0,2076.3 C1017.5,2077.8 1024.8,2083.7 1030.0,2085.1 C1035.2,2086.5 1040.2,2087.2 1046.0,2084.9 C1051.8,2082.6 1061.8,2073.7 1065.0,2071.4" fill="none" stroke="#000" stroke-opacity="0.04" stroke-width="7.6" stroke-linejoin="round"/>
<path d="M1065.0,2071.8 C1069.8,2071.1 1086.7,2066.5 1094.0,2067.4 C1101.3,2068.3 1104.3,2074.6 1109.0,2077.1 C1113.7,2079.7 1117.5,2081.8 1122.0,2082.6 C1126.5,2083.5 1131.8,2082.7 1136.0,2082.0 C1140.2,2081.3 1143.0,2078.1 1147.0,2078.5 C1151.0,2079.0 1153.5,2082.7 1160.0,2084.8 C1166.5,2086.9 1179.3,2091.8 1186.0,2091.1 C1192.7,2090.4 1194.7,2083.7 1200.0,2080.4 C1205.3,2077.2 1210.8,2074.3 1218.0,2071.7 C1225.2,2069.1 1239.2,2065.9 1243.4,2064.8" fill="none" stroke="#000" stroke-opacity="0.07" stroke-width="7.3" stroke-linejoin="round"/>
<path d="M977.5,2083.2 C981.2,2083.3 993.8,2082.5 1000.0,2083.8 C1006.2,2085.0 1010.0,2088.7 1015.0,2090.6 C1020.0,2092.5 1024.8,2094.0 1030.0,2095.3 C1035.2,2096.7 1040.2,2100.4 1046.0,2098.8 C1051.8,2097.2 1057.0,2089.3 1065.0,2085.8 C1073.0,2082.3 1086.7,2077.1 1094.0,2077.6 C1101.3,2078.2 1106.5,2087.2 1109.0,2089.1" fill="none" stroke="#fff" stroke-opacity="0.17" stroke-width="7.8" stroke-linejoin="round"/>
<path d="M1109.0,2088.8 C1111.2,2090.0 1117.5,2095.7 1122.0,2096.4 C1126.5,2097.1 1131.8,2094.0 1136.0,2092.9 C1140.2,2091.8 1143.0,2088.8 1147.0,2089.7 C1151.0,2090.6 1153.5,2096.2 1160.0,2098.2 C1166.5,2100.2 1181.7,2101.1 1186.0,2101.7" fill="none" stroke="#fff" stroke-opacity="0.15" stroke-width="7.7" stroke-linejoin="round"/>
<path d="M1186.0,2103.6 C1188.3,2102.0 1194.7,2097.1 1200.0,2093.8 C1205.3,2090.6 1210.8,2086.8 1218.0,2084.2 C1225.2,2081.6 1239.2,2079.3 1243.4,2078.3" fill="none" stroke="#fff" stroke-opacity="0.15" stroke-width="8.3" stroke-linejoin="round"/>
<path d="M977.5,2094.5 C981.2,2094.7 993.8,2094.6 1000.0,2095.9 C1006.2,2097.3 1010.0,2100.6 1015.0,2102.7 C1020.0,2104.8 1024.8,2107.2 1030.0,2108.5 C1035.2,2109.8 1040.2,2112.6 1046.0,2110.7 C1051.8,2108.8 1061.8,2099.4 1065.0,2097.1" fill="none" stroke="#000" stroke-opacity="0.06" stroke-width="6.1" stroke-linejoin="round"/>
<path d="M1065.0,2097.4 C1069.8,2096.4 1086.7,2090.9 1094.0,2091.5 C1101.3,2092.1 1104.3,2098.4 1109.0,2101.1 C1113.7,2103.8 1117.5,2106.9 1122.0,2107.7 C1126.5,2108.5 1131.8,2106.7 1136.0,2105.8 C1140.2,2104.8 1143.0,2101.0 1147.0,2101.8 C1151.0,2102.7 1153.5,2108.8 1160.0,2110.9 C1166.5,2113.0 1179.3,2115.1 1186.0,2114.3 C1192.7,2113.4 1194.7,2109.1 1200.0,2105.9 C1205.3,2102.7 1210.8,2097.6 1218.0,2094.9 C1225.2,2092.3 1239.2,2090.8 1243.4,2090.0" fill="none" stroke="#000" stroke-opacity="0.06" stroke-width="6.7" stroke-linejoin="round"/>
<path d="M977.5,2107.8 C981.2,2107.5 993.8,2105.3 1000.0,2105.9 C1006.2,2106.6 1010.0,2109.6 1015.0,2111.6 C1020.0,2113.6 1024.8,2116.7 1030.0,2118.1 C1035.2,2119.4 1040.2,2121.3 1046.0,2119.8 C1051.8,2118.3 1057.0,2111.9 1065.0,2109.1 C1073.0,2106.2 1086.7,2102.6 1094.0,2102.8 C1101.3,2103.1 1106.5,2109.2 1109.0,2110.5" fill="none" stroke="#fff" stroke-opacity="0.13" stroke-width="7.3" stroke-linejoin="round"/>
<path d="M1109.0,2111.1 C1111.2,2112.3 1117.5,2117.1 1122.0,2118.4 C1126.5,2119.7 1131.8,2119.6 1136.0,2118.9 C1140.2,2118.1 1143.0,2113.3 1147.0,2113.8 C1151.0,2114.3 1153.5,2120.0 1160.0,2122.0 C1166.5,2123.9 1181.7,2124.9 1186.0,2125.5" fill="none" stroke="#fff" stroke-opacity="0.09" stroke-width="5.5" stroke-linejoin="round"/>
<path d="M1186.0,2124.8 C1188.3,2123.6 1194.7,2120.2 1200.0,2117.7 C1205.3,2115.2 1210.8,2112.0 1218.0,2109.6 C1225.2,2107.2 1239.2,2104.3 1243.4,2103.3" fill="none" stroke="#fff" stroke-opacity="0.16" stroke-width="6.6" stroke-linejoin="round"/>
<path d="M977.5,2119.9 C981.2,2119.6 993.8,2117.3 1000.0,2118.3 C1006.2,2119.2 1010.0,2123.5 1015.0,2125.8 C1020.0,2128.2 1027.5,2131.3 1030.0,2132.3" fill="none" stroke="#000" stroke-opacity="0.05" stroke-width="6.8" stroke-linejoin="round"/>
<path d="M1030.0,2132.5 C1032.7,2132.6 1040.2,2135.0 1046.0,2132.9 C1051.8,2130.8 1057.0,2123.2 1065.0,2119.9 C1073.0,2116.6 1086.7,2112.5 1094.0,2113.2 C1101.3,2113.8 1104.3,2120.7 1109.0,2123.6 C1113.7,2126.4 1117.5,2129.2 1122.0,2130.3 C1126.5,2131.4 1131.8,2131.1 1136.0,2130.2 C1140.2,2129.3 1143.0,2124.6 1147.0,2124.9 C1151.0,2125.3 1153.5,2130.1 1160.0,2132.3 C1166.5,2134.5 1179.3,2138.6 1186.0,2138.1 C1192.7,2137.6 1197.7,2130.7 1200.0,2129.3" fill="none" stroke="#000" stroke-opacity="0.06" stroke-width="7.5" stroke-linejoin="round"/>
<path d="M1200.0,2127.5 C1203.0,2126.3 1210.8,2122.8 1218.0,2120.5 C1225.2,2118.3 1239.2,2115.1 1243.4,2114.0" fill="none" stroke="#000" stroke-opacity="0.05" stroke-width="6.8" stroke-linejoin="round"/>
<path d="M977.5,2130.7 C981.2,2130.5 993.8,2128.5 1000.0,2129.2 C1006.2,2130.0 1010.0,2133.0 1015.0,2135.2 C1020.0,2137.4 1024.8,2140.9 1030.0,2142.3 C1035.2,2143.8 1040.2,2145.4 1046.0,2143.9 C1051.8,2142.5 1061.8,2135.3 1065.0,2133.6" fill="none" stroke="#fff" stroke-opacity="0.09" stroke-width="6.9" stroke-linejoin="round"/>
<path d="M1065.0,2130.9 C1069.8,2130.1 1086.7,2125.3 1094.0,2126.2 C1101.3,2127.1 1104.3,2133.8 1109.0,2136.3 C1113.7,2138.7 1117.5,2140.0 1122.0,2140.9 C1126.5,2141.9 1133.7,2142.0 1136.0,2142.2" fill="none" stroke="#fff" stroke-opacity="0.12" stroke-width="7.3" stroke-linejoin="round"/>
<path d="M1136.0,2140.0 C1137.8,2139.8 1143.0,2137.9 1147.0,2138.6 C1151.0,2139.2 1153.5,2142.1 1160.0,2143.9 C1166.5,2145.7 1179.3,2150.3 1186.0,2149.5 C1192.7,2148.7 1194.7,2141.9 1200.0,2139.3 C1205.3,2136.6 1210.8,2135.7 1218.0,2133.4 C1225.2,2131.1 1239.2,2126.7 1243.4,2125.3" fill="none" stroke="#fff" stroke-opacity="0.08" stroke-width="6.8" stroke-linejoin="round"/>
<path d="M977.5,2141.5 C981.2,2141.6 993.8,2141.0 1000.0,2142.1 C1006.2,2143.2 1010.0,2146.0 1015.0,2148.2 C1020.0,2150.3 1027.5,2153.9 1030.0,2155.1" fill="none" stroke="#000" stroke-opacity="0.06" stroke-width="6.2" stroke-linejoin="round"/>
<path d="M1030.0,2156.2 C1032.7,2156.3 1040.2,2158.6 1046.0,2156.6 C1051.8,2154.7 1057.0,2147.5 1065.0,2144.5 C1073.0,2141.5 1086.7,2138.7 1094.0,2138.9 C1101.3,2139.0 1104.3,2143.1 1109.0,2145.5 C1113.7,2148.0 1117.5,2152.1 1122.0,2153.6 C1126.5,2155.0 1131.8,2154.7 1136.0,2154.4 C1140.2,2154.1 1143.0,2151.4 1147.0,2151.7 C1151.0,2151.9 1153.5,2154.5 1160.0,2155.9 C1166.5,2157.3 1179.3,2160.6 1186.0,2160.0 C1192.7,2159.4 1194.7,2155.3 1200.0,2152.4 C1205.3,2149.6 1210.8,2145.3 1218.0,2143.0 C1225.2,2140.6 1239.2,2139.0 1243.4,2138.2" fill="none" stroke="#000" stroke-opacity="0.05" stroke-width="6.0" stroke-linejoin="round"/>
<path d="M977.5,2153.2 C981.2,2153.3 993.8,2152.3 1000.0,2153.7 C1006.2,2155.2 1010.0,2159.7 1015.0,2162.1 C1020.0,2164.4 1024.8,2167.1 1030.0,2167.8 C1035.2,2168.5 1040.2,2168.5 1046.0,2166.5 C1051.8,2164.5 1057.0,2158.6 1065.0,2155.7 C1073.0,2152.7 1086.7,2148.1 1094.0,2148.7 C1101.3,2149.4 1104.3,2157.0 1109.0,2159.7 C1113.7,2162.4 1119.8,2164.2 1122.0,2165.1" fill="none" stroke="#fff" stroke-opacity="0.08" stroke-width="8.0" stroke-linejoin="round"/>
<path d="M1122.0,2164.2 L1136.0,2163.9" fill="none" stroke="#fff" stroke-opacity="0.12" stroke-width="6.7" stroke-linejoin="round"/>
<path d="M1136.0,2164.9 C1137.8,2164.4 1143.0,2161.8 1147.0,2162.3 C1151.0,2162.9 1153.5,2166.4 1160.0,2168.2 C1166.5,2169.9 1179.3,2173.4 1186.0,2172.7 C1192.7,2171.9 1194.7,2166.4 1200.0,2163.7 C1205.3,2161.0 1210.8,2159.0 1218.0,2156.5 C1225.2,2154.0 1239.2,2149.9 1243.4,2148.6" fill="none" stroke="#fff" stroke-opacity="0.11" stroke-width="6.0" stroke-linejoin="round"/>
</g>
<g filter="url(#bl16Ciii)">
<path d="M1069.0,1879.0 C1073.0,1878.2 1086.2,1872.7 1093.0,1874.0 C1099.8,1875.3 1104.7,1883.3 1110.0,1887.0 C1115.3,1890.7 1120.0,1894.8 1125.0,1896.0 C1130.0,1897.2 1134.7,1894.7 1140.0,1894.0 C1145.3,1893.3 1154.2,1892.3 1157.0,1892.0" fill="none" stroke="#fff" stroke-opacity="0.95" stroke-width="11.2" stroke-linejoin="round" stroke-linecap="butt"/>
<path d="M978.0,1941.0 C981.7,1941.0 994.3,1939.3 1000.0,1941.0 C1005.7,1942.7 1008.2,1947.5 1012.0,1951.0 C1015.8,1954.5 1019.0,1960.8 1023.0,1962.0 C1027.0,1963.2 1033.8,1958.7 1036.0,1958.0" fill="none" stroke="#fff" stroke-opacity="0.95" stroke-width="11.2" stroke-linejoin="round" stroke-linecap="butt"/>
<path d="M1063.0,1926.0 C1068.0,1925.7 1085.2,1922.5 1093.0,1924.0 C1100.8,1925.5 1104.7,1931.2 1110.0,1935.0 C1115.3,1938.8 1120.3,1946.8 1125.0,1947.0 C1129.7,1947.2 1133.8,1939.3 1138.0,1936.0 C1142.2,1932.7 1145.5,1926.3 1150.0,1927.0 C1154.5,1927.7 1159.7,1935.3 1165.0,1940.0 C1170.3,1944.7 1176.2,1950.7 1182.0,1955.0 C1187.8,1959.3 1197.0,1964.2 1200.0,1966.0" fill="none" stroke="#fff" stroke-opacity="0.95" stroke-width="11.2" stroke-linejoin="round" stroke-linecap="butt"/>
<path d="M978.0,1852.0 C981.7,1851.7 993.0,1851.0 1000.0,1850.0 C1007.0,1849.0 1013.3,1845.7 1020.0,1846.0 C1026.7,1846.3 1036.7,1851.0 1040.0,1852.0" fill="none" stroke="#fff" stroke-opacity="0.8" stroke-width="8.8" stroke-linejoin="round" stroke-linecap="butt"/>
</g>
<g filter="url(#bl25Ciii)">
<path d="M977.5,1830.0 C981.2,1830.3 992.1,1832.3 1000.0,1832.0 C1007.9,1831.7 1017.5,1827.5 1025.0,1828.0 C1032.5,1828.5 1039.2,1831.7 1045.0,1835.0 C1050.8,1838.3 1055.0,1844.7 1060.0,1848.0 C1065.0,1851.3 1072.5,1853.8 1075.0,1855.0" fill="none" stroke="#fff" stroke-opacity="0.44000000000000006" stroke-width="15" stroke-linejoin="round" stroke-linecap="butt"/>
<path d="M977.5,1830.0 C981.2,1830.3 992.1,1832.3 1000.0,1832.0 C1007.9,1831.7 1017.5,1827.5 1025.0,1828.0 C1032.5,1828.5 1039.2,1831.7 1045.0,1835.0 C1050.8,1838.3 1055.0,1844.7 1060.0,1848.0 C1065.0,1851.3 1072.5,1853.8 1075.0,1855.0" fill="none" stroke="#000" stroke-opacity="0.45" stroke-width="5" stroke-linejoin="round" stroke-linecap="round"/>
<path d="M1050.0,2020.0 C1054.2,2020.3 1068.3,2020.3 1075.0,2022.0 C1081.7,2023.7 1084.3,2027.8 1090.0,2030.0 C1095.7,2032.2 1102.7,2033.7 1109.0,2035.0 C1115.3,2036.3 1121.7,2037.8 1128.0,2038.0 C1134.3,2038.2 1143.8,2036.3 1147.0,2036.0" fill="none" stroke="#fff" stroke-opacity="0.44000000000000006" stroke-width="15" stroke-linejoin="round" stroke-linecap="butt"/>
<path d="M1050.0,2020.0 C1054.2,2020.3 1068.3,2020.3 1075.0,2022.0 C1081.7,2023.7 1084.3,2027.8 1090.0,2030.0 C1095.7,2032.2 1102.7,2033.7 1109.0,2035.0 C1115.3,2036.3 1121.7,2037.8 1128.0,2038.0 C1134.3,2038.2 1143.8,2036.3 1147.0,2036.0" fill="none" stroke="#000" stroke-opacity="0.45" stroke-width="5" stroke-linejoin="round" stroke-linecap="round"/>
</g>
<g filter="url(#bl16Ciii)">
<path d="M977.5,1880.0 C981.2,1879.7 994.9,1879.3 1000.0,1878.0 C1005.1,1876.7 1006.7,1873.0 1008.0,1872.0" fill="none" stroke="#fff" stroke-opacity="1" stroke-width="12.4" stroke-linejoin="round" stroke-linecap="butt"/>
<path d="M977.5,1869.0 L998.0,1869.0" fill="none" stroke="#000" stroke-opacity="1.0" stroke-width="9.0" stroke-linejoin="round" stroke-linecap="round"/>
<path d="M977.5,1896.0 L986.0,1896.0" fill="none" stroke="#000" stroke-opacity="1.0" stroke-width="8.2" stroke-linejoin="round" stroke-linecap="round"/>
<path d="M977.5,1914.3 C980.4,1914.2 989.8,1914.2 995.0,1913.8 C1000.2,1913.4 1005.5,1910.5 1009.0,1911.8 C1012.5,1913.1 1013.7,1918.5 1016.0,1921.8 C1018.3,1925.1 1021.8,1930.1 1023.0,1931.8" fill="none" stroke="#000" stroke-opacity="0.5" stroke-width="3.8" stroke-linejoin="round" stroke-linecap="round"/>
<path d="M977.5,1940.7 C980.4,1940.6 989.8,1940.6 995.0,1940.2 C1000.2,1939.8 1005.5,1936.9 1009.0,1938.2 C1012.5,1939.5 1013.7,1944.9 1016.0,1948.2 C1018.3,1951.5 1021.8,1956.5 1023.0,1958.2" fill="none" stroke="#000" stroke-opacity="0.5" stroke-width="3.8" stroke-linejoin="round" stroke-linecap="round"/>
<path d="M977.5,1927.5 C980.4,1927.4 989.8,1927.4 995.0,1927.0 C1000.2,1926.6 1005.5,1923.7 1009.0,1925.0 C1012.5,1926.3 1013.7,1931.7 1016.0,1935.0 C1018.3,1938.3 1021.8,1943.3 1023.0,1945.0" fill="none" stroke="#fff" stroke-opacity="1.0" stroke-width="22.8" stroke-linejoin="round" stroke-linecap="butt"/>
<path d="M977.5,1927.5 C980.4,1927.4 989.8,1927.4 995.0,1927.0 C1000.2,1926.6 1005.5,1923.7 1009.0,1925.0 C1012.5,1926.3 1013.7,1931.7 1016.0,1935.0 C1018.3,1938.3 1021.8,1943.3 1023.0,1945.0" fill="none" stroke="#000" stroke-opacity="1.0" stroke-width="9.0" stroke-linejoin="round" stroke-linecap="round"/>
<path d="M1009.7,1943.1 C1011.9,1945.0 1018.6,1952.1 1023.1,1954.6 C1027.6,1957.2 1032.7,1957.8 1036.5,1958.4 C1040.3,1959.0 1041.5,1959.0 1046.0,1958.4 C1050.5,1957.8 1060.4,1955.2 1063.3,1954.6" fill="none" stroke="#000" stroke-opacity="0.5" stroke-width="3.8" stroke-linejoin="round" stroke-linecap="round"/>
<path d="M1009.7,1967.3 C1011.9,1969.2 1018.6,1976.2 1023.1,1978.8 C1027.6,1981.3 1032.7,1982.0 1036.5,1982.6 C1040.3,1983.2 1041.5,1983.2 1046.0,1982.6 C1050.5,1982.0 1060.4,1979.4 1063.3,1978.8" fill="none" stroke="#000" stroke-opacity="0.5" stroke-width="3.8" stroke-linejoin="round" stroke-linecap="round"/>
<path d="M1009.7,1955.2 C1011.9,1957.1 1018.6,1964.2 1023.1,1966.7 C1027.6,1969.2 1032.7,1969.9 1036.5,1970.5 C1040.3,1971.1 1041.5,1971.1 1046.0,1970.5 C1050.5,1969.9 1060.4,1967.3 1063.3,1966.7" fill="none" stroke="#fff" stroke-opacity="1.0" stroke-width="20.6" stroke-linejoin="round" stroke-linecap="butt"/>
<path d="M1009.7,1955.2 C1011.9,1957.1 1018.6,1964.2 1023.1,1966.7 C1027.6,1969.2 1032.7,1969.9 1036.5,1970.5 C1040.3,1971.1 1041.5,1971.1 1046.0,1970.5 C1050.5,1969.9 1060.4,1967.3 1063.3,1966.7" fill="none" stroke="#000" stroke-opacity="1.0" stroke-width="8.2" stroke-linejoin="round" stroke-linecap="round"/>
<path d="M1065.2,1852.5 C1067.7,1852.1 1075.2,1851.0 1080.0,1850.2 C1084.8,1849.4 1089.0,1846.2 1093.9,1847.7 C1098.8,1849.2 1104.4,1855.7 1109.2,1859.2 C1114.0,1862.7 1118.1,1867.3 1122.6,1868.7 C1127.1,1870.1 1131.8,1868.7 1136.0,1867.7 C1140.2,1866.8 1144.6,1863.2 1147.5,1863.0 C1150.4,1862.8 1152.2,1866.2 1153.2,1866.8" fill="none" stroke="#000" stroke-opacity="0.5" stroke-width="3.8" stroke-linejoin="round" stroke-linecap="round"/>
<path d="M1065.2,1880.1 C1067.7,1879.7 1075.2,1878.6 1080.0,1877.8 C1084.8,1877.0 1089.0,1873.8 1093.9,1875.3 C1098.8,1876.8 1104.4,1883.3 1109.2,1886.8 C1114.0,1890.3 1118.1,1894.9 1122.6,1896.3 C1127.1,1897.7 1131.8,1896.2 1136.0,1895.3 C1140.2,1894.3 1144.6,1890.8 1147.5,1890.6 C1150.4,1890.4 1152.2,1893.8 1153.2,1894.4" fill="none" stroke="#000" stroke-opacity="0.5" stroke-width="3.8" stroke-linejoin="round" stroke-linecap="round"/>
<path d="M1065.2,1866.3 C1067.7,1865.9 1075.2,1864.8 1080.0,1864.0 C1084.8,1863.2 1089.0,1860.0 1093.9,1861.5 C1098.8,1863.0 1104.4,1869.5 1109.2,1873.0 C1114.0,1876.5 1118.1,1881.1 1122.6,1882.5 C1127.1,1883.9 1131.8,1882.5 1136.0,1881.5 C1140.2,1880.5 1144.6,1877.0 1147.5,1876.8 C1150.4,1876.6 1152.2,1880.0 1153.2,1880.6" fill="none" stroke="#fff" stroke-opacity="1.0" stroke-width="24.0" stroke-linejoin="round" stroke-linecap="butt"/>
<path d="M1065.2,1866.3 C1067.7,1865.9 1075.2,1864.8 1080.0,1864.0 C1084.8,1863.2 1089.0,1860.0 1093.9,1861.5 C1098.8,1863.0 1104.4,1869.5 1109.2,1873.0 C1114.0,1876.5 1118.1,1881.1 1122.6,1882.5 C1127.1,1883.9 1131.8,1882.5 1136.0,1881.5 C1140.2,1880.5 1144.6,1877.0 1147.5,1876.8 C1150.4,1876.6 1152.2,1880.0 1153.2,1880.6" fill="none" stroke="#000" stroke-opacity="1.0" stroke-width="9.0" stroke-linejoin="round" stroke-linecap="round"/>
<path d="M1000.8,1866.4 C1004.0,1867.3 1014.0,1870.5 1020.0,1872.0 C1026.0,1873.5 1031.5,1875.4 1037.0,1875.2 C1042.5,1875.0 1047.7,1872.5 1053.0,1871.0 C1058.3,1869.5 1066.4,1867.2 1069.1,1866.4" fill="none" stroke="#fff" stroke-opacity="0.9" stroke-width="18.4" stroke-linejoin="round" stroke-linecap="butt"/>
<path d="M1000.8,1866.4 C1004.0,1867.3 1014.0,1870.5 1020.0,1872.0 C1026.0,1873.5 1031.5,1875.4 1037.0,1875.2 C1042.5,1875.0 1047.7,1872.5 1053.0,1871.0 C1058.3,1869.5 1066.4,1867.2 1069.1,1866.4" fill="none" stroke="#000" stroke-opacity="0.7" stroke-width="6.0" stroke-linejoin="round" stroke-linecap="round"/>
<path d="M1153.0,1880.0 C1155.8,1880.3 1163.9,1881.3 1170.0,1882.0 C1176.1,1882.7 1186.4,1883.9 1189.7,1884.3" fill="none" stroke="#fff" stroke-opacity="0.9" stroke-width="18.4" stroke-linejoin="round" stroke-linecap="butt"/>
<path d="M1153.0,1880.0 C1155.8,1880.3 1163.9,1881.3 1170.0,1882.0 C1176.1,1882.7 1186.4,1883.9 1189.7,1884.3" fill="none" stroke="#000" stroke-opacity="0.6" stroke-width="6.0" stroke-linejoin="round" stroke-linecap="round"/>
<path d="M1063.0,1912.0 C1068.0,1911.8 1085.5,1909.3 1093.2,1910.6 C1100.9,1911.9 1103.6,1916.3 1109.0,1920.0 C1114.4,1923.7 1120.6,1932.7 1125.4,1933.0 C1130.2,1933.3 1134.0,1925.3 1138.0,1922.0 C1142.0,1918.7 1145.0,1912.3 1149.5,1913.0 C1154.0,1913.7 1159.6,1921.3 1165.0,1926.0 C1170.4,1930.7 1175.6,1936.5 1181.7,1941.0 C1187.8,1945.5 1195.4,1954.2 1201.8,1953.2 C1208.2,1952.2 1213.1,1940.9 1220.0,1935.0 C1226.9,1929.1 1239.5,1920.8 1243.4,1918.0" fill="none" stroke="#fff" stroke-opacity="0.95" stroke-width="19.2" stroke-linejoin="round" stroke-linecap="butt"/>
<path d="M1063.0,1912.0 C1068.0,1911.8 1085.5,1909.3 1093.2,1910.6 C1100.9,1911.9 1103.6,1916.3 1109.0,1920.0 C1114.4,1923.7 1120.6,1932.7 1125.4,1933.0 C1130.2,1933.3 1134.0,1925.3 1138.0,1922.0 C1142.0,1918.7 1145.0,1912.3 1149.5,1913.0 C1154.0,1913.7 1159.6,1921.3 1165.0,1926.0 C1170.4,1930.7 1175.6,1936.5 1181.7,1941.0 C1187.8,1945.5 1195.4,1954.2 1201.8,1953.2 C1208.2,1952.2 1213.1,1940.9 1220.0,1935.0 C1226.9,1929.1 1239.5,1920.8 1243.4,1918.0" fill="none" stroke="#000" stroke-opacity="0.85" stroke-width="6.8" stroke-linejoin="round" stroke-linecap="round"/>
<path d="M1023.0,1945.0 C1025.0,1943.8 1030.5,1938.8 1035.0,1938.0 C1039.5,1937.2 1045.3,1940.5 1050.0,1940.0 C1054.7,1939.5 1060.8,1935.8 1063.0,1935.0" fill="none" stroke="#fff" stroke-opacity="0.9" stroke-width="15.2" stroke-linejoin="round" stroke-linecap="butt"/>
<path d="M1023.0,1945.0 C1025.0,1943.8 1030.5,1938.8 1035.0,1938.0 C1039.5,1937.2 1045.3,1940.5 1050.0,1940.0 C1054.7,1939.5 1060.8,1935.8 1063.0,1935.0" fill="none" stroke="#000" stroke-opacity="0.6" stroke-width="5.2" stroke-linejoin="round" stroke-linecap="round"/>
<path d="M1082.5,1915.0 L1093.9,1913.1" fill="none" stroke="#000" stroke-opacity="1.0" stroke-width="7.5" stroke-linejoin="round" stroke-linecap="round"/>
<path d="M1186.0,1895.0 C1187.2,1895.5 1189.2,1899.4 1193.0,1898.0 C1196.8,1896.6 1200.3,1890.2 1208.7,1886.4 C1217.1,1882.6 1237.6,1876.8 1243.4,1874.9" fill="none" stroke="#fff" stroke-opacity="1" stroke-width="12.4" stroke-linejoin="round" stroke-linecap="butt"/>
<path d="M1200.0,1880.0 C1203.0,1878.2 1211.1,1872.3 1218.3,1869.1 C1225.5,1865.8 1239.2,1861.9 1243.4,1860.5" fill="none" stroke="#000" stroke-opacity="1.0" stroke-width="7.5" stroke-linejoin="round" stroke-linecap="round"/>
<path d="M1185.0,1882.0 L1191.0,1884.0" fill="none" stroke="#000" stroke-opacity="1.0" stroke-width="7.5" stroke-linejoin="round" stroke-linecap="round"/>
<path d="M1227.8,1887.4 L1243.4,1883.5" fill="none" stroke="#000" stroke-opacity="1.0" stroke-width="6.0" stroke-linejoin="round" stroke-linecap="round"/>
<path d="M1063.0,1968.0 C1065.8,1968.3 1074.8,1969.3 1080.0,1970.0 C1085.2,1970.7 1088.4,1971.4 1093.9,1972.4 C1099.4,1973.4 1106.6,1974.7 1113.0,1976.0 C1119.4,1977.3 1124.8,1980.4 1132.2,1980.1 C1139.6,1979.8 1153.4,1975.0 1157.6,1974.0" fill="none" stroke="#fff" stroke-opacity="0.9" stroke-width="16.0" stroke-linejoin="round" stroke-linecap="butt"/>
<path d="M1063.0,1968.0 C1065.8,1968.3 1074.8,1969.3 1080.0,1970.0 C1085.2,1970.7 1088.4,1971.4 1093.9,1972.4 C1099.4,1973.4 1106.6,1974.7 1113.0,1976.0 C1119.4,1977.3 1124.8,1980.4 1132.2,1980.1 C1139.6,1979.8 1153.4,1975.0 1157.6,1974.0" fill="none" stroke="#000" stroke-opacity="0.75" stroke-width="6.0" stroke-linejoin="round" stroke-linecap="round"/>
<path d="M1085.0,1974.4 L1093.0,1975.0" fill="none" stroke="#000" stroke-opacity="0.9" stroke-width="6.8" stroke-linejoin="round" stroke-linecap="round"/>
<path d="M1195.0,2052.0 C1196.3,2052.8 1200.2,2056.4 1203.0,2056.6 C1205.8,2056.8 1210.5,2053.6 1212.0,2053.0" fill="none" stroke="#fff" stroke-opacity="0.8" stroke-width="13.6" stroke-linejoin="round" stroke-linecap="butt"/>
<path d="M1195.0,2052.0 C1196.3,2052.8 1200.2,2056.4 1203.0,2056.6 C1205.8,2056.8 1210.5,2053.6 1212.0,2053.0" fill="none" stroke="#000" stroke-opacity="0.8" stroke-width="6.0" stroke-linejoin="round" stroke-linecap="round"/>
<path d="M1203.0,1950.0 C1205.0,1947.5 1210.5,1940.8 1215.0,1935.0 C1219.5,1929.2 1225.3,1920.8 1230.0,1915.0 C1234.7,1909.2 1241.2,1902.5 1243.4,1900.0" fill="none" stroke="#fff" stroke-opacity="0.85" stroke-width="5.0" stroke-linejoin="round" stroke-linecap="butt"/>
</g>
<g mask="url(#mkCiii)">
<g transform="rotate(-35 1110.5 2081.8)"><rect x="721.5" y="1692.9" width="777.9" height="777.9" filter="url(#sdCiii)"/></g>
<g transform="rotate(43 1110.5 2081.8)"><rect x="721.5" y="1692.9" width="777.9" height="777.9" filter="url(#swCiii)"/></g>
</g>
</g>
<rect x="977.5" y="1727.0" width="265.9" height="110.2" fill="url(#fadeA)"/>
</g>
<rect x="561.4" y="59.7" width="2.3" height="1.5" fill="#5a5a5a"/>
<rect x="818.5" y="59.7" width="2.3" height="1.5" fill="#5a5a5a"/>
<rect x="561.4" y="130.9" width="2.3" height="1.5" fill="#5a5a5a"/>
<rect x="818.5" y="130.9" width="2.3" height="1.5" fill="#5a5a5a"/>
<rect x="561.4" y="202.0" width="2.3" height="1.5" fill="#5a5a5a"/>
<rect x="818.5" y="202.0" width="2.3" height="1.5" fill="#5a5a5a"/>
<rect x="561.4" y="273.2" width="2.3" height="1.5" fill="#5a5a5a"/>
<rect x="818.5" y="273.2" width="2.3" height="1.5" fill="#5a5a5a"/>
<rect x="561.4" y="344.3" width="2.3" height="1.5" fill="#5a5a5a"/>
<rect x="818.5" y="344.3" width="2.3" height="1.5" fill="#5a5a5a"/>
<rect x="561.4" y="415.4" width="2.3" height="1.5" fill="#5a5a5a"/>
<rect x="818.5" y="415.4" width="2.3" height="1.5" fill="#5a5a5a"/>
<rect x="561.4" y="486.6" width="2.3" height="1.5" fill="#5a5a5a"/>
<rect x="818.5" y="486.6" width="2.3" height="1.5" fill="#5a5a5a"/>
<rect x="561.4" y="557.8" width="2.3" height="1.5" fill="#5a5a5a"/>
<rect x="818.5" y="557.8" width="2.3" height="1.5" fill="#5a5a5a"/>
<rect x="561.4" y="628.9" width="2.3" height="1.5" fill="#5a5a5a"/>
<rect x="818.5" y="628.9" width="2.3" height="1.5" fill="#5a5a5a"/>
<rect x="561.4" y="700.1" width="2.3" height="1.5" fill="#5a5a5a"/>
<rect x="818.5" y="700.1" width="2.3" height="1.5" fill="#5a5a5a"/>
<rect x="561.4" y="771.2" width="2.3" height="1.5" fill="#5a5a5a"/>
<rect x="818.5" y="771.2" width="2.3" height="1.5" fill="#5a5a5a"/>
<rect x="556.8" y="61.0" width="1.4" height="2.4" fill="#555"/>
<rect x="556.8" y="767.1" width="1.4" height="2.4" fill="#555"/>
<rect x="623.7" y="61.0" width="1.4" height="2.4" fill="#555"/>
<rect x="623.7" y="767.1" width="1.4" height="2.4" fill="#555"/>
<rect x="690.6" y="61.0" width="1.4" height="2.4" fill="#555"/>
<rect x="690.6" y="767.1" width="1.4" height="2.4" fill="#555"/>
<rect x="757.5" y="61.0" width="1.4" height="2.4" fill="#555"/>
<rect x="757.5" y="767.1" width="1.4" height="2.4" fill="#555"/>
<rect x="824.4" y="61.0" width="1.4" height="2.4" fill="#555"/>
<rect x="824.4" y="767.1" width="1.4" height="2.4" fill="#555"/>
<rect x="982.4" y="59.7" width="2.3" height="1.5" fill="#5a5a5a"/>
<rect x="1239.3" y="59.7" width="2.3" height="1.5" fill="#5a5a5a"/>
<rect x="982.4" y="130.9" width="2.3" height="1.5" fill="#5a5a5a"/>
<rect x="1239.3" y="130.9" width="2.3" height="1.5" fill="#5a5a5a"/>
<rect x="982.4" y="202.0" width="2.3" height="1.5" fill="#5a5a5a"/>
<rect x="1239.3" y="202.0" width="2.3" height="1.5" fill="#5a5a5a"/>
<rect x="982.4" y="273.2" width="2.3" height="1.5" fill="#5a5a5a"/>
<rect x="1239.3" y="273.2" width="2.3" height="1.5" fill="#5a5a5a"/>
<rect x="982.4" y="344.3" width="2.3" height="1.5" fill="#5a5a5a"/>
<rect x="1239.3" y="344.3" width="2.3" height="1.5" fill="#5a5a5a"/>
<rect x="982.4" y="415.4" width="2.3" height="1.5" fill="#5a5a5a"/>
<rect x="1239.3" y="415.4" width="2.3" height="1.5" fill="#5a5a5a"/>
<rect x="982.4" y="486.6" width="2.3" height="1.5" fill="#5a5a5a"/>
<rect x="1239.3" y="486.6" width="2.3" height="1.5" fill="#5a5a5a"/>
<rect x="982.4" y="557.8" width="2.3" height="1.5" fill="#5a5a5a"/>
<rect x="1239.3" y="557.8" width="2.3" height="1.5" fill="#5a5a5a"/>
<rect x="982.4" y="628.9" width="2.3" height="1.5" fill="#5a5a5a"/>
<rect x="1239.3" y="628.9" width="2.3" height="1.5" fill="#5a5a5a"/>
<rect x="982.4" y="700.1" width="2.3" height="1.5" fill="#5a5a5a"/>
<rect x="1239.3" y="700.1" width="2.3" height="1.5" fill="#5a5a5a"/>
<rect x="982.4" y="771.2" width="2.3" height="1.5" fill="#5a5a5a"/>
<rect x="1239.3" y="771.2" width="2.3" height="1.5" fill="#5a5a5a"/>
<rect x="977.8" y="61.0" width="1.4" height="2.4" fill="#555"/>
<rect x="977.8" y="767.1" width="1.4" height="2.4" fill="#555"/>
<rect x="1044.7" y="61.0" width="1.4" height="2.4" fill="#555"/>
<rect x="1044.7" y="767.1" width="1.4" height="2.4" fill="#555"/>
<rect x="1111.6" y="61.0" width="1.4" height="2.4" fill="#555"/>
<rect x="1111.6" y="767.1" width="1.4" height="2.4" fill="#555"/>
<rect x="1178.5" y="61.0" width="1.4" height="2.4" fill="#555"/>
<rect x="1178.5" y="767.1" width="1.4" height="2.4" fill="#555"/>
<rect x="1245.4" y="61.0" width="1.4" height="2.4" fill="#555"/>
<rect x="1245.4" y="767.1" width="1.4" height="2.4" fill="#555"/>
<rect x="133" y="888.0" width="269.0" height="709.5" fill="none" stroke="#8c8c8c" stroke-width="1.6"/>
<path d="M133.0,956.9h8 M402.0,956.9h-8 M133.0,1028.0h8 M402.0,1028.0h-8 M133.0,1099.0h8 M402.0,1099.0h-8 M133.0,1170.1h8 M402.0,1170.1h-8 M133.0,1241.2h8 M402.0,1241.2h-8 M133.0,1312.3h8 M402.0,1312.3h-8 M133.0,1383.4h8 M402.0,1383.4h-8 M133.0,1454.4h8 M402.0,1454.4h-8 M133.0,1525.5h8 M402.0,1525.5h-8 M186.0,888.0v4 M186.0,1597.5v-4 M253.0,888.0v4 M253.0,1597.5v-4 M319.5,888.0v4 M319.5,1597.5v-4 M386.0,888.0v4 M386.0,1597.5v-4" stroke="#666" stroke-width="1.3" fill="none"/>
<rect x="555.5" y="888.0" width="269.0" height="709.5" fill="none" stroke="#8c8c8c" stroke-width="1.6"/>
<path d="M555.5,956.9h8 M824.5,956.9h-8 M555.5,1028.0h8 M824.5,1028.0h-8 M555.5,1099.0h8 M824.5,1099.0h-8 M555.5,1170.1h8 M824.5,1170.1h-8 M555.5,1241.2h8 M824.5,1241.2h-8 M555.5,1312.3h8 M824.5,1312.3h-8 M555.5,1383.4h8 M824.5,1383.4h-8 M555.5,1454.4h8 M824.5,1454.4h-8 M555.5,1525.5h8 M824.5,1525.5h-8 M608.0,888.0v4 M608.0,1597.5v-4 M675.3,888.0v4 M675.3,1597.5v-4 M742.6,888.0v4 M742.6,1597.5v-4 M809.5,888.0v4 M809.5,1597.5v-4" stroke="#666" stroke-width="1.3" fill="none"/>
<rect x="977.5" y="888.0" width="271.5" height="709.5" fill="none" stroke="#8c8c8c" stroke-width="1.6"/>
<path d="M977.5,956.9h8 M1249.0,956.9h-8 M977.5,1028.0h8 M1249.0,1028.0h-8 M977.5,1099.0h8 M1249.0,1099.0h-8 M977.5,1170.1h8 M1249.0,1170.1h-8 M977.5,1241.2h8 M1249.0,1241.2h-8 M977.5,1312.3h8 M1249.0,1312.3h-8 M977.5,1383.4h8 M1249.0,1383.4h-8 M977.5,1454.4h8 M1249.0,1454.4h-8 M977.5,1525.5h8 M1249.0,1525.5h-8 M1032.0,888.0v4 M1032.0,1597.5v-4 M1104.0,888.0v4 M1104.0,1597.5v-4 M1176.0,888.0v4 M1176.0,1597.5v-4 M1234.5,888.0v4 M1234.5,1597.5v-4" stroke="#666" stroke-width="1.3" fill="none"/>
<rect x="133" y="1727.0" width="262.8" height="709.7" fill="none" stroke="#8c8c8c" stroke-width="1.6"/>
<path d="M133.0,1796.0h8 M395.8,1796.0h-8 M133.0,1867.1h8 M395.8,1867.1h-8 M133.0,1938.2h8 M395.8,1938.2h-8 M133.0,2009.3h8 M395.8,2009.3h-8 M133.0,2080.4h8 M395.8,2080.4h-8 M133.0,2151.5h8 M395.8,2151.5h-8 M133.0,2222.6h8 M395.8,2222.6h-8 M133.0,2293.7h8 M395.8,2293.7h-8 M133.0,2364.8h8 M395.8,2364.8h-8 M197.5,1727.0v4 M197.5,2436.7v-4 M262.5,1727.0v4 M262.5,2436.7v-4 M328.5,1727.0v4 M328.5,2436.7v-4 M394.5,1727.0v4 M394.5,2436.7v-4" stroke="#666" stroke-width="1.3" fill="none"/>
<rect x="555.5" y="1727.0" width="264.2" height="709.7" fill="none" stroke="#8c8c8c" stroke-width="1.6"/>
<path d="M555.5,1796.0h8 M819.7,1796.0h-8 M555.5,1867.1h8 M819.7,1867.1h-8 M555.5,1938.2h8 M819.7,1938.2h-8 M555.5,2009.3h8 M819.7,2009.3h-8 M555.5,2080.4h8 M819.7,2080.4h-8 M555.5,2151.5h8 M819.7,2151.5h-8 M555.5,2222.6h8 M819.7,2222.6h-8 M555.5,2293.7h8 M819.7,2293.7h-8 M555.5,2364.8h8 M819.7,2364.8h-8 M621.4,1727.0v4 M621.4,2436.7v-4 M687.6,1727.0v4 M687.6,2436.7v-4 M753.8,1727.0v4 M753.8,2436.7v-4 M818.7,1727.0v4 M818.7,2436.7v-4" stroke="#666" stroke-width="1.3" fill="none"/>
<rect x="977.5" y="1727.0" width="265.9" height="709.7" fill="none" stroke="#8c8c8c" stroke-width="1.6"/>
<path d="M977.5,1796.0h8 M1243.4,1796.0h-8 M977.5,1867.1h8 M1243.4,1867.1h-8 M977.5,1938.2h8 M1243.4,1938.2h-8 M977.5,2009.3h8 M1243.4,2009.3h-8 M977.5,2080.4h8 M1243.4,2080.4h-8 M977.5,2151.5h8 M1243.4,2151.5h-8 M977.5,2222.6h8 M1243.4,2222.6h-8 M977.5,2293.7h8 M1243.4,2293.7h-8 M977.5,2364.8h8 M1243.4,2364.8h-8 M1043.4,1727.0v4 M1043.4,2436.7v-4 M1109.7,1727.0v4 M1109.7,2436.7v-4 M1176.0,1727.0v4 M1176.0,2436.7v-4 M1242.3,1727.0v4 M1242.3,2436.7v-4" stroke="#666" stroke-width="1.3" fill="none"/>
<path d="M632.8,59.5V771.0" stroke="#000" stroke-width="1.7" stroke-dasharray="5.2 4.6" fill="none"/>
<path d="M735.5,59.5V771.0" stroke="#000" stroke-width="1.7" stroke-dasharray="5.2 4.6" fill="none"/>
<path d="M1129.4,59.5V771.0" stroke="#000" stroke-width="1.7" stroke-dasharray="5.2 4.6" fill="none"/>
<path d="M219.7,888.0V1597.5" stroke="#111" stroke-width="3.0" stroke-dasharray="2.2 2.4" fill="none" opacity="0.85"/>
<path d="M762.9,888.0V1597.5" stroke="#111" stroke-width="3.0" stroke-dasharray="2.2 2.4" fill="none" opacity="0.85"/>
<path d="M1177.1,888.0V1597.5" stroke="#111" stroke-width="3.0" stroke-dasharray="2.2 2.4" fill="none" opacity="0.85"/>
<path d="M234.8,1727.0V2436.7" stroke="#111" stroke-width="3.0" stroke-dasharray="2.2 2.4" fill="none" opacity="0.85"/>
<path d="M731.2,1727.0V2436.7" stroke="#111" stroke-width="3.0" stroke-dasharray="2.2 2.4" fill="none" opacity="0.85"/>
<path d="M1086.4,1727.0V2436.7" stroke="#111" stroke-width="3.0" stroke-dasharray="2.2 2.4" fill="none" opacity="0.85"/>
<path d="M731.3,61.1 L694.0,63.8 L685.4,68.2 L681.2,73.9 L678.7,83.5 L673.9,88.3 L670.5,91.1 L670.1,107.4 L673.9,116.0 L671.0,130.4 L668.2,149.5 L664.4,183.9 L658.2,213.6 L652.9,252.8 L651.9,298.7 L649.4,344.6 L648.7,394.4 L648.1,410.0 L646.2,455.9 L639.5,471.2 L635.7,492.3 L633.2,517.1 L633.2,534.4 L629.9,547.7 L627.0,558.3 L620.4,566.9 L614.2,579.3 L608.5,591.7 L605.0,609.0 L600.3,622.4 L599.7,639.6 L596.4,653.0 L594.0,674.0 L590.7,708.4 L590.1,723.7 L585.5,737.1 L584.0,771.0" fill="none" stroke="#0a0aff" stroke-width="3.0" stroke-linejoin="round" stroke-linecap="butt" />
<path d="M827.0,60.5 L792.5,63.8 L786.8,70.1 L780.1,80.6 L776.3,95.9 L773.8,111.2 L775.3,115.0 L774.9,124.6 L769.6,130.4 L767.3,138.0 L766.7,164.8 L764.2,203.0 L760.0,214.5 L758.1,233.7 L754.3,279.6 L751.4,327.4 L750.4,375.2 L750.4,410.0 L746.6,448.3 L740.9,467.4 L738.0,492.3 L734.2,511.4 L730.4,516.2 L730.0,540.1 L726.5,558.3 L719.8,566.9 L713.1,574.5 L707.4,578.4 L704.5,586.0 L700.7,601.3 L697.8,620.4 L694.0,643.4 L693.0,677.8 L691.1,723.7 L687.7,731.4 L686.9,742.9 L684.8,771.0" fill="none" stroke="#14f014" stroke-width="3.0" stroke-linejoin="round" stroke-linecap="butt" />
<path d="M1187.7,60.9 L1177.1,63.4 L1173.3,73.0 L1168.5,85.4 L1171.4,96.9 L1176.2,107.4 L1179.1,122.7 L1186.3,128.4 L1183.8,145.7 L1182.3,191.6 L1183.5,195.4 L1181.9,222.2 L1181.0,241.3 L1177.1,252.8 L1173.3,279.6 L1170.4,294.9 L1160.9,312.1 L1158.6,327.4 L1159.9,346.5 L1159.9,375.2 L1157.1,402.0 L1153.6,413.0 L1148.4,421.5 L1146.5,467.4 L1144.0,522.9 L1138.9,532.4 L1130.3,542.0 L1128.4,563.0 L1124.9,587.9 L1117.8,614.7 L1113.0,620.4 L1101.6,651.1 L1097.4,660.6 L1096.2,687.4 L1089.1,695.1 L1087.2,723.7 L1084.4,750.5 L1083.8,771.0" fill="none" stroke="#ff0a0a" stroke-width="2.8" stroke-linejoin="round" stroke-linecap="butt" />
<path d="M363.0,888.0 C352.8,888.1 314.5,888.2 301.7,888.6 C288.9,889.0 290.5,889.2 286.4,890.5 C282.3,891.8 279.3,893.9 276.9,896.3 C274.5,898.7 273.4,901.2 272.1,904.9 C270.8,908.6 270.0,913.5 269.2,918.3 C268.4,923.1 267.8,922.5 267.3,933.6 C266.8,944.8 266.5,971.8 266.4,985.2 C266.2,998.6 267.0,1006.9 266.4,1013.9 C265.8,1020.9 264.6,1024.4 262.5,1027.3 C260.4,1030.2 257.9,1028.2 253.9,1031.1 C249.9,1034.0 243.4,1040.7 238.6,1044.5 C233.8,1048.3 231.2,1051.4 225.2,1054.1 C219.1,1056.8 207.2,1058.9 202.3,1060.8 C197.4,1062.7 198.0,1063.5 195.6,1065.6 C193.2,1067.7 190.1,1068.7 187.9,1073.2 C185.7,1077.7 184.6,1087.0 182.2,1092.4 C179.8,1097.8 176.0,1099.7 173.6,1105.7 C171.2,1111.8 169.9,1120.7 167.8,1128.7 C165.7,1136.7 162.7,1145.3 161.1,1153.6 C159.5,1161.9 159.2,1169.8 158.3,1178.4 C157.4,1187.0 156.5,1196.6 155.4,1205.2 C154.3,1213.8 152.7,1222.6 151.6,1230.1 C150.5,1237.6 149.7,1243.6 148.7,1250.0 C147.7,1256.4 146.6,1260.8 145.8,1268.7 C145.0,1276.6 144.1,1283.1 143.9,1297.4 C143.8,1311.8 144.5,1332.5 144.9,1354.8 C145.3,1377.1 146.2,1402.6 146.4,1431.3 C146.6,1460.0 146.1,1499.4 145.8,1527.0 C145.6,1554.6 145.1,1585.3 144.9,1597.0" fill="none" stroke="#2727f4" stroke-width="3.1" stroke-linejoin="round" filter="url(#blc)"/>
<path d="M825.0,892.4 C823.7,894.5 819.3,900.6 817.4,904.9 C815.5,909.2 814.5,912.9 813.6,918.3 C812.7,923.7 812.0,928.5 811.7,937.4 C811.4,946.3 812.2,963.0 811.7,971.8 C811.2,980.6 810.4,985.9 808.8,990.0 C807.2,994.1 805.1,995.0 802.1,996.7 C799.1,998.5 795.6,998.1 790.6,1000.5 C785.6,1002.9 775.4,1007.2 772.4,1011.0 C769.4,1014.8 776.1,1019.2 772.4,1023.5 C768.7,1027.8 754.2,1033.1 750.4,1036.9 C746.6,1040.7 752.7,1043.2 749.5,1046.4 C746.3,1049.6 736.2,1052.8 731.3,1056.0 C726.3,1059.2 722.3,1061.8 719.8,1065.6 C717.2,1069.4 717.9,1075.2 716.0,1079.0 C714.1,1082.8 710.0,1085.0 708.4,1088.5 C706.8,1092.0 706.8,1093.3 706.1,1100.0 C705.5,1106.7 705.1,1119.1 704.5,1128.7 C703.9,1138.3 703.4,1147.8 702.6,1157.4 C701.8,1167.0 701.0,1179.1 699.7,1186.1 C698.4,1193.1 696.1,1193.1 695.0,1199.5 C693.9,1205.9 694.0,1216.0 693.0,1224.4 C692.0,1232.8 690.2,1241.0 689.2,1250.0 C688.2,1259.0 687.4,1267.2 687.3,1278.3 C687.1,1289.4 687.7,1302.5 688.3,1316.5 C688.9,1330.5 690.5,1340.1 691.1,1362.4 C691.7,1384.7 692.4,1427.8 692.1,1450.4 C691.8,1473.1 689.8,1473.9 689.2,1498.3 C688.6,1522.7 688.4,1580.5 688.3,1597.0" fill="none" stroke="#1fe81f" stroke-width="3.1" stroke-linejoin="round" filter="url(#blc)"/>
<path d="M1247.9,888.0 C1246.6,888.3 1242.0,888.1 1240.3,889.6 C1238.5,891.1 1238.2,893.7 1237.4,897.2 C1236.6,900.7 1236.5,905.5 1235.5,910.6 C1234.5,915.7 1232.7,921.7 1231.7,927.8 C1230.8,933.9 1230.3,937.6 1229.8,947.0 C1229.3,956.4 1229.6,977.1 1228.8,984.3 C1228.0,991.5 1227.7,987.9 1225.0,990.0 C1222.3,992.1 1217.5,994.3 1212.5,996.7 C1207.5,999.1 1200.4,1002.6 1195.3,1004.4 C1190.2,1006.1 1184.9,1005.6 1181.9,1007.2 C1178.9,1008.8 1178.4,1011.7 1177.1,1013.9 C1175.8,1016.1 1177.3,1017.9 1174.3,1020.6 C1171.3,1023.3 1164.0,1027.2 1159.0,1030.2 C1154.0,1033.2 1148.1,1035.8 1144.6,1038.8 C1141.1,1041.8 1140.3,1044.2 1137.9,1048.4 C1135.5,1052.6 1132.5,1058.3 1130.3,1063.7 C1128.1,1069.1 1125.8,1074.9 1124.5,1080.9 C1123.2,1087.0 1123.5,1092.0 1122.6,1100.0 C1121.6,1108.0 1119.9,1120.1 1118.8,1128.7 C1117.7,1137.3 1116.7,1144.7 1115.9,1151.7 C1115.1,1158.7 1114.5,1164.4 1114.0,1170.8 C1113.5,1177.2 1113.2,1186.7 1113.1,1189.9" fill="none" stroke="#f52222" stroke-width="3.1" stroke-linejoin="round" filter="url(#blc)"/>
<path d="M357.2,1726.6 C349.6,1726.9 321.2,1727.9 311.3,1728.5 C301.4,1729.1 300.8,1729.3 297.9,1730.4 C295.0,1731.5 295.7,1731.5 294.1,1735.2 C292.5,1738.9 290.3,1746.7 288.4,1752.4 C286.5,1758.2 283.8,1764.9 282.6,1769.7 C281.4,1774.5 281.4,1775.7 281.1,1781.1 C280.9,1786.5 282.5,1796.8 281.1,1802.2 C279.8,1807.6 276.2,1809.2 273.0,1813.7 C269.8,1818.2 265.1,1824.5 261.6,1829.0 C258.1,1833.5 256.0,1836.9 252.0,1840.4 C248.0,1843.9 240.6,1846.2 237.7,1850.0 C234.8,1853.8 236.7,1859.6 234.8,1863.4 C232.9,1867.2 228.4,1869.2 226.2,1873.0 C224.0,1876.8 223.3,1882.3 221.4,1886.4 C219.5,1890.5 216.0,1892.7 214.7,1897.8 C213.4,1902.9 213.7,1910.6 213.7,1917.0 C213.7,1923.4 214.8,1932.0 214.7,1936.1 C214.5,1940.2 212.6,1939.2 212.8,1941.8 C213.0,1944.3 215.9,1949.0 215.7,1951.4 C215.5,1953.8 214.0,1954.6 211.8,1956.2 C209.6,1957.8 204.7,1958.0 202.3,1961.0 C199.9,1964.0 198.5,1967.7 197.5,1974.4 C196.5,1981.1 197.1,1993.4 196.5,2001.1 C195.9,2008.8 194.8,2015.2 193.7,2020.3 C192.6,2025.4 190.8,2024.8 189.8,2031.8 C188.8,2038.8 188.5,2053.9 187.9,2062.4 C187.3,2070.9 187.3,2074.0 186.5,2083.0 C185.7,2092.0 184.1,2099.9 183.1,2116.3 C182.1,2132.7 181.6,2162.2 180.3,2181.3 C179.0,2200.4 176.6,2212.2 175.5,2231.0 C174.4,2249.8 174.5,2274.4 173.6,2294.2 C172.7,2314.0 170.9,2334.7 170.1,2349.7 C169.3,2364.7 169.2,2369.7 168.8,2384.1 C168.4,2398.5 168.0,2427.5 167.8,2436.2" fill="none" stroke="#2727f4" stroke-width="3.1" stroke-linejoin="round" filter="url(#blc)"/>
<path d="M813.6,1726.6 C810.1,1726.7 796.8,1726.4 792.5,1727.2 C788.2,1728.0 788.9,1726.6 787.8,1731.4 C786.7,1736.2 786.4,1749.0 785.8,1756.3 C785.1,1763.6 784.4,1769.7 783.9,1775.4 C783.4,1781.1 784.1,1785.9 783.0,1790.7 C781.9,1795.5 779.1,1799.3 777.2,1804.1 C775.3,1808.9 773.4,1814.0 771.5,1819.4 C769.6,1824.8 769.0,1830.5 765.8,1836.6 C762.6,1842.6 758.1,1851.1 752.4,1855.7 C746.6,1860.3 735.6,1861.2 731.3,1864.4 C727.0,1867.6 730.6,1871.2 726.5,1874.9 C722.4,1878.6 710.5,1882.9 706.4,1886.4 C702.3,1889.9 703.0,1892.1 701.7,1895.9 C700.4,1899.7 700.4,1904.5 698.8,1909.3 C697.2,1914.1 692.7,1920.4 692.1,1924.6 C691.5,1928.8 694.7,1928.1 695.0,1934.2 C695.3,1940.3 694.6,1954.3 694.0,1961.0 C693.4,1967.7 693.0,1970.3 691.1,1974.4 C689.2,1978.5 684.6,1980.7 682.5,1985.8 C680.4,1990.9 680.1,1998.0 678.7,2005.0 C677.3,2012.0 675.2,2019.6 673.9,2027.9 C672.6,2036.2 671.9,2045.5 671.0,2054.7 C670.1,2063.9 669.5,2071.5 668.5,2083.0 C667.5,2094.5 666.3,2106.4 664.9,2123.9 C663.5,2141.4 661.2,2136.1 660.3,2188.2 C659.4,2240.2 659.5,2394.9 659.4,2436.2" fill="none" stroke="#f52222" stroke-width="3.1" stroke-linejoin="round" filter="url(#blc)"/>
<path d="M1176.2,1726.6 C1170.5,1726.8 1148.6,1726.8 1141.7,1727.6 C1134.8,1728.4 1136.3,1725.0 1135.1,1731.4 C1133.9,1737.8 1134.8,1755.9 1134.5,1765.8 C1134.2,1775.7 1134.1,1783.4 1133.1,1790.7 C1132.1,1798.0 1130.5,1803.1 1128.4,1809.8 C1126.3,1816.5 1124.5,1824.5 1120.7,1830.9 C1116.9,1837.3 1110.8,1842.7 1105.4,1848.1 C1100.0,1853.5 1093.6,1859.6 1088.2,1863.4 C1082.8,1867.2 1076.7,1867.2 1072.9,1871.0 C1069.1,1874.8 1069.0,1881.0 1065.2,1886.4 C1061.4,1891.8 1052.8,1897.9 1049.9,1903.6 C1047.0,1909.3 1049.0,1916.6 1048.0,1920.8 C1047.0,1925.0 1043.9,1925.3 1044.2,1928.5 C1044.5,1931.7 1050.1,1933.9 1049.9,1939.9 C1049.7,1946.0 1043.8,1959.0 1043.2,1964.8 C1042.6,1970.5 1046.1,1969.3 1046.1,1974.4 C1046.1,1979.5 1043.8,1987.1 1043.2,1995.4 C1042.6,2003.7 1041.8,2017.7 1042.3,2024.1 C1042.8,2030.5 1045.8,2027.3 1046.1,2033.7 C1046.4,2040.1 1044.6,2054.2 1044.2,2062.4 C1043.8,2070.6 1044.1,2071.2 1043.5,2083.0 C1042.9,2094.8 1042.2,2116.3 1040.5,2133.1 C1038.8,2149.9 1035.5,2167.5 1033.6,2183.6 C1031.7,2199.7 1030.5,2211.1 1029.0,2229.5 C1027.5,2247.9 1025.9,2270.1 1024.4,2293.8 C1022.9,2317.5 1020.9,2348.1 1019.8,2371.8 C1018.6,2395.5 1017.9,2425.5 1017.5,2436.2" fill="none" stroke="#1fe81f" stroke-width="3.1" stroke-linejoin="round" filter="url(#blc)"/>
<rect x="1216.4" y="567.3" width="7.2" height="37.8" fill="#000"/>
<rect x="1216.4" y="605.1" width="7.2" height="38.7" fill="#fff"/>
<rect x="1216.4" y="643.8" width="7.2" height="36.9" fill="#000"/>
<rect x="1216.4" y="680.7" width="7.2" height="37.3" fill="#fff"/>
<rect x="1216.4" y="718.0" width="7.2" height="39.5" fill="#000"/>
<rect x="1112.1" y="752.2" width="54.1" height="6" fill="#000"/>
<rect x="1166.2" y="752.2" width="50.4" height="6" fill="#fff"/>
<text transform="translate(1133.1,742.9)" font-size="27" text-anchor="start" fill="#000" textLength="61.3" lengthAdjust="spacingAndGlyphs" >1 km</text>
<text transform="translate(1190.8,624.3) rotate(90)" font-size="27" text-anchor="start" fill="#000" textLength="76.5" lengthAdjust="spacingAndGlyphs" >100 m</text>
<g filter="url(#bl08)">
<rect x="347.7" y="1393.0" width="6.7" height="37.9" fill="#000"/>
<rect x="347.7" y="1430.9" width="6.7" height="40.6" fill="#fff"/>
<rect x="347.7" y="1471.5" width="6.7" height="35.4" fill="#000"/>
<rect x="347.7" y="1506.9" width="6.7" height="38.2" fill="#fff"/>
<rect x="347.7" y="1545.1" width="6.7" height="40.5" fill="#000"/>
<rect x="243.4" y="1580.5" width="52.6" height="5.4" fill="#000"/>
<rect x="296" y="1580.5" width="52" height="5.4" fill="#fff"/>
</g>
<text transform="translate(273.0,1572.9)" font-size="16" text-anchor="start" fill="#000" textLength="48.0" lengthAdjust="spacingAndGlyphs" filter="url(#bltxt)">1 km</text>
<text transform="translate(364.5,1466.7) rotate(90) scale(1,1.3)" font-size="15.5" textLength="46" lengthAdjust="spacingAndGlyphs" fill="#111" filter="url(#bltxt)">100 m</text>
<g filter="url(#bl08)">
<rect x="347.7" y="2231.8" width="6.7" height="37.9" fill="#000"/>
<rect x="347.7" y="2269.7" width="6.7" height="40.6" fill="#fff"/>
<rect x="347.7" y="2310.3" width="6.7" height="35.4" fill="#000"/>
<rect x="347.7" y="2345.7" width="6.7" height="38.2" fill="#fff"/>
<rect x="347.7" y="2383.9" width="6.7" height="40.5" fill="#000"/>
<rect x="243.4" y="2419.3" width="52.6" height="5.4" fill="#000"/>
<rect x="296" y="2419.3" width="52" height="5.4" fill="#fff"/>
</g>
<text transform="translate(273.0,2411.7)" font-size="16" text-anchor="start" fill="#000" textLength="48.0" lengthAdjust="spacingAndGlyphs" filter="url(#bltxt)">1 km</text>
<text transform="translate(364.5,2305.5) rotate(90) scale(1,1.3)" font-size="15.5" textLength="46" lengthAdjust="spacingAndGlyphs" fill="#111" filter="url(#bltxt)">100 m</text>
<path d="M1402.6,131.6H1673.0 M1402.6,202.8H1673.0 M1402.6,273.9H1673.0 M1402.6,345.1H1673.0 M1402.6,416.2H1673.0 M1402.6,487.4H1673.0 M1402.6,558.5H1673.0 M1402.6,629.7H1673.0 M1402.6,700.8H1673.0 M1492.6,59.5V771.0 M1582.4,59.5V771.0" stroke="#484848" stroke-width="1.8" stroke-dasharray="1.8 2.9" fill="none"/>
<path d="M1656.7,60.9 L1592.6,63.0 L1583.0,67.2 L1574.4,71.0 L1569.7,80.6 L1562.0,87.3 L1555.3,91.1 L1554.4,107.4 L1559.7,116.0 L1554.4,130.4 L1552.1,145.7 L1547.7,164.8 L1543.8,191.6 L1539.0,203.0 L1534.3,212.6 L1532.4,233.7 L1526.6,252.8 L1524.7,279.6 L1521.8,317.9 L1520.9,348.5 L1519.0,375.2 L1517.0,394.4 L1516.1,410.0 L1514.2,433.0 L1512.3,455.9 L1503.1,469.3 L1498.9,486.5 L1493.1,513.3 L1492.8,532.4 L1485.5,547.7 L1480.7,559.2 L1472.1,565.0 L1461.6,578.4 L1452.0,590.8 L1447.2,607.1 L1437.7,620.4 L1435.7,643.4 L1429.0,658.7 L1424.3,687.4 L1420.4,708.4 L1419.5,725.7 L1412.8,735.2 L1409.9,758.2 L1408.6,771.0" fill="none" stroke="#0a0aff" stroke-width="2.0" stroke-linejoin="round" stroke-linecap="butt" />
<path d="M1643.3,60.9 L1592.6,63.0 L1581.1,67.2 L1569.7,78.7 L1558.2,94.0 L1555.3,109.3 L1558.2,120.8 L1555.3,126.5 L1547.7,130.4 L1544.8,138.0 L1543.3,164.8 L1540.0,180.1 L1539.0,201.1 L1532.9,212.6 L1529.5,233.7 L1526.6,260.4 L1522.8,279.6 L1519.9,308.3 L1518.0,337.0 L1516.1,375.2 L1515.1,410.0 L1510.0,434.9 L1508.4,448.3 L1501.7,459.7 L1496.0,478.9 L1492.2,499.9 L1483.6,514.3 L1482.6,534.4 L1477.8,551.6 L1470.2,561.1 L1458.7,570.7 L1445.3,578.4 L1438.6,586.0 L1431.9,601.3 L1429.0,618.5 L1425.2,626.2 L1421.4,645.3 L1418.5,677.8 L1415.7,719.9 L1410.9,733.3 L1407.0,748.6 L1405.1,771.0" fill="none" stroke="#14f014" stroke-width="2.6" stroke-linejoin="round" stroke-linecap="butt" />
<path d="M1590.3,60.9 L1572.5,63.8 L1567.7,69.1 L1559.1,77.7 L1557.2,86.3 L1561.1,94.0 L1568.7,102.6 L1574.4,121.7 L1586.9,128.1 L1583.0,145.7 L1579.2,161.0 L1578.8,191.6 L1583.6,194.4 L1580.2,218.4 L1578.3,243.2 L1571.6,250.9 L1570.0,262.4 L1565.8,270.0 L1565.8,283.4 L1561.1,296.8 L1552.4,304.4 L1543.8,315.0 L1541.9,327.4 L1543.8,344.6 L1543.8,382.9 L1539.0,400.1 L1533.3,411.6 L1523.7,421.5 L1525.3,429.1 L1521.8,448.3 L1518.0,486.5 L1516.7,520.0 L1512.3,528.6 L1502.7,535.3 L1494.1,542.0 L1491.6,557.3 L1485.5,566.9 L1484.0,587.9 L1477.8,597.5 L1473.0,610.9 L1464.4,622.4 L1453.0,643.4 L1447.2,649.1 L1439.6,658.7 L1436.7,685.5 L1430.0,692.8 L1424.3,695.1 L1422.3,723.7 L1417.6,746.7 L1415.7,771.0" fill="none" stroke="#ff0a0a" stroke-width="2.6" stroke-linejoin="round" stroke-linecap="butt" />
<rect x="1516.7" y="658.7" width="150.5" height="104.3" fill="#fff" stroke="#9a9a9a" stroke-width="0.9"/>
<path d="M1526.2,676.9H1566.8" stroke="#0a0aff" stroke-width="2.6"/>
<text transform="translate(1571.2,684.9) scale(0.91,1)" font-size="23" text-anchor="start" fill="#000" >XBT 1-14</text>
<path d="M1526.2,711.3H1566.8" stroke="#14f014" stroke-width="2.6"/>
<text transform="translate(1571.2,719.3) scale(0.91,1)" font-size="23" text-anchor="start" fill="#000" >XBT 1-15</text>
<path d="M1526.2,744.4H1566.8" stroke="#ff0a0a" stroke-width="2.6"/>
<text transform="translate(1571.2,752.4) scale(0.91,1)" font-size="23" text-anchor="start" fill="#000" >XBT 3-2</text>
<rect x="1402.6" y="59.5" width="270.4" height="711.5" fill="none" stroke="#777" stroke-width="2.2"/>
<g filter="url(#bl08)">
<path d="M1402.0,886.6H1672.5 M1402.0,957.5H1672.5 M1402.0,1028.4H1672.5 M1402.0,1099.4H1672.5 M1402.0,1170.3H1672.5 M1402.0,1241.2H1672.5 M1402.0,1312.1H1672.5 M1402.0,1383.0H1672.5 M1402.0,1454.0H1672.5 M1402.0,1524.9H1672.5 M1453.9,886.6V1596.8 M1509.2,886.6V1596.8 M1562.3,886.6V1596.8 M1616.9,886.6V1596.8 M1671.2,886.6V1596.8" stroke="#8e8e8e" stroke-width="2.2" stroke-dasharray="2.5 2.3" fill="none" opacity="0.85"/>
<path d="M1402.0,886.6V1596.8H1672.5" stroke="#a8a8a8" stroke-width="2.4" fill="none"/>
</g>
<path d="M1652.0,887.3 L1576.8,888.4 L1566.6,895.5 L1560.2,910.8 L1556.9,936.3 L1556.9,1012.9 L1552.6,1026.9 L1541.1,1032.0 L1528.3,1046.0 L1515.6,1054.9 L1490.1,1062.6 L1477.3,1072.8 L1472.2,1091.9 L1462.0,1107.2 L1455.6,1132.8 L1449.3,1153.2 L1447.2,1188.9 L1441.6,1214.4 L1436.5,1247.6 L1434.0,1270.0 L1432.9,1314.2 L1434.6,1357.6 L1437.2,1393.3 L1437.5,1474.9 L1434.2,1596.8" fill="none" stroke="#3a3aff" stroke-width="2.7" stroke-linejoin="round" stroke-linecap="butt" filter="url(#bl05)"/>
<path d="M1610.0,887.3 L1574.3,889.1 L1565.3,898.1 L1559.0,913.4 L1556.4,946.5 L1556.4,979.7 L1551.3,989.9 L1530.9,1002.7 L1520.2,1009.0 L1516.9,1023.1 L1502.8,1033.3 L1492.6,1048.6 L1479.9,1057.5 L1465.9,1063.9 L1459.5,1081.7 L1452.3,1094.5 L1450.5,1122.6 L1446.7,1150.6 L1445.4,1188.9 L1439.1,1201.6 L1434.5,1239.9 L1431.9,1270.0 L1430.9,1314.2 L1433.4,1357.6 L1436.0,1393.3 L1436.5,1474.9 L1432.7,1596.8" fill="none" stroke="#1cec1c" stroke-width="2.7" stroke-linejoin="round" stroke-linecap="butt" filter="url(#bl05)"/>
<path d="M1583.2,887.3 L1573.0,890.4 L1570.4,903.2 L1566.1,913.4 L1565.3,931.2 L1562.8,946.5 L1561.5,987.3 L1546.2,995.0 L1528.3,1003.9 L1515.6,1006.5 L1510.0,1012.9 L1507.9,1020.5 L1490.1,1030.7 L1476.0,1039.6 L1469.7,1051.1 L1463.3,1066.4 L1454.4,1086.8 L1453.9,1109.8 L1449.3,1130.2 L1448.0,1150.6 L1446.2,1171.0 L1446.2,1190.2" fill="none" stroke="#fb1c1c" stroke-width="2.7" stroke-linejoin="round" stroke-linecap="butt" filter="url(#bl05)"/>
<g filter="url(#bl08)">
<rect x="1430.9" y="1485.1" width="231.4" height="104.1" fill="#fff" stroke="#999" stroke-width="2.2"/>
<path d="M1443.5,1503.5h63" stroke="#4a4aff" stroke-width="2.6"/>
<path d="M1443.5,1537.4h63" stroke="#1fe81f" stroke-width="2.6"/>
<path d="M1443.5,1569.8h63" stroke="#f52222" stroke-width="2.6"/>
</g>
<text transform="translate(1514.3,1511.5)" font-size="22.5" text-anchor="start" fill="#141210" textLength="136.5" lengthAdjust="spacingAndGlyphs" filter="url(#bltxt)">XBT 1-34</text>
<text transform="translate(1514.3,1545.4)" font-size="22.5" text-anchor="start" fill="#141210" textLength="116.0" lengthAdjust="spacingAndGlyphs" filter="url(#bltxt)">XBT 2-1</text>
<text transform="translate(1514.3,1577.8)" font-size="22.5" text-anchor="start" fill="#141210" textLength="118.7" lengthAdjust="spacingAndGlyphs" filter="url(#bltxt)">XBT 3-6</text>
<g filter="url(#bl08)">
<path d="M1402.0,1725.8H1667.0 M1402.0,1796.8H1667.0 M1402.0,1867.8H1667.0 M1402.0,1938.8H1667.0 M1402.0,2009.8H1667.0 M1402.0,2080.8H1667.0 M1402.0,2151.8H1667.0 M1402.0,2222.8H1667.0 M1402.0,2293.8H1667.0 M1402.0,2364.8H1667.0 M1453.9,1725.8V2436.8 M1507.9,1725.8V2436.8 M1560.2,1725.8V2436.8 M1613.3,1725.8V2436.8 M1666.1,1725.8V2436.8" stroke="#8e8e8e" stroke-width="2.2" stroke-dasharray="2.5 2.3" fill="none" opacity="0.85"/>
<path d="M1402.0,1725.8V2436.8H1667.0" stroke="#a8a8a8" stroke-width="2.4" fill="none"/>
</g>
<path d="M1630.4,1726.6 L1587.0,1728.4 L1569.2,1730.4 L1565.3,1743.2 L1560.2,1761.0 L1556.9,1791.6 L1548.8,1812.0 L1537.3,1822.2 L1528.3,1837.6 L1510.5,1850.3 L1505.4,1865.6 L1497.7,1880.9 L1487.5,1893.7 L1485.0,1914.1 L1488.8,1931.9 L1486.3,1942.1 L1489.3,1949.8 L1479.9,1958.7 L1472.2,1963.8 L1468.4,1985.5 L1467.6,2011.0 L1464.6,2026.3 L1459.5,2046.7 L1457.4,2079.9 L1454.4,2121.0 L1454.4,2159.3 L1449.3,2202.7 L1445.4,2274.1 L1442.1,2325.1 L1440.3,2436.4" fill="none" stroke="#3232ff" stroke-width="2.7" stroke-linejoin="round" stroke-linecap="butt" filter="url(#bl05)"/>
<path d="M1562.8,1726.6 L1562.8,1750.8 L1560.2,1773.8 L1556.4,1799.3 L1546.2,1824.8 L1537.3,1845.2 L1528.3,1858.0 L1510.5,1863.1 L1500.3,1877.1 L1482.4,1884.7 L1477.3,1898.8 L1473.5,1919.2 L1468.4,1929.4 L1470.9,1939.6 L1469.7,1965.1 L1465.8,1977.9 L1458.2,1984.2 L1453.1,2008.5 L1448.0,2034.0 L1442.1,2067.1 L1439.1,2108.3 L1436.5,2146.5 L1434.0,2210.3 L1432.7,2274.1 L1432.7,2436.4" fill="none" stroke="#fb1c1c" stroke-width="2.7" stroke-linejoin="round" stroke-linecap="butt" filter="url(#bl05)"/>
<path d="M1596.0,1726.6 L1557.7,1727.9 L1554.4,1735.5 L1553.3,1786.5 L1550.0,1804.4 L1541.1,1824.8 L1530.9,1840.1 L1510.5,1858.0 L1490.1,1872.0 L1483.7,1886.0 L1469.7,1905.2 L1465.8,1929.4 L1469.2,1939.6 L1467.6,1954.9 L1462.0,1965.1 L1467.1,1975.3 L1462.0,1998.3 L1464.6,2028.9 L1464.1,2067.1 L1462.0,2121.0 L1456.9,2166.9 L1449.3,2207.8 L1446.7,2274.1 L1443.7,2325.1 L1437.8,2436.4" fill="none" stroke="#1cec1c" stroke-width="2.7" stroke-linejoin="round" stroke-linecap="butt" filter="url(#bl05)"/>
<g filter="url(#bl08)">
<rect x="1425.8" y="2324.6" width="231.4" height="103.8" fill="#fff" stroke="#999" stroke-width="2.2"/>
<path d="M1438.4,2343.0h63" stroke="#4a4aff" stroke-width="2.6"/>
<path d="M1438.4,2376.1h63" stroke="#f52222" stroke-width="2.6"/>
<path d="M1438.4,2409.3h63" stroke="#1fe81f" stroke-width="2.6"/>
</g>
<text transform="translate(1509.2,2351.0)" font-size="22.5" text-anchor="start" fill="#141210" textLength="135.2" lengthAdjust="spacingAndGlyphs" filter="url(#bltxt)">XBT 1-27</text>
<text transform="translate(1509.2,2384.1)" font-size="22.5" text-anchor="start" fill="#141210" textLength="118.1" lengthAdjust="spacingAndGlyphs" filter="url(#bltxt)">XBT 3-4</text>
<text transform="translate(1509.2,2417.3)" font-size="22.5" text-anchor="start" fill="#141210" textLength="135.2" lengthAdjust="spacingAndGlyphs" filter="url(#bltxt)">XBT 5-18</text>
<text transform="translate(229.4,743.6)" font-size="27.8" text-anchor="start" fill="#000" textLength="136.2" lengthAdjust="spacingAndGlyphs" >Amplitude</text>
<rect x="225" y="756.8" width="146.3" height="30.2" fill="url(#amp)" stroke="#4a4a4a" stroke-width="1.1"/>
<path d="M298.2,756.8V787" stroke="#3a3a3a" stroke-width="1.1"/>
<text transform="translate(211.2,810.6)" font-size="27" text-anchor="start" fill="#000" textLength="38.1" lengthAdjust="spacingAndGlyphs" >-ve</text>
<text transform="translate(348.4,810.6)" font-size="27" text-anchor="start" fill="#000" textLength="44.9" lengthAdjust="spacingAndGlyphs" >+ve</text>
<text transform="translate(403.0,27.4)" font-size="33.5" text-anchor="start" fill="#000" >A</text>
<text transform="translate(1.0,858.6)" font-size="33.5" text-anchor="start" fill="#000" >B</text>
<text transform="translate(1.0,1699.2)" font-size="33.5" text-anchor="start" fill="#000" >C</text>
<text transform="translate(463.7,70.0)" font-size="33" text-anchor="start" fill="#000" >i</text>
<text transform="translate(878.5,70.0)" font-size="33" text-anchor="start" fill="#000" >ii</text>
<text transform="translate(1310.1,70.0)" font-size="33" text-anchor="start" fill="#000" >iii</text>
<text transform="translate(55.7,900.6)" font-size="33" text-anchor="start" fill="#000" >i</text>
<text transform="translate(465.8,900.6)" font-size="33" text-anchor="start" fill="#000" >ii</text>
<text transform="translate(878.5,900.6)" font-size="33" text-anchor="start" fill="#000" >iii</text>
<text transform="translate(1309.5,900.6)" font-size="33" text-anchor="start" fill="#000" >iv</text>
<text transform="translate(55.7,1743.0)" font-size="33" text-anchor="start" fill="#000" >i</text>
<text transform="translate(465.8,1743.0)" font-size="33" text-anchor="start" fill="#000" >ii</text>
<text transform="translate(878.5,1743.0)" font-size="33" text-anchor="start" fill="#000" >iii</text>
<text transform="translate(1309.5,1743.0)" font-size="33" text-anchor="start" fill="#000" >iv</text>
<text transform="translate(552.1,64.0) scale(0.77,1)" font-size="26.2" text-anchor="end" fill="#000" >0</text>
<text transform="translate(552.1,135.2) scale(0.77,1)" font-size="26.2" text-anchor="end" fill="#000" >0.05</text>
<text transform="translate(552.1,206.3) scale(0.77,1)" font-size="26.2" text-anchor="end" fill="#000" >0.1</text>
<text transform="translate(552.1,277.5) scale(0.77,1)" font-size="26.2" text-anchor="end" fill="#000" >0.15</text>
<text transform="translate(552.1,348.6) scale(0.77,1)" font-size="26.2" text-anchor="end" fill="#000" >0.2</text>
<text transform="translate(552.1,419.8) scale(0.77,1)" font-size="26.2" text-anchor="end" fill="#000" >0.25</text>
<text transform="translate(552.1,490.9) scale(0.77,1)" font-size="26.2" text-anchor="end" fill="#000" >0.3</text>
<text transform="translate(552.1,562.1) scale(0.77,1)" font-size="26.2" text-anchor="end" fill="#000" >0.35</text>
<text transform="translate(552.1,633.2) scale(0.77,1)" font-size="26.2" text-anchor="end" fill="#000" >0.4</text>
<text transform="translate(552.1,704.4) scale(0.77,1)" font-size="26.2" text-anchor="end" fill="#000" >0.45</text>
<text transform="translate(552.1,775.5) scale(0.77,1)" font-size="26.2" text-anchor="end" fill="#000" >0.5</text>
<text transform="translate(973.1,64.0) scale(0.77,1)" font-size="26.2" text-anchor="end" fill="#000" >0</text>
<text transform="translate(973.1,135.2) scale(0.77,1)" font-size="26.2" text-anchor="end" fill="#000" >0.05</text>
<text transform="translate(973.1,206.3) scale(0.77,1)" font-size="26.2" text-anchor="end" fill="#000" >0.1</text>
<text transform="translate(973.1,277.5) scale(0.77,1)" font-size="26.2" text-anchor="end" fill="#000" >0.15</text>
<text transform="translate(973.1,348.6) scale(0.77,1)" font-size="26.2" text-anchor="end" fill="#000" >0.2</text>
<text transform="translate(973.1,419.8) scale(0.77,1)" font-size="26.2" text-anchor="end" fill="#000" >0.25</text>
<text transform="translate(973.1,490.9) scale(0.77,1)" font-size="26.2" text-anchor="end" fill="#000" >0.3</text>
<text transform="translate(973.1,562.1) scale(0.77,1)" font-size="26.2" text-anchor="end" fill="#000" >0.35</text>
<text transform="translate(973.1,633.2) scale(0.77,1)" font-size="26.2" text-anchor="end" fill="#000" >0.4</text>
<text transform="translate(973.1,704.4) scale(0.77,1)" font-size="26.2" text-anchor="end" fill="#000" >0.45</text>
<text transform="translate(973.1,775.5) scale(0.77,1)" font-size="26.2" text-anchor="end" fill="#000" >0.5</text>
<text transform="translate(1398.6,64.0) scale(0.77,1)" font-size="26.2" text-anchor="end" fill="#000" >0</text>
<text transform="translate(1398.6,135.2) scale(0.77,1)" font-size="26.2" text-anchor="end" fill="#000" >0.05</text>
<text transform="translate(1398.6,206.3) scale(0.77,1)" font-size="26.2" text-anchor="end" fill="#000" >0.1</text>
<text transform="translate(1398.6,277.5) scale(0.77,1)" font-size="26.2" text-anchor="end" fill="#000" >0.15</text>
<text transform="translate(1398.6,348.6) scale(0.77,1)" font-size="26.2" text-anchor="end" fill="#000" >0.2</text>
<text transform="translate(1398.6,419.8) scale(0.77,1)" font-size="26.2" text-anchor="end" fill="#000" >0.25</text>
<text transform="translate(1398.6,490.9) scale(0.77,1)" font-size="26.2" text-anchor="end" fill="#000" >0.3</text>
<text transform="translate(1398.6,562.1) scale(0.77,1)" font-size="26.2" text-anchor="end" fill="#000" >0.35</text>
<text transform="translate(1398.6,633.2) scale(0.77,1)" font-size="26.2" text-anchor="end" fill="#000" >0.4</text>
<text transform="translate(1398.6,704.4) scale(0.77,1)" font-size="26.2" text-anchor="end" fill="#000" >0.45</text>
<text transform="translate(1398.6,775.5) scale(0.77,1)" font-size="26.2" text-anchor="end" fill="#000" >0.5</text>
<text transform="translate(125.0,896.6) scale(0.81,1)" font-size="26" text-anchor="end" fill="#000" >0</text>
<text transform="translate(125.0,967.7) scale(0.81,1)" font-size="26" text-anchor="end" fill="#000" >0.05</text>
<text transform="translate(125.0,1038.8) scale(0.81,1)" font-size="26" text-anchor="end" fill="#000" >0.1</text>
<text transform="translate(125.0,1109.8) scale(0.81,1)" font-size="26" text-anchor="end" fill="#000" >0.15</text>
<text transform="translate(125.0,1180.9) scale(0.81,1)" font-size="26" text-anchor="end" fill="#000" >0.2</text>
<text transform="translate(125.0,1252.0) scale(0.81,1)" font-size="26" text-anchor="end" fill="#000" >0.25</text>
<text transform="translate(125.0,1323.1) scale(0.81,1)" font-size="26" text-anchor="end" fill="#000" >0.3</text>
<text transform="translate(125.0,1394.2) scale(0.81,1)" font-size="26" text-anchor="end" fill="#000" >0.35</text>
<text transform="translate(125.0,1465.2) scale(0.81,1)" font-size="26" text-anchor="end" fill="#000" >0.4</text>
<text transform="translate(125.0,1536.3) scale(0.81,1)" font-size="26" text-anchor="end" fill="#000" >0.45</text>
<text transform="translate(125.0,1607.4) scale(0.81,1)" font-size="26" text-anchor="end" fill="#000" >0.5</text>
<text transform="translate(544.5,896.6) scale(0.81,1)" font-size="26" text-anchor="end" fill="#000" >0</text>
<text transform="translate(544.5,967.7) scale(0.81,1)" font-size="26" text-anchor="end" fill="#000" >0.05</text>
<text transform="translate(544.5,1038.8) scale(0.81,1)" font-size="26" text-anchor="end" fill="#000" >0.1</text>
<text transform="translate(544.5,1109.8) scale(0.81,1)" font-size="26" text-anchor="end" fill="#000" >0.15</text>
<text transform="translate(544.5,1180.9) scale(0.81,1)" font-size="26" text-anchor="end" fill="#000" >0.2</text>
<text transform="translate(544.5,1252.0) scale(0.81,1)" font-size="26" text-anchor="end" fill="#000" >0.25</text>
<text transform="translate(544.5,1323.1) scale(0.81,1)" font-size="26" text-anchor="end" fill="#000" >0.3</text>
<text transform="translate(544.5,1394.2) scale(0.81,1)" font-size="26" text-anchor="end" fill="#000" >0.35</text>
<text transform="translate(544.5,1465.2) scale(0.81,1)" font-size="26" text-anchor="end" fill="#000" >0.4</text>
<text transform="translate(544.5,1536.3) scale(0.81,1)" font-size="26" text-anchor="end" fill="#000" >0.45</text>
<text transform="translate(544.5,1607.4) scale(0.81,1)" font-size="26" text-anchor="end" fill="#000" >0.5</text>
<text transform="translate(966.5,896.6) scale(0.81,1)" font-size="26" text-anchor="end" fill="#000" >0</text>
<text transform="translate(966.5,967.7) scale(0.81,1)" font-size="26" text-anchor="end" fill="#000" >0.05</text>
<text transform="translate(966.5,1038.8) scale(0.81,1)" font-size="26" text-anchor="end" fill="#000" >0.1</text>
<text transform="translate(966.5,1109.8) scale(0.81,1)" font-size="26" text-anchor="end" fill="#000" >0.15</text>
<text transform="translate(966.5,1180.9) scale(0.81,1)" font-size="26" text-anchor="end" fill="#000" >0.2</text>
<text transform="translate(966.5,1252.0) scale(0.81,1)" font-size="26" text-anchor="end" fill="#000" >0.25</text>
<text transform="translate(966.5,1323.1) scale(0.81,1)" font-size="26" text-anchor="end" fill="#000" >0.3</text>
<text transform="translate(966.5,1394.2) scale(0.81,1)" font-size="26" text-anchor="end" fill="#000" >0.35</text>
<text transform="translate(966.5,1465.2) scale(0.81,1)" font-size="26" text-anchor="end" fill="#000" >0.4</text>
<text transform="translate(966.5,1536.3) scale(0.81,1)" font-size="26" text-anchor="end" fill="#000" >0.45</text>
<text transform="translate(966.5,1607.4) scale(0.81,1)" font-size="26" text-anchor="end" fill="#000" >0.5</text>
<text transform="translate(1391.0,896.6) scale(0.81,1)" font-size="26" text-anchor="end" fill="#000" >0</text>
<text transform="translate(1391.0,967.7) scale(0.81,1)" font-size="26" text-anchor="end" fill="#000" >0.05</text>
<text transform="translate(1391.0,1038.8) scale(0.81,1)" font-size="26" text-anchor="end" fill="#000" >0.1</text>
<text transform="translate(1391.0,1109.8) scale(0.81,1)" font-size="26" text-anchor="end" fill="#000" >0.15</text>
<text transform="translate(1391.0,1180.9) scale(0.81,1)" font-size="26" text-anchor="end" fill="#000" >0.2</text>
<text transform="translate(1391.0,1252.0) scale(0.81,1)" font-size="26" text-anchor="end" fill="#000" >0.25</text>
<text transform="translate(1391.0,1323.1) scale(0.81,1)" font-size="26" text-anchor="end" fill="#000" >0.3</text>
<text transform="translate(1391.0,1394.2) scale(0.81,1)" font-size="26" text-anchor="end" fill="#000" >0.35</text>
<text transform="translate(1391.0,1465.2) scale(0.81,1)" font-size="26" text-anchor="end" fill="#000" >0.4</text>
<text transform="translate(1391.0,1536.3) scale(0.81,1)" font-size="26" text-anchor="end" fill="#000" >0.45</text>
<text transform="translate(1391.0,1607.4) scale(0.81,1)" font-size="26" text-anchor="end" fill="#000" >0.5</text>
<text transform="translate(125.0,1737.0) scale(0.81,1)" font-size="26" text-anchor="end" fill="#000" >0</text>
<text transform="translate(125.0,1808.1) scale(0.81,1)" font-size="26" text-anchor="end" fill="#000" >0.05</text>
<text transform="translate(125.0,1879.2) scale(0.81,1)" font-size="26" text-anchor="end" fill="#000" >0.1</text>
<text transform="translate(125.0,1950.3) scale(0.81,1)" font-size="26" text-anchor="end" fill="#000" >0.15</text>
<text transform="translate(125.0,2021.4) scale(0.81,1)" font-size="26" text-anchor="end" fill="#000" >0.2</text>
<text transform="translate(125.0,2092.5) scale(0.81,1)" font-size="26" text-anchor="end" fill="#000" >0.25</text>
<text transform="translate(125.0,2163.6) scale(0.81,1)" font-size="26" text-anchor="end" fill="#000" >0.3</text>
<text transform="translate(125.0,2234.7) scale(0.81,1)" font-size="26" text-anchor="end" fill="#000" >0.35</text>
<text transform="translate(125.0,2305.8) scale(0.81,1)" font-size="26" text-anchor="end" fill="#000" >0.4</text>
<text transform="translate(125.0,2376.9) scale(0.81,1)" font-size="26" text-anchor="end" fill="#000" >0.45</text>
<text transform="translate(125.0,2448.0) scale(0.81,1)" font-size="26" text-anchor="end" fill="#000" >0.5</text>
<text transform="translate(544.5,1737.0) scale(0.81,1)" font-size="26" text-anchor="end" fill="#000" >0</text>
<text transform="translate(544.5,1808.1) scale(0.81,1)" font-size="26" text-anchor="end" fill="#000" >0.05</text>
<text transform="translate(544.5,1879.2) scale(0.81,1)" font-size="26" text-anchor="end" fill="#000" >0.1</text>
<text transform="translate(544.5,1950.3) scale(0.81,1)" font-size="26" text-anchor="end" fill="#000" >0.15</text>
<text transform="translate(544.5,2021.4) scale(0.81,1)" font-size="26" text-anchor="end" fill="#000" >0.2</text>
<text transform="translate(544.5,2092.5) scale(0.81,1)" font-size="26" text-anchor="end" fill="#000" >0.25</text>
<text transform="translate(544.5,2163.6) scale(0.81,1)" font-size="26" text-anchor="end" fill="#000" >0.3</text>
<text transform="translate(544.5,2234.7) scale(0.81,1)" font-size="26" text-anchor="end" fill="#000" >0.35</text>
<text transform="translate(544.5,2305.8) scale(0.81,1)" font-size="26" text-anchor="end" fill="#000" >0.4</text>
<text transform="translate(544.5,2376.9) scale(0.81,1)" font-size="26" text-anchor="end" fill="#000" >0.45</text>
<text transform="translate(544.5,2448.0) scale(0.81,1)" font-size="26" text-anchor="end" fill="#000" >0.5</text>
<text transform="translate(966.5,1737.0) scale(0.81,1)" font-size="26" text-anchor="end" fill="#000" >0</text>
<text transform="translate(966.5,1808.1) scale(0.81,1)" font-size="26" text-anchor="end" fill="#000" >0.05</text>
<text transform="translate(966.5,1879.2) scale(0.81,1)" font-size="26" text-anchor="end" fill="#000" >0.1</text>
<text transform="translate(966.5,1950.3) scale(0.81,1)" font-size="26" text-anchor="end" fill="#000" >0.15</text>
<text transform="translate(966.5,2021.4) scale(0.81,1)" font-size="26" text-anchor="end" fill="#000" >0.2</text>
<text transform="translate(966.5,2092.5) scale(0.81,1)" font-size="26" text-anchor="end" fill="#000" >0.25</text>
<text transform="translate(966.5,2163.6) scale(0.81,1)" font-size="26" text-anchor="end" fill="#000" >0.3</text>
<text transform="translate(966.5,2234.7) scale(0.81,1)" font-size="26" text-anchor="end" fill="#000" >0.35</text>
<text transform="translate(966.5,2305.8) scale(0.81,1)" font-size="26" text-anchor="end" fill="#000" >0.4</text>
<text transform="translate(966.5,2376.9) scale(0.81,1)" font-size="26" text-anchor="end" fill="#000" >0.45</text>
<text transform="translate(966.5,2448.0) scale(0.81,1)" font-size="26" text-anchor="end" fill="#000" >0.5</text>
<text transform="translate(1391.0,1737.0) scale(0.81,1)" font-size="26" text-anchor="end" fill="#000" >0</text>
<text transform="translate(1391.0,1808.1) scale(0.81,1)" font-size="26" text-anchor="end" fill="#000" >0.05</text>
<text transform="translate(1391.0,1879.2) scale(0.81,1)" font-size="26" text-anchor="end" fill="#000" >0.1</text>
<text transform="translate(1391.0,1950.3) scale(0.81,1)" font-size="26" text-anchor="end" fill="#000" >0.15</text>
<text transform="translate(1391.0,2021.4) scale(0.81,1)" font-size="26" text-anchor="end" fill="#000" >0.2</text>
<text transform="translate(1391.0,2092.5) scale(0.81,1)" font-size="26" text-anchor="end" fill="#000" >0.25</text>
<text transform="translate(1391.0,2163.6) scale(0.81,1)" font-size="26" text-anchor="end" fill="#000" >0.3</text>
<text transform="translate(1391.0,2234.7) scale(0.81,1)" font-size="26" text-anchor="end" fill="#000" >0.35</text>
<text transform="translate(1391.0,2305.8) scale(0.81,1)" font-size="26" text-anchor="end" fill="#000" >0.4</text>
<text transform="translate(1391.0,2376.9) scale(0.81,1)" font-size="26" text-anchor="end" fill="#000" >0.45</text>
<text transform="translate(1391.0,2448.0) scale(0.81,1)" font-size="26" text-anchor="end" fill="#000" >0.5</text>
<text transform="translate(477.8,494.0) rotate(-90)" font-size="33.5" text-anchor="start" fill="#000" textLength="97.0" lengthAdjust="spacingAndGlyphs" >Time (s)</text>
<text transform="translate(67.5,1286.8) rotate(-90)" font-size="33.5" text-anchor="start" fill="#000" textLength="98.0" lengthAdjust="spacingAndGlyphs" >Time (s)</text>
<text transform="translate(67.5,2125.8) rotate(-90)" font-size="33.5" text-anchor="start" fill="#000" textLength="98.0" lengthAdjust="spacingAndGlyphs" >Time (s)</text>
<text transform="translate(557.0,794.4) scale(0.78,1)" font-size="26.5" text-anchor="middle" fill="#000" >1550</text>
<text transform="translate(978.0,794.4) scale(0.78,1)" font-size="26.5" text-anchor="middle" fill="#000" >1550</text>
<text transform="translate(623.8,794.4) scale(0.78,1)" font-size="26.5" text-anchor="middle" fill="#000" >1600</text>
<text transform="translate(1045.0,794.4) scale(0.78,1)" font-size="26.5" text-anchor="middle" fill="#000" >1600</text>
<text transform="translate(690.6,794.4) scale(0.78,1)" font-size="26.5" text-anchor="middle" fill="#000" >1650</text>
<text transform="translate(1112.0,794.4) scale(0.78,1)" font-size="26.5" text-anchor="middle" fill="#000" >1650</text>
<text transform="translate(757.4,794.4) scale(0.78,1)" font-size="26.5" text-anchor="middle" fill="#000" >1700</text>
<text transform="translate(1179.0,794.4) scale(0.78,1)" font-size="26.5" text-anchor="middle" fill="#000" >1700</text>
<text transform="translate(824.2,794.4) scale(0.78,1)" font-size="26.5" text-anchor="middle" fill="#000" >1750</text>
<text transform="translate(1246.0,794.4) scale(0.78,1)" font-size="26.5" text-anchor="middle" fill="#000" >1750</text>
<text transform="translate(1401.5,794.4) scale(0.78,1)" font-size="26.5" text-anchor="middle" fill="#000" >8</text>
<text transform="translate(1491.9,794.4) scale(0.78,1)" font-size="26.5" text-anchor="middle" fill="#000" >10</text>
<text transform="translate(1582.3,794.4) scale(0.78,1)" font-size="26.5" text-anchor="middle" fill="#000" >12</text>
<text transform="translate(1674.0,794.4) scale(0.78,1)" font-size="26.5" text-anchor="middle" fill="#000" >14</text>
<text transform="translate(585.6,821.1)" font-size="26" text-anchor="start" fill="#000" textLength="214.4" lengthAdjust="spacingAndGlyphs" >CDP (Line KAH1201-1)</text>
<text transform="translate(1011.4,821.1)" font-size="26" text-anchor="start" fill="#000" textLength="215.5" lengthAdjust="spacingAndGlyphs" >CDP (Line KAH1201-3)</text>
<text transform="translate(1456.2,821.1)" font-size="26" text-anchor="start" fill="#000" textLength="181.3" lengthAdjust="spacingAndGlyphs" >Temperature (°C)</text>
<text transform="translate(186.4,1627.2) scale(0.81,1)" font-size="26" text-anchor="middle" fill="#000" >3950</text>
<text transform="translate(319.6,1627.2) scale(0.81,1)" font-size="26" text-anchor="middle" fill="#000" >4050</text>
<text transform="translate(607.0,1627.2) scale(0.81,1)" font-size="26" text-anchor="middle" fill="#000" >3950</text>
<text transform="translate(742.3,1627.2) scale(0.81,1)" font-size="26" text-anchor="middle" fill="#000" >4050</text>
<text transform="translate(1032.0,1627.2) scale(0.81,1)" font-size="26" text-anchor="middle" fill="#000" >3950</text>
<text transform="translate(1176.0,1627.2) scale(0.81,1)" font-size="26" text-anchor="middle" fill="#000" >4050</text>
<text transform="translate(200.0,2463.6) scale(0.81,1)" font-size="26" text-anchor="middle" fill="#000" >2900</text>
<text transform="translate(398.0,2463.6) scale(0.81,1)" font-size="26" text-anchor="middle" fill="#000" >3050</text>
<text transform="translate(621.4,2463.6) scale(0.81,1)" font-size="26" text-anchor="middle" fill="#000" >2900</text>
<text transform="translate(820.0,2463.6) scale(0.81,1)" font-size="26" text-anchor="middle" fill="#000" >3050</text>
<text transform="translate(1043.4,2463.6) scale(0.81,1)" font-size="26" text-anchor="middle" fill="#000" >4500</text>
<text transform="translate(1242.3,2463.6) scale(0.81,1)" font-size="26" text-anchor="middle" fill="#000" >4650</text>
<text transform="translate(1402.0,1624.0) scale(0.81,1)" font-size="26" text-anchor="middle" fill="#000" >6</text>
<text transform="translate(1453.9,1624.0) scale(0.81,1)" font-size="26" text-anchor="middle" fill="#000" >8</text>
<text transform="translate(1509.2,1624.0) scale(0.81,1)" font-size="26" text-anchor="middle" fill="#000" >10</text>
<text transform="translate(1562.3,1624.0) scale(0.81,1)" font-size="26" text-anchor="middle" fill="#000" >12</text>
<text transform="translate(1616.9,1624.0) scale(0.81,1)" font-size="26" text-anchor="middle" fill="#000" >14</text>
<text transform="translate(1671.2,1624.0) scale(0.81,1)" font-size="26" text-anchor="middle" fill="#000" >16</text>
<text transform="translate(1402.0,2460.6) scale(0.81,1)" font-size="26" text-anchor="middle" fill="#000" >6</text>
<text transform="translate(1453.9,2460.6) scale(0.81,1)" font-size="26" text-anchor="middle" fill="#000" >8</text>
<text transform="translate(1509.2,2460.6) scale(0.81,1)" font-size="26" text-anchor="middle" fill="#000" >10</text>
<text transform="translate(1562.3,2460.6) scale(0.81,1)" font-size="26" text-anchor="middle" fill="#000" >12</text>
<text transform="translate(1616.9,2460.6) scale(0.81,1)" font-size="26" text-anchor="middle" fill="#000" >14</text>
<text transform="translate(1671.2,2460.6) scale(0.81,1)" font-size="26" text-anchor="middle" fill="#000" >16</text>
<text transform="translate(140.7,1654.3) scale(0.86,1)" font-size="29" text-anchor="start" fill="#000" textLength="307.8" lengthAdjust="spacing" >CDP (Line KAH1201-1)</text>
<text transform="translate(562.2,1654.3) scale(0.86,1)" font-size="29" text-anchor="start" fill="#000" textLength="307.3" lengthAdjust="spacing" >CDP (Line KAH1201-2)</text>
<text transform="translate(984.7,1654.3) scale(0.86,1)" font-size="29" text-anchor="start" fill="#000" textLength="309.7" lengthAdjust="spacing" >CDP (Line KAH1201-3)</text>
<text transform="translate(1457.4,1650.0)" font-size="23.5" text-anchor="start" fill="#000" textLength="181.9" lengthAdjust="spacingAndGlyphs" >Temperature (°C)</text>
<text transform="translate(140.7,2490.9) scale(0.86,1)" font-size="29" text-anchor="start" fill="#000" textLength="307.8" lengthAdjust="spacing" >CDP (Line KAH1201-1)</text>
<text transform="translate(562.2,2490.9) scale(0.86,1)" font-size="29" text-anchor="start" fill="#000" textLength="307.3" lengthAdjust="spacing" >CDP (Line KAH1201-3)</text>
<text transform="translate(984.7,2490.9) scale(0.86,1)" font-size="29" text-anchor="start" fill="#000" textLength="309.7" lengthAdjust="spacing" >CDP (Line KAH1201-5)</text>
<text transform="translate(1457.4,2489.8)" font-size="23.5" text-anchor="start" fill="#000" textLength="181.9" lengthAdjust="spacingAndGlyphs" >Temperature (°C)</text>
</svg></body></html>
